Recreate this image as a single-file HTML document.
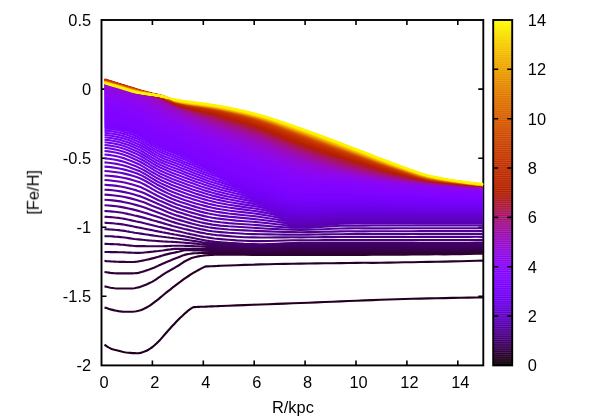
<!DOCTYPE html>
<html><head><meta charset="utf-8"><title>plot</title>
<style>
html,body{margin:0;padding:0;background:#fff;}
svg{display:block;}
text{font-family:"Liberation Sans",sans-serif;font-size:16.4px;fill:#000;}
</style></head><body>
<svg width="598" height="419" viewBox="0 0 598 419">
<rect x="0" y="0" width="598" height="419" fill="#fff"/>

<g stroke="#000" stroke-width="1.9" fill="none" stroke-linecap="butt">
<rect x="101.5" y="20.0" width="381.8" height="345.4"/>
<path stroke-width="1.6" d="M152.4 365.4v-5M152.4 20.0v5"/>
<path stroke-width="1.6" d="M203.3 365.4v-5M203.3 20.0v5"/>
<path stroke-width="1.6" d="M254.2 365.4v-5M254.2 20.0v5"/>
<path stroke-width="1.6" d="M305.1 365.4v-5M305.1 20.0v5"/>
<path stroke-width="1.6" d="M356.0 365.4v-5M356.0 20.0v5"/>
<path stroke-width="1.6" d="M406.9 365.4v-5M406.9 20.0v5"/>
<path stroke-width="1.6" d="M457.8 365.4v-5M457.8 20.0v5"/>
<path stroke-width="1.6" d="M101.5 89.1h5M483.3 89.1h-5"/>
<path stroke-width="1.6" d="M101.5 158.2h5M483.3 158.2h-5"/>
<path stroke-width="1.6" d="M101.5 227.2h5M483.3 227.2h-5"/>
<path stroke-width="1.6" d="M101.5 296.3h5M483.3 296.3h-5"/>
</g>
<defs><clipPath id="cp"><polygon points="103,78.89 104.5,78.89 106.5,79.51 108.5,80.13 110.5,80.75 112.5,81.37 114.5,81.99 116.5,82.61 118.5,83.22 120.5,83.85 122.5,84.47 124.5,85.09 126.5,85.71 128.5,86.33 130.5,86.95 132.5,87.57 134.5,88.18 136.5,88.79 138.5,89.40 140.5,89.99 142.5,90.56 144.5,91.13 146.5,91.69 148.5,92.20 150.5,92.71 152.5,93.19 154.5,93.57 156.5,93.92 158.5,94.32 160.5,94.77 162.5,95.35 164.5,96.04 166.5,96.80 168.5,97.57 170.5,98.26 172.5,98.62 174.5,98.97 176.5,99.31 178.5,99.63 180.5,99.94 182.5,100.24 184.5,100.53 186.5,100.81 188.5,101.09 190.5,101.36 192.5,101.62 194.5,101.88 196.5,102.14 198.5,102.40 200.5,102.66 202.5,102.93 204.5,103.20 206.5,103.48 208.5,103.76 210.5,104.05 212.5,104.35 214.5,104.67 216.5,104.99 218.5,105.34 220.5,105.69 222.5,106.05 224.5,106.43 226.5,106.81 228.5,107.21 230.5,107.61 232.5,108.02 234.5,108.44 236.5,108.87 238.5,109.31 240.5,109.76 242.5,110.22 244.5,110.69 246.5,111.16 248.5,111.65 250.5,112.14 252.5,112.64 254.5,113.14 256.5,113.66 258.5,114.18 260.5,114.72 262.5,115.28 264.5,115.86 266.5,116.45 268.5,117.06 270.5,117.68 272.5,118.32 274.5,118.97 276.5,119.62 278.5,120.29 280.5,120.97 282.5,121.65 284.5,122.34 286.5,123.03 288.5,123.73 290.5,124.43 292.5,125.13 294.5,125.83 296.5,126.53 298.5,127.23 300.5,127.92 302.5,128.62 304.5,129.32 306.5,130.03 308.5,130.75 310.5,131.47 312.5,132.19 314.5,132.92 316.5,133.66 318.5,134.39 320.5,135.14 322.5,135.88 324.5,136.63 326.5,137.38 328.5,138.13 330.5,138.88 332.5,139.64 334.5,140.39 336.5,141.15 338.5,141.91 340.5,142.66 342.5,143.42 344.5,144.18 346.5,144.93 348.5,145.69 350.5,146.44 352.5,147.19 354.5,147.96 356.5,148.72 358.5,149.49 360.5,150.27 362.5,151.05 364.5,151.82 366.5,152.61 368.5,153.39 370.5,154.17 372.5,154.95 374.5,155.74 376.5,156.52 378.5,157.29 380.5,158.07 382.5,158.84 384.5,159.61 386.5,160.37 388.5,161.13 390.5,161.88 392.5,162.63 394.5,163.36 396.5,164.09 398.5,164.81 400.5,165.53 402.5,166.25 404.5,166.98 406.5,167.72 408.5,168.46 410.5,169.20 412.5,169.93 414.5,170.66 416.5,171.36 418.5,172.05 420.5,172.71 422.5,173.35 424.5,173.95 426.5,174.51 428.5,175.04 430.5,175.52 432.5,175.97 434.5,176.40 436.5,176.82 438.5,177.22 440.5,177.61 442.5,177.98 444.5,178.34 446.5,178.68 448.5,179.01 450.5,179.34 452.5,179.65 454.5,179.95 456.5,180.25 458.5,180.54 460.5,180.82 462.5,181.09 464.5,181.36 466.5,181.62 468.5,181.88 470.5,182.12 472.5,182.36 474.5,182.59 476.5,182.81 478.5,183.02 480.5,183.22 482.5,183.41 483.0,183.46 485,183.46 485,372 103,372"/></clipPath><clipPath id="cp2"><polygon points="103,0 485,0 485,372 172.5,372 172.5,99.52 170.5,99.16 168.5,98.80 166.5,98.43 164.5,98.06 162.5,97.70 160.5,97.34 158.5,96.99 156.5,96.65 154.5,96.32 152.5,95.99 150.5,95.67 148.5,95.33 146.5,94.99 144.5,94.64 142.5,94.27 140.5,93.88 138.5,93.46 136.5,93.00 134.5,92.50 132.5,91.96 130.5,91.39 128.5,90.79 126.5,90.18 124.5,89.56 122.5,88.94 120.5,88.33 118.5,87.74 116.5,87.16 114.5,86.58 112.5,86.00 110.5,85.43 108.5,84.85 106.5,84.27 104.5,83.69 103,83.69"/></clipPath><linearGradient id="eg" gradientUnits="userSpaceOnUse" x1="104.5" y1="0" x2="173.1" y2="0"><stop offset="0.0000" stop-color="#b92500"/><stop offset="0.6050" stop-color="#bc2800"/><stop offset="0.7070" stop-color="#ca3e00"/><stop offset="0.8090" stop-color="#e07600"/><stop offset="1.0000" stop-color="#fdf400"/></linearGradient></defs>

<g fill="none" stroke-width="2.15" stroke-linejoin="round" stroke-linecap="butt">
<g clip-path="url(#cp)">
<g stroke="none"><polygon points="206.5,254.1 209.5,253.6 212.5,252.9 215.5,252.9 218.5,252.9 221.5,252.9 224.5,252.9 227.5,252.9 230.5,253.0 233.5,253.0 236.5,253.1 239.5,253.1 242.5,253.2 245.5,253.2 248.5,253.2 251.5,253.3 254.5,253.3 257.5,253.3 260.5,253.3 263.5,253.3 266.5,253.3 269.5,253.3 272.5,253.2 275.5,253.2 278.5,253.2 281.5,253.2 284.5,253.2 287.5,253.1 290.5,253.1 293.5,253.1 296.5,253.1 299.5,253.1 302.5,253.1 305.5,253.1 308.5,253.1 311.5,253.1 314.5,253.1 317.5,253.1 320.5,253.1 323.5,253.1 326.5,253.1 329.5,253.1 332.5,253.1 335.5,253.1 338.5,253.1 341.5,253.1 344.5,253.1 347.5,253.1 350.5,253.1 353.5,253.1 356.5,253.1 359.5,253.1 362.5,253.1 365.5,253.1 368.5,253.0 371.5,253.0 374.5,253.0 377.5,253.0 380.5,253.0 383.5,253.0 386.5,253.0 389.5,253.0 392.5,252.9 395.5,252.9 398.5,252.9 401.5,252.9 404.5,252.9 407.5,252.9 410.5,252.9 413.5,252.8 416.5,252.8 419.5,252.8 422.5,252.8 425.5,252.8 428.5,252.7 431.5,252.7 434.5,252.7 437.5,252.7 440.5,252.7 443.5,252.6 446.5,252.6 449.5,252.6 452.5,252.5 455.5,252.5 458.5,252.5 461.5,252.5 464.5,252.4 467.5,252.4 470.5,252.3 473.5,252.3 476.5,252.2 479.5,252.2 482.5,252.1 483.0,252.1 483.0,253.7 482.5,253.7 479.5,253.8 476.5,253.8 473.5,253.9 470.5,253.9 467.5,254.0 464.5,254.0 461.5,254.1 458.5,254.1 455.5,254.2 452.5,254.2 449.5,254.2 446.5,254.3 443.5,254.3 440.5,254.3 437.5,254.3 434.5,254.4 431.5,254.4 428.5,254.4 425.5,254.4 422.5,254.5 419.5,254.5 416.5,254.5 413.5,254.5 410.5,254.5 407.5,254.6 404.5,254.6 401.5,254.6 398.5,254.6 395.5,254.6 392.5,254.6 389.5,254.7 386.5,254.7 383.5,254.7 380.5,254.7 377.5,254.7 374.5,254.7 371.5,254.7 368.5,254.8 365.5,254.8 362.5,254.8 359.5,254.8 356.5,254.8 353.5,254.8 350.5,254.8 347.5,254.8 344.5,254.8 341.5,254.8 338.5,254.8 335.5,254.8 332.5,254.8 329.5,254.8 326.5,254.8 323.5,254.8 320.5,254.8 317.5,254.8 314.5,254.8 311.5,254.8 308.5,254.8 305.5,254.8 302.5,254.8 299.5,254.8 296.5,254.8 293.5,254.8 290.5,254.8 287.5,254.8 284.5,254.8 281.5,254.8 278.5,254.8 275.5,254.8 272.5,254.8 269.5,254.8 266.5,254.8 263.5,254.8 260.5,254.8 257.5,254.8 254.5,254.8 251.5,254.8 248.5,254.8 245.5,254.8 242.5,254.8 239.5,254.8 236.5,254.7 233.5,254.7 230.5,254.7 227.5,254.7 224.5,254.7 221.5,254.7 218.5,254.7 215.5,254.7 212.5,254.8 209.5,254.3 206.5,254.1" fill="#300038"/>
<polygon points="203.5,251.8 206.5,251.6 209.5,251.2 212.5,251.0 215.5,251.0 218.5,251.1 221.5,251.1 224.5,251.2 227.5,251.3 230.5,251.4 233.5,251.4 236.5,251.5 239.5,251.6 242.5,251.6 245.5,251.7 248.5,251.7 251.5,251.7 254.5,251.8 257.5,251.8 260.5,251.8 263.5,251.8 266.5,251.7 269.5,251.7 272.5,251.7 275.5,251.6 278.5,251.6 281.5,251.6 284.5,251.5 287.5,251.5 290.5,251.5 293.5,251.4 296.5,251.4 299.5,251.4 302.5,251.4 305.5,251.4 308.5,251.4 311.5,251.4 314.5,251.4 317.5,251.4 320.5,251.4 323.5,251.4 326.5,251.4 329.5,251.4 332.5,251.4 335.5,251.4 338.5,251.4 341.5,251.4 344.5,251.4 347.5,251.4 350.5,251.4 353.5,251.4 356.5,251.4 359.5,251.4 362.5,251.4 365.5,251.3 368.5,251.3 371.5,251.3 374.5,251.3 377.5,251.3 380.5,251.3 383.5,251.3 386.5,251.3 389.5,251.3 392.5,251.3 395.5,251.2 398.5,251.2 401.5,251.2 404.5,251.2 407.5,251.2 410.5,251.2 413.5,251.2 416.5,251.1 419.5,251.1 422.5,251.1 425.5,251.1 428.5,251.1 431.5,251.0 434.5,251.0 437.5,251.0 440.5,251.0 443.5,251.0 446.5,251.0 449.5,250.9 452.5,250.9 455.5,250.9 458.5,250.9 461.5,250.8 464.5,250.8 467.5,250.8 470.5,250.7 473.5,250.7 476.5,250.6 479.5,250.6 482.5,250.6 483.0,250.5 483.0,252.1 482.5,252.1 479.5,252.2 476.5,252.2 473.5,252.3 470.5,252.3 467.5,252.4 464.5,252.4 461.5,252.5 458.5,252.5 455.5,252.5 452.5,252.5 449.5,252.6 446.5,252.6 443.5,252.6 440.5,252.7 437.5,252.7 434.5,252.7 431.5,252.7 428.5,252.7 425.5,252.8 422.5,252.8 419.5,252.8 416.5,252.8 413.5,252.8 410.5,252.9 407.5,252.9 404.5,252.9 401.5,252.9 398.5,252.9 395.5,252.9 392.5,252.9 389.5,253.0 386.5,253.0 383.5,253.0 380.5,253.0 377.5,253.0 374.5,253.0 371.5,253.0 368.5,253.0 365.5,253.1 362.5,253.1 359.5,253.1 356.5,253.1 353.5,253.1 350.5,253.1 347.5,253.1 344.5,253.1 341.5,253.1 338.5,253.1 335.5,253.1 332.5,253.1 329.5,253.1 326.5,253.1 323.5,253.1 320.5,253.1 317.5,253.1 314.5,253.1 311.5,253.1 308.5,253.1 305.5,253.1 302.5,253.1 299.5,253.1 296.5,253.1 293.5,253.1 290.5,253.1 287.5,253.1 284.5,253.2 281.5,253.2 278.5,253.2 275.5,253.2 272.5,253.2 269.5,253.3 266.5,253.3 263.5,253.3 260.5,253.3 257.5,253.3 254.5,253.3 251.5,253.3 248.5,253.2 245.5,253.2 242.5,253.2 239.5,253.1 236.5,253.1 233.5,253.0 230.5,253.0 227.5,252.9 224.5,252.9 221.5,252.9 218.5,252.9 215.5,252.9 212.5,252.8 209.5,252.5 206.5,252.0 203.5,251.8" fill="#340041"/>
<polygon points="179.5,250.1 182.5,248.8 185.5,248.8 188.5,248.8 191.5,248.9 194.5,248.9 197.5,248.9 200.5,249.0 203.5,249.0 206.5,249.1 209.5,249.1 212.5,249.2 215.5,249.2 218.5,249.3 221.5,249.3 224.5,249.4 227.5,249.5 230.5,249.6 233.5,249.7 236.5,249.8 239.5,249.9 242.5,250.0 245.5,250.1 248.5,250.1 251.5,250.2 254.5,250.2 257.5,250.3 260.5,250.3 263.5,250.2 266.5,250.2 269.5,250.2 272.5,250.1 275.5,250.1 278.5,250.0 281.5,249.9 284.5,249.9 287.5,249.8 290.5,249.8 293.5,249.7 296.5,249.7 299.5,249.7 302.5,249.7 305.5,249.7 308.5,249.7 311.5,249.7 314.5,249.7 317.5,249.7 320.5,249.7 323.5,249.7 326.5,249.7 329.5,249.7 332.5,249.7 335.5,249.7 338.5,249.7 341.5,249.7 344.5,249.7 347.5,249.7 350.5,249.7 353.5,249.7 356.5,249.6 359.5,249.6 362.5,249.6 365.5,249.6 368.5,249.6 371.5,249.6 374.5,249.6 377.5,249.6 380.5,249.6 383.5,249.6 386.5,249.6 389.5,249.6 392.5,249.6 395.5,249.6 398.5,249.5 401.5,249.5 404.5,249.5 407.5,249.5 410.5,249.5 413.5,249.5 416.5,249.5 419.5,249.4 422.5,249.4 425.5,249.4 428.5,249.4 431.5,249.4 434.5,249.4 437.5,249.3 440.5,249.3 443.5,249.3 446.5,249.3 449.5,249.3 452.5,249.3 455.5,249.2 458.5,249.2 461.5,249.2 464.5,249.2 467.5,249.1 470.5,249.1 473.5,249.1 476.5,249.0 479.5,249.0 482.5,249.0 483.0,249.0 483.0,250.5 482.5,250.6 479.5,250.6 476.5,250.6 473.5,250.7 470.5,250.7 467.5,250.8 464.5,250.8 461.5,250.8 458.5,250.9 455.5,250.9 452.5,250.9 449.5,250.9 446.5,251.0 443.5,251.0 440.5,251.0 437.5,251.0 434.5,251.0 431.5,251.0 428.5,251.1 425.5,251.1 422.5,251.1 419.5,251.1 416.5,251.1 413.5,251.2 410.5,251.2 407.5,251.2 404.5,251.2 401.5,251.2 398.5,251.2 395.5,251.2 392.5,251.3 389.5,251.3 386.5,251.3 383.5,251.3 380.5,251.3 377.5,251.3 374.5,251.3 371.5,251.3 368.5,251.3 365.5,251.3 362.5,251.4 359.5,251.4 356.5,251.4 353.5,251.4 350.5,251.4 347.5,251.4 344.5,251.4 341.5,251.4 338.5,251.4 335.5,251.4 332.5,251.4 329.5,251.4 326.5,251.4 323.5,251.4 320.5,251.4 317.5,251.4 314.5,251.4 311.5,251.4 308.5,251.4 305.5,251.4 302.5,251.4 299.5,251.4 296.5,251.4 293.5,251.4 290.5,251.5 287.5,251.5 284.5,251.5 281.5,251.6 278.5,251.6 275.5,251.6 272.5,251.7 269.5,251.7 266.5,251.7 263.5,251.8 260.5,251.8 257.5,251.8 254.5,251.8 251.5,251.7 248.5,251.7 245.5,251.7 242.5,251.6 239.5,251.6 236.5,251.5 233.5,251.4 230.5,251.4 227.5,251.3 224.5,251.2 221.5,251.1 218.5,251.1 215.5,251.0 212.5,250.9 209.5,250.8 206.5,250.7 203.5,250.6 200.5,250.5 197.5,250.4 194.5,250.3 191.5,250.3 188.5,250.2 185.5,250.2 182.5,250.7 179.5,250.1" fill="#37004a"/>
<polygon points="203.5,247.9 206.5,247.8 209.5,247.5 212.5,247.3 215.5,247.3 218.5,247.5 221.5,247.6 224.5,247.7 227.5,247.8 230.5,248.0 233.5,248.1 236.5,248.2 239.5,248.3 242.5,248.4 245.5,248.5 248.5,248.6 251.5,248.7 254.5,248.7 257.5,248.7 260.5,248.7 263.5,248.7 266.5,248.7 269.5,248.6 272.5,248.5 275.5,248.5 278.5,248.4 281.5,248.3 284.5,248.2 287.5,248.2 290.5,248.1 293.5,248.1 296.5,248.0 299.5,248.0 302.5,248.0 305.5,248.0 308.5,248.0 311.5,248.0 314.5,248.0 317.5,248.0 320.5,248.0 323.5,248.0 326.5,248.0 329.5,248.0 332.5,248.0 335.5,248.0 338.5,248.0 341.5,248.0 344.5,247.9 347.5,247.9 350.5,247.9 353.5,247.9 356.5,247.9 359.5,247.9 362.5,247.9 365.5,247.9 368.5,247.9 371.5,247.9 374.5,247.9 377.5,247.9 380.5,247.9 383.5,247.9 386.5,247.9 389.5,247.9 392.5,247.9 395.5,247.9 398.5,247.9 401.5,247.9 404.5,247.8 407.5,247.8 410.5,247.8 413.5,247.8 416.5,247.8 419.5,247.8 422.5,247.8 425.5,247.7 428.5,247.7 431.5,247.7 434.5,247.7 437.5,247.7 440.5,247.7 443.5,247.7 446.5,247.6 449.5,247.6 452.5,247.6 455.5,247.6 458.5,247.6 461.5,247.6 464.5,247.6 467.5,247.5 470.5,247.5 473.5,247.5 476.5,247.4 479.5,247.4 482.5,247.4 483.0,247.4 483.0,249.0 482.5,249.0 479.5,249.0 476.5,249.0 473.5,249.1 470.5,249.1 467.5,249.1 464.5,249.2 461.5,249.2 458.5,249.2 455.5,249.2 452.5,249.3 449.5,249.3 446.5,249.3 443.5,249.3 440.5,249.3 437.5,249.3 434.5,249.4 431.5,249.4 428.5,249.4 425.5,249.4 422.5,249.4 419.5,249.4 416.5,249.5 413.5,249.5 410.5,249.5 407.5,249.5 404.5,249.5 401.5,249.5 398.5,249.5 395.5,249.6 392.5,249.6 389.5,249.6 386.5,249.6 383.5,249.6 380.5,249.6 377.5,249.6 374.5,249.6 371.5,249.6 368.5,249.6 365.5,249.6 362.5,249.6 359.5,249.6 356.5,249.6 353.5,249.7 350.5,249.7 347.5,249.7 344.5,249.7 341.5,249.7 338.5,249.7 335.5,249.7 332.5,249.7 329.5,249.7 326.5,249.7 323.5,249.7 320.5,249.7 317.5,249.7 314.5,249.7 311.5,249.7 308.5,249.7 305.5,249.7 302.5,249.7 299.5,249.7 296.5,249.7 293.5,249.7 290.5,249.8 287.5,249.8 284.5,249.9 281.5,249.9 278.5,250.0 275.5,250.1 272.5,250.1 269.5,250.2 266.5,250.2 263.5,250.2 260.5,250.3 257.5,250.3 254.5,250.2 251.5,250.2 248.5,250.1 245.5,250.1 242.5,250.0 239.5,249.9 236.5,249.8 233.5,249.7 230.5,249.6 227.5,249.5 224.5,249.4 221.5,249.3 218.5,249.3 215.5,249.2 212.5,249.1 209.5,248.7 206.5,248.2 203.5,247.9" fill="#3b0053"/>
<polygon points="200.5,245.4 203.5,245.4 206.5,245.3 209.5,245.2 212.5,245.3 215.5,245.5 218.5,245.7 221.5,245.8 224.5,246.0 227.5,246.2 230.5,246.3 233.5,246.5 236.5,246.6 239.5,246.8 242.5,246.9 245.5,247.0 248.5,247.1 251.5,247.2 254.5,247.2 257.5,247.2 260.5,247.2 263.5,247.2 266.5,247.1 269.5,247.1 272.5,247.0 275.5,246.9 278.5,246.8 281.5,246.7 284.5,246.6 287.5,246.5 290.5,246.4 293.5,246.4 296.5,246.3 299.5,246.3 302.5,246.3 305.5,246.3 308.5,246.3 311.5,246.3 314.5,246.3 317.5,246.3 320.5,246.3 323.5,246.3 326.5,246.3 329.5,246.3 332.5,246.2 335.5,246.2 338.5,246.2 341.5,246.2 344.5,246.2 347.5,246.2 350.5,246.2 353.5,246.2 356.5,246.2 359.5,246.2 362.5,246.2 365.5,246.2 368.5,246.2 371.5,246.2 374.5,246.2 377.5,246.2 380.5,246.2 383.5,246.2 386.5,246.2 389.5,246.2 392.5,246.2 395.5,246.2 398.5,246.2 401.5,246.2 404.5,246.2 407.5,246.1 410.5,246.1 413.5,246.1 416.5,246.1 419.5,246.1 422.5,246.1 425.5,246.1 428.5,246.0 431.5,246.0 434.5,246.0 437.5,246.0 440.5,246.0 443.5,246.0 446.5,246.0 449.5,246.0 452.5,246.0 455.5,246.0 458.5,246.0 461.5,246.0 464.5,245.9 467.5,245.9 470.5,245.9 473.5,245.9 476.5,245.8 479.5,245.8 482.5,245.8 483.0,245.8 483.0,247.4 482.5,247.4 479.5,247.4 476.5,247.4 473.5,247.5 470.5,247.5 467.5,247.5 464.5,247.6 461.5,247.6 458.5,247.6 455.5,247.6 452.5,247.6 449.5,247.6 446.5,247.6 443.5,247.7 440.5,247.7 437.5,247.7 434.5,247.7 431.5,247.7 428.5,247.7 425.5,247.7 422.5,247.8 419.5,247.8 416.5,247.8 413.5,247.8 410.5,247.8 407.5,247.8 404.5,247.8 401.5,247.9 398.5,247.9 395.5,247.9 392.5,247.9 389.5,247.9 386.5,247.9 383.5,247.9 380.5,247.9 377.5,247.9 374.5,247.9 371.5,247.9 368.5,247.9 365.5,247.9 362.5,247.9 359.5,247.9 356.5,247.9 353.5,247.9 350.5,247.9 347.5,247.9 344.5,247.9 341.5,248.0 338.5,248.0 335.5,248.0 332.5,248.0 329.5,248.0 326.5,248.0 323.5,248.0 320.5,248.0 317.5,248.0 314.5,248.0 311.5,248.0 308.5,248.0 305.5,248.0 302.5,248.0 299.5,248.0 296.5,248.0 293.5,248.1 290.5,248.1 287.5,248.2 284.5,248.2 281.5,248.3 278.5,248.4 275.5,248.5 272.5,248.5 269.5,248.6 266.5,248.7 263.5,248.7 260.5,248.7 257.5,248.7 254.5,248.7 251.5,248.7 248.5,248.6 245.5,248.5 242.5,248.4 239.5,248.3 236.5,248.2 233.5,248.1 230.5,248.0 227.5,247.8 224.5,247.7 221.5,247.6 218.5,247.5 215.5,247.3 212.5,247.2 209.5,246.8 206.5,246.4 203.5,245.8 200.5,245.4" fill="#3e005c"/>
<polygon points="197.5,242.7 200.5,243.1 203.5,242.9 206.5,242.9 209.5,243.2 212.5,243.5 215.5,243.8 218.5,244.0 221.5,244.2 224.5,244.4 227.5,244.6 230.5,244.8 233.5,245.0 236.5,245.2 239.5,245.3 242.5,245.5 245.5,245.6 248.5,245.7 251.5,245.8 254.5,245.8 257.5,245.9 260.5,245.8 263.5,245.8 266.5,245.7 269.5,245.7 272.5,245.6 275.5,245.4 278.5,245.3 281.5,245.2 284.5,245.1 287.5,245.0 290.5,244.9 293.5,244.8 296.5,244.7 299.5,244.7 302.5,244.7 305.5,244.7 308.5,244.7 311.5,244.7 314.5,244.7 317.5,244.7 320.5,244.7 323.5,244.7 326.5,244.6 329.5,244.6 332.5,244.6 335.5,244.6 338.5,244.6 341.5,244.6 344.5,244.6 347.5,244.6 350.5,244.6 353.5,244.6 356.5,244.6 359.5,244.6 362.5,244.6 365.5,244.6 368.5,244.6 371.5,244.6 374.5,244.6 377.5,244.6 380.5,244.6 383.5,244.6 386.5,244.6 389.5,244.6 392.5,244.6 395.5,244.6 398.5,244.6 401.5,244.6 404.5,244.6 407.5,244.6 410.5,244.6 413.5,244.6 416.5,244.5 419.5,244.5 422.5,244.5 425.5,244.5 428.5,244.5 431.5,244.5 434.5,244.5 437.5,244.5 440.5,244.5 443.5,244.5 446.5,244.5 449.5,244.5 452.5,244.5 455.5,244.5 458.5,244.4 461.5,244.4 464.5,244.4 467.5,244.4 470.5,244.4 473.5,244.4 476.5,244.4 479.5,244.3 482.5,244.3 483.0,244.3 483.0,245.8 482.5,245.8 479.5,245.8 476.5,245.8 473.5,245.9 470.5,245.9 467.5,245.9 464.5,245.9 461.5,246.0 458.5,246.0 455.5,246.0 452.5,246.0 449.5,246.0 446.5,246.0 443.5,246.0 440.5,246.0 437.5,246.0 434.5,246.0 431.5,246.0 428.5,246.0 425.5,246.1 422.5,246.1 419.5,246.1 416.5,246.1 413.5,246.1 410.5,246.1 407.5,246.1 404.5,246.2 401.5,246.2 398.5,246.2 395.5,246.2 392.5,246.2 389.5,246.2 386.5,246.2 383.5,246.2 380.5,246.2 377.5,246.2 374.5,246.2 371.5,246.2 368.5,246.2 365.5,246.2 362.5,246.2 359.5,246.2 356.5,246.2 353.5,246.2 350.5,246.2 347.5,246.2 344.5,246.2 341.5,246.2 338.5,246.2 335.5,246.2 332.5,246.2 329.5,246.3 326.5,246.3 323.5,246.3 320.5,246.3 317.5,246.3 314.5,246.3 311.5,246.3 308.5,246.3 305.5,246.3 302.5,246.3 299.5,246.3 296.5,246.3 293.5,246.4 290.5,246.4 287.5,246.5 284.5,246.6 281.5,246.7 278.5,246.8 275.5,246.9 272.5,247.0 269.5,247.1 266.5,247.1 263.5,247.2 260.5,247.2 257.5,247.2 254.5,247.2 251.5,247.2 248.5,247.1 245.5,247.0 242.5,246.9 239.5,246.8 236.5,246.6 233.5,246.5 230.5,246.3 227.5,246.2 224.5,246.0 221.5,245.8 218.5,245.7 215.5,245.5 212.5,245.3 209.5,245.0 206.5,244.7 203.5,244.0 200.5,243.1 197.5,242.7" fill="#410065"/>
<polygon points="203.5,241.2 206.5,241.6 209.5,241.7 212.5,241.8 215.5,241.9 218.5,242.0 221.5,242.3 224.5,242.5 227.5,242.8 230.5,243.0 233.5,243.2 236.5,243.4 239.5,243.6 242.5,243.8 245.5,243.9 248.5,244.0 251.5,244.1 254.5,244.2 257.5,244.2 260.5,244.2 263.5,244.1 266.5,244.1 269.5,244.0 272.5,243.9 275.5,243.7 278.5,243.6 281.5,243.5 284.5,243.3 287.5,243.2 290.5,243.1 293.5,243.0 296.5,242.9 299.5,242.9 302.5,242.9 305.5,242.9 308.5,242.9 311.5,242.9 314.5,242.9 317.5,242.8 320.5,242.8 323.5,242.8 326.5,242.8 329.5,242.8 332.5,242.8 335.5,242.8 338.5,242.8 341.5,242.8 344.5,242.8 347.5,242.8 350.5,242.8 353.5,242.8 356.5,242.8 359.5,242.8 362.5,242.8 365.5,242.8 368.5,242.8 371.5,242.8 374.5,242.8 377.5,242.8 380.5,242.8 383.5,242.8 386.5,242.8 389.5,242.8 392.5,242.8 395.5,242.8 398.5,242.8 401.5,242.8 404.5,242.8 407.5,242.8 410.5,242.8 413.5,242.8 416.5,242.7 419.5,242.7 422.5,242.7 425.5,242.7 428.5,242.7 431.5,242.7 434.5,242.7 437.5,242.7 440.5,242.7 443.5,242.7 446.5,242.7 449.5,242.7 452.5,242.7 455.5,242.7 458.5,242.7 461.5,242.7 464.5,242.7 467.5,242.7 470.5,242.7 473.5,242.7 476.5,242.6 479.5,242.6 482.5,242.6 483.0,242.6 483.0,244.3 482.5,244.3 479.5,244.3 476.5,244.4 473.5,244.4 470.5,244.4 467.5,244.4 464.5,244.4 461.5,244.4 458.5,244.4 455.5,244.5 452.5,244.5 449.5,244.5 446.5,244.5 443.5,244.5 440.5,244.5 437.5,244.5 434.5,244.5 431.5,244.5 428.5,244.5 425.5,244.5 422.5,244.5 419.5,244.5 416.5,244.5 413.5,244.6 410.5,244.6 407.5,244.6 404.5,244.6 401.5,244.6 398.5,244.6 395.5,244.6 392.5,244.6 389.5,244.6 386.5,244.6 383.5,244.6 380.5,244.6 377.5,244.6 374.5,244.6 371.5,244.6 368.5,244.6 365.5,244.6 362.5,244.6 359.5,244.6 356.5,244.6 353.5,244.6 350.5,244.6 347.5,244.6 344.5,244.6 341.5,244.6 338.5,244.6 335.5,244.6 332.5,244.6 329.5,244.6 326.5,244.6 323.5,244.7 320.5,244.7 317.5,244.7 314.5,244.7 311.5,244.7 308.5,244.7 305.5,244.7 302.5,244.7 299.5,244.7 296.5,244.7 293.5,244.8 290.5,244.9 287.5,245.0 284.5,245.1 281.5,245.2 278.5,245.3 275.5,245.4 272.5,245.6 269.5,245.7 266.5,245.7 263.5,245.8 260.5,245.8 257.5,245.9 254.5,245.8 251.5,245.8 248.5,245.7 245.5,245.6 242.5,245.5 239.5,245.3 236.5,245.2 233.5,245.0 230.5,244.8 227.5,244.6 224.5,244.4 221.5,244.2 218.5,244.0 215.5,243.6 212.5,243.1 209.5,242.5 206.5,241.7 203.5,241.2" fill="#44006f"/>
<polygon points="284.5,228.4 287.5,228.5 290.5,228.5 293.5,228.5 296.5,228.4 299.5,228.4 302.5,228.4 305.5,228.4 308.5,228.5 311.5,228.5 314.5,228.5 314.5,228.5 311.5,228.8 308.5,229.0 305.5,229.2 302.5,229.3 299.5,229.3 296.5,229.2 293.5,229.1 290.5,228.9 287.5,228.6 284.5,228.4" fill="#5600a8"/>
<polygon points="281.5,225.9 284.5,226.0 287.5,226.0 290.5,226.0 293.5,226.0 296.5,226.0 299.5,226.0 302.5,226.0 305.5,225.9 308.5,225.9 311.5,225.8 314.5,225.7 317.5,225.5 320.5,225.4 323.5,225.3 326.5,225.1 329.5,225.0 332.5,224.9 335.5,224.8 338.5,224.7 341.5,224.6 344.5,224.5 347.5,224.5 350.5,224.5 353.5,224.4 356.5,224.4 359.5,224.4 362.5,224.4 365.5,224.4 368.5,224.4 371.5,224.4 374.5,224.4 377.5,224.4 380.5,224.4 383.5,224.4 386.5,224.4 389.5,224.4 392.5,224.4 395.5,224.4 398.5,224.4 401.5,224.4 404.5,224.4 407.5,224.4 410.5,224.4 413.5,224.4 416.5,224.3 419.5,224.3 422.5,224.3 425.5,224.3 428.5,224.3 431.5,224.3 434.5,224.3 437.5,224.3 440.5,224.3 443.5,224.3 446.5,224.3 449.5,224.3 452.5,224.3 455.5,224.3 458.5,224.3 461.5,224.3 464.5,224.3 467.5,224.3 470.5,224.3 473.5,224.3 476.5,224.3 479.5,224.3 482.5,224.3 483.0,224.3 483.0,224.4 482.5,224.4 479.5,224.4 476.5,224.4 473.5,224.4 470.5,224.4 467.5,224.4 464.5,224.4 461.5,224.4 458.5,224.4 455.5,224.4 452.5,224.4 449.5,224.4 446.5,224.4 443.5,224.4 440.5,224.4 437.5,224.4 434.5,224.4 431.5,224.4 428.5,224.4 425.5,224.4 422.5,224.4 419.5,224.4 416.5,224.4 413.5,224.4 410.5,224.4 407.5,224.4 404.5,224.4 401.5,224.4 398.5,224.4 395.5,224.4 392.5,224.4 389.5,224.4 386.5,224.4 383.5,224.4 380.5,224.4 377.5,224.4 374.5,224.4 371.5,224.4 368.5,224.4 365.5,224.4 362.5,224.5 359.5,224.5 356.5,224.5 353.5,224.5 350.5,224.5 347.5,224.5 344.5,224.6 341.5,224.8 338.5,225.0 335.5,225.2 332.5,225.4 329.5,225.7 326.5,226.0 323.5,226.2 320.5,226.5 317.5,226.8 314.5,227.0 311.5,227.2 308.5,227.4 305.5,227.5 302.5,227.6 299.5,227.6 296.5,227.6 293.5,227.4 290.5,227.1 287.5,226.7 284.5,226.2 281.5,225.9" fill="#5900b0"/>
<polygon points="278.5,223.3 281.5,223.6 284.5,223.6 287.5,223.7 290.5,223.7 293.5,223.7 296.5,223.8 299.5,223.9 302.5,223.9 305.5,223.8 308.5,223.7 311.5,223.5 314.5,223.4 317.5,223.2 320.5,223.0 323.5,222.8 326.5,222.6 329.5,222.4 332.5,222.2 335.5,222.1 338.5,221.9 341.5,221.8 344.5,221.7 347.5,221.6 350.5,221.6 353.5,221.6 356.5,221.5 359.5,221.5 362.5,221.5 365.5,221.5 368.5,221.5 371.5,221.5 374.5,221.5 377.5,221.5 380.5,221.5 383.5,221.5 386.5,221.5 389.5,221.5 392.5,221.5 395.5,221.5 398.5,221.5 401.5,221.5 404.5,221.5 407.5,221.5 410.5,221.5 413.5,221.5 416.5,221.5 419.5,221.5 422.5,221.5 425.5,221.5 428.5,221.5 431.5,221.5 434.5,221.5 437.5,221.5 440.5,221.5 443.5,221.5 446.5,221.5 449.5,221.5 452.5,221.5 455.5,221.5 458.5,221.5 461.5,221.4 464.5,221.4 467.5,221.5 470.5,221.5 473.5,221.5 476.5,221.5 479.5,221.5 482.5,221.5 483.0,221.5 483.0,223.1 482.5,223.1 479.5,223.1 476.5,223.1 473.5,223.1 470.5,223.1 467.5,223.1 464.5,223.1 461.5,223.1 458.5,223.1 455.5,223.1 452.5,223.1 449.5,223.1 446.5,223.1 443.5,223.1 440.5,223.1 437.5,223.0 434.5,223.0 431.5,223.0 428.5,223.0 425.5,223.0 422.5,223.0 419.5,223.0 416.5,223.0 413.5,223.0 410.5,223.0 407.5,223.0 404.5,223.0 401.5,223.0 398.5,223.0 395.5,223.0 392.5,223.0 389.5,223.0 386.5,223.0 383.5,223.1 380.5,223.1 377.5,223.1 374.5,223.1 371.5,223.1 368.5,223.1 365.5,223.1 362.5,223.1 359.5,223.1 356.5,223.1 353.5,223.1 350.5,223.1 347.5,223.1 344.5,223.2 341.5,223.3 338.5,223.5 335.5,223.7 332.5,223.9 329.5,224.1 326.5,224.4 323.5,224.6 320.5,224.9 317.5,225.1 314.5,225.3 311.5,225.5 308.5,225.6 305.5,225.7 302.5,225.8 299.5,225.8 296.5,225.8 293.5,225.6 290.5,225.2 287.5,224.8 284.5,224.3 281.5,223.7 278.5,223.3" fill="#5c01b9"/>
<polygon points="278.5,221.0 281.5,221.2 284.5,221.3 287.5,221.5 290.5,221.6 293.5,221.7 296.5,221.9 299.5,222.0 302.5,221.9 305.5,221.9 308.5,221.8 311.5,221.6 314.5,221.4 317.5,221.3 320.5,221.0 323.5,220.8 326.5,220.6 329.5,220.4 332.5,220.1 335.5,219.9 338.5,219.8 341.5,219.6 344.5,219.5 347.5,219.4 350.5,219.4 353.5,219.4 356.5,219.4 359.5,219.4 362.5,219.4 365.5,219.4 368.5,219.4 371.5,219.4 374.5,219.4 377.5,219.4 380.5,219.4 383.5,219.4 386.5,219.4 389.5,219.4 392.5,219.4 395.5,219.3 398.5,219.3 401.5,219.3 404.5,219.3 407.5,219.3 410.5,219.4 413.5,219.4 416.5,219.4 419.5,219.4 422.5,219.4 425.5,219.4 428.5,219.4 431.5,219.4 434.5,219.4 437.5,219.4 440.5,219.4 443.5,219.4 446.5,219.4 449.5,219.4 452.5,219.4 455.5,219.4 458.5,219.4 461.5,219.4 464.5,219.4 467.5,219.4 470.5,219.4 473.5,219.4 476.5,219.4 479.5,219.4 482.5,219.4 483.0,219.4 483.0,221.3 482.5,221.3 479.5,221.3 476.5,221.3 473.5,221.3 470.5,221.3 467.5,221.3 464.5,221.2 461.5,221.2 458.5,221.2 455.5,221.2 452.5,221.2 449.5,221.2 446.5,221.2 443.5,221.2 440.5,221.2 437.5,221.2 434.5,221.2 431.5,221.2 428.5,221.2 425.5,221.2 422.5,221.2 419.5,221.2 416.5,221.2 413.5,221.2 410.5,221.2 407.5,221.2 404.5,221.2 401.5,221.2 398.5,221.2 395.5,221.2 392.5,221.2 389.5,221.2 386.5,221.2 383.5,221.3 380.5,221.3 377.5,221.3 374.5,221.3 371.5,221.3 368.5,221.3 365.5,221.3 362.5,221.3 359.5,221.3 356.5,221.3 353.5,221.3 350.5,221.3 347.5,221.4 344.5,221.4 341.5,221.5 338.5,221.7 335.5,221.9 332.5,222.1 329.5,222.3 326.5,222.5 323.5,222.7 320.5,223.0 317.5,223.2 314.5,223.4 311.5,223.5 308.5,223.7 305.5,223.8 302.5,223.9 299.5,223.9 296.5,223.8 293.5,223.7 290.5,223.3 287.5,222.9 284.5,222.3 281.5,221.7 278.5,221.0" fill="#5e01c0"/>
<polygon points="275.5,218.2 278.5,218.5 281.5,218.8 284.5,219.1 287.5,219.3 290.5,219.5 293.5,219.8 296.5,220.0 299.5,220.1 302.5,220.1 305.5,220.0 308.5,219.9 311.5,219.8 314.5,219.6 317.5,219.4 320.5,219.2 323.5,218.9 326.5,218.7 329.5,218.5 332.5,218.3 335.5,218.1 338.5,217.9 341.5,217.8 344.5,217.7 347.5,217.6 350.5,217.6 353.5,217.6 356.5,217.6 359.5,217.6 362.5,217.6 365.5,217.6 368.5,217.6 371.5,217.6 374.5,217.6 377.5,217.6 380.5,217.6 383.5,217.6 386.5,217.6 389.5,217.6 392.5,217.6 395.5,217.6 398.5,217.6 401.5,217.6 404.5,217.6 407.5,217.6 410.5,217.6 413.5,217.6 416.5,217.6 419.5,217.6 422.5,217.6 425.5,217.6 428.5,217.6 431.5,217.6 434.5,217.6 437.5,217.6 440.5,217.6 443.5,217.6 446.5,217.6 449.5,217.6 452.5,217.6 455.5,217.6 458.5,217.6 461.5,217.6 464.5,217.6 467.5,217.6 470.5,217.6 473.5,217.6 476.5,217.6 479.5,217.6 482.5,217.6 483.0,217.6 483.0,219.4 482.5,219.4 479.5,219.4 476.5,219.4 473.5,219.4 470.5,219.4 467.5,219.4 464.5,219.4 461.5,219.4 458.5,219.4 455.5,219.4 452.5,219.4 449.5,219.4 446.5,219.4 443.5,219.4 440.5,219.4 437.5,219.4 434.5,219.4 431.5,219.4 428.5,219.4 425.5,219.4 422.5,219.4 419.5,219.4 416.5,219.4 413.5,219.4 410.5,219.4 407.5,219.3 404.5,219.3 401.5,219.3 398.5,219.3 395.5,219.3 392.5,219.4 389.5,219.4 386.5,219.4 383.5,219.4 380.5,219.4 377.5,219.4 374.5,219.4 371.5,219.4 368.5,219.4 365.5,219.4 362.5,219.4 359.5,219.4 356.5,219.4 353.5,219.4 350.5,219.4 347.5,219.4 344.5,219.5 341.5,219.6 338.5,219.8 335.5,219.9 332.5,220.1 329.5,220.4 326.5,220.6 323.5,220.8 320.5,221.0 317.5,221.3 314.5,221.4 311.5,221.6 308.5,221.8 305.5,221.9 302.5,221.9 299.5,222.0 296.5,221.9 293.5,221.7 290.5,221.5 287.5,221.0 284.5,220.4 281.5,219.7 278.5,219.0 275.5,218.2" fill="#6001c7"/>
<polygon points="269.5,214.8 272.5,215.4 275.5,215.8 278.5,216.1 281.5,216.5 284.5,216.9 287.5,217.2 290.5,217.6 293.5,217.9 296.5,218.2 299.5,218.2 302.5,218.2 305.5,218.2 308.5,218.1 311.5,217.9 314.5,217.7 317.5,217.6 320.5,217.3 323.5,217.1 326.5,216.9 329.5,216.7 332.5,216.5 335.5,216.3 338.5,216.1 341.5,216.0 344.5,215.9 347.5,215.8 350.5,215.8 353.5,215.8 356.5,215.8 359.5,215.8 362.5,215.8 365.5,215.8 368.5,215.8 371.5,215.8 374.5,215.8 377.5,215.8 380.5,215.8 383.5,215.8 386.5,215.8 389.5,215.8 392.5,215.8 395.5,215.8 398.5,215.8 401.5,215.8 404.5,215.8 407.5,215.8 410.5,215.8 413.5,215.9 416.5,215.9 419.5,215.9 422.5,215.9 425.5,215.9 428.5,215.9 431.5,215.9 434.5,215.9 437.5,215.9 440.5,215.9 443.5,215.9 446.5,215.9 449.5,215.9 452.5,215.9 455.5,215.9 458.5,215.9 461.5,216.0 464.5,216.0 467.5,216.0 470.5,216.0 473.5,216.0 476.5,216.0 479.5,216.0 482.5,216.0 483.0,216.0 483.0,217.6 482.5,217.6 479.5,217.6 476.5,217.6 473.5,217.6 470.5,217.6 467.5,217.6 464.5,217.6 461.5,217.6 458.5,217.6 455.5,217.6 452.5,217.6 449.5,217.6 446.5,217.6 443.5,217.6 440.5,217.6 437.5,217.6 434.5,217.6 431.5,217.6 428.5,217.6 425.5,217.6 422.5,217.6 419.5,217.6 416.5,217.6 413.5,217.6 410.5,217.6 407.5,217.6 404.5,217.6 401.5,217.6 398.5,217.6 395.5,217.6 392.5,217.6 389.5,217.6 386.5,217.6 383.5,217.6 380.5,217.6 377.5,217.6 374.5,217.6 371.5,217.6 368.5,217.6 365.5,217.6 362.5,217.6 359.5,217.6 356.5,217.6 353.5,217.6 350.5,217.6 347.5,217.6 344.5,217.7 341.5,217.8 338.5,217.9 335.5,218.1 332.5,218.3 329.5,218.5 326.5,218.7 323.5,218.9 320.5,219.2 317.5,219.4 314.5,219.6 311.5,219.8 308.5,219.9 305.5,220.0 302.5,220.1 299.5,220.1 296.5,220.0 293.5,219.8 290.5,219.5 287.5,219.1 284.5,218.5 281.5,217.8 278.5,217.1 275.5,216.3 272.5,215.4 269.5,214.8" fill="#6301ce"/>
<polygon points="266.5,211.9 269.5,212.4 272.5,212.8 275.5,213.3 278.5,213.8 281.5,214.3 284.5,214.8 287.5,215.3 290.5,215.8 293.5,216.1 296.5,216.3 299.5,216.4 302.5,216.4 305.5,216.4 308.5,216.3 311.5,216.1 314.5,216.0 317.5,215.8 320.5,215.6 323.5,215.4 326.5,215.1 329.5,214.9 332.5,214.7 335.5,214.5 338.5,214.4 341.5,214.2 344.5,214.1 347.5,214.1 350.5,214.1 353.5,214.1 356.5,214.1 359.5,214.1 362.5,214.1 365.5,214.1 368.5,214.1 371.5,214.1 374.5,214.1 377.5,214.1 380.5,214.1 383.5,214.1 386.5,214.1 389.5,214.1 392.5,214.2 395.5,214.2 398.5,214.2 401.5,214.2 404.5,214.2 407.5,214.2 410.5,214.2 413.5,214.2 416.5,214.2 419.5,214.2 422.5,214.2 425.5,214.3 428.5,214.3 431.5,214.3 434.5,214.3 437.5,214.3 440.5,214.3 443.5,214.3 446.5,214.3 449.5,214.3 452.5,214.3 455.5,214.3 458.5,214.4 461.5,214.4 464.5,214.4 467.5,214.4 470.5,214.4 473.5,214.4 476.5,214.4 479.5,214.4 482.5,214.4 483.0,214.4 483.0,216.0 482.5,216.0 479.5,216.0 476.5,216.0 473.5,216.0 470.5,216.0 467.5,216.0 464.5,216.0 461.5,216.0 458.5,215.9 455.5,215.9 452.5,215.9 449.5,215.9 446.5,215.9 443.5,215.9 440.5,215.9 437.5,215.9 434.5,215.9 431.5,215.9 428.5,215.9 425.5,215.9 422.5,215.9 419.5,215.9 416.5,215.9 413.5,215.9 410.5,215.8 407.5,215.8 404.5,215.8 401.5,215.8 398.5,215.8 395.5,215.8 392.5,215.8 389.5,215.8 386.5,215.8 383.5,215.8 380.5,215.8 377.5,215.8 374.5,215.8 371.5,215.8 368.5,215.8 365.5,215.8 362.5,215.8 359.5,215.8 356.5,215.8 353.5,215.8 350.5,215.8 347.5,215.8 344.5,215.9 341.5,216.0 338.5,216.1 335.5,216.3 332.5,216.5 329.5,216.7 326.5,216.9 323.5,217.1 320.5,217.3 317.5,217.6 314.5,217.7 311.5,217.9 308.5,218.1 305.5,218.2 302.5,218.2 299.5,218.2 296.5,218.2 293.5,217.9 290.5,217.6 287.5,217.2 284.5,216.7 281.5,216.0 278.5,215.3 275.5,214.4 272.5,213.6 269.5,212.7 266.5,211.9" fill="#6501d4"/>
<polygon points="257.5,207.9 260.5,208.3 263.5,208.8 266.5,209.3 269.5,209.8 272.5,210.4 275.5,211.0 278.5,211.6 281.5,212.3 284.5,212.9 287.5,213.5 290.5,213.9 293.5,214.3 296.5,214.6 299.5,214.7 302.5,214.6 305.5,214.6 308.5,214.5 311.5,214.4 314.5,214.2 317.5,214.0 320.5,213.8 323.5,213.6 326.5,213.4 329.5,213.2 332.5,213.0 335.5,212.8 338.5,212.7 341.5,212.6 344.5,212.5 347.5,212.4 350.5,212.4 353.5,212.4 356.5,212.4 359.5,212.4 362.5,212.4 365.5,212.4 368.5,212.4 371.5,212.4 374.5,212.5 377.5,212.5 380.5,212.5 383.5,212.5 386.5,212.5 389.5,212.5 392.5,212.6 395.5,212.6 398.5,212.6 401.5,212.6 404.5,212.6 407.5,212.6 410.5,212.6 413.5,212.7 416.5,212.7 419.5,212.7 422.5,212.7 425.5,212.7 428.5,212.7 431.5,212.7 434.5,212.7 437.5,212.8 440.5,212.8 443.5,212.8 446.5,212.8 449.5,212.8 452.5,212.8 455.5,212.8 458.5,212.8 461.5,212.9 464.5,212.9 467.5,212.9 470.5,212.9 473.5,212.9 476.5,212.9 479.5,212.9 482.5,212.9 483.0,212.9 483.0,214.4 482.5,214.4 479.5,214.4 476.5,214.4 473.5,214.4 470.5,214.4 467.5,214.4 464.5,214.4 461.5,214.4 458.5,214.4 455.5,214.3 452.5,214.3 449.5,214.3 446.5,214.3 443.5,214.3 440.5,214.3 437.5,214.3 434.5,214.3 431.5,214.3 428.5,214.3 425.5,214.3 422.5,214.2 419.5,214.2 416.5,214.2 413.5,214.2 410.5,214.2 407.5,214.2 404.5,214.2 401.5,214.2 398.5,214.2 395.5,214.2 392.5,214.2 389.5,214.1 386.5,214.1 383.5,214.1 380.5,214.1 377.5,214.1 374.5,214.1 371.5,214.1 368.5,214.1 365.5,214.1 362.5,214.1 359.5,214.1 356.5,214.1 353.5,214.1 350.5,214.1 347.5,214.1 344.5,214.1 341.5,214.2 338.5,214.4 335.5,214.5 332.5,214.7 329.5,214.9 326.5,215.1 323.5,215.4 320.5,215.6 317.5,215.8 314.5,216.0 311.5,216.1 308.5,216.3 305.5,216.4 302.5,216.4 299.5,216.4 296.5,216.3 293.5,216.1 290.5,215.8 287.5,215.3 284.5,214.8 281.5,214.2 278.5,213.5 275.5,212.7 272.5,211.8 269.5,211.0 266.5,210.1 263.5,209.3 260.5,208.5 257.5,207.9" fill="#6701da"/>
<polygon points="251.5,204.6 254.5,205.0 257.5,205.4 260.5,205.8 263.5,206.3 266.5,206.9 269.5,207.5 272.5,208.2 275.5,208.9 278.5,209.7 281.5,210.4 284.5,211.1 287.5,211.7 290.5,212.2 293.5,212.6 296.5,212.8 299.5,212.9 302.5,212.9 305.5,212.8 308.5,212.8 311.5,212.6 314.5,212.5 317.5,212.3 320.5,212.1 323.5,211.9 326.5,211.7 329.5,211.5 332.5,211.4 335.5,211.2 338.5,211.0 341.5,210.9 344.5,210.8 347.5,210.8 350.5,210.7 353.5,210.8 356.5,210.8 359.5,210.8 362.5,210.8 365.5,210.8 368.5,210.8 371.5,210.8 374.5,210.9 377.5,210.9 380.5,210.9 383.5,210.9 386.5,211.0 389.5,211.0 392.5,211.0 395.5,211.0 398.5,211.0 401.5,211.1 404.5,211.1 407.5,211.1 410.5,211.1 413.5,211.1 416.5,211.2 419.5,211.2 422.5,211.2 425.5,211.2 428.5,211.2 431.5,211.3 434.5,211.3 437.5,211.3 440.5,211.3 443.5,211.3 446.5,211.3 449.5,211.4 452.5,211.4 455.5,211.4 458.5,211.4 461.5,211.4 464.5,211.4 467.5,211.4 470.5,211.4 473.5,211.4 476.5,211.5 479.5,211.5 482.5,211.5 483.0,211.5 483.0,212.9 482.5,212.9 479.5,212.9 476.5,212.9 473.5,212.9 470.5,212.9 467.5,212.9 464.5,212.9 461.5,212.9 458.5,212.8 455.5,212.8 452.5,212.8 449.5,212.8 446.5,212.8 443.5,212.8 440.5,212.8 437.5,212.8 434.5,212.7 431.5,212.7 428.5,212.7 425.5,212.7 422.5,212.7 419.5,212.7 416.5,212.7 413.5,212.7 410.5,212.6 407.5,212.6 404.5,212.6 401.5,212.6 398.5,212.6 395.5,212.6 392.5,212.6 389.5,212.5 386.5,212.5 383.5,212.5 380.5,212.5 377.5,212.5 374.5,212.5 371.5,212.4 368.5,212.4 365.5,212.4 362.5,212.4 359.5,212.4 356.5,212.4 353.5,212.4 350.5,212.4 347.5,212.4 344.5,212.5 341.5,212.6 338.5,212.7 335.5,212.8 332.5,213.0 329.5,213.2 326.5,213.4 323.5,213.6 320.5,213.8 317.5,214.0 314.5,214.2 311.5,214.4 308.5,214.5 305.5,214.6 302.5,214.6 299.5,214.7 296.5,214.6 293.5,214.3 290.5,213.9 287.5,213.5 284.5,212.9 281.5,212.3 278.5,211.6 275.5,210.8 272.5,210.0 269.5,209.1 266.5,208.3 263.5,207.4 260.5,206.6 257.5,205.9 254.5,205.2 251.5,204.6" fill="#6901e0"/>
<polygon points="245.5,201.2 248.5,201.7 251.5,202.1 254.5,202.5 257.5,203.0 260.5,203.5 263.5,204.1 266.5,204.7 269.5,205.4 272.5,206.2 275.5,207.0 278.5,207.8 281.5,208.6 284.5,209.3 287.5,209.9 290.5,210.4 293.5,210.8 296.5,211.1 299.5,211.2 302.5,211.2 305.5,211.1 308.5,211.1 311.5,210.9 314.5,210.8 317.5,210.6 320.5,210.5 323.5,210.3 326.5,210.1 329.5,209.9 332.5,209.7 335.5,209.6 338.5,209.4 341.5,209.3 344.5,209.2 347.5,209.2 350.5,209.2 353.5,209.2 356.5,209.2 359.5,209.2 362.5,209.2 365.5,209.2 368.5,209.3 371.5,209.3 374.5,209.3 377.5,209.4 380.5,209.4 383.5,209.4 386.5,209.5 389.5,209.5 392.5,209.5 395.5,209.6 398.5,209.6 401.5,209.6 404.5,209.6 407.5,209.7 410.5,209.7 413.5,209.7 416.5,209.7 419.5,209.8 422.5,209.8 425.5,209.8 428.5,209.8 431.5,209.8 434.5,209.9 437.5,209.9 440.5,209.9 443.5,209.9 446.5,209.9 449.5,210.0 452.5,210.0 455.5,210.0 458.5,210.0 461.5,210.0 464.5,210.0 467.5,210.1 470.5,210.1 473.5,210.1 476.5,210.1 479.5,210.1 482.5,210.1 483.0,210.1 483.0,211.5 482.5,211.5 479.5,211.5 476.5,211.5 473.5,211.4 470.5,211.4 467.5,211.4 464.5,211.4 461.5,211.4 458.5,211.4 455.5,211.4 452.5,211.4 449.5,211.4 446.5,211.3 443.5,211.3 440.5,211.3 437.5,211.3 434.5,211.3 431.5,211.3 428.5,211.2 425.5,211.2 422.5,211.2 419.5,211.2 416.5,211.2 413.5,211.1 410.5,211.1 407.5,211.1 404.5,211.1 401.5,211.1 398.5,211.0 395.5,211.0 392.5,211.0 389.5,211.0 386.5,211.0 383.5,210.9 380.5,210.9 377.5,210.9 374.5,210.9 371.5,210.8 368.5,210.8 365.5,210.8 362.5,210.8 359.5,210.8 356.5,210.8 353.5,210.8 350.5,210.7 347.5,210.8 344.5,210.8 341.5,210.9 338.5,211.0 335.5,211.2 332.5,211.4 329.5,211.5 326.5,211.7 323.5,211.9 320.5,212.1 317.5,212.3 314.5,212.5 311.5,212.6 308.5,212.8 305.5,212.8 302.5,212.9 299.5,212.9 296.5,212.8 293.5,212.6 290.5,212.2 287.5,211.7 284.5,211.1 281.5,210.4 278.5,209.7 275.5,208.9 272.5,208.1 269.5,207.3 266.5,206.4 263.5,205.6 260.5,204.7 257.5,204.0 254.5,203.3 251.5,202.5 248.5,201.8 245.5,201.2" fill="#6b01e5"/>
<polygon points="242.5,198.4 245.5,198.9 248.5,199.3 251.5,199.7 254.5,200.2 257.5,200.7 260.5,201.3 263.5,201.9 266.5,202.6 269.5,203.5 272.5,204.3 275.5,205.2 278.5,206.0 281.5,206.8 284.5,207.5 287.5,208.2 290.5,208.7 293.5,209.1 296.5,209.4 299.5,209.5 302.5,209.5 305.5,209.5 308.5,209.4 311.5,209.3 314.5,209.1 317.5,209.0 320.5,208.8 323.5,208.7 326.5,208.5 329.5,208.3 332.5,208.2 335.5,208.0 338.5,207.9 341.5,207.8 344.5,207.7 347.5,207.7 350.5,207.6 353.5,207.6 356.5,207.7 359.5,207.7 362.5,207.7 365.5,207.7 368.5,207.8 371.5,207.8 374.5,207.8 377.5,207.9 380.5,207.9 383.5,208.0 386.5,208.0 389.5,208.1 392.5,208.1 395.5,208.1 398.5,208.2 401.5,208.2 404.5,208.2 407.5,208.3 410.5,208.3 413.5,208.3 416.5,208.4 419.5,208.4 422.5,208.4 425.5,208.4 428.5,208.5 431.5,208.5 434.5,208.5 437.5,208.5 440.5,208.6 443.5,208.6 446.5,208.6 449.5,208.6 452.5,208.7 455.5,208.7 458.5,208.7 461.5,208.7 464.5,208.7 467.5,208.8 470.5,208.8 473.5,208.8 476.5,208.8 479.5,208.8 482.5,208.8 483.0,208.8 483.0,210.1 482.5,210.1 479.5,210.1 476.5,210.1 473.5,210.1 470.5,210.1 467.5,210.1 464.5,210.0 461.5,210.0 458.5,210.0 455.5,210.0 452.5,210.0 449.5,210.0 446.5,209.9 443.5,209.9 440.5,209.9 437.5,209.9 434.5,209.9 431.5,209.8 428.5,209.8 425.5,209.8 422.5,209.8 419.5,209.8 416.5,209.7 413.5,209.7 410.5,209.7 407.5,209.7 404.5,209.6 401.5,209.6 398.5,209.6 395.5,209.6 392.5,209.5 389.5,209.5 386.5,209.5 383.5,209.4 380.5,209.4 377.5,209.4 374.5,209.3 371.5,209.3 368.5,209.3 365.5,209.2 362.5,209.2 359.5,209.2 356.5,209.2 353.5,209.2 350.5,209.2 347.5,209.2 344.5,209.2 341.5,209.3 338.5,209.4 335.5,209.6 332.5,209.7 329.5,209.9 326.5,210.1 323.5,210.3 320.5,210.5 317.5,210.6 314.5,210.8 311.5,210.9 308.5,211.1 305.5,211.1 302.5,211.2 299.5,211.2 296.5,211.1 293.5,210.8 290.5,210.4 287.5,209.9 284.5,209.3 281.5,208.6 278.5,207.8 275.5,207.0 272.5,206.2 269.5,205.4 266.5,204.6 263.5,203.7 260.5,202.9 257.5,202.1 254.5,201.3 251.5,200.6 248.5,199.8 245.5,199.1 242.5,198.4" fill="#6d02e9"/>
<polygon points="239.5,195.5 242.5,196.0 245.5,196.4 248.5,196.9 251.5,197.4 254.5,198.0 257.5,198.5 260.5,199.1 263.5,199.9 266.5,200.8 269.5,201.6 272.5,202.5 275.5,203.4 278.5,204.3 281.5,205.1 284.5,205.8 287.5,206.5 290.5,207.0 293.5,207.5 296.5,207.8 299.5,207.9 302.5,207.9 305.5,207.8 308.5,207.7 311.5,207.6 314.5,207.5 317.5,207.4 320.5,207.2 323.5,207.1 326.5,206.9 329.5,206.8 332.5,206.6 335.5,206.5 338.5,206.4 341.5,206.3 344.5,206.2 347.5,206.2 350.5,206.2 353.5,206.2 356.5,206.2 359.5,206.2 362.5,206.2 365.5,206.3 368.5,206.3 371.5,206.4 374.5,206.4 377.5,206.5 380.5,206.5 383.5,206.6 386.5,206.6 389.5,206.7 392.5,206.7 395.5,206.8 398.5,206.8 401.5,206.9 404.5,206.9 407.5,206.9 410.5,207.0 413.5,207.0 416.5,207.0 419.5,207.1 422.5,207.1 425.5,207.1 428.5,207.2 431.5,207.2 434.5,207.2 437.5,207.3 440.5,207.3 443.5,207.3 446.5,207.4 449.5,207.4 452.5,207.4 455.5,207.4 458.5,207.5 461.5,207.5 464.5,207.5 467.5,207.5 470.5,207.5 473.5,207.6 476.5,207.6 479.5,207.6 482.5,207.6 483.0,207.6 483.0,208.8 482.5,208.8 479.5,208.8 476.5,208.8 473.5,208.8 470.5,208.8 467.5,208.8 464.5,208.7 461.5,208.7 458.5,208.7 455.5,208.7 452.5,208.7 449.5,208.6 446.5,208.6 443.5,208.6 440.5,208.6 437.5,208.5 434.5,208.5 431.5,208.5 428.5,208.5 425.5,208.4 422.5,208.4 419.5,208.4 416.5,208.4 413.5,208.3 410.5,208.3 407.5,208.3 404.5,208.2 401.5,208.2 398.5,208.2 395.5,208.1 392.5,208.1 389.5,208.1 386.5,208.0 383.5,208.0 380.5,207.9 377.5,207.9 374.5,207.8 371.5,207.8 368.5,207.8 365.5,207.7 362.5,207.7 359.5,207.7 356.5,207.7 353.5,207.6 350.5,207.6 347.5,207.7 344.5,207.7 341.5,207.8 338.5,207.9 335.5,208.0 332.5,208.2 329.5,208.3 326.5,208.5 323.5,208.7 320.5,208.8 317.5,209.0 314.5,209.1 311.5,209.3 308.5,209.4 305.5,209.5 302.5,209.5 299.5,209.5 296.5,209.4 293.5,209.1 290.5,208.7 287.5,208.2 284.5,207.5 281.5,206.8 278.5,206.0 275.5,205.2 272.5,204.3 269.5,203.5 266.5,202.6 263.5,201.8 260.5,201.1 257.5,200.3 254.5,199.5 251.5,198.7 248.5,197.9 245.5,197.1 242.5,196.3 239.5,195.5" fill="#6f02ed"/>
<polygon points="233.5,191.8 236.5,192.5 239.5,193.0 242.5,193.6 245.5,194.1 248.5,194.7 251.5,195.2 254.5,195.8 257.5,196.5 260.5,197.2 263.5,198.0 266.5,198.9 269.5,199.8 272.5,200.7 275.5,201.7 278.5,202.5 281.5,203.4 284.5,204.2 287.5,204.8 290.5,205.4 293.5,205.8 296.5,206.1 299.5,206.3 302.5,206.3 305.5,206.2 308.5,206.1 311.5,206.1 314.5,206.0 317.5,205.8 320.5,205.7 323.5,205.6 326.5,205.4 329.5,205.3 332.5,205.2 335.5,205.0 338.5,204.9 341.5,204.8 344.5,204.8 347.5,204.7 350.5,204.7 353.5,204.7 356.5,204.8 359.5,204.8 362.5,204.8 365.5,204.9 368.5,204.9 371.5,205.0 374.5,205.0 377.5,205.1 380.5,205.2 383.5,205.2 386.5,205.3 389.5,205.4 392.5,205.4 395.5,205.5 398.5,205.5 401.5,205.6 404.5,205.6 407.5,205.7 410.5,205.7 413.5,205.7 416.5,205.8 419.5,205.8 422.5,205.9 425.5,205.9 428.5,205.9 431.5,206.0 434.5,206.0 437.5,206.1 440.5,206.1 443.5,206.1 446.5,206.2 449.5,206.2 452.5,206.2 455.5,206.3 458.5,206.3 461.5,206.3 464.5,206.3 467.5,206.4 470.5,206.4 473.5,206.4 476.5,206.4 479.5,206.4 482.5,206.4 483.0,206.5 483.0,207.6 482.5,207.6 479.5,207.6 476.5,207.6 473.5,207.6 470.5,207.5 467.5,207.5 464.5,207.5 461.5,207.5 458.5,207.5 455.5,207.4 452.5,207.4 449.5,207.4 446.5,207.4 443.5,207.3 440.5,207.3 437.5,207.3 434.5,207.2 431.5,207.2 428.5,207.2 425.5,207.1 422.5,207.1 419.5,207.1 416.5,207.0 413.5,207.0 410.5,207.0 407.5,206.9 404.5,206.9 401.5,206.9 398.5,206.8 395.5,206.8 392.5,206.7 389.5,206.7 386.5,206.6 383.5,206.6 380.5,206.5 377.5,206.5 374.5,206.4 371.5,206.4 368.5,206.3 365.5,206.3 362.5,206.2 359.5,206.2 356.5,206.2 353.5,206.2 350.5,206.2 347.5,206.2 344.5,206.2 341.5,206.3 338.5,206.4 335.5,206.5 332.5,206.6 329.5,206.8 326.5,206.9 323.5,207.1 320.5,207.2 317.5,207.4 314.5,207.5 311.5,207.6 308.5,207.7 305.5,207.8 302.5,207.9 299.5,207.9 296.5,207.8 293.5,207.5 290.5,207.0 287.5,206.5 284.5,205.8 281.5,205.1 278.5,204.3 275.5,203.4 272.5,202.5 269.5,201.6 266.5,200.8 263.5,199.9 260.5,199.1 257.5,198.4 254.5,197.6 251.5,196.8 248.5,196.0 245.5,195.2 242.5,194.3 239.5,193.5 236.5,192.6 233.5,191.8" fill="#7102f0"/>
<polygon points="230.5,188.8 233.5,189.4 236.5,190.1 239.5,190.7 242.5,191.3 245.5,191.9 248.5,192.5 251.5,193.1 254.5,193.8 257.5,194.6 260.5,195.3 263.5,196.2 266.5,197.1 269.5,198.0 272.5,199.0 275.5,199.9 278.5,200.9 281.5,201.7 284.5,202.5 287.5,203.2 290.5,203.8 293.5,204.2 296.5,204.5 299.5,204.7 302.5,204.7 305.5,204.6 308.5,204.6 311.5,204.5 314.5,204.4 317.5,204.3 320.5,204.2 323.5,204.1 326.5,204.0 329.5,203.8 332.5,203.7 335.5,203.6 338.5,203.5 341.5,203.5 344.5,203.4 347.5,203.4 350.5,203.3 353.5,203.4 356.5,203.4 359.5,203.4 362.5,203.5 365.5,203.5 368.5,203.6 371.5,203.6 374.5,203.7 377.5,203.8 380.5,203.9 383.5,203.9 386.5,204.0 389.5,204.1 392.5,204.2 395.5,204.2 398.5,204.3 401.5,204.3 404.5,204.4 407.5,204.4 410.5,204.5 413.5,204.5 416.5,204.6 419.5,204.6 422.5,204.7 425.5,204.7 428.5,204.8 431.5,204.8 434.5,204.9 437.5,204.9 440.5,204.9 443.5,205.0 446.5,205.0 449.5,205.1 452.5,205.1 455.5,205.1 458.5,205.2 461.5,205.2 464.5,205.2 467.5,205.3 470.5,205.3 473.5,205.3 476.5,205.3 479.5,205.3 482.5,205.4 483.0,205.4 483.0,206.5 482.5,206.4 479.5,206.4 476.5,206.4 473.5,206.4 470.5,206.4 467.5,206.4 464.5,206.3 461.5,206.3 458.5,206.3 455.5,206.3 452.5,206.2 449.5,206.2 446.5,206.2 443.5,206.1 440.5,206.1 437.5,206.1 434.5,206.0 431.5,206.0 428.5,205.9 425.5,205.9 422.5,205.9 419.5,205.8 416.5,205.8 413.5,205.7 410.5,205.7 407.5,205.7 404.5,205.6 401.5,205.6 398.5,205.5 395.5,205.5 392.5,205.4 389.5,205.4 386.5,205.3 383.5,205.2 380.5,205.2 377.5,205.1 374.5,205.0 371.5,205.0 368.5,204.9 365.5,204.9 362.5,204.8 359.5,204.8 356.5,204.8 353.5,204.7 350.5,204.7 347.5,204.7 344.5,204.8 341.5,204.8 338.5,204.9 335.5,205.0 332.5,205.2 329.5,205.3 326.5,205.4 323.5,205.6 320.5,205.7 317.5,205.8 314.5,206.0 311.5,206.1 308.5,206.1 305.5,206.2 302.5,206.3 299.5,206.3 296.5,206.1 293.5,205.8 290.5,205.4 287.5,204.8 284.5,204.2 281.5,203.4 278.5,202.5 275.5,201.7 272.5,200.7 269.5,199.8 266.5,198.9 263.5,198.0 260.5,197.2 257.5,196.5 254.5,195.7 251.5,195.0 248.5,194.1 245.5,193.3 242.5,192.4 239.5,191.5 236.5,190.6 233.5,189.7 230.5,188.8" fill="#7302f3"/>
<polygon points="224.5,184.8 227.5,185.7 230.5,186.4 233.5,187.1 236.5,187.7 239.5,188.4 242.5,189.1 245.5,189.7 248.5,190.4 251.5,191.1 254.5,191.9 257.5,192.7 260.5,193.5 263.5,194.4 266.5,195.3 269.5,196.3 272.5,197.3 275.5,198.3 278.5,199.2 281.5,200.1 284.5,200.9 287.5,201.6 290.5,202.2 293.5,202.7 296.5,203.0 299.5,203.1 302.5,203.1 305.5,203.1 308.5,203.0 311.5,203.0 314.5,202.9 317.5,202.8 320.5,202.7 323.5,202.6 326.5,202.5 329.5,202.4 332.5,202.3 335.5,202.2 338.5,202.2 341.5,202.1 344.5,202.0 347.5,202.0 350.5,202.0 353.5,202.0 356.5,202.0 359.5,202.1 362.5,202.1 365.5,202.2 368.5,202.3 371.5,202.3 374.5,202.4 377.5,202.5 380.5,202.6 383.5,202.7 386.5,202.8 389.5,202.9 392.5,203.0 395.5,203.0 398.5,203.1 401.5,203.2 404.5,203.2 407.5,203.3 410.5,203.3 413.5,203.4 416.5,203.4 419.5,203.5 422.5,203.5 425.5,203.6 428.5,203.7 431.5,203.7 434.5,203.7 437.5,203.8 440.5,203.8 443.5,203.9 446.5,203.9 449.5,204.0 452.5,204.0 455.5,204.1 458.5,204.1 461.5,204.1 464.5,204.2 467.5,204.2 470.5,204.2 473.5,204.2 476.5,204.3 479.5,204.3 482.5,204.3 483.0,204.3 483.0,205.4 482.5,205.4 479.5,205.3 476.5,205.3 473.5,205.3 470.5,205.3 467.5,205.3 464.5,205.2 461.5,205.2 458.5,205.2 455.5,205.1 452.5,205.1 449.5,205.1 446.5,205.0 443.5,205.0 440.5,204.9 437.5,204.9 434.5,204.9 431.5,204.8 428.5,204.8 425.5,204.7 422.5,204.7 419.5,204.6 416.5,204.6 413.5,204.5 410.5,204.5 407.5,204.4 404.5,204.4 401.5,204.3 398.5,204.3 395.5,204.2 392.5,204.2 389.5,204.1 386.5,204.0 383.5,203.9 380.5,203.9 377.5,203.8 374.5,203.7 371.5,203.6 368.5,203.6 365.5,203.5 362.5,203.5 359.5,203.4 356.5,203.4 353.5,203.4 350.5,203.3 347.5,203.4 344.5,203.4 341.5,203.5 338.5,203.5 335.5,203.6 332.5,203.7 329.5,203.8 326.5,204.0 323.5,204.1 320.5,204.2 317.5,204.3 314.5,204.4 311.5,204.5 308.5,204.6 305.5,204.6 302.5,204.7 299.5,204.7 296.5,204.5 293.5,204.2 290.5,203.8 287.5,203.2 284.5,202.5 281.5,201.7 278.5,200.9 275.5,199.9 272.5,199.0 269.5,198.0 266.5,197.1 263.5,196.2 260.5,195.3 257.5,194.6 254.5,193.8 251.5,193.1 248.5,192.3 245.5,191.4 242.5,190.5 239.5,189.6 236.5,188.6 233.5,187.7 230.5,186.7 227.5,185.7 224.5,184.8" fill="#7402f6"/>
<polygon points="221.5,181.6 224.5,182.4 227.5,183.2 230.5,184.0 233.5,184.7 236.5,185.5 239.5,186.2 242.5,186.9 245.5,187.6 248.5,188.4 251.5,189.2 254.5,190.1 257.5,190.9 260.5,191.7 263.5,192.6 266.5,193.6 269.5,194.6 272.5,195.6 275.5,196.6 278.5,197.6 281.5,198.5 284.5,199.3 287.5,200.0 290.5,200.7 293.5,201.1 296.5,201.4 299.5,201.6 302.5,201.6 305.5,201.5 308.5,201.5 311.5,201.5 314.5,201.4 317.5,201.3 320.5,201.3 323.5,201.2 326.5,201.1 329.5,201.0 332.5,200.9 335.5,200.9 338.5,200.8 341.5,200.8 344.5,200.7 347.5,200.7 350.5,200.7 353.5,200.7 356.5,200.7 359.5,200.8 362.5,200.8 365.5,200.9 368.5,201.0 371.5,201.1 374.5,201.2 377.5,201.3 380.5,201.4 383.5,201.5 386.5,201.6 389.5,201.7 392.5,201.8 395.5,201.9 398.5,201.9 401.5,202.0 404.5,202.1 407.5,202.2 410.5,202.2 413.5,202.3 416.5,202.3 419.5,202.4 422.5,202.5 425.5,202.5 428.5,202.6 431.5,202.6 434.5,202.7 437.5,202.7 440.5,202.8 443.5,202.8 446.5,202.9 449.5,202.9 452.5,203.0 455.5,203.0 458.5,203.1 461.5,203.1 464.5,203.1 467.5,203.2 470.5,203.2 473.5,203.2 476.5,203.3 479.5,203.3 482.5,203.3 483.0,203.3 483.0,204.3 482.5,204.3 479.5,204.3 476.5,204.3 473.5,204.2 470.5,204.2 467.5,204.2 464.5,204.2 461.5,204.1 458.5,204.1 455.5,204.1 452.5,204.0 449.5,204.0 446.5,203.9 443.5,203.9 440.5,203.8 437.5,203.8 434.5,203.7 431.5,203.7 428.5,203.7 425.5,203.6 422.5,203.5 419.5,203.5 416.5,203.4 413.5,203.4 410.5,203.3 407.5,203.3 404.5,203.2 401.5,203.2 398.5,203.1 395.5,203.0 392.5,203.0 389.5,202.9 386.5,202.8 383.5,202.7 380.5,202.6 377.5,202.5 374.5,202.4 371.5,202.3 368.5,202.3 365.5,202.2 362.5,202.1 359.5,202.1 356.5,202.0 353.5,202.0 350.5,202.0 347.5,202.0 344.5,202.0 341.5,202.1 338.5,202.2 335.5,202.2 332.5,202.3 329.5,202.4 326.5,202.5 323.5,202.6 320.5,202.7 317.5,202.8 314.5,202.9 311.5,203.0 308.5,203.0 305.5,203.1 302.5,203.1 299.5,203.1 296.5,203.0 293.5,202.7 290.5,202.2 287.5,201.6 284.5,200.9 281.5,200.1 278.5,199.2 275.5,198.3 272.5,197.3 269.5,196.3 266.5,195.3 263.5,194.4 260.5,193.5 257.5,192.7 254.5,191.9 251.5,191.1 248.5,190.3 245.5,189.5 242.5,188.6 239.5,187.7 236.5,186.7 233.5,185.7 230.5,184.7 227.5,183.7 224.5,182.7 221.5,181.6" fill="#7502f8"/>
<polygon points="212.5,176.4 215.5,177.3 218.5,178.2 221.5,179.1 224.5,180.0 227.5,180.8 230.5,181.6 233.5,182.4 236.5,183.2 239.5,184.0 242.5,184.8 245.5,185.7 248.5,186.5 251.5,187.4 254.5,188.2 257.5,189.1 260.5,189.9 263.5,190.9 266.5,191.9 269.5,192.9 272.5,193.9 275.5,195.0 278.5,195.9 281.5,196.9 284.5,197.7 287.5,198.5 290.5,199.1 293.5,199.6 296.5,199.9 299.5,200.1 302.5,200.1 305.5,200.1 308.5,200.0 311.5,200.0 314.5,199.9 317.5,199.9 320.5,199.8 323.5,199.8 326.5,199.7 329.5,199.7 332.5,199.6 335.5,199.6 338.5,199.5 341.5,199.5 344.5,199.5 347.5,199.4 350.5,199.4 353.5,199.4 356.5,199.5 359.5,199.5 362.5,199.6 365.5,199.7 368.5,199.8 371.5,199.9 374.5,200.0 377.5,200.1 380.5,200.2 383.5,200.3 386.5,200.4 389.5,200.6 392.5,200.7 395.5,200.8 398.5,200.9 401.5,200.9 404.5,201.0 407.5,201.1 410.5,201.1 413.5,201.2 416.5,201.3 419.5,201.4 422.5,201.4 425.5,201.5 428.5,201.5 431.5,201.6 434.5,201.7 437.5,201.7 440.5,201.8 443.5,201.9 446.5,201.9 449.5,202.0 452.5,202.0 455.5,202.1 458.5,202.1 461.5,202.1 464.5,202.2 467.5,202.2 470.5,202.3 473.5,202.3 476.5,202.3 479.5,202.3 482.5,202.4 483.0,202.4 483.0,203.3 482.5,203.3 479.5,203.3 476.5,203.3 473.5,203.2 470.5,203.2 467.5,203.2 464.5,203.1 461.5,203.1 458.5,203.1 455.5,203.0 452.5,203.0 449.5,202.9 446.5,202.9 443.5,202.8 440.5,202.8 437.5,202.7 434.5,202.7 431.5,202.6 428.5,202.6 425.5,202.5 422.5,202.5 419.5,202.4 416.5,202.3 413.5,202.3 410.5,202.2 407.5,202.2 404.5,202.1 401.5,202.0 398.5,201.9 395.5,201.9 392.5,201.8 389.5,201.7 386.5,201.6 383.5,201.5 380.5,201.4 377.5,201.3 374.5,201.2 371.5,201.1 368.5,201.0 365.5,200.9 362.5,200.8 359.5,200.8 356.5,200.7 353.5,200.7 350.5,200.7 347.5,200.7 344.5,200.7 341.5,200.8 338.5,200.8 335.5,200.9 332.5,200.9 329.5,201.0 326.5,201.1 323.5,201.2 320.5,201.3 317.5,201.3 314.5,201.4 311.5,201.5 308.5,201.5 305.5,201.5 302.5,201.6 299.5,201.6 296.5,201.4 293.5,201.1 290.5,200.7 287.5,200.0 284.5,199.3 281.5,198.5 278.5,197.6 275.5,196.6 272.5,195.6 269.5,194.6 266.5,193.6 263.5,192.6 260.5,191.7 257.5,190.9 254.5,190.1 251.5,189.2 248.5,188.4 245.5,187.6 242.5,186.8 239.5,185.8 236.5,184.9 233.5,183.9 230.5,182.9 227.5,181.8 224.5,180.8 221.5,179.7 218.5,178.6 215.5,177.5 212.5,176.4" fill="#7703fa"/>
<polygon points="104.5,131.6 107.5,131.8 110.5,132.2 113.5,132.7 116.5,133.3 119.5,133.9 119.5,133.9 116.5,133.3 113.5,132.8 110.5,132.4 107.5,132.0 104.5,131.8" fill="#7803fb"/>
<polygon points="200.5,169.5 203.5,170.7 206.5,171.8 209.5,172.8 212.5,173.8 215.5,174.8 218.5,175.8 221.5,176.7 224.5,177.6 227.5,178.5 230.5,179.4 233.5,180.2 236.5,181.1 239.5,182.0 242.5,182.9 245.5,183.8 248.5,184.7 251.5,185.6 254.5,186.5 257.5,187.3 260.5,188.2 263.5,189.2 266.5,190.2 269.5,191.2 272.5,192.3 275.5,193.3 278.5,194.4 281.5,195.3 284.5,196.2 287.5,197.0 290.5,197.6 293.5,198.1 296.5,198.4 299.5,198.6 302.5,198.6 305.5,198.6 308.5,198.6 311.5,198.6 314.5,198.5 317.5,198.5 320.5,198.5 323.5,198.4 326.5,198.4 329.5,198.3 332.5,198.3 335.5,198.3 338.5,198.3 341.5,198.2 344.5,198.2 347.5,198.2 350.5,198.2 353.5,198.2 356.5,198.3 359.5,198.3 362.5,198.4 365.5,198.5 368.5,198.6 371.5,198.7 374.5,198.8 377.5,199.0 380.5,199.1 383.5,199.2 386.5,199.4 389.5,199.5 392.5,199.6 395.5,199.7 398.5,199.8 401.5,199.9 404.5,200.0 407.5,200.0 410.5,200.1 413.5,200.2 416.5,200.3 419.5,200.4 422.5,200.4 425.5,200.5 428.5,200.6 431.5,200.6 434.5,200.7 437.5,200.8 440.5,200.8 443.5,200.9 446.5,201.0 449.5,201.0 452.5,201.1 455.5,201.1 458.5,201.2 461.5,201.2 464.5,201.3 467.5,201.3 470.5,201.4 473.5,201.4 476.5,201.4 479.5,201.5 482.5,201.5 483.0,201.5 483.0,202.4 482.5,202.4 479.5,202.3 476.5,202.3 473.5,202.3 470.5,202.3 467.5,202.2 464.5,202.2 461.5,202.1 458.5,202.1 455.5,202.1 452.5,202.0 449.5,202.0 446.5,201.9 443.5,201.9 440.5,201.8 437.5,201.7 434.5,201.7 431.5,201.6 428.5,201.5 425.5,201.5 422.5,201.4 419.5,201.4 416.5,201.3 413.5,201.2 410.5,201.1 407.5,201.1 404.5,201.0 401.5,200.9 398.5,200.9 395.5,200.8 392.5,200.7 389.5,200.6 386.5,200.4 383.5,200.3 380.5,200.2 377.5,200.1 374.5,200.0 371.5,199.9 368.5,199.8 365.5,199.7 362.5,199.6 359.5,199.5 356.5,199.5 353.5,199.4 350.5,199.4 347.5,199.4 344.5,199.5 341.5,199.5 338.5,199.5 335.5,199.6 332.5,199.6 329.5,199.7 326.5,199.7 323.5,199.8 320.5,199.8 317.5,199.9 314.5,199.9 311.5,200.0 308.5,200.0 305.5,200.1 302.5,200.1 299.5,200.1 296.5,199.9 293.5,199.6 290.5,199.1 287.5,198.5 284.5,197.7 281.5,196.9 278.5,195.9 275.5,195.0 272.5,193.9 269.5,192.9 266.5,191.9 263.5,190.9 260.5,189.9 257.5,189.1 254.5,188.2 251.5,187.4 248.5,186.5 245.5,185.7 242.5,184.8 239.5,183.9 236.5,183.0 233.5,182.1 230.5,181.0 227.5,180.0 224.5,178.9 221.5,177.9 218.5,176.8 215.5,175.6 212.5,174.5 209.5,173.3 206.5,172.0 203.5,170.8 200.5,169.5" fill="#7803fb"/>
<polygon points="104.5,129.2 107.5,129.4 110.5,129.8 113.5,130.3 116.5,130.9 119.5,131.5 122.5,132.3 125.5,133.2 128.5,134.2 131.5,135.4 134.5,136.6 137.5,137.9 140.5,139.3 140.5,139.3 137.5,137.9 134.5,136.7 131.5,135.6 128.5,134.5 125.5,133.5 122.5,132.6 119.5,131.9 116.5,131.3 113.5,130.8 110.5,130.4 107.5,130.0 104.5,129.8" fill="#7903fc"/>
<polygon points="188.5,162.4 191.5,163.6 194.5,164.7 197.5,165.9 200.5,167.1 203.5,168.2 206.5,169.3 209.5,170.4 212.5,171.5 215.5,172.5 218.5,173.5 221.5,174.5 224.5,175.4 227.5,176.3 230.5,177.3 233.5,178.2 236.5,179.2 239.5,180.2 242.5,181.1 245.5,182.0 248.5,182.9 251.5,183.8 254.5,184.7 257.5,185.6 260.5,186.5 263.5,187.5 266.5,188.5 269.5,189.6 272.5,190.7 275.5,191.8 278.5,192.8 281.5,193.8 284.5,194.7 287.5,195.4 290.5,196.1 293.5,196.6 296.5,197.0 299.5,197.1 302.5,197.2 305.5,197.2 308.5,197.2 311.5,197.2 314.5,197.1 317.5,197.1 320.5,197.1 323.5,197.1 326.5,197.1 329.5,197.1 332.5,197.0 335.5,197.0 338.5,197.0 341.5,197.0 344.5,197.0 347.5,197.0 350.5,197.0 353.5,197.1 356.5,197.1 359.5,197.2 362.5,197.3 365.5,197.4 368.5,197.5 371.5,197.6 374.5,197.7 377.5,197.9 380.5,198.0 383.5,198.2 386.5,198.3 389.5,198.4 392.5,198.6 395.5,198.7 398.5,198.8 401.5,198.9 404.5,199.0 407.5,199.1 410.5,199.1 413.5,199.2 416.5,199.3 419.5,199.4 422.5,199.5 425.5,199.6 428.5,199.6 431.5,199.7 434.5,199.8 437.5,199.9 440.5,199.9 443.5,200.0 446.5,200.1 449.5,200.1 452.5,200.2 455.5,200.3 458.5,200.3 461.5,200.4 464.5,200.4 467.5,200.4 470.5,200.5 473.5,200.5 476.5,200.6 479.5,200.6 482.5,200.6 483.0,200.6 483.0,201.5 482.5,201.5 479.5,201.5 476.5,201.4 473.5,201.4 470.5,201.4 467.5,201.3 464.5,201.3 461.5,201.2 458.5,201.2 455.5,201.1 452.5,201.1 449.5,201.0 446.5,201.0 443.5,200.9 440.5,200.8 437.5,200.8 434.5,200.7 431.5,200.6 428.5,200.6 425.5,200.5 422.5,200.4 419.5,200.4 416.5,200.3 413.5,200.2 410.5,200.1 407.5,200.0 404.5,200.0 401.5,199.9 398.5,199.8 395.5,199.7 392.5,199.6 389.5,199.5 386.5,199.4 383.5,199.2 380.5,199.1 377.5,199.0 374.5,198.8 371.5,198.7 368.5,198.6 365.5,198.5 362.5,198.4 359.5,198.3 356.5,198.3 353.5,198.2 350.5,198.2 347.5,198.2 344.5,198.2 341.5,198.2 338.5,198.3 335.5,198.3 332.5,198.3 329.5,198.3 326.5,198.4 323.5,198.4 320.5,198.5 317.5,198.5 314.5,198.5 311.5,198.6 308.5,198.6 305.5,198.6 302.5,198.6 299.5,198.6 296.5,198.4 293.5,198.1 290.5,197.6 287.5,197.0 284.5,196.2 281.5,195.3 278.5,194.4 275.5,193.3 272.5,192.3 269.5,191.2 266.5,190.2 263.5,189.2 260.5,188.2 257.5,187.3 254.5,186.5 251.5,185.6 248.5,184.7 245.5,183.8 242.5,182.9 239.5,182.0 236.5,181.1 233.5,180.2 230.5,179.2 227.5,178.2 224.5,177.1 221.5,176.0 218.5,174.9 215.5,173.8 212.5,172.6 209.5,171.4 206.5,170.1 203.5,168.9 200.5,167.6 197.5,166.3 194.5,165.0 191.5,163.6 188.5,162.4" fill="#7903fc"/>
<polygon points="104.5,126.8 107.5,127.1 110.5,127.5 113.5,127.9 116.5,128.5 119.5,129.1 122.5,129.8 125.5,130.7 128.5,131.8 131.5,132.9 134.5,134.1 137.5,135.4 140.5,136.8 143.5,138.5 146.5,140.3 149.5,142.3 152.5,144.2 155.5,146.1 158.5,147.8 161.5,149.2 164.5,150.5 167.5,151.7 170.5,152.9 173.5,154.0 176.5,155.1 179.5,156.3 182.5,157.5 185.5,158.7 188.5,159.9 191.5,161.1 194.5,162.3 197.5,163.5 200.5,164.6 203.5,165.8 206.5,167.0 209.5,168.1 212.5,169.2 215.5,170.2 218.5,171.3 221.5,172.3 224.5,173.3 227.5,174.4 230.5,175.4 233.5,176.4 236.5,177.4 239.5,178.3 242.5,179.3 245.5,180.3 248.5,181.2 251.5,182.1 254.5,183.0 257.5,183.9 260.5,184.9 263.5,185.9 266.5,186.9 269.5,188.0 272.5,189.1 275.5,190.2 278.5,191.2 281.5,192.2 284.5,193.2 287.5,194.0 290.5,194.6 293.5,195.2 296.5,195.5 299.5,195.7 302.5,195.7 305.5,195.8 308.5,195.8 311.5,195.8 314.5,195.8 317.5,195.8 320.5,195.8 323.5,195.8 326.5,195.8 329.5,195.8 332.5,195.8 335.5,195.8 338.5,195.8 341.5,195.8 344.5,195.8 347.5,195.9 350.5,195.9 353.5,195.9 356.5,196.0 359.5,196.1 362.5,196.2 365.5,196.3 368.5,196.4 371.5,196.6 374.5,196.7 377.5,196.8 380.5,197.0 383.5,197.1 386.5,197.3 389.5,197.4 392.5,197.6 395.5,197.7 398.5,197.8 401.5,197.9 404.5,198.0 407.5,198.1 410.5,198.2 413.5,198.3 416.5,198.4 419.5,198.5 422.5,198.6 425.5,198.7 428.5,198.7 431.5,198.8 434.5,198.9 437.5,199.0 440.5,199.1 443.5,199.1 446.5,199.2 449.5,199.3 452.5,199.4 455.5,199.4 458.5,199.5 461.5,199.5 464.5,199.6 467.5,199.6 470.5,199.7 473.5,199.7 476.5,199.8 479.5,199.8 482.5,199.8 483.0,199.8 483.0,200.6 482.5,200.6 479.5,200.6 476.5,200.6 473.5,200.5 470.5,200.5 467.5,200.4 464.5,200.4 461.5,200.4 458.5,200.3 455.5,200.3 452.5,200.2 449.5,200.1 446.5,200.1 443.5,200.0 440.5,199.9 437.5,199.9 434.5,199.8 431.5,199.7 428.5,199.6 425.5,199.6 422.5,199.5 419.5,199.4 416.5,199.3 413.5,199.2 410.5,199.1 407.5,199.1 404.5,199.0 401.5,198.9 398.5,198.8 395.5,198.7 392.5,198.6 389.5,198.4 386.5,198.3 383.5,198.2 380.5,198.0 377.5,197.9 374.5,197.7 371.5,197.6 368.5,197.5 365.5,197.4 362.5,197.3 359.5,197.2 356.5,197.1 353.5,197.1 350.5,197.0 347.5,197.0 344.5,197.0 341.5,197.0 338.5,197.0 335.5,197.0 332.5,197.0 329.5,197.1 326.5,197.1 323.5,197.1 320.5,197.1 317.5,197.1 314.5,197.1 311.5,197.2 308.5,197.2 305.5,197.2 302.5,197.2 299.5,197.1 296.5,197.0 293.5,196.6 290.5,196.1 287.5,195.4 284.5,194.7 281.5,193.8 278.5,192.8 275.5,191.8 272.5,190.7 269.5,189.6 266.5,188.5 263.5,187.5 260.5,186.5 257.5,185.6 254.5,184.7 251.5,183.8 248.5,182.9 245.5,182.0 242.5,181.1 239.5,180.2 236.5,179.2 233.5,178.2 230.5,177.3 227.5,176.3 224.5,175.3 221.5,174.2 218.5,173.1 215.5,172.0 212.5,170.8 209.5,169.5 206.5,168.3 203.5,167.0 200.5,165.7 197.5,164.4 194.5,163.1 191.5,161.8 188.5,160.4 185.5,159.1 182.5,157.9 179.5,156.6 176.5,155.4 173.5,154.2 170.5,153.1 167.5,151.9 164.5,150.8 161.5,149.5 158.5,148.1 155.5,146.4 152.5,144.6 149.5,142.7 146.5,140.8 143.5,139.0 140.5,137.4 137.5,136.1 134.5,134.9 131.5,133.7 128.5,132.6 125.5,131.6 122.5,130.8 119.5,130.0 116.5,129.5 113.5,128.9 110.5,128.5 107.5,128.1 104.5,127.9" fill="#7a03fd"/>
<polygon points="104.5,124.5 107.5,124.8 110.5,125.1 113.5,125.6 116.5,126.1 119.5,126.7 122.5,127.5 125.5,128.4 128.5,129.4 131.5,130.5 134.5,131.7 137.5,133.0 140.5,134.3 143.5,136.0 146.5,137.9 149.5,139.8 152.5,141.8 155.5,143.6 158.5,145.3 161.5,146.7 164.5,148.0 167.5,149.2 170.5,150.3 173.5,151.5 176.5,152.6 179.5,153.8 182.5,155.0 185.5,156.2 188.5,157.4 191.5,158.7 194.5,159.9 197.5,161.1 200.5,162.3 203.5,163.5 206.5,164.7 209.5,165.9 212.5,167.0 215.5,168.2 218.5,169.3 221.5,170.4 224.5,171.5 227.5,172.5 230.5,173.6 233.5,174.6 236.5,175.6 239.5,176.6 242.5,177.6 245.5,178.5 248.5,179.5 251.5,180.4 254.5,181.4 257.5,182.3 260.5,183.2 263.5,184.3 266.5,185.3 269.5,186.4 272.5,187.6 275.5,188.7 278.5,189.7 281.5,190.7 284.5,191.7 287.5,192.5 290.5,193.2 293.5,193.7 296.5,194.1 299.5,194.3 302.5,194.4 305.5,194.4 308.5,194.4 311.5,194.5 314.5,194.5 317.5,194.5 320.5,194.5 323.5,194.6 326.5,194.6 329.5,194.6 332.5,194.6 335.5,194.6 338.5,194.6 341.5,194.7 344.5,194.7 347.5,194.7 350.5,194.8 353.5,194.8 356.5,194.9 359.5,195.0 362.5,195.1 365.5,195.3 368.5,195.4 371.5,195.5 374.5,195.7 377.5,195.9 380.5,196.0 383.5,196.2 386.5,196.3 389.5,196.5 392.5,196.6 395.5,196.8 398.5,196.9 401.5,197.0 404.5,197.1 407.5,197.2 410.5,197.3 413.5,197.4 416.5,197.5 419.5,197.6 422.5,197.7 425.5,197.8 428.5,197.9 431.5,198.0 434.5,198.1 437.5,198.2 440.5,198.2 443.5,198.3 446.5,198.4 449.5,198.5 452.5,198.6 455.5,198.6 458.5,198.7 461.5,198.7 464.5,198.8 467.5,198.9 470.5,198.9 473.5,198.9 476.5,199.0 479.5,199.0 482.5,199.1 483.0,199.1 483.0,199.8 482.5,199.8 479.5,199.8 476.5,199.8 473.5,199.7 470.5,199.7 467.5,199.6 464.5,199.6 461.5,199.5 458.5,199.5 455.5,199.4 452.5,199.4 449.5,199.3 446.5,199.2 443.5,199.1 440.5,199.1 437.5,199.0 434.5,198.9 431.5,198.8 428.5,198.7 425.5,198.7 422.5,198.6 419.5,198.5 416.5,198.4 413.5,198.3 410.5,198.2 407.5,198.1 404.5,198.0 401.5,197.9 398.5,197.8 395.5,197.7 392.5,197.6 389.5,197.4 386.5,197.3 383.5,197.1 380.5,197.0 377.5,196.8 374.5,196.7 371.5,196.6 368.5,196.4 365.5,196.3 362.5,196.2 359.5,196.1 356.5,196.0 353.5,195.9 350.5,195.9 347.5,195.9 344.5,195.8 341.5,195.8 338.5,195.8 335.5,195.8 332.5,195.8 329.5,195.8 326.5,195.8 323.5,195.8 320.5,195.8 317.5,195.8 314.5,195.8 311.5,195.8 308.5,195.8 305.5,195.8 302.5,195.7 299.5,195.7 296.5,195.5 293.5,195.2 290.5,194.6 287.5,194.0 284.5,193.2 281.5,192.2 278.5,191.2 275.5,190.2 272.5,189.1 269.5,188.0 266.5,186.9 263.5,185.9 260.5,184.9 257.5,183.9 254.5,183.0 251.5,182.1 248.5,181.2 245.5,180.3 242.5,179.3 239.5,178.3 236.5,177.4 233.5,176.4 230.5,175.4 227.5,174.4 224.5,173.3 221.5,172.3 218.5,171.2 215.5,170.1 212.5,169.0 209.5,167.8 206.5,166.5 203.5,165.2 200.5,163.9 197.5,162.6 194.5,161.3 191.5,160.0 188.5,158.6 185.5,157.3 182.5,156.1 179.5,154.8 176.5,153.6 173.5,152.4 170.5,151.3 167.5,150.1 164.5,148.9 161.5,147.6 158.5,146.2 155.5,144.6 152.5,142.8 149.5,140.9 146.5,139.0 143.5,137.2 140.5,135.6 137.5,134.3 134.5,133.1 131.5,131.9 128.5,130.8 125.5,129.9 122.5,129.0 119.5,128.3 116.5,127.7 113.5,127.1 110.5,126.7 107.5,126.3 104.5,126.1" fill="#7c03fe"/>
<polygon points="104.5,122.4 107.5,122.6 110.5,123.0 113.5,123.4 116.5,123.9 119.5,124.5 122.5,125.3 125.5,126.2 128.5,127.1 131.5,128.2 134.5,129.4 137.5,130.7 140.5,132.1 143.5,133.7 146.5,135.6 149.5,137.5 152.5,139.4 155.5,141.3 158.5,143.0 161.5,144.4 164.5,145.7 167.5,146.9 170.5,148.0 173.5,149.1 176.5,150.2 179.5,151.4 182.5,152.7 185.5,153.9 188.5,155.1 191.5,156.4 194.5,157.6 197.5,158.9 200.5,160.2 203.5,161.4 206.5,162.7 209.5,163.9 212.5,165.1 215.5,166.3 218.5,167.4 221.5,168.6 224.5,169.6 227.5,170.7 230.5,171.8 233.5,172.8 236.5,173.8 239.5,174.9 242.5,175.9 245.5,176.8 248.5,177.8 251.5,178.8 254.5,179.7 257.5,180.7 260.5,181.6 263.5,182.7 266.5,183.8 269.5,184.9 272.5,186.0 275.5,187.1 278.5,188.2 281.5,189.2 284.5,190.2 287.5,191.0 290.5,191.7 293.5,192.3 296.5,192.7 299.5,192.9 302.5,193.0 305.5,193.1 308.5,193.1 311.5,193.2 314.5,193.2 317.5,193.3 320.5,193.3 323.5,193.3 326.5,193.4 329.5,193.4 332.5,193.4 335.5,193.5 338.5,193.5 341.5,193.6 344.5,193.6 347.5,193.6 350.5,193.7 353.5,193.8 356.5,193.9 359.5,194.0 362.5,194.1 365.5,194.3 368.5,194.4 371.5,194.6 374.5,194.7 377.5,194.9 380.5,195.1 383.5,195.2 386.5,195.4 389.5,195.6 392.5,195.7 395.5,195.9 398.5,196.0 401.5,196.1 404.5,196.2 407.5,196.4 410.5,196.5 413.5,196.6 416.5,196.7 419.5,196.8 422.5,196.9 425.5,197.0 428.5,197.1 431.5,197.2 434.5,197.3 437.5,197.4 440.5,197.5 443.5,197.5 446.5,197.6 449.5,197.7 452.5,197.8 455.5,197.9 458.5,197.9 461.5,198.0 464.5,198.1 467.5,198.1 470.5,198.2 473.5,198.2 476.5,198.3 479.5,198.3 482.5,198.3 483.0,198.4 483.0,199.1 482.5,199.1 479.5,199.0 476.5,199.0 473.5,198.9 470.5,198.9 467.5,198.9 464.5,198.8 461.5,198.7 458.5,198.7 455.5,198.6 452.5,198.6 449.5,198.5 446.5,198.4 443.5,198.3 440.5,198.2 437.5,198.2 434.5,198.1 431.5,198.0 428.5,197.9 425.5,197.8 422.5,197.7 419.5,197.6 416.5,197.5 413.5,197.4 410.5,197.3 407.5,197.2 404.5,197.1 401.5,197.0 398.5,196.9 395.5,196.8 392.5,196.6 389.5,196.5 386.5,196.3 383.5,196.2 380.5,196.0 377.5,195.9 374.5,195.7 371.5,195.5 368.5,195.4 365.5,195.3 362.5,195.1 359.5,195.0 356.5,194.9 353.5,194.8 350.5,194.8 347.5,194.7 344.5,194.7 341.5,194.7 338.5,194.6 335.5,194.6 332.5,194.6 329.5,194.6 326.5,194.6 323.5,194.6 320.5,194.5 317.5,194.5 314.5,194.5 311.5,194.5 308.5,194.4 305.5,194.4 302.5,194.4 299.5,194.3 296.5,194.1 293.5,193.7 290.5,193.2 287.5,192.5 284.5,191.7 281.5,190.7 278.5,189.7 275.5,188.7 272.5,187.6 269.5,186.4 266.5,185.3 263.5,184.3 260.5,183.2 257.5,182.3 254.5,181.4 251.5,180.4 248.5,179.5 245.5,178.5 242.5,177.6 239.5,176.6 236.5,175.6 233.5,174.6 230.5,173.6 227.5,172.5 224.5,171.5 221.5,170.4 218.5,169.3 215.5,168.2 212.5,167.0 209.5,165.8 206.5,164.6 203.5,163.4 200.5,162.1 197.5,160.8 194.5,159.5 191.5,158.2 188.5,156.9 185.5,155.6 182.5,154.3 179.5,153.0 176.5,151.8 173.5,150.6 170.5,149.5 167.5,148.3 164.5,147.1 161.5,145.8 158.5,144.4 155.5,142.8 152.5,141.0 149.5,139.1 146.5,137.2 143.5,135.5 140.5,133.9 137.5,132.5 134.5,131.3 131.5,130.2 128.5,129.1 125.5,128.1 122.5,127.2 119.5,126.5 116.5,125.9 113.5,125.4 110.5,124.9 107.5,124.5 104.5,124.2" fill="#7d03fe"/>
<polygon points="104.5,120.4 107.5,120.7 110.5,121.1 113.5,121.5 116.5,122.1 119.5,122.7 122.5,123.4 125.5,124.3 128.5,125.3 131.5,126.4 134.5,127.5 137.5,128.7 140.5,130.1 143.5,131.7 146.5,133.5 149.5,135.4 152.5,137.3 155.5,139.1 158.5,140.8 161.5,142.2 164.5,143.5 167.5,144.7 170.5,145.8 173.5,146.9 176.5,148.1 179.5,149.3 182.5,150.5 185.5,151.8 188.5,153.1 191.5,154.4 194.5,155.7 197.5,157.0 200.5,158.3 203.5,159.6 206.5,160.8 209.5,162.1 212.5,163.3 215.5,164.5 218.5,165.6 221.5,166.8 224.5,167.9 227.5,169.0 230.5,170.0 233.5,171.1 236.5,172.1 239.5,173.2 242.5,174.2 245.5,175.2 248.5,176.2 251.5,177.2 254.5,178.1 257.5,179.1 260.5,180.1 263.5,181.1 266.5,182.2 269.5,183.4 272.5,184.5 275.5,185.6 278.5,186.7 281.5,187.8 284.5,188.7 287.5,189.6 290.5,190.3 293.5,190.9 296.5,191.3 299.5,191.6 302.5,191.7 305.5,191.8 308.5,191.9 311.5,192.0 314.5,192.0 317.5,192.1 320.5,192.1 323.5,192.2 326.5,192.2 329.5,192.3 332.5,192.3 335.5,192.4 338.5,192.4 341.5,192.5 344.5,192.5 347.5,192.6 350.5,192.7 353.5,192.8 356.5,192.9 359.5,193.0 362.5,193.1 365.5,193.3 368.5,193.5 371.5,193.6 374.5,193.8 377.5,194.0 380.5,194.2 383.5,194.3 386.5,194.5 389.5,194.7 392.5,194.8 395.5,195.0 398.5,195.1 401.5,195.3 404.5,195.4 407.5,195.5 410.5,195.6 413.5,195.8 416.5,195.9 419.5,196.0 422.5,196.1 425.5,196.2 428.5,196.3 431.5,196.4 434.5,196.5 437.5,196.6 440.5,196.7 443.5,196.8 446.5,196.9 449.5,197.0 452.5,197.1 455.5,197.2 458.5,197.2 461.5,197.3 464.5,197.4 467.5,197.4 470.5,197.5 473.5,197.5 476.5,197.6 479.5,197.6 482.5,197.7 483.0,197.7 483.0,198.4 482.5,198.3 479.5,198.3 476.5,198.3 473.5,198.2 470.5,198.2 467.5,198.1 464.5,198.1 461.5,198.0 458.5,197.9 455.5,197.9 452.5,197.8 449.5,197.7 446.5,197.6 443.5,197.5 440.5,197.5 437.5,197.4 434.5,197.3 431.5,197.2 428.5,197.1 425.5,197.0 422.5,196.9 419.5,196.8 416.5,196.7 413.5,196.6 410.5,196.5 407.5,196.4 404.5,196.2 401.5,196.1 398.5,196.0 395.5,195.9 392.5,195.7 389.5,195.6 386.5,195.4 383.5,195.2 380.5,195.1 377.5,194.9 374.5,194.7 371.5,194.6 368.5,194.4 365.5,194.3 362.5,194.1 359.5,194.0 356.5,193.9 353.5,193.8 350.5,193.7 347.5,193.6 344.5,193.6 341.5,193.6 338.5,193.5 335.5,193.5 332.5,193.4 329.5,193.4 326.5,193.4 323.5,193.3 320.5,193.3 317.5,193.3 314.5,193.2 311.5,193.2 308.5,193.1 305.5,193.1 302.5,193.0 299.5,192.9 296.5,192.7 293.5,192.3 290.5,191.7 287.5,191.0 284.5,190.2 281.5,189.2 278.5,188.2 275.5,187.1 272.5,186.0 269.5,184.9 266.5,183.8 263.5,182.7 260.5,181.6 257.5,180.7 254.5,179.7 251.5,178.8 248.5,177.8 245.5,176.8 242.5,175.9 239.5,174.9 236.5,173.8 233.5,172.8 230.5,171.8 227.5,170.7 224.5,169.6 221.5,168.6 218.5,167.4 215.5,166.3 212.5,165.1 209.5,163.9 206.5,162.7 203.5,161.4 200.5,160.2 197.5,158.9 194.5,157.6 191.5,156.3 188.5,155.0 185.5,153.7 182.5,152.5 179.5,151.2 176.5,150.0 173.5,148.8 170.5,147.7 167.5,146.5 164.5,145.3 161.5,144.0 158.5,142.6 155.5,141.0 152.5,139.2 149.5,137.3 146.5,135.4 143.5,133.6 140.5,132.0 137.5,130.6 134.5,129.4 131.5,128.2 128.5,127.1 125.5,126.2 122.5,125.3 119.5,124.5 116.5,123.9 113.5,123.4 110.5,123.0 107.5,122.6 104.5,122.3" fill="#7e04ff"/>
<polygon points="104.5,118.6 107.5,118.8 110.5,119.2 113.5,119.7 116.5,120.3 119.5,120.9 122.5,121.6 125.5,122.5 128.5,123.5 131.5,124.5 134.5,125.7 137.5,126.9 140.5,128.2 143.5,129.8 146.5,131.6 149.5,133.5 152.5,135.3 155.5,137.2 158.5,138.8 161.5,140.2 164.5,141.5 167.5,142.7 170.5,143.9 173.5,145.0 176.5,146.2 179.5,147.4 182.5,148.7 185.5,149.9 188.5,151.2 191.5,152.5 194.5,153.9 197.5,155.2 200.5,156.5 203.5,157.8 206.5,159.0 209.5,160.3 212.5,161.5 215.5,162.7 218.5,163.9 221.5,165.0 224.5,166.1 227.5,167.3 230.5,168.3 233.5,169.4 236.5,170.5 239.5,171.5 242.5,172.6 245.5,173.6 248.5,174.6 251.5,175.6 254.5,176.6 257.5,177.6 260.5,178.6 263.5,179.6 266.5,180.7 269.5,181.9 272.5,183.0 275.5,184.2 278.5,185.3 281.5,186.3 284.5,187.3 287.5,188.1 290.5,188.9 293.5,189.5 296.5,190.0 299.5,190.3 302.5,190.4 305.5,190.5 308.5,190.6 311.5,190.7 314.5,190.8 317.5,190.9 320.5,191.0 323.5,191.0 326.5,191.1 329.5,191.1 332.5,191.2 335.5,191.3 338.5,191.3 341.5,191.4 344.5,191.5 347.5,191.6 350.5,191.7 353.5,191.8 356.5,191.9 359.5,192.1 362.5,192.2 365.5,192.4 368.5,192.6 371.5,192.7 374.5,192.9 377.5,193.1 380.5,193.3 383.5,193.5 386.5,193.7 389.5,193.8 392.5,194.0 395.5,194.2 398.5,194.3 401.5,194.5 404.5,194.6 407.5,194.7 410.5,194.9 413.5,195.0 416.5,195.1 419.5,195.2 422.5,195.3 425.5,195.5 428.5,195.6 431.5,195.7 434.5,195.8 437.5,195.9 440.5,196.0 443.5,196.1 446.5,196.2 449.5,196.3 452.5,196.4 455.5,196.5 458.5,196.5 461.5,196.6 464.5,196.7 467.5,196.7 470.5,196.8 473.5,196.9 476.5,196.9 479.5,197.0 482.5,197.0 483.0,197.0 483.0,197.7 482.5,197.7 479.5,197.6 476.5,197.6 473.5,197.5 470.5,197.5 467.5,197.4 464.5,197.4 461.5,197.3 458.5,197.2 455.5,197.2 452.5,197.1 449.5,197.0 446.5,196.9 443.5,196.8 440.5,196.7 437.5,196.6 434.5,196.5 431.5,196.4 428.5,196.3 425.5,196.2 422.5,196.1 419.5,196.0 416.5,195.9 413.5,195.8 410.5,195.6 407.5,195.5 404.5,195.4 401.5,195.3 398.5,195.1 395.5,195.0 392.5,194.8 389.5,194.7 386.5,194.5 383.5,194.3 380.5,194.2 377.5,194.0 374.5,193.8 371.5,193.6 368.5,193.5 365.5,193.3 362.5,193.1 359.5,193.0 356.5,192.9 353.5,192.8 350.5,192.7 347.5,192.6 344.5,192.5 341.5,192.5 338.5,192.4 335.5,192.4 332.5,192.3 329.5,192.3 326.5,192.2 323.5,192.2 320.5,192.1 317.5,192.1 314.5,192.0 311.5,192.0 308.5,191.9 305.5,191.8 302.5,191.7 299.5,191.6 296.5,191.3 293.5,190.9 290.5,190.3 287.5,189.6 284.5,188.7 281.5,187.8 278.5,186.7 275.5,185.6 272.5,184.5 269.5,183.4 266.5,182.2 263.5,181.1 260.5,180.1 257.5,179.1 254.5,178.1 251.5,177.2 248.5,176.2 245.5,175.2 242.5,174.2 239.5,173.2 236.5,172.1 233.5,171.1 230.5,170.0 227.5,169.0 224.5,167.9 221.5,166.8 218.5,165.6 215.5,164.5 212.5,163.3 209.5,162.1 206.5,160.8 203.5,159.6 200.5,158.3 197.5,157.0 194.5,155.7 191.5,154.4 188.5,153.1 185.5,151.8 182.5,150.5 179.5,149.3 176.5,148.1 173.5,146.9 170.5,145.7 167.5,144.6 164.5,143.4 161.5,142.1 158.5,140.7 155.5,139.0 152.5,137.2 149.5,135.4 146.5,133.5 143.5,131.7 140.5,130.1 137.5,128.7 134.5,127.5 131.5,126.4 128.5,125.3 125.5,124.3 122.5,123.4 119.5,122.7 116.5,122.1 113.5,121.5 110.5,121.1 107.5,120.7 104.5,120.4" fill="#7f04ff"/>
<polygon points="104.5,116.8 107.5,117.1 110.5,117.5 113.5,117.9 116.5,118.5 119.5,119.1 122.5,119.9 125.5,120.7 128.5,121.7 131.5,122.8 134.5,123.9 137.5,125.1 140.5,126.5 143.5,128.0 146.5,129.8 149.5,131.7 152.5,133.5 155.5,135.3 158.5,137.0 161.5,138.4 164.5,139.7 167.5,140.9 170.5,142.0 173.5,143.2 176.5,144.4 179.5,145.6 182.5,146.9 185.5,148.1 188.5,149.4 191.5,150.8 194.5,152.1 197.5,153.4 200.5,154.7 203.5,156.0 206.5,157.3 209.5,158.6 212.5,159.8 215.5,161.0 218.5,162.2 221.5,163.3 224.5,164.5 227.5,165.6 230.5,166.7 233.5,167.8 236.5,168.9 239.5,169.9 242.5,171.0 245.5,172.0 248.5,173.0 251.5,174.0 254.5,175.0 257.5,176.0 260.5,177.1 263.5,178.1 266.5,179.3 269.5,180.4 272.5,181.6 275.5,182.7 278.5,183.8 281.5,184.9 284.5,185.9 287.5,186.7 290.5,187.5 293.5,188.2 296.5,188.6 299.5,189.0 302.5,189.1 305.5,189.3 308.5,189.4 311.5,189.5 314.5,189.6 317.5,189.7 320.5,189.8 323.5,189.9 326.5,190.0 329.5,190.1 332.5,190.1 335.5,190.2 338.5,190.3 341.5,190.4 344.5,190.5 347.5,190.6 350.5,190.7 353.5,190.8 356.5,191.0 359.5,191.1 362.5,191.3 365.5,191.5 368.5,191.7 371.5,191.9 374.5,192.1 377.5,192.3 380.5,192.4 383.5,192.6 386.5,192.8 389.5,193.0 392.5,193.2 395.5,193.4 398.5,193.5 401.5,193.7 404.5,193.8 407.5,194.0 410.5,194.1 413.5,194.2 416.5,194.4 419.5,194.5 422.5,194.6 425.5,194.7 428.5,194.9 431.5,195.0 434.5,195.1 437.5,195.2 440.5,195.3 443.5,195.4 446.5,195.5 449.5,195.6 452.5,195.7 455.5,195.8 458.5,195.9 461.5,196.0 464.5,196.0 467.5,196.1 470.5,196.2 473.5,196.2 476.5,196.3 479.5,196.3 482.5,196.4 483.0,196.4 483.0,197.0 482.5,197.0 479.5,197.0 476.5,196.9 473.5,196.9 470.5,196.8 467.5,196.7 464.5,196.7 461.5,196.6 458.5,196.5 455.5,196.5 452.5,196.4 449.5,196.3 446.5,196.2 443.5,196.1 440.5,196.0 437.5,195.9 434.5,195.8 431.5,195.7 428.5,195.6 425.5,195.5 422.5,195.3 419.5,195.2 416.5,195.1 413.5,195.0 410.5,194.9 407.5,194.7 404.5,194.6 401.5,194.5 398.5,194.3 395.5,194.2 392.5,194.0 389.5,193.8 386.5,193.7 383.5,193.5 380.5,193.3 377.5,193.1 374.5,192.9 371.5,192.7 368.5,192.6 365.5,192.4 362.5,192.2 359.5,192.1 356.5,191.9 353.5,191.8 350.5,191.7 347.5,191.6 344.5,191.5 341.5,191.4 338.5,191.3 335.5,191.3 332.5,191.2 329.5,191.1 326.5,191.1 323.5,191.0 320.5,191.0 317.5,190.9 314.5,190.8 311.5,190.7 308.5,190.6 305.5,190.5 302.5,190.4 299.5,190.3 296.5,190.0 293.5,189.5 290.5,188.9 287.5,188.1 284.5,187.3 281.5,186.3 278.5,185.3 275.5,184.2 272.5,183.0 269.5,181.9 266.5,180.7 263.5,179.6 260.5,178.6 257.5,177.6 254.5,176.6 251.5,175.6 248.5,174.6 245.5,173.6 242.5,172.6 239.5,171.5 236.5,170.5 233.5,169.4 230.5,168.3 227.5,167.3 224.5,166.1 221.5,165.0 218.5,163.9 215.5,162.7 212.5,161.5 209.5,160.3 206.5,159.0 203.5,157.8 200.5,156.5 197.5,155.2 194.5,153.9 191.5,152.5 188.5,151.2 185.5,149.9 182.5,148.7 179.5,147.4 176.5,146.2 173.5,145.0 170.5,143.9 167.5,142.7 164.5,141.5 161.5,140.2 158.5,138.8 155.5,137.2 152.5,135.3 149.5,133.5 146.5,131.6 143.5,129.8 140.5,128.2 137.5,126.9 134.5,125.7 131.5,124.5 128.5,123.5 125.5,122.5 122.5,121.6 119.5,120.9 116.5,120.3 113.5,119.7 110.5,119.2 107.5,118.8 104.5,118.6" fill="#8004ff"/>
<polygon points="104.5,115.0 107.5,115.3 110.5,115.7 113.5,116.2 116.5,116.8 119.5,117.4 122.5,118.2 125.5,119.1 128.5,120.0 131.5,121.1 134.5,122.2 137.5,123.4 140.5,124.8 143.5,126.3 146.5,128.1 149.5,129.9 152.5,131.8 155.5,133.5 158.5,135.2 161.5,136.6 164.5,137.9 167.5,139.1 170.5,140.3 173.5,141.4 176.5,142.6 179.5,143.9 182.5,145.1 185.5,146.4 188.5,147.7 191.5,149.0 194.5,150.4 197.5,151.7 200.5,153.0 203.5,154.3 206.5,155.6 209.5,156.9 212.5,158.1 215.5,159.3 218.5,160.5 221.5,161.7 224.5,162.8 227.5,164.0 230.5,165.1 233.5,166.2 236.5,167.3 239.5,168.4 242.5,169.4 245.5,170.5 248.5,171.5 251.5,172.5 254.5,173.6 257.5,174.6 260.5,175.6 263.5,176.7 266.5,177.8 269.5,179.0 272.5,180.1 275.5,181.3 278.5,182.4 281.5,183.5 284.5,184.5 287.5,185.4 290.5,186.2 293.5,186.8 296.5,187.3 299.5,187.7 302.5,187.9 305.5,188.1 308.5,188.2 311.5,188.4 314.5,188.5 317.5,188.6 320.5,188.7 323.5,188.8 326.5,188.9 329.5,189.0 332.5,189.1 335.5,189.2 338.5,189.3 341.5,189.4 344.5,189.5 347.5,189.6 350.5,189.7 353.5,189.9 356.5,190.1 359.5,190.2 362.5,190.4 365.5,190.6 368.5,190.8 371.5,191.0 374.5,191.2 377.5,191.4 380.5,191.6 383.5,191.8 386.5,192.0 389.5,192.2 392.5,192.4 395.5,192.6 398.5,192.8 401.5,192.9 404.5,193.1 407.5,193.2 410.5,193.4 413.5,193.5 416.5,193.7 419.5,193.8 422.5,193.9 425.5,194.1 428.5,194.2 431.5,194.3 434.5,194.4 437.5,194.5 440.5,194.7 443.5,194.8 446.5,194.9 449.5,195.0 452.5,195.1 455.5,195.2 458.5,195.3 461.5,195.4 464.5,195.4 467.5,195.5 470.5,195.6 473.5,195.6 476.5,195.7 479.5,195.7 482.5,195.8 483.0,195.8 483.0,196.4 482.5,196.4 479.5,196.3 476.5,196.3 473.5,196.2 470.5,196.2 467.5,196.1 464.5,196.0 461.5,196.0 458.5,195.9 455.5,195.8 452.5,195.7 449.5,195.6 446.5,195.5 443.5,195.4 440.5,195.3 437.5,195.2 434.5,195.1 431.5,195.0 428.5,194.9 425.5,194.7 422.5,194.6 419.5,194.5 416.5,194.4 413.5,194.2 410.5,194.1 407.5,194.0 404.5,193.8 401.5,193.7 398.5,193.5 395.5,193.4 392.5,193.2 389.5,193.0 386.5,192.8 383.5,192.6 380.5,192.4 377.5,192.3 374.5,192.1 371.5,191.9 368.5,191.7 365.5,191.5 362.5,191.3 359.5,191.1 356.5,191.0 353.5,190.8 350.5,190.7 347.5,190.6 344.5,190.5 341.5,190.4 338.5,190.3 335.5,190.2 332.5,190.1 329.5,190.1 326.5,190.0 323.5,189.9 320.5,189.8 317.5,189.7 314.5,189.6 311.5,189.5 308.5,189.4 305.5,189.3 302.5,189.1 299.5,189.0 296.5,188.6 293.5,188.2 290.5,187.5 287.5,186.7 284.5,185.9 281.5,184.9 278.5,183.8 275.5,182.7 272.5,181.6 269.5,180.4 266.5,179.3 263.5,178.1 260.5,177.1 257.5,176.0 254.5,175.0 251.5,174.0 248.5,173.0 245.5,172.0 242.5,171.0 239.5,169.9 236.5,168.9 233.5,167.8 230.5,166.7 227.5,165.6 224.5,164.5 221.5,163.3 218.5,162.2 215.5,161.0 212.5,159.8 209.5,158.6 206.5,157.3 203.5,156.0 200.5,154.7 197.5,153.4 194.5,152.1 191.5,150.8 188.5,149.4 185.5,148.1 182.5,146.9 179.5,145.6 176.5,144.4 173.5,143.2 170.5,142.0 167.5,140.9 164.5,139.7 161.5,138.4 158.5,137.0 155.5,135.3 152.5,133.5 149.5,131.7 146.5,129.8 143.5,128.0 140.5,126.5 137.5,125.1 134.5,123.9 131.5,122.8 128.5,121.7 125.5,120.7 122.5,119.9 119.5,119.1 116.5,118.5 113.5,117.9 110.5,117.5 107.5,117.1 104.5,116.8" fill="#8004ff"/>
<polygon points="104.5,113.3 107.5,113.6 110.5,114.1 113.5,114.6 116.5,115.2 119.5,115.8 122.5,116.6 125.5,117.4 128.5,118.4 131.5,119.5 134.5,120.6 137.5,121.8 140.5,123.1 143.5,124.7 146.5,126.4 149.5,128.2 152.5,130.1 155.5,131.8 158.5,133.4 161.5,134.9 164.5,136.2 167.5,137.4 170.5,138.6 173.5,139.7 176.5,140.9 179.5,142.2 182.5,143.4 185.5,144.7 188.5,146.1 191.5,147.4 194.5,148.7 197.5,150.0 200.5,151.4 203.5,152.7 206.5,154.0 209.5,155.3 212.5,156.5 215.5,157.7 218.5,158.9 221.5,160.1 224.5,161.3 227.5,162.4 230.5,163.5 233.5,164.6 236.5,165.7 239.5,166.8 242.5,167.9 245.5,169.0 248.5,170.0 251.5,171.1 254.5,172.1 257.5,173.1 260.5,174.1 263.5,175.2 266.5,176.4 269.5,177.6 272.5,178.7 275.5,179.9 278.5,181.0 281.5,182.1 284.5,183.1 287.5,184.0 290.5,184.8 293.5,185.5 296.5,186.0 299.5,186.4 302.5,186.7 305.5,186.9 308.5,187.1 311.5,187.2 314.5,187.4 317.5,187.5 320.5,187.6 323.5,187.7 326.5,187.9 329.5,188.0 332.5,188.1 335.5,188.2 338.5,188.3 341.5,188.4 344.5,188.5 347.5,188.7 350.5,188.8 353.5,189.0 356.5,189.2 359.5,189.4 362.5,189.6 365.5,189.8 368.5,190.0 371.5,190.2 374.5,190.4 377.5,190.6 380.5,190.9 383.5,191.1 386.5,191.3 389.5,191.5 392.5,191.7 395.5,191.9 398.5,192.1 401.5,192.2 404.5,192.4 407.5,192.5 410.5,192.7 413.5,192.8 416.5,193.0 419.5,193.1 422.5,193.3 425.5,193.4 428.5,193.5 431.5,193.7 434.5,193.8 437.5,193.9 440.5,194.0 443.5,194.2 446.5,194.3 449.5,194.4 452.5,194.5 455.5,194.6 458.5,194.7 461.5,194.8 464.5,194.9 467.5,194.9 470.5,195.0 473.5,195.1 476.5,195.1 479.5,195.2 482.5,195.2 483.0,195.2 483.0,195.8 482.5,195.8 479.5,195.7 476.5,195.7 473.5,195.6 470.5,195.6 467.5,195.5 464.5,195.4 461.5,195.4 458.5,195.3 455.5,195.2 452.5,195.1 449.5,195.0 446.5,194.9 443.5,194.8 440.5,194.7 437.5,194.5 434.5,194.4 431.5,194.3 428.5,194.2 425.5,194.1 422.5,193.9 419.5,193.8 416.5,193.7 413.5,193.5 410.5,193.4 407.5,193.2 404.5,193.1 401.5,192.9 398.5,192.8 395.5,192.6 392.5,192.4 389.5,192.2 386.5,192.0 383.5,191.8 380.5,191.6 377.5,191.4 374.5,191.2 371.5,191.0 368.5,190.8 365.5,190.6 362.5,190.4 359.5,190.2 356.5,190.1 353.5,189.9 350.5,189.7 347.5,189.6 344.5,189.5 341.5,189.4 338.5,189.3 335.5,189.2 332.5,189.1 329.5,189.0 326.5,188.9 323.5,188.8 320.5,188.7 317.5,188.6 314.5,188.5 311.5,188.4 308.5,188.2 305.5,188.1 302.5,187.9 299.5,187.7 296.5,187.3 293.5,186.8 290.5,186.2 287.5,185.4 284.5,184.5 281.5,183.5 278.5,182.4 275.5,181.3 272.5,180.1 269.5,179.0 266.5,177.8 263.5,176.7 260.5,175.6 257.5,174.6 254.5,173.6 251.5,172.5 248.5,171.5 245.5,170.5 242.5,169.4 239.5,168.4 236.5,167.3 233.5,166.2 230.5,165.1 227.5,164.0 224.5,162.8 221.5,161.7 218.5,160.5 215.5,159.3 212.5,158.1 209.5,156.9 206.5,155.6 203.5,154.3 200.5,153.0 197.5,151.7 194.5,150.4 191.5,149.0 188.5,147.7 185.5,146.4 182.5,145.1 179.5,143.9 176.5,142.6 173.5,141.4 170.5,140.3 167.5,139.1 164.5,137.9 161.5,136.6 158.5,135.2 155.5,133.5 152.5,131.8 149.5,129.9 146.5,128.1 143.5,126.3 140.5,124.8 137.5,123.4 134.5,122.2 131.5,121.1 128.5,120.0 125.5,119.1 122.5,118.2 119.5,117.4 116.5,116.8 113.5,116.2 110.5,115.7 107.5,115.3 104.5,115.0" fill="#8104ff"/>
<polygon points="104.5,111.7 107.5,112.0 110.5,112.5 113.5,113.0 116.5,113.6 119.5,114.2 122.5,115.0 125.5,115.8 128.5,116.8 131.5,117.9 134.5,119.0 137.5,120.2 140.5,121.5 143.5,123.1 146.5,124.8 149.5,126.6 152.5,128.4 155.5,130.2 158.5,131.8 161.5,133.2 164.5,134.5 167.5,135.7 170.5,136.9 173.5,138.1 176.5,139.3 179.5,140.5 182.5,141.8 185.5,143.1 188.5,144.4 191.5,145.8 194.5,147.1 197.5,148.4 200.5,149.8 203.5,151.1 206.5,152.4 209.5,153.7 212.5,154.9 215.5,156.2 218.5,157.4 221.5,158.6 224.5,159.7 227.5,160.9 230.5,162.0 233.5,163.1 236.5,164.2 239.5,165.3 242.5,166.4 245.5,167.5 248.5,168.6 251.5,169.6 254.5,170.7 257.5,171.7 260.5,172.7 263.5,173.8 266.5,175.0 269.5,176.2 272.5,177.4 275.5,178.5 278.5,179.7 281.5,180.7 284.5,181.8 287.5,182.7 290.5,183.5 293.5,184.2 296.5,184.8 299.5,185.2 302.5,185.5 305.5,185.7 308.5,185.9 311.5,186.1 314.5,186.3 317.5,186.4 320.5,186.6 323.5,186.7 326.5,186.8 329.5,187.0 332.5,187.1 335.5,187.2 338.5,187.3 341.5,187.5 344.5,187.6 347.5,187.8 350.5,187.9 353.5,188.1 356.5,188.3 359.5,188.5 362.5,188.8 365.5,189.0 368.5,189.2 371.5,189.4 374.5,189.7 377.5,189.9 380.5,190.1 383.5,190.3 386.5,190.5 389.5,190.8 392.5,191.0 395.5,191.2 398.5,191.4 401.5,191.5 404.5,191.7 407.5,191.9 410.5,192.0 413.5,192.2 416.5,192.3 419.5,192.5 422.5,192.6 425.5,192.8 428.5,192.9 431.5,193.0 434.5,193.2 437.5,193.3 440.5,193.4 443.5,193.6 446.5,193.7 449.5,193.8 452.5,193.9 455.5,194.0 458.5,194.1 461.5,194.2 464.5,194.3 467.5,194.4 470.5,194.5 473.5,194.5 476.5,194.6 479.5,194.6 482.5,194.7 483.0,194.7 483.0,195.2 482.5,195.2 479.5,195.2 476.5,195.1 473.5,195.1 470.5,195.0 467.5,194.9 464.5,194.9 461.5,194.8 458.5,194.7 455.5,194.6 452.5,194.5 449.5,194.4 446.5,194.3 443.5,194.2 440.5,194.0 437.5,193.9 434.5,193.8 431.5,193.7 428.5,193.5 425.5,193.4 422.5,193.3 419.5,193.1 416.5,193.0 413.5,192.8 410.5,192.7 407.5,192.5 404.5,192.4 401.5,192.2 398.5,192.1 395.5,191.9 392.5,191.7 389.5,191.5 386.5,191.3 383.5,191.1 380.5,190.9 377.5,190.6 374.5,190.4 371.5,190.2 368.5,190.0 365.5,189.8 362.5,189.6 359.5,189.4 356.5,189.2 353.5,189.0 350.5,188.8 347.5,188.7 344.5,188.5 341.5,188.4 338.5,188.3 335.5,188.2 332.5,188.1 329.5,188.0 326.5,187.9 323.5,187.7 320.5,187.6 317.5,187.5 314.5,187.4 311.5,187.2 308.5,187.1 305.5,186.9 302.5,186.7 299.5,186.4 296.5,186.0 293.5,185.5 290.5,184.8 287.5,184.0 284.5,183.1 281.5,182.1 278.5,181.0 275.5,179.9 272.5,178.7 269.5,177.6 266.5,176.4 263.5,175.2 260.5,174.1 257.5,173.1 254.5,172.1 251.5,171.1 248.5,170.0 245.5,169.0 242.5,167.9 239.5,166.8 236.5,165.7 233.5,164.6 230.5,163.5 227.5,162.4 224.5,161.3 221.5,160.1 218.5,158.9 215.5,157.7 212.5,156.5 209.5,155.3 206.5,154.0 203.5,152.7 200.5,151.4 197.5,150.0 194.5,148.7 191.5,147.4 188.5,146.1 185.5,144.7 182.5,143.4 179.5,142.2 176.5,140.9 173.5,139.7 170.5,138.6 167.5,137.4 164.5,136.2 161.5,134.9 158.5,133.4 155.5,131.8 152.5,130.1 149.5,128.2 146.5,126.4 143.5,124.7 140.5,123.1 137.5,121.8 134.5,120.6 131.5,119.5 128.5,118.4 125.5,117.4 122.5,116.6 119.5,115.8 116.5,115.2 113.5,114.6 110.5,114.1 107.5,113.6 104.5,113.3" fill="#8204ff"/>
<polygon points="104.5,110.1 107.5,110.4 110.5,110.9 113.5,111.4 116.5,112.0 119.5,112.7 122.5,113.4 125.5,114.3 128.5,115.3 131.5,116.3 134.5,117.5 137.5,118.6 140.5,120.0 143.5,121.5 146.5,123.2 149.5,125.0 152.5,126.8 155.5,128.6 158.5,130.2 161.5,131.6 164.5,132.9 167.5,134.1 170.5,135.3 173.5,136.5 176.5,137.7 179.5,139.0 182.5,140.3 185.5,141.6 188.5,142.9 191.5,144.2 194.5,145.6 197.5,146.9 200.5,148.2 203.5,149.5 206.5,150.8 209.5,152.1 212.5,153.4 215.5,154.6 218.5,155.9 221.5,157.0 224.5,158.2 227.5,159.4 230.5,160.5 233.5,161.7 236.5,162.8 239.5,163.9 242.5,165.0 245.5,166.1 248.5,167.1 251.5,168.2 254.5,169.3 257.5,170.3 260.5,171.4 263.5,172.5 266.5,173.6 269.5,174.8 272.5,176.0 275.5,177.2 278.5,178.3 281.5,179.4 284.5,180.5 287.5,181.4 290.5,182.2 293.5,183.0 296.5,183.5 299.5,184.0 302.5,184.3 305.5,184.5 308.5,184.8 311.5,185.0 314.5,185.2 317.5,185.4 320.5,185.5 323.5,185.7 326.5,185.8 329.5,186.0 332.5,186.1 335.5,186.2 338.5,186.4 341.5,186.5 344.5,186.7 347.5,186.9 350.5,187.1 353.5,187.3 356.5,187.5 359.5,187.7 362.5,188.0 365.5,188.2 368.5,188.4 371.5,188.7 374.5,188.9 377.5,189.1 380.5,189.4 383.5,189.6 386.5,189.8 389.5,190.1 392.5,190.3 395.5,190.5 398.5,190.7 401.5,190.9 404.5,191.1 407.5,191.2 410.5,191.4 413.5,191.6 416.5,191.7 419.5,191.9 422.5,192.0 425.5,192.2 428.5,192.3 431.5,192.5 434.5,192.6 437.5,192.7 440.5,192.9 443.5,193.0 446.5,193.1 449.5,193.3 452.5,193.4 455.5,193.5 458.5,193.6 461.5,193.7 464.5,193.8 467.5,193.9 470.5,193.9 473.5,194.0 476.5,194.1 479.5,194.1 482.5,194.2 483.0,194.2 483.0,194.7 482.5,194.7 479.5,194.6 476.5,194.6 473.5,194.5 470.5,194.5 467.5,194.4 464.5,194.3 461.5,194.2 458.5,194.1 455.5,194.0 452.5,193.9 449.5,193.8 446.5,193.7 443.5,193.6 440.5,193.4 437.5,193.3 434.5,193.2 431.5,193.0 428.5,192.9 425.5,192.8 422.5,192.6 419.5,192.5 416.5,192.3 413.5,192.2 410.5,192.0 407.5,191.9 404.5,191.7 401.5,191.5 398.5,191.4 395.5,191.2 392.5,191.0 389.5,190.8 386.5,190.5 383.5,190.3 380.5,190.1 377.5,189.9 374.5,189.7 371.5,189.4 368.5,189.2 365.5,189.0 362.5,188.8 359.5,188.5 356.5,188.3 353.5,188.1 350.5,187.9 347.5,187.8 344.5,187.6 341.5,187.5 338.5,187.3 335.5,187.2 332.5,187.1 329.5,187.0 326.5,186.8 323.5,186.7 320.5,186.6 317.5,186.4 314.5,186.3 311.5,186.1 308.5,185.9 305.5,185.7 302.5,185.5 299.5,185.2 296.5,184.8 293.5,184.2 290.5,183.5 287.5,182.7 284.5,181.8 281.5,180.7 278.5,179.7 275.5,178.5 272.5,177.4 269.5,176.2 266.5,175.0 263.5,173.8 260.5,172.7 257.5,171.7 254.5,170.7 251.5,169.6 248.5,168.6 245.5,167.5 242.5,166.4 239.5,165.3 236.5,164.2 233.5,163.1 230.5,162.0 227.5,160.9 224.5,159.7 221.5,158.6 218.5,157.4 215.5,156.2 212.5,154.9 209.5,153.7 206.5,152.4 203.5,151.1 200.5,149.8 197.5,148.4 194.5,147.1 191.5,145.8 188.5,144.4 185.5,143.1 182.5,141.8 179.5,140.5 176.5,139.3 173.5,138.1 170.5,136.9 167.5,135.7 164.5,134.5 161.5,133.2 158.5,131.8 155.5,130.2 152.5,128.4 149.5,126.6 146.5,124.8 143.5,123.1 140.5,121.5 137.5,120.2 134.5,119.0 131.5,117.9 128.5,116.8 125.5,115.8 122.5,115.0 119.5,114.2 116.5,113.6 113.5,113.0 110.5,112.5 107.5,112.0 104.5,111.7" fill="#8305fe"/>
<polygon points="104.5,108.5 107.5,108.9 110.5,109.4 113.5,109.9 116.5,110.5 119.5,111.2 122.5,112.0 125.5,112.8 128.5,113.8 131.5,114.9 134.5,116.0 137.5,117.2 140.5,118.5 143.5,120.0 146.5,121.7 149.5,123.5 152.5,125.3 155.5,127.0 158.5,128.6 161.5,130.0 164.5,131.3 167.5,132.6 170.5,133.8 173.5,135.0 176.5,136.2 179.5,137.5 182.5,138.8 185.5,140.1 188.5,141.4 191.5,142.7 194.5,144.1 197.5,145.4 200.5,146.7 203.5,148.1 206.5,149.4 209.5,150.7 212.5,151.9 215.5,153.2 218.5,154.4 221.5,155.6 224.5,156.8 227.5,157.9 230.5,159.1 233.5,160.2 236.5,161.3 239.5,162.5 242.5,163.6 245.5,164.7 248.5,165.7 251.5,166.8 254.5,167.9 257.5,168.9 260.5,170.0 263.5,171.1 266.5,172.3 269.5,173.5 272.5,174.7 275.5,175.9 278.5,177.0 281.5,178.1 284.5,179.2 287.5,180.1 290.5,181.0 293.5,181.7 296.5,182.3 299.5,182.8 302.5,183.1 305.5,183.4 308.5,183.7 311.5,183.9 314.5,184.1 317.5,184.3 320.5,184.5 323.5,184.7 326.5,184.9 329.5,185.0 332.5,185.2 335.5,185.3 338.5,185.5 341.5,185.7 344.5,185.8 347.5,186.0 350.5,186.2 353.5,186.5 356.5,186.7 359.5,186.9 362.5,187.2 365.5,187.4 368.5,187.7 371.5,187.9 374.5,188.2 377.5,188.4 380.5,188.7 383.5,188.9 386.5,189.2 389.5,189.4 392.5,189.6 395.5,189.8 398.5,190.0 401.5,190.2 404.5,190.4 407.5,190.6 410.5,190.8 413.5,191.0 416.5,191.1 419.5,191.3 422.5,191.5 425.5,191.6 428.5,191.8 431.5,191.9 434.5,192.1 437.5,192.2 440.5,192.3 443.5,192.5 446.5,192.6 449.5,192.8 452.5,192.9 455.5,193.0 458.5,193.1 461.5,193.2 464.5,193.3 467.5,193.4 470.5,193.4 473.5,193.5 476.5,193.6 479.5,193.7 482.5,193.7 483.0,193.7 483.0,194.2 482.5,194.2 479.5,194.1 476.5,194.1 473.5,194.0 470.5,193.9 467.5,193.9 464.5,193.8 461.5,193.7 458.5,193.6 455.5,193.5 452.5,193.4 449.5,193.3 446.5,193.1 443.5,193.0 440.5,192.9 437.5,192.7 434.5,192.6 431.5,192.5 428.5,192.3 425.5,192.2 422.5,192.0 419.5,191.9 416.5,191.7 413.5,191.6 410.5,191.4 407.5,191.2 404.5,191.1 401.5,190.9 398.5,190.7 395.5,190.5 392.5,190.3 389.5,190.1 386.5,189.8 383.5,189.6 380.5,189.4 377.5,189.1 374.5,188.9 371.5,188.7 368.5,188.4 365.5,188.2 362.5,188.0 359.5,187.7 356.5,187.5 353.5,187.3 350.5,187.1 347.5,186.9 344.5,186.7 341.5,186.5 338.5,186.4 335.5,186.2 332.5,186.1 329.5,186.0 326.5,185.8 323.5,185.7 320.5,185.5 317.5,185.4 314.5,185.2 311.5,185.0 308.5,184.8 305.5,184.5 302.5,184.3 299.5,184.0 296.5,183.5 293.5,183.0 290.5,182.2 287.5,181.4 284.5,180.5 281.5,179.4 278.5,178.3 275.5,177.2 272.5,176.0 269.5,174.8 266.5,173.6 263.5,172.5 260.5,171.4 257.5,170.3 254.5,169.3 251.5,168.2 248.5,167.1 245.5,166.1 242.5,165.0 239.5,163.9 236.5,162.8 233.5,161.7 230.5,160.5 227.5,159.4 224.5,158.2 221.5,157.0 218.5,155.9 215.5,154.6 212.5,153.4 209.5,152.1 206.5,150.8 203.5,149.5 200.5,148.2 197.5,146.9 194.5,145.6 191.5,144.2 188.5,142.9 185.5,141.6 182.5,140.3 179.5,139.0 176.5,137.7 173.5,136.5 170.5,135.3 167.5,134.1 164.5,132.9 161.5,131.6 158.5,130.2 155.5,128.6 152.5,126.8 149.5,125.0 146.5,123.2 143.5,121.5 140.5,120.0 137.5,118.6 134.5,117.5 131.5,116.3 128.5,115.3 125.5,114.3 122.5,113.4 119.5,112.7 116.5,112.0 113.5,111.4 110.5,110.9 107.5,110.4 104.5,110.1" fill="#8305fe"/>
<polygon points="104.5,107.0 107.5,107.4 110.5,107.9 113.5,108.5 116.5,109.1 119.5,109.8 122.5,110.5 125.5,111.4 128.5,112.4 131.5,113.4 134.5,114.5 137.5,115.7 140.5,117.0 143.5,118.5 146.5,120.2 149.5,122.0 152.5,123.8 155.5,125.5 158.5,127.1 161.5,128.5 164.5,129.8 167.5,131.1 170.5,132.3 173.5,133.5 176.5,134.7 179.5,136.0 182.5,137.3 185.5,138.6 188.5,139.9 191.5,141.3 194.5,142.6 197.5,144.0 200.5,145.3 203.5,146.6 206.5,147.9 209.5,149.2 212.5,150.5 215.5,151.7 218.5,153.0 221.5,154.2 224.5,155.3 227.5,156.5 230.5,157.7 233.5,158.8 236.5,160.0 239.5,161.1 242.5,162.2 245.5,163.3 248.5,164.4 251.5,165.5 254.5,166.5 257.5,167.6 260.5,168.7 263.5,169.8 266.5,171.0 269.5,172.2 272.5,173.4 275.5,174.6 278.5,175.7 281.5,176.8 284.5,177.9 287.5,178.9 290.5,179.7 293.5,180.5 296.5,181.1 299.5,181.6 302.5,182.0 305.5,182.3 308.5,182.6 311.5,182.9 314.5,183.1 317.5,183.3 320.5,183.5 323.5,183.7 326.5,183.9 329.5,184.1 332.5,184.3 335.5,184.4 338.5,184.6 341.5,184.8 344.5,185.0 347.5,185.2 350.5,185.4 353.5,185.7 356.5,185.9 359.5,186.2 362.5,186.4 365.5,186.7 368.5,187.0 371.5,187.2 374.5,187.5 377.5,187.7 380.5,188.0 383.5,188.3 386.5,188.5 389.5,188.8 392.5,189.0 395.5,189.2 398.5,189.4 401.5,189.6 404.5,189.8 407.5,190.0 410.5,190.2 413.5,190.4 416.5,190.6 419.5,190.7 422.5,190.9 425.5,191.1 428.5,191.2 431.5,191.4 434.5,191.5 437.5,191.7 440.5,191.8 443.5,192.0 446.5,192.1 449.5,192.3 452.5,192.4 455.5,192.5 458.5,192.6 461.5,192.7 464.5,192.8 467.5,192.9 470.5,193.0 473.5,193.1 476.5,193.1 479.5,193.2 482.5,193.3 483.0,193.3 483.0,193.7 482.5,193.7 479.5,193.7 476.5,193.6 473.5,193.5 470.5,193.4 467.5,193.4 464.5,193.3 461.5,193.2 458.5,193.1 455.5,193.0 452.5,192.9 449.5,192.8 446.5,192.6 443.5,192.5 440.5,192.3 437.5,192.2 434.5,192.1 431.5,191.9 428.5,191.8 425.5,191.6 422.5,191.5 419.5,191.3 416.5,191.1 413.5,191.0 410.5,190.8 407.5,190.6 404.5,190.4 401.5,190.2 398.5,190.0 395.5,189.8 392.5,189.6 389.5,189.4 386.5,189.2 383.5,188.9 380.5,188.7 377.5,188.4 374.5,188.2 371.5,187.9 368.5,187.7 365.5,187.4 362.5,187.2 359.5,186.9 356.5,186.7 353.5,186.5 350.5,186.2 347.5,186.0 344.5,185.8 341.5,185.7 338.5,185.5 335.5,185.3 332.5,185.2 329.5,185.0 326.5,184.9 323.5,184.7 320.5,184.5 317.5,184.3 314.5,184.1 311.5,183.9 308.5,183.7 305.5,183.4 302.5,183.1 299.5,182.8 296.5,182.3 293.5,181.7 290.5,181.0 287.5,180.1 284.5,179.2 281.5,178.1 278.5,177.0 275.5,175.9 272.5,174.7 269.5,173.5 266.5,172.3 263.5,171.1 260.5,170.0 257.5,168.9 254.5,167.9 251.5,166.8 248.5,165.7 245.5,164.7 242.5,163.6 239.5,162.5 236.5,161.3 233.5,160.2 230.5,159.1 227.5,157.9 224.5,156.8 221.5,155.6 218.5,154.4 215.5,153.2 212.5,151.9 209.5,150.7 206.5,149.4 203.5,148.1 200.5,146.7 197.5,145.4 194.5,144.1 191.5,142.7 188.5,141.4 185.5,140.1 182.5,138.8 179.5,137.5 176.5,136.2 173.5,135.0 170.5,133.8 167.5,132.6 164.5,131.3 161.5,130.0 158.5,128.6 155.5,127.0 152.5,125.3 149.5,123.5 146.5,121.7 143.5,120.0 140.5,118.5 137.5,117.2 134.5,116.0 131.5,114.9 128.5,113.8 125.5,112.8 122.5,112.0 119.5,111.2 116.5,110.5 113.5,109.9 110.5,109.4 107.5,108.9 104.5,108.5" fill="#8405fd"/>
<polygon points="104.5,105.6 107.5,106.0 110.5,106.5 113.5,107.0 116.5,107.7 119.5,108.4 122.5,109.2 125.5,110.0 128.5,111.0 131.5,112.0 134.5,113.2 137.5,114.3 140.5,115.6 143.5,117.1 146.5,118.8 149.5,120.6 152.5,122.3 155.5,124.0 158.5,125.6 161.5,127.1 164.5,128.4 167.5,129.6 170.5,130.9 173.5,132.1 176.5,133.3 179.5,134.6 182.5,135.9 185.5,137.2 188.5,138.5 191.5,139.9 194.5,141.2 197.5,142.6 200.5,143.9 203.5,145.2 206.5,146.5 209.5,147.8 212.5,149.1 215.5,150.3 218.5,151.6 221.5,152.8 224.5,154.0 227.5,155.1 230.5,156.3 233.5,157.5 236.5,158.6 239.5,159.7 242.5,160.8 245.5,161.9 248.5,163.0 251.5,164.1 254.5,165.2 257.5,166.3 260.5,167.4 263.5,168.5 266.5,169.7 269.5,170.9 272.5,172.1 275.5,173.3 278.5,174.5 281.5,175.6 284.5,176.7 287.5,177.6 290.5,178.5 293.5,179.3 296.5,180.0 299.5,180.5 302.5,180.9 305.5,181.2 308.5,181.5 311.5,181.8 314.5,182.1 317.5,182.3 320.5,182.6 323.5,182.8 326.5,183.0 329.5,183.2 332.5,183.4 335.5,183.6 338.5,183.8 341.5,184.0 344.5,184.2 347.5,184.4 350.5,184.7 353.5,184.9 356.5,185.2 359.5,185.4 362.5,185.7 365.5,186.0 368.5,186.3 371.5,186.5 374.5,186.8 377.5,187.1 380.5,187.4 383.5,187.6 386.5,187.9 389.5,188.1 392.5,188.4 395.5,188.6 398.5,188.8 401.5,189.1 404.5,189.3 407.5,189.5 410.5,189.7 413.5,189.8 416.5,190.0 419.5,190.2 422.5,190.4 425.5,190.5 428.5,190.7 431.5,190.9 434.5,191.0 437.5,191.2 440.5,191.3 443.5,191.5 446.5,191.6 449.5,191.8 452.5,191.9 455.5,192.0 458.5,192.2 461.5,192.3 464.5,192.6 464.5,192.6 461.5,192.7 458.5,192.6 455.5,192.5 452.5,192.4 449.5,192.3 446.5,192.1 443.5,192.0 440.5,191.8 437.5,191.7 434.5,191.5 431.5,191.4 428.5,191.2 425.5,191.1 422.5,190.9 419.5,190.7 416.5,190.6 413.5,190.4 410.5,190.2 407.5,190.0 404.5,189.8 401.5,189.6 398.5,189.4 395.5,189.2 392.5,189.0 389.5,188.8 386.5,188.5 383.5,188.3 380.5,188.0 377.5,187.7 374.5,187.5 371.5,187.2 368.5,187.0 365.5,186.7 362.5,186.4 359.5,186.2 356.5,185.9 353.5,185.7 350.5,185.4 347.5,185.2 344.5,185.0 341.5,184.8 338.5,184.6 335.5,184.4 332.5,184.3 329.5,184.1 326.5,183.9 323.5,183.7 320.5,183.5 317.5,183.3 314.5,183.1 311.5,182.9 308.5,182.6 305.5,182.3 302.5,182.0 299.5,181.6 296.5,181.1 293.5,180.5 290.5,179.7 287.5,178.9 284.5,177.9 281.5,176.8 278.5,175.7 275.5,174.6 272.5,173.4 269.5,172.2 266.5,171.0 263.5,169.8 260.5,168.7 257.5,167.6 254.5,166.5 251.5,165.5 248.5,164.4 245.5,163.3 242.5,162.2 239.5,161.1 236.5,160.0 233.5,158.8 230.5,157.7 227.5,156.5 224.5,155.3 221.5,154.2 218.5,153.0 215.5,151.7 212.5,150.5 209.5,149.2 206.5,147.9 203.5,146.6 200.5,145.3 197.5,144.0 194.5,142.6 191.5,141.3 188.5,139.9 185.5,138.6 182.5,137.3 179.5,136.0 176.5,134.7 173.5,133.5 170.5,132.3 167.5,131.1 164.5,129.8 161.5,128.5 158.5,127.1 155.5,125.5 152.5,123.8 149.5,122.0 146.5,120.2 143.5,118.5 140.5,117.0 137.5,115.7 134.5,114.5 131.5,113.4 128.5,112.4 125.5,111.4 122.5,110.5 119.5,109.8 116.5,109.1 113.5,108.5 110.5,107.9 107.5,107.4 104.5,107.0" fill="#8505fd"/>
<polygon points="104.5,104.2 107.5,104.6 110.5,105.1 113.5,105.7 116.5,106.3 119.5,107.0 122.5,107.8 125.5,108.7 128.5,109.7 131.5,110.7 134.5,111.8 137.5,113.0 140.5,114.3 143.5,115.8 146.5,117.4 149.5,119.2 152.5,120.9 155.5,122.6 158.5,124.2 161.5,125.6 164.5,127.0 167.5,128.2 170.5,129.5 173.5,130.7 176.5,132.0 179.5,133.2 182.5,134.5 185.5,135.9 188.5,137.2 191.5,138.5 194.5,139.9 197.5,141.2 200.5,142.5 203.5,143.9 206.5,145.2 209.5,146.5 212.5,147.7 215.5,149.0 218.5,150.2 221.5,151.4 224.5,152.6 227.5,153.8 230.5,155.0 233.5,156.1 236.5,157.3 239.5,158.4 242.5,159.5 245.5,160.6 248.5,161.7 251.5,162.8 254.5,163.9 257.5,165.0 260.5,166.1 263.5,167.2 266.5,168.4 269.5,169.6 272.5,170.9 275.5,172.1 278.5,173.2 281.5,174.4 284.5,175.4 287.5,176.4 290.5,177.3 293.5,178.1 296.5,178.8 299.5,179.3 302.5,179.8 305.5,180.1 308.5,180.5 311.5,180.8 314.5,181.1 317.5,181.4 320.5,181.6 323.5,181.9 326.5,182.1 329.5,182.3 332.5,182.5 335.5,182.7 338.5,182.9 341.5,183.2 344.5,183.4 347.5,183.6 350.5,183.9 353.5,184.2 356.5,184.5 359.5,184.7 362.5,185.0 365.5,185.3 368.5,185.6 371.5,185.9 374.5,186.2 377.5,186.5 380.5,186.7 383.5,187.0 386.5,187.3 389.5,187.5 392.5,187.8 395.5,188.0 398.5,188.3 401.5,188.5 404.5,188.7 407.5,188.9 410.5,189.1 413.5,189.3 416.5,189.5 419.5,189.7 422.5,189.9 425.5,190.1 428.5,190.2 431.5,190.4 434.5,190.6 437.5,190.7 440.5,190.9 443.5,191.0 446.5,191.2 449.5,191.6 449.5,191.6 446.5,191.6 443.5,191.5 440.5,191.3 437.5,191.2 434.5,191.0 431.5,190.9 428.5,190.7 425.5,190.5 422.5,190.4 419.5,190.2 416.5,190.0 413.5,189.8 410.5,189.7 407.5,189.5 404.5,189.3 401.5,189.1 398.5,188.8 395.5,188.6 392.5,188.4 389.5,188.1 386.5,187.9 383.5,187.6 380.5,187.4 377.5,187.1 374.5,186.8 371.5,186.5 368.5,186.3 365.5,186.0 362.5,185.7 359.5,185.4 356.5,185.2 353.5,184.9 350.5,184.7 347.5,184.4 344.5,184.2 341.5,184.0 338.5,183.8 335.5,183.6 332.5,183.4 329.5,183.2 326.5,183.0 323.5,182.8 320.5,182.6 317.5,182.3 314.5,182.1 311.5,181.8 308.5,181.5 305.5,181.2 302.5,180.9 299.5,180.5 296.5,180.0 293.5,179.3 290.5,178.5 287.5,177.6 284.5,176.7 281.5,175.6 278.5,174.5 275.5,173.3 272.5,172.1 269.5,170.9 266.5,169.7 263.5,168.5 260.5,167.4 257.5,166.3 254.5,165.2 251.5,164.1 248.5,163.0 245.5,161.9 242.5,160.8 239.5,159.7 236.5,158.6 233.5,157.5 230.5,156.3 227.5,155.1 224.5,154.0 221.5,152.8 218.5,151.6 215.5,150.3 212.5,149.1 209.5,147.8 206.5,146.5 203.5,145.2 200.5,143.9 197.5,142.6 194.5,141.2 191.5,139.9 188.5,138.5 185.5,137.2 182.5,135.9 179.5,134.6 176.5,133.3 173.5,132.1 170.5,130.9 167.5,129.6 164.5,128.4 161.5,127.1 158.5,125.6 155.5,124.0 152.5,122.3 149.5,120.6 146.5,118.8 143.5,117.1 140.5,115.6 137.5,114.3 134.5,113.2 131.5,112.0 128.5,111.0 125.5,110.0 122.5,109.2 119.5,108.4 116.5,107.7 113.5,107.0 110.5,106.5 107.5,106.0 104.5,105.6" fill="#8505fc"/>
<polygon points="104.5,102.8 107.5,103.2 110.5,103.8 113.5,104.4 116.5,105.0 119.5,105.7 122.5,106.5 125.5,107.4 128.5,108.4 131.5,109.4 134.5,110.5 137.5,111.7 140.5,113.0 143.5,114.5 146.5,116.1 149.5,117.8 152.5,119.6 155.5,121.3 158.5,122.8 161.5,124.3 164.5,125.6 167.5,126.9 170.5,128.1 173.5,129.4 176.5,130.6 179.5,131.9 182.5,133.2 185.5,134.6 188.5,135.9 191.5,137.2 194.5,138.6 197.5,139.9 200.5,141.2 203.5,142.5 206.5,143.9 209.5,145.2 212.5,146.4 215.5,147.7 218.5,148.9 221.5,150.1 224.5,151.3 227.5,152.5 230.5,153.7 233.5,154.8 236.5,156.0 239.5,157.1 242.5,158.2 245.5,159.4 248.5,160.5 251.5,161.6 254.5,162.7 257.5,163.7 260.5,164.9 263.5,166.0 266.5,167.2 269.5,168.4 272.5,169.6 275.5,170.8 278.5,172.0 281.5,173.2 284.5,174.2 287.5,175.3 290.5,176.2 293.5,177.0 296.5,177.7 299.5,178.2 302.5,178.7 305.5,179.1 308.5,179.5 311.5,179.8 314.5,180.1 317.5,180.4 320.5,180.7 323.5,180.9 326.5,181.2 329.5,181.4 332.5,181.7 335.5,181.9 338.5,182.1 341.5,182.4 344.5,182.6 347.5,182.9 350.5,183.2 353.5,183.5 356.5,183.8 359.5,184.0 362.5,184.3 365.5,184.7 368.5,185.0 371.5,185.3 374.5,185.6 377.5,185.8 380.5,186.1 383.5,186.4 386.5,186.7 389.5,187.0 392.5,187.2 395.5,187.5 398.5,187.7 401.5,188.0 404.5,188.2 407.5,188.4 410.5,188.6 413.5,188.8 416.5,189.0 419.5,189.2 422.5,189.4 425.5,189.6 428.5,189.8 431.5,189.9 434.5,190.1 437.5,190.3 440.5,190.7 440.5,190.7 437.5,190.7 434.5,190.6 431.5,190.4 428.5,190.2 425.5,190.1 422.5,189.9 419.5,189.7 416.5,189.5 413.5,189.3 410.5,189.1 407.5,188.9 404.5,188.7 401.5,188.5 398.5,188.3 395.5,188.0 392.5,187.8 389.5,187.5 386.5,187.3 383.5,187.0 380.5,186.7 377.5,186.5 374.5,186.2 371.5,185.9 368.5,185.6 365.5,185.3 362.5,185.0 359.5,184.7 356.5,184.5 353.5,184.2 350.5,183.9 347.5,183.6 344.5,183.4 341.5,183.2 338.5,182.9 335.5,182.7 332.5,182.5 329.5,182.3 326.5,182.1 323.5,181.9 320.5,181.6 317.5,181.4 314.5,181.1 311.5,180.8 308.5,180.5 305.5,180.1 302.5,179.8 299.5,179.3 296.5,178.8 293.5,178.1 290.5,177.3 287.5,176.4 284.5,175.4 281.5,174.4 278.5,173.2 275.5,172.1 272.5,170.9 269.5,169.6 266.5,168.4 263.5,167.2 260.5,166.1 257.5,165.0 254.5,163.9 251.5,162.8 248.5,161.7 245.5,160.6 242.5,159.5 239.5,158.4 236.5,157.3 233.5,156.1 230.5,155.0 227.5,153.8 224.5,152.6 221.5,151.4 218.5,150.2 215.5,149.0 212.5,147.7 209.5,146.5 206.5,145.2 203.5,143.9 200.5,142.5 197.5,141.2 194.5,139.9 191.5,138.5 188.5,137.2 185.5,135.9 182.5,134.5 179.5,133.2 176.5,132.0 173.5,130.7 170.5,129.5 167.5,128.2 164.5,127.0 161.5,125.6 158.5,124.2 155.5,122.6 152.5,120.9 149.5,119.2 146.5,117.4 143.5,115.8 140.5,114.3 137.5,113.0 134.5,111.8 131.5,110.7 128.5,109.7 125.5,108.7 122.5,107.8 119.5,107.0 116.5,106.3 113.5,105.7 110.5,105.1 107.5,104.6 104.5,104.2" fill="#8605fb"/>
<polygon points="104.5,101.5 107.5,101.9 110.5,102.5 113.5,103.1 116.5,103.7 119.5,104.5 122.5,105.3 125.5,106.2 128.5,107.1 131.5,108.2 134.5,109.3 137.5,110.5 140.5,111.7 143.5,113.2 146.5,114.8 149.5,116.5 152.5,118.3 155.5,119.9 158.5,121.5 161.5,123.0 164.5,124.3 167.5,125.6 170.5,126.8 173.5,128.1 176.5,129.4 179.5,130.7 182.5,132.0 185.5,133.3 188.5,134.6 191.5,136.0 194.5,137.3 197.5,138.6 200.5,140.0 203.5,141.3 206.5,142.6 209.5,143.9 212.5,145.2 215.5,146.4 218.5,147.6 221.5,148.8 224.5,150.0 227.5,151.2 230.5,152.4 233.5,153.6 236.5,154.7 239.5,155.9 242.5,157.0 245.5,158.1 248.5,159.2 251.5,160.3 254.5,161.4 257.5,162.5 260.5,163.6 263.5,164.8 266.5,166.0 269.5,167.2 272.5,168.4 275.5,169.6 278.5,170.8 281.5,172.0 284.5,173.1 287.5,174.1 290.5,175.0 293.5,175.9 296.5,176.6 299.5,177.1 302.5,177.6 305.5,178.1 308.5,178.5 311.5,178.8 314.5,179.2 317.5,179.5 320.5,179.8 323.5,180.1 326.5,180.3 329.5,180.6 332.5,180.8 335.5,181.1 338.5,181.4 341.5,181.6 344.5,181.9 347.5,182.2 350.5,182.5 353.5,182.8 356.5,183.1 359.5,183.4 362.5,183.7 365.5,184.0 368.5,184.3 371.5,184.6 374.5,184.9 377.5,185.3 380.5,185.6 383.5,185.9 386.5,186.1 389.5,186.4 392.5,186.7 395.5,187.0 398.5,187.2 401.5,187.4 404.5,187.7 407.5,187.9 410.5,188.1 413.5,188.3 416.5,188.5 419.5,188.7 422.5,188.9 425.5,189.1 428.5,189.5 428.5,189.5 425.5,189.6 422.5,189.4 419.5,189.2 416.5,189.0 413.5,188.8 410.5,188.6 407.5,188.4 404.5,188.2 401.5,188.0 398.5,187.7 395.5,187.5 392.5,187.2 389.5,187.0 386.5,186.7 383.5,186.4 380.5,186.1 377.5,185.8 374.5,185.6 371.5,185.3 368.5,185.0 365.5,184.7 362.5,184.3 359.5,184.0 356.5,183.8 353.5,183.5 350.5,183.2 347.5,182.9 344.5,182.6 341.5,182.4 338.5,182.1 335.5,181.9 332.5,181.7 329.5,181.4 326.5,181.2 323.5,180.9 320.5,180.7 317.5,180.4 314.5,180.1 311.5,179.8 308.5,179.5 305.5,179.1 302.5,178.7 299.5,178.2 296.5,177.7 293.5,177.0 290.5,176.2 287.5,175.3 284.5,174.2 281.5,173.2 278.5,172.0 275.5,170.8 272.5,169.6 269.5,168.4 266.5,167.2 263.5,166.0 260.5,164.9 257.5,163.7 254.5,162.7 251.5,161.6 248.5,160.5 245.5,159.4 242.5,158.2 239.5,157.1 236.5,156.0 233.5,154.8 230.5,153.7 227.5,152.5 224.5,151.3 221.5,150.1 218.5,148.9 215.5,147.7 212.5,146.4 209.5,145.2 206.5,143.9 203.5,142.5 200.5,141.2 197.5,139.9 194.5,138.6 191.5,137.2 188.5,135.9 185.5,134.6 182.5,133.2 179.5,131.9 176.5,130.6 173.5,129.4 170.5,128.1 167.5,126.9 164.5,125.6 161.5,124.3 158.5,122.8 155.5,121.3 152.5,119.6 149.5,117.8 146.5,116.1 143.5,114.5 140.5,113.0 137.5,111.7 134.5,110.5 131.5,109.4 128.5,108.4 125.5,107.4 122.5,106.5 119.5,105.7 116.5,105.0 113.5,104.4 110.5,103.8 107.5,103.2 104.5,102.8" fill="#8706fb"/>
<polygon points="104.5,100.2 107.5,100.7 110.5,101.2 113.5,101.8 116.5,102.5 119.5,103.2 122.5,104.1 125.5,105.0 128.5,105.9 131.5,107.0 134.5,108.1 137.5,109.2 140.5,110.5 143.5,112.0 146.5,113.6 149.5,115.3 152.5,117.0 155.5,118.7 158.5,120.2 161.5,121.7 164.5,123.0 167.5,124.3 170.5,125.6 173.5,126.9 176.5,128.1 179.5,129.4 182.5,130.8 185.5,132.1 188.5,133.4 191.5,134.7 194.5,136.1 197.5,137.4 200.5,138.7 203.5,140.1 206.5,141.4 209.5,142.6 212.5,143.9 215.5,145.2 218.5,146.4 221.5,147.6 224.5,148.8 227.5,150.0 230.5,151.2 233.5,152.3 236.5,153.5 239.5,154.6 242.5,155.8 245.5,156.9 248.5,158.0 251.5,159.1 254.5,160.2 257.5,161.3 260.5,162.4 263.5,163.6 266.5,164.8 269.5,166.0 272.5,167.2 275.5,168.5 278.5,169.7 281.5,170.8 284.5,171.9 287.5,172.9 290.5,173.9 293.5,174.7 296.5,175.5 299.5,176.1 302.5,176.6 305.5,177.0 308.5,177.5 311.5,177.9 314.5,178.2 317.5,178.6 320.5,178.9 323.5,179.2 326.5,179.5 329.5,179.8 332.5,180.0 335.5,180.3 338.5,180.6 341.5,180.9 344.5,181.2 347.5,181.5 350.5,181.8 353.5,182.1 356.5,182.4 359.5,182.7 362.5,183.1 365.5,183.4 368.5,183.7 371.5,184.1 374.5,184.4 377.5,184.7 380.5,185.0 383.5,185.3 386.5,185.6 389.5,185.9 392.5,186.2 395.5,186.5 398.5,186.7 401.5,187.0 404.5,187.2 407.5,187.4 410.5,187.7 413.5,187.9 416.5,188.1 419.5,188.5 419.5,188.5 416.5,188.5 413.5,188.3 410.5,188.1 407.5,187.9 404.5,187.7 401.5,187.4 398.5,187.2 395.5,187.0 392.5,186.7 389.5,186.4 386.5,186.1 383.5,185.9 380.5,185.6 377.5,185.3 374.5,184.9 371.5,184.6 368.5,184.3 365.5,184.0 362.5,183.7 359.5,183.4 356.5,183.1 353.5,182.8 350.5,182.5 347.5,182.2 344.5,181.9 341.5,181.6 338.5,181.4 335.5,181.1 332.5,180.8 329.5,180.6 326.5,180.3 323.5,180.1 320.5,179.8 317.5,179.5 314.5,179.2 311.5,178.8 308.5,178.5 305.5,178.1 302.5,177.6 299.5,177.1 296.5,176.6 293.5,175.9 290.5,175.0 287.5,174.1 284.5,173.1 281.5,172.0 278.5,170.8 275.5,169.6 272.5,168.4 269.5,167.2 266.5,166.0 263.5,164.8 260.5,163.6 257.5,162.5 254.5,161.4 251.5,160.3 248.5,159.2 245.5,158.1 242.5,157.0 239.5,155.9 236.5,154.7 233.5,153.6 230.5,152.4 227.5,151.2 224.5,150.0 221.5,148.8 218.5,147.6 215.5,146.4 212.5,145.2 209.5,143.9 206.5,142.6 203.5,141.3 200.5,140.0 197.5,138.6 194.5,137.3 191.5,136.0 188.5,134.6 185.5,133.3 182.5,132.0 179.5,130.7 176.5,129.4 173.5,128.1 170.5,126.8 167.5,125.6 164.5,124.3 161.5,123.0 158.5,121.5 155.5,119.9 152.5,118.3 149.5,116.5 146.5,114.8 143.5,113.2 140.5,111.7 137.5,110.5 134.5,109.3 131.5,108.2 128.5,107.1 125.5,106.2 122.5,105.3 119.5,104.5 116.5,103.7 113.5,103.1 110.5,102.5 107.5,101.9 104.5,101.5" fill="#8806fa"/>
<polygon points="104.5,98.9 107.5,99.4 110.5,100.0 113.5,100.6 116.5,101.3 119.5,102.1 122.5,102.9 125.5,103.8 128.5,104.8 131.5,105.8 134.5,106.9 137.5,108.1 140.5,109.4 143.5,110.8 146.5,112.4 149.5,114.1 152.5,115.8 155.5,117.4 158.5,119.0 161.5,120.4 164.5,121.8 167.5,123.1 170.5,124.4 173.5,125.7 176.5,127.0 179.5,128.3 182.5,129.6 185.5,130.9 188.5,132.2 191.5,133.6 194.5,134.9 197.5,136.2 200.5,137.6 203.5,138.9 206.5,140.2 209.5,141.5 212.5,142.7 215.5,144.0 218.5,145.2 221.5,146.4 224.5,147.6 227.5,148.8 230.5,150.0 233.5,151.1 236.5,152.3 239.5,153.4 242.5,154.6 245.5,155.7 248.5,156.8 251.5,157.9 254.5,159.0 257.5,160.1 260.5,161.3 263.5,162.4 266.5,163.6 269.5,164.9 272.5,166.1 275.5,167.3 278.5,168.5 281.5,169.7 284.5,170.8 287.5,171.8 290.5,172.8 293.5,173.7 296.5,174.4 299.5,175.0 302.5,175.6 305.5,176.1 308.5,176.5 311.5,176.9 314.5,177.3 317.5,177.7 320.5,178.0 323.5,178.4 326.5,178.7 329.5,179.0 332.5,179.3 335.5,179.6 338.5,179.9 341.5,180.2 344.5,180.5 347.5,180.8 350.5,181.1 353.5,181.4 356.5,181.8 359.5,182.1 362.5,182.5 365.5,182.8 368.5,183.1 371.5,183.5 374.5,183.8 377.5,184.1 380.5,184.5 383.5,184.8 386.5,185.1 389.5,185.4 392.5,185.7 395.5,186.0 398.5,186.2 401.5,186.5 404.5,186.7 407.5,187.0 410.5,187.4 410.5,187.4 407.5,187.4 404.5,187.2 401.5,187.0 398.5,186.7 395.5,186.5 392.5,186.2 389.5,185.9 386.5,185.6 383.5,185.3 380.5,185.0 377.5,184.7 374.5,184.4 371.5,184.1 368.5,183.7 365.5,183.4 362.5,183.1 359.5,182.7 356.5,182.4 353.5,182.1 350.5,181.8 347.5,181.5 344.5,181.2 341.5,180.9 338.5,180.6 335.5,180.3 332.5,180.0 329.5,179.8 326.5,179.5 323.5,179.2 320.5,178.9 317.5,178.6 314.5,178.2 311.5,177.9 308.5,177.5 305.5,177.0 302.5,176.6 299.5,176.1 296.5,175.5 293.5,174.7 290.5,173.9 287.5,172.9 284.5,171.9 281.5,170.8 278.5,169.7 275.5,168.5 272.5,167.2 269.5,166.0 266.5,164.8 263.5,163.6 260.5,162.4 257.5,161.3 254.5,160.2 251.5,159.1 248.5,158.0 245.5,156.9 242.5,155.8 239.5,154.6 236.5,153.5 233.5,152.3 230.5,151.2 227.5,150.0 224.5,148.8 221.5,147.6 218.5,146.4 215.5,145.2 212.5,143.9 209.5,142.6 206.5,141.4 203.5,140.1 200.5,138.7 197.5,137.4 194.5,136.1 191.5,134.7 188.5,133.4 185.5,132.1 182.5,130.8 179.5,129.4 176.5,128.1 173.5,126.9 170.5,125.6 167.5,124.3 164.5,123.0 161.5,121.7 158.5,120.2 155.5,118.7 152.5,117.0 149.5,115.3 146.5,113.6 143.5,112.0 140.5,110.5 137.5,109.2 134.5,108.1 131.5,107.0 128.5,105.9 125.5,105.0 122.5,104.1 119.5,103.2 116.5,102.5 113.5,101.8 110.5,101.2 107.5,100.7 104.5,100.2" fill="#8806f9"/>
<polygon points="104.5,97.7 107.5,98.2 110.5,98.8 113.5,99.5 116.5,100.2 119.5,100.9 122.5,101.8 125.5,102.7 128.5,103.6 131.5,104.7 134.5,105.8 137.5,107.0 140.5,108.2 143.5,109.7 146.5,111.3 149.5,112.9 152.5,114.6 155.5,116.2 158.5,117.8 161.5,119.2 164.5,120.6 167.5,121.9 170.5,123.2 173.5,124.5 176.5,125.8 179.5,127.1 182.5,128.5 185.5,129.8 188.5,131.1 191.5,132.4 194.5,133.8 197.5,135.1 200.5,136.4 203.5,137.7 206.5,139.0 209.5,140.3 212.5,141.6 215.5,142.8 218.5,144.0 221.5,145.3 224.5,146.4 227.5,147.6 230.5,148.8 233.5,150.0 236.5,151.1 239.5,152.3 242.5,153.4 245.5,154.5 248.5,155.6 251.5,156.8 254.5,157.9 257.5,159.0 260.5,160.1 263.5,161.3 266.5,162.5 269.5,163.7 272.5,165.0 275.5,166.2 278.5,167.4 281.5,168.6 284.5,169.7 287.5,170.7 290.5,171.7 293.5,172.6 296.5,173.4 299.5,174.0 302.5,174.6 305.5,175.1 308.5,175.6 311.5,176.0 314.5,176.4 317.5,176.8 320.5,177.2 323.5,177.5 326.5,177.9 329.5,178.2 332.5,178.5 335.5,178.8 338.5,179.1 341.5,179.5 344.5,179.8 347.5,180.1 350.5,180.5 353.5,180.8 356.5,181.2 359.5,181.5 362.5,181.9 365.5,182.2 368.5,182.6 371.5,182.9 374.5,183.3 377.5,183.6 380.5,184.0 383.5,184.3 386.5,184.6 389.5,184.9 392.5,185.2 395.5,185.5 398.5,185.8 401.5,186.0 404.5,186.5 404.5,186.5 401.5,186.5 398.5,186.2 395.5,186.0 392.5,185.7 389.5,185.4 386.5,185.1 383.5,184.8 380.5,184.5 377.5,184.1 374.5,183.8 371.5,183.5 368.5,183.1 365.5,182.8 362.5,182.5 359.5,182.1 356.5,181.8 353.5,181.4 350.5,181.1 347.5,180.8 344.5,180.5 341.5,180.2 338.5,179.9 335.5,179.6 332.5,179.3 329.5,179.0 326.5,178.7 323.5,178.4 320.5,178.0 317.5,177.7 314.5,177.3 311.5,176.9 308.5,176.5 305.5,176.1 302.5,175.6 299.5,175.0 296.5,174.4 293.5,173.7 290.5,172.8 287.5,171.8 284.5,170.8 281.5,169.7 278.5,168.5 275.5,167.3 272.5,166.1 269.5,164.9 266.5,163.6 263.5,162.4 260.5,161.3 257.5,160.1 254.5,159.0 251.5,157.9 248.5,156.8 245.5,155.7 242.5,154.6 239.5,153.4 236.5,152.3 233.5,151.1 230.5,150.0 227.5,148.8 224.5,147.6 221.5,146.4 218.5,145.2 215.5,144.0 212.5,142.7 209.5,141.5 206.5,140.2 203.5,138.9 200.5,137.6 197.5,136.2 194.5,134.9 191.5,133.6 188.5,132.2 185.5,130.9 182.5,129.6 179.5,128.3 176.5,127.0 173.5,125.7 170.5,124.4 167.5,123.1 164.5,121.8 161.5,120.4 158.5,119.0 155.5,117.4 152.5,115.8 149.5,114.1 146.5,112.4 143.5,110.8 140.5,109.4 137.5,108.1 134.5,106.9 131.5,105.8 128.5,104.8 125.5,103.8 122.5,102.9 119.5,102.1 116.5,101.3 113.5,100.6 110.5,100.0 107.5,99.4 104.5,98.9" fill="#8906f7"/>
<polygon points="104.5,96.5 107.5,97.1 110.5,97.7 113.5,98.3 116.5,99.1 119.5,99.8 122.5,100.7 125.5,101.6 128.5,102.6 131.5,103.6 134.5,104.7 137.5,105.9 140.5,107.1 143.5,108.6 146.5,110.2 149.5,111.8 152.5,113.5 155.5,115.1 158.5,116.6 161.5,118.1 164.5,119.5 167.5,120.8 170.5,122.1 173.5,123.4 176.5,124.7 179.5,126.0 182.5,127.4 185.5,128.7 188.5,130.0 191.5,131.3 194.5,132.7 197.5,134.0 200.5,135.3 203.5,136.6 206.5,137.9 209.5,139.2 212.5,140.4 215.5,141.7 218.5,142.9 221.5,144.1 224.5,145.3 227.5,146.5 230.5,147.7 233.5,148.8 236.5,150.0 239.5,151.1 242.5,152.3 245.5,153.4 248.5,154.5 251.5,155.6 254.5,156.7 257.5,157.9 260.5,159.0 263.5,160.2 266.5,161.4 269.5,162.6 272.5,163.8 275.5,165.1 278.5,166.3 281.5,167.5 284.5,168.6 287.5,169.6 290.5,170.6 293.5,171.5 296.5,172.3 299.5,173.0 302.5,173.6 305.5,174.1 308.5,174.6 311.5,175.1 314.5,175.5 317.5,176.0 320.5,176.3 323.5,176.7 326.5,177.1 329.5,177.4 332.5,177.8 335.5,178.1 338.5,178.4 341.5,178.8 344.5,179.1 347.5,179.5 350.5,179.8 353.5,180.2 356.5,180.6 359.5,180.9 362.5,181.3 365.5,181.7 368.5,182.0 371.5,182.4 374.5,182.8 377.5,183.1 380.5,183.5 383.5,183.8 386.5,184.1 389.5,184.4 392.5,184.7 395.5,185.0 398.5,185.6 398.5,185.6 395.5,185.5 392.5,185.2 389.5,184.9 386.5,184.6 383.5,184.3 380.5,184.0 377.5,183.6 374.5,183.3 371.5,182.9 368.5,182.6 365.5,182.2 362.5,181.9 359.5,181.5 356.5,181.2 353.5,180.8 350.5,180.5 347.5,180.1 344.5,179.8 341.5,179.5 338.5,179.1 335.5,178.8 332.5,178.5 329.5,178.2 326.5,177.9 323.5,177.5 320.5,177.2 317.5,176.8 314.5,176.4 311.5,176.0 308.5,175.6 305.5,175.1 302.5,174.6 299.5,174.0 296.5,173.4 293.5,172.6 290.5,171.7 287.5,170.7 284.5,169.7 281.5,168.6 278.5,167.4 275.5,166.2 272.5,165.0 269.5,163.7 266.5,162.5 263.5,161.3 260.5,160.1 257.5,159.0 254.5,157.9 251.5,156.8 248.5,155.6 245.5,154.5 242.5,153.4 239.5,152.3 236.5,151.1 233.5,150.0 230.5,148.8 227.5,147.6 224.5,146.4 221.5,145.3 218.5,144.0 215.5,142.8 212.5,141.6 209.5,140.3 206.5,139.0 203.5,137.7 200.5,136.4 197.5,135.1 194.5,133.8 191.5,132.4 188.5,131.1 185.5,129.8 182.5,128.5 179.5,127.1 176.5,125.8 173.5,124.5 170.5,123.2 167.5,121.9 164.5,120.6 161.5,119.2 158.5,117.8 155.5,116.2 152.5,114.6 149.5,112.9 146.5,111.3 143.5,109.7 140.5,108.2 137.5,107.0 134.5,105.8 131.5,104.7 128.5,103.6 125.5,102.7 122.5,101.8 119.5,100.9 116.5,100.2 113.5,99.5 110.5,98.8 107.5,98.2 104.5,97.7" fill="#8a06f6"/>
<polygon points="104.5,95.4 107.5,96.0 110.5,96.6 113.5,97.3 116.5,98.0 119.5,98.8 122.5,99.6 125.5,100.5 128.5,101.5 131.5,102.6 134.5,103.7 137.5,104.8 140.5,106.1 143.5,107.5 146.5,109.1 149.5,110.7 152.5,112.3 155.5,114.0 158.5,115.5 161.5,117.0 164.5,118.3 167.5,119.7 170.5,121.0 173.5,122.3 176.5,123.6 179.5,125.0 182.5,126.3 185.5,127.6 188.5,129.0 191.5,130.3 194.5,131.6 197.5,132.9 200.5,134.2 203.5,135.5 206.5,136.8 209.5,138.1 212.5,139.3 215.5,140.6 218.5,141.8 221.5,143.0 224.5,144.2 227.5,145.4 230.5,146.6 233.5,147.7 236.5,148.9 239.5,150.0 242.5,151.1 245.5,152.3 248.5,153.4 251.5,154.5 254.5,155.6 257.5,156.7 260.5,157.9 263.5,159.1 266.5,160.3 269.5,161.5 272.5,162.8 275.5,164.0 278.5,165.2 281.5,166.4 284.5,167.5 287.5,168.6 290.5,169.6 293.5,170.5 296.5,171.3 299.5,172.0 302.5,172.6 305.5,173.2 308.5,173.7 311.5,174.2 314.5,174.7 317.5,175.1 320.5,175.5 323.5,175.9 326.5,176.3 329.5,176.7 332.5,177.1 335.5,177.4 338.5,177.8 341.5,178.1 344.5,178.5 347.5,178.9 350.5,179.2 353.5,179.6 356.5,180.0 359.5,180.4 362.5,180.8 365.5,181.1 368.5,181.5 371.5,181.9 374.5,182.3 377.5,182.6 380.5,183.0 383.5,183.3 386.5,183.7 389.5,184.0 392.5,184.5 392.5,184.5 389.5,184.4 386.5,184.1 383.5,183.8 380.5,183.5 377.5,183.1 374.5,182.8 371.5,182.4 368.5,182.0 365.5,181.7 362.5,181.3 359.5,180.9 356.5,180.6 353.5,180.2 350.5,179.8 347.5,179.5 344.5,179.1 341.5,178.8 338.5,178.4 335.5,178.1 332.5,177.8 329.5,177.4 326.5,177.1 323.5,176.7 320.5,176.3 317.5,176.0 314.5,175.5 311.5,175.1 308.5,174.6 305.5,174.1 302.5,173.6 299.5,173.0 296.5,172.3 293.5,171.5 290.5,170.6 287.5,169.6 284.5,168.6 281.5,167.5 278.5,166.3 275.5,165.1 272.5,163.8 269.5,162.6 266.5,161.4 263.5,160.2 260.5,159.0 257.5,157.9 254.5,156.7 251.5,155.6 248.5,154.5 245.5,153.4 242.5,152.3 239.5,151.1 236.5,150.0 233.5,148.8 230.5,147.7 227.5,146.5 224.5,145.3 221.5,144.1 218.5,142.9 215.5,141.7 212.5,140.4 209.5,139.2 206.5,137.9 203.5,136.6 200.5,135.3 197.5,134.0 194.5,132.7 191.5,131.3 188.5,130.0 185.5,128.7 182.5,127.4 179.5,126.0 176.5,124.7 173.5,123.4 170.5,122.1 167.5,120.8 164.5,119.5 161.5,118.1 158.5,116.6 155.5,115.1 152.5,113.5 149.5,111.8 146.5,110.2 143.5,108.6 140.5,107.1 137.5,105.9 134.5,104.7 131.5,103.6 128.5,102.6 125.5,101.6 122.5,100.7 119.5,99.8 116.5,99.1 113.5,98.3 110.5,97.7 107.5,97.1 104.5,96.5" fill="#8b07f5"/>
<polygon points="104.5,94.3 107.5,94.9 110.5,95.5 113.5,96.2 116.5,96.9 119.5,97.7 122.5,98.6 125.5,99.5 128.5,100.5 131.5,101.5 134.5,102.7 137.5,103.8 140.5,105.1 143.5,106.5 146.5,108.0 149.5,109.7 152.5,111.3 155.5,112.9 158.5,114.4 161.5,115.9 164.5,117.3 167.5,118.6 170.5,120.0 173.5,121.3 176.5,122.6 179.5,123.9 182.5,125.3 185.5,126.6 188.5,127.9 191.5,129.3 194.5,130.6 197.5,131.9 200.5,133.2 203.5,134.5 206.5,135.8 209.5,137.0 212.5,138.3 215.5,139.5 218.5,140.7 221.5,141.9 224.5,143.1 227.5,144.3 230.5,145.5 233.5,146.6 236.5,147.8 239.5,148.9 242.5,150.1 245.5,151.2 248.5,152.3 251.5,153.4 254.5,154.5 257.5,155.7 260.5,156.8 263.5,158.0 266.5,159.2 269.5,160.4 272.5,161.7 275.5,162.9 278.5,164.1 281.5,165.3 284.5,166.5 287.5,167.5 290.5,168.6 293.5,169.5 296.5,170.3 299.5,171.0 302.5,171.7 305.5,172.3 308.5,172.8 311.5,173.3 314.5,173.8 317.5,174.3 320.5,174.7 323.5,175.2 326.5,175.6 329.5,176.0 332.5,176.3 335.5,176.7 338.5,177.1 341.5,177.5 344.5,177.9 347.5,178.2 350.5,178.6 353.5,179.0 356.5,179.4 359.5,179.8 362.5,180.2 365.5,180.6 368.5,181.0 371.5,181.4 374.5,181.8 377.5,182.2 380.5,182.5 383.5,183.1 383.5,183.1 380.5,183.0 377.5,182.6 374.5,182.3 371.5,181.9 368.5,181.5 365.5,181.1 362.5,180.8 359.5,180.4 356.5,180.0 353.5,179.6 350.5,179.2 347.5,178.9 344.5,178.5 341.5,178.1 338.5,177.8 335.5,177.4 332.5,177.1 329.5,176.7 326.5,176.3 323.5,175.9 320.5,175.5 317.5,175.1 314.5,174.7 311.5,174.2 308.5,173.7 305.5,173.2 302.5,172.6 299.5,172.0 296.5,171.3 293.5,170.5 290.5,169.6 287.5,168.6 284.5,167.5 281.5,166.4 278.5,165.2 275.5,164.0 272.5,162.8 269.5,161.5 266.5,160.3 263.5,159.1 260.5,157.9 257.5,156.7 254.5,155.6 251.5,154.5 248.5,153.4 245.5,152.3 242.5,151.1 239.5,150.0 236.5,148.9 233.5,147.7 230.5,146.6 227.5,145.4 224.5,144.2 221.5,143.0 218.5,141.8 215.5,140.6 212.5,139.3 209.5,138.1 206.5,136.8 203.5,135.5 200.5,134.2 197.5,132.9 194.5,131.6 191.5,130.3 188.5,129.0 185.5,127.6 182.5,126.3 179.5,125.0 176.5,123.6 173.5,122.3 170.5,121.0 167.5,119.7 164.5,118.3 161.5,117.0 158.5,115.5 155.5,114.0 152.5,112.3 149.5,110.7 146.5,109.1 143.5,107.5 140.5,106.1 137.5,104.8 134.5,103.7 131.5,102.6 128.5,101.5 125.5,100.5 122.5,99.6 119.5,98.8 116.5,98.0 113.5,97.3 110.5,96.6 107.5,96.0 104.5,95.4" fill="#8b07f3"/>
<polygon points="104.5,93.2 107.5,93.8 110.5,94.5 113.5,95.2 116.5,95.9 119.5,96.8 122.5,97.6 125.5,98.5 128.5,99.5 131.5,100.6 134.5,101.7 137.5,102.8 140.5,104.1 143.5,105.5 146.5,107.0 149.5,108.6 152.5,110.2 155.5,111.8 158.5,113.4 161.5,114.8 164.5,116.2 167.5,117.6 170.5,119.0 173.5,120.3 176.5,121.6 179.5,123.0 182.5,124.3 185.5,125.6 188.5,126.9 191.5,128.3 194.5,129.6 197.5,130.9 200.5,132.2 203.5,133.5 206.5,134.7 209.5,136.0 212.5,137.2 215.5,138.5 218.5,139.7 221.5,140.9 224.5,142.1 227.5,143.3 230.5,144.4 233.5,145.6 236.5,146.7 239.5,147.9 242.5,149.0 245.5,150.1 248.5,151.2 251.5,152.4 254.5,153.5 257.5,154.6 260.5,155.7 263.5,156.9 266.5,158.1 269.5,159.4 272.5,160.6 275.5,161.9 278.5,163.1 281.5,164.3 284.5,165.4 287.5,166.5 290.5,167.6 293.5,168.5 296.5,169.3 299.5,170.1 302.5,170.7 305.5,171.4 308.5,171.9 311.5,172.5 314.5,173.0 317.5,173.5 320.5,174.0 323.5,174.4 326.5,174.8 329.5,175.3 332.5,175.7 335.5,176.1 338.5,176.5 341.5,176.9 344.5,177.3 347.5,177.7 350.5,178.1 353.5,178.5 356.5,178.9 359.5,179.3 362.5,179.7 365.5,180.1 368.5,180.5 371.5,180.9 374.5,181.3 377.5,181.7 380.5,182.3 380.5,182.3 377.5,182.2 374.5,181.8 371.5,181.4 368.5,181.0 365.5,180.6 362.5,180.2 359.5,179.8 356.5,179.4 353.5,179.0 350.5,178.6 347.5,178.2 344.5,177.9 341.5,177.5 338.5,177.1 335.5,176.7 332.5,176.3 329.5,176.0 326.5,175.6 323.5,175.2 320.5,174.7 317.5,174.3 314.5,173.8 311.5,173.3 308.5,172.8 305.5,172.3 302.5,171.7 299.5,171.0 296.5,170.3 293.5,169.5 290.5,168.6 287.5,167.5 284.5,166.5 281.5,165.3 278.5,164.1 275.5,162.9 272.5,161.7 269.5,160.4 266.5,159.2 263.5,158.0 260.5,156.8 257.5,155.7 254.5,154.5 251.5,153.4 248.5,152.3 245.5,151.2 242.5,150.1 239.5,148.9 236.5,147.8 233.5,146.6 230.5,145.5 227.5,144.3 224.5,143.1 221.5,141.9 218.5,140.7 215.5,139.5 212.5,138.3 209.5,137.0 206.5,135.8 203.5,134.5 200.5,133.2 197.5,131.9 194.5,130.6 191.5,129.3 188.5,127.9 185.5,126.6 182.5,125.3 179.5,123.9 176.5,122.6 173.5,121.3 170.5,120.0 167.5,118.6 164.5,117.3 161.5,115.9 158.5,114.4 155.5,112.9 152.5,111.3 149.5,109.7 146.5,108.0 143.5,106.5 140.5,105.1 137.5,103.8 134.5,102.7 131.5,101.5 128.5,100.5 125.5,99.5 122.5,98.6 119.5,97.7 116.5,96.9 113.5,96.2 110.5,95.5 107.5,94.9 104.5,94.3" fill="#8c07f1"/>
<polygon points="104.5,92.2 107.5,92.8 110.5,93.5 113.5,94.2 116.5,95.0 119.5,95.8 122.5,96.7 125.5,97.6 128.5,98.6 131.5,99.6 134.5,100.7 137.5,101.9 140.5,103.2 143.5,104.6 146.5,106.1 149.5,107.6 152.5,109.2 155.5,110.8 158.5,112.4 161.5,113.8 164.5,115.2 167.5,116.6 170.5,118.0 173.5,119.3 176.5,120.7 179.5,122.0 182.5,123.3 185.5,124.7 188.5,126.0 191.5,127.3 194.5,128.6 197.5,129.9 200.5,131.2 203.5,132.5 206.5,133.7 209.5,135.0 212.5,136.2 215.5,137.5 218.5,138.7 221.5,139.9 224.5,141.1 227.5,142.2 230.5,143.4 233.5,144.6 236.5,145.7 239.5,146.8 242.5,148.0 245.5,149.1 248.5,150.2 251.5,151.3 254.5,152.4 257.5,153.6 260.5,154.7 263.5,155.9 266.5,157.1 269.5,158.4 272.5,159.6 275.5,160.8 278.5,162.1 281.5,163.3 284.5,164.4 287.5,165.5 290.5,166.6 293.5,167.5 296.5,168.4 299.5,169.2 302.5,169.8 305.5,170.5 308.5,171.1 311.5,171.6 314.5,172.2 317.5,172.7 320.5,173.2 323.5,173.7 326.5,174.1 329.5,174.6 332.5,175.0 335.5,175.4 338.5,175.8 341.5,176.3 344.5,176.7 347.5,177.1 350.5,177.5 353.5,178.0 356.5,178.4 359.5,178.8 362.5,179.2 365.5,179.7 368.5,180.1 371.5,180.5 374.5,181.1 374.5,181.1 371.5,180.9 368.5,180.5 365.5,180.1 362.5,179.7 359.5,179.3 356.5,178.9 353.5,178.5 350.5,178.1 347.5,177.7 344.5,177.3 341.5,176.9 338.5,176.5 335.5,176.1 332.5,175.7 329.5,175.3 326.5,174.8 323.5,174.4 320.5,174.0 317.5,173.5 314.5,173.0 311.5,172.5 308.5,171.9 305.5,171.4 302.5,170.7 299.5,170.1 296.5,169.3 293.5,168.5 290.5,167.6 287.5,166.5 284.5,165.4 281.5,164.3 278.5,163.1 275.5,161.9 272.5,160.6 269.5,159.4 266.5,158.1 263.5,156.9 260.5,155.7 257.5,154.6 254.5,153.5 251.5,152.4 248.5,151.2 245.5,150.1 242.5,149.0 239.5,147.9 236.5,146.7 233.5,145.6 230.5,144.4 227.5,143.3 224.5,142.1 221.5,140.9 218.5,139.7 215.5,138.5 212.5,137.2 209.5,136.0 206.5,134.7 203.5,133.5 200.5,132.2 197.5,130.9 194.5,129.6 191.5,128.3 188.5,126.9 185.5,125.6 182.5,124.3 179.5,123.0 176.5,121.6 173.5,120.3 170.5,119.0 167.5,117.6 164.5,116.2 161.5,114.8 158.5,113.4 155.5,111.8 152.5,110.2 149.5,108.6 146.5,107.0 143.5,105.5 140.5,104.1 137.5,102.8 134.5,101.7 131.5,100.6 128.5,99.5 125.5,98.5 122.5,97.6 119.5,96.8 116.5,95.9 113.5,95.2 110.5,94.5 107.5,93.8 104.5,93.2" fill="#8d07ef"/>
<polygon points="104.5,91.2 107.5,91.8 110.5,92.5 113.5,93.2 116.5,94.0 119.5,94.9 122.5,95.8 125.5,96.7 128.5,97.7 131.5,98.7 134.5,99.8 137.5,101.0 140.5,102.2 143.5,103.6 146.5,105.1 149.5,106.7 152.5,108.3 155.5,109.9 158.5,111.4 161.5,112.8 164.5,114.2 167.5,115.6 170.5,117.0 173.5,118.4 176.5,119.8 179.5,121.1 182.5,122.4 185.5,123.8 188.5,125.1 191.5,126.4 194.5,127.7 197.5,129.0 200.5,130.3 203.5,131.5 206.5,132.8 209.5,134.0 212.5,135.3 215.5,136.5 218.5,137.7 221.5,138.9 224.5,140.1 227.5,141.3 230.5,142.4 233.5,143.6 236.5,144.7 239.5,145.8 242.5,146.9 245.5,148.1 248.5,149.2 251.5,150.3 254.5,151.4 257.5,152.5 260.5,153.7 263.5,154.9 266.5,156.1 269.5,157.3 272.5,158.6 275.5,159.8 278.5,161.1 281.5,162.3 284.5,163.4 287.5,164.5 290.5,165.6 293.5,166.6 296.5,167.4 299.5,168.2 302.5,168.9 305.5,169.6 308.5,170.2 311.5,170.8 314.5,171.4 317.5,171.9 320.5,172.4 323.5,172.9 326.5,173.4 329.5,173.9 332.5,174.3 335.5,174.8 338.5,175.2 341.5,175.7 344.5,176.1 347.5,176.5 350.5,177.0 353.5,177.4 356.5,177.9 359.5,178.3 362.5,178.8 365.5,179.2 368.5,179.6 371.5,180.2 371.5,180.2 368.5,180.1 365.5,179.7 362.5,179.2 359.5,178.8 356.5,178.4 353.5,178.0 350.5,177.5 347.5,177.1 344.5,176.7 341.5,176.3 338.5,175.8 335.5,175.4 332.5,175.0 329.5,174.6 326.5,174.1 323.5,173.7 320.5,173.2 317.5,172.7 314.5,172.2 311.5,171.6 308.5,171.1 305.5,170.5 302.5,169.8 299.5,169.2 296.5,168.4 293.5,167.5 290.5,166.6 287.5,165.5 284.5,164.4 281.5,163.3 278.5,162.1 275.5,160.8 272.5,159.6 269.5,158.4 266.5,157.1 263.5,155.9 260.5,154.7 257.5,153.6 254.5,152.4 251.5,151.3 248.5,150.2 245.5,149.1 242.5,148.0 239.5,146.8 236.5,145.7 233.5,144.6 230.5,143.4 227.5,142.2 224.5,141.1 221.5,139.9 218.5,138.7 215.5,137.5 212.5,136.2 209.5,135.0 206.5,133.7 203.5,132.5 200.5,131.2 197.5,129.9 194.5,128.6 191.5,127.3 188.5,126.0 185.5,124.7 182.5,123.3 179.5,122.0 176.5,120.7 173.5,119.3 170.5,118.0 167.5,116.6 164.5,115.2 161.5,113.8 158.5,112.4 155.5,110.8 152.5,109.2 149.5,107.6 146.5,106.1 143.5,104.6 140.5,103.2 137.5,101.9 134.5,100.7 131.5,99.6 128.5,98.6 125.5,97.6 122.5,96.7 119.5,95.8 116.5,95.0 113.5,94.2 110.5,93.5 107.5,92.8 104.5,92.2" fill="#8e08ed"/>
<polygon points="104.5,90.2 107.5,90.9 110.5,91.6 113.5,92.3 116.5,93.1 119.5,94.0 122.5,94.9 125.5,95.8 128.5,96.8 131.5,97.8 134.5,98.9 137.5,100.1 140.5,101.4 143.5,102.7 146.5,104.2 149.5,105.8 152.5,107.3 155.5,108.9 158.5,110.4 161.5,111.9 164.5,113.3 167.5,114.7 170.5,116.1 173.5,117.5 176.5,118.9 179.5,120.2 182.5,121.5 185.5,122.9 188.5,124.2 191.5,125.5 194.5,126.8 197.5,128.1 200.5,129.3 203.5,130.6 206.5,131.9 209.5,133.1 212.5,134.3 215.5,135.6 218.5,136.8 221.5,138.0 224.5,139.1 227.5,140.3 230.5,141.4 233.5,142.6 236.5,143.7 239.5,144.8 242.5,146.0 245.5,147.1 248.5,148.2 251.5,149.3 254.5,150.4 257.5,151.5 260.5,152.7 263.5,153.9 266.5,155.1 269.5,156.3 272.5,157.6 275.5,158.8 278.5,160.1 281.5,161.3 284.5,162.5 287.5,163.6 290.5,164.6 293.5,165.6 296.5,166.5 299.5,167.3 302.5,168.0 305.5,168.7 308.5,169.4 311.5,170.0 314.5,170.6 317.5,171.2 320.5,171.7 323.5,172.2 326.5,172.7 329.5,173.2 332.5,173.7 335.5,174.2 338.5,174.6 341.5,175.1 344.5,175.6 347.5,176.0 350.5,176.5 353.5,176.9 356.5,177.4 359.5,177.8 362.5,178.3 365.5,179.0 365.5,179.0 362.5,178.8 359.5,178.3 356.5,177.9 353.5,177.4 350.5,177.0 347.5,176.5 344.5,176.1 341.5,175.7 338.5,175.2 335.5,174.8 332.5,174.3 329.5,173.9 326.5,173.4 323.5,172.9 320.5,172.4 317.5,171.9 314.5,171.4 311.5,170.8 308.5,170.2 305.5,169.6 302.5,168.9 299.5,168.2 296.5,167.4 293.5,166.6 290.5,165.6 287.5,164.5 284.5,163.4 281.5,162.3 278.5,161.1 275.5,159.8 272.5,158.6 269.5,157.3 266.5,156.1 263.5,154.9 260.5,153.7 257.5,152.5 254.5,151.4 251.5,150.3 248.5,149.2 245.5,148.1 242.5,146.9 239.5,145.8 236.5,144.7 233.5,143.6 230.5,142.4 227.5,141.3 224.5,140.1 221.5,138.9 218.5,137.7 215.5,136.5 212.5,135.3 209.5,134.0 206.5,132.8 203.5,131.5 200.5,130.3 197.5,129.0 194.5,127.7 191.5,126.4 188.5,125.1 185.5,123.8 182.5,122.4 179.5,121.1 176.5,119.8 173.5,118.4 170.5,117.0 167.5,115.6 164.5,114.2 161.5,112.8 158.5,111.4 155.5,109.9 152.5,108.3 149.5,106.7 146.5,105.1 143.5,103.6 140.5,102.2 137.5,101.0 134.5,99.8 131.5,98.7 128.5,97.7 125.5,96.7 122.5,95.8 119.5,94.9 116.5,94.0 113.5,93.2 110.5,92.5 107.5,91.8 104.5,91.2" fill="#8f08eb"/>
<polygon points="104.5,89.2 107.5,89.9 110.5,90.7 113.5,91.4 116.5,92.2 119.5,93.1 122.5,94.0 125.5,95.0 128.5,95.9 131.5,97.0 134.5,98.1 137.5,99.3 140.5,100.5 143.5,101.9 146.5,103.3 149.5,104.9 152.5,106.4 155.5,108.0 158.5,109.5 161.5,110.9 164.5,112.4 167.5,113.8 170.5,115.2 173.5,116.6 176.5,118.0 179.5,119.4 182.5,120.7 185.5,122.0 188.5,123.3 191.5,124.6 194.5,125.9 197.5,127.2 200.5,128.5 203.5,129.7 206.5,131.0 209.5,132.2 212.5,133.4 215.5,134.6 218.5,135.8 221.5,137.0 224.5,138.2 227.5,139.4 230.5,140.5 233.5,141.6 236.5,142.8 239.5,143.9 242.5,145.0 245.5,146.1 248.5,147.2 251.5,148.3 254.5,149.4 257.5,150.6 260.5,151.7 263.5,152.9 266.5,154.1 269.5,155.4 272.5,156.6 275.5,157.9 278.5,159.1 281.5,160.3 284.5,161.5 287.5,162.6 290.5,163.7 293.5,164.7 296.5,165.6 299.5,166.4 302.5,167.2 305.5,167.9 308.5,168.6 311.5,169.2 314.5,169.8 317.5,170.4 320.5,171.0 323.5,171.5 326.5,172.1 329.5,172.6 332.5,173.1 335.5,173.6 338.5,174.1 341.5,174.5 344.5,175.0 347.5,175.5 350.5,176.0 353.5,176.5 356.5,176.9 359.5,177.4 362.5,178.1 362.5,178.1 359.5,177.8 356.5,177.4 353.5,176.9 350.5,176.5 347.5,176.0 344.5,175.6 341.5,175.1 338.5,174.6 335.5,174.2 332.5,173.7 329.5,173.2 326.5,172.7 323.5,172.2 320.5,171.7 317.5,171.2 314.5,170.6 311.5,170.0 308.5,169.4 305.5,168.7 302.5,168.0 299.5,167.3 296.5,166.5 293.5,165.6 290.5,164.6 287.5,163.6 284.5,162.5 281.5,161.3 278.5,160.1 275.5,158.8 272.5,157.6 269.5,156.3 266.5,155.1 263.5,153.9 260.5,152.7 257.5,151.5 254.5,150.4 251.5,149.3 248.5,148.2 245.5,147.1 242.5,146.0 239.5,144.8 236.5,143.7 233.5,142.6 230.5,141.4 227.5,140.3 224.5,139.1 221.5,138.0 218.5,136.8 215.5,135.6 212.5,134.3 209.5,133.1 206.5,131.9 203.5,130.6 200.5,129.3 197.5,128.1 194.5,126.8 191.5,125.5 188.5,124.2 185.5,122.9 182.5,121.5 179.5,120.2 176.5,118.9 173.5,117.5 170.5,116.1 167.5,114.7 164.5,113.3 161.5,111.9 158.5,110.4 155.5,108.9 152.5,107.3 149.5,105.8 146.5,104.2 143.5,102.7 140.5,101.4 137.5,100.1 134.5,98.9 131.5,97.8 128.5,96.8 125.5,95.8 122.5,94.9 119.5,94.0 116.5,93.1 113.5,92.3 110.5,91.6 107.5,90.9 104.5,90.2" fill="#9008e9"/>
<polygon points="104.5,88.3 107.5,89.0 110.5,89.7 113.5,90.5 116.5,91.4 119.5,92.3 122.5,93.2 125.5,94.1 128.5,95.1 131.5,96.2 134.5,97.3 137.5,98.4 140.5,99.7 143.5,101.0 146.5,102.5 149.5,104.0 152.5,105.6 155.5,107.1 158.5,108.6 161.5,110.1 164.5,111.5 167.5,112.9 170.5,114.4 173.5,115.8 176.5,117.2 179.5,118.5 182.5,119.9 185.5,121.2 188.5,122.5 191.5,123.8 194.5,125.1 197.5,126.3 200.5,127.6 203.5,128.9 206.5,130.1 209.5,131.3 212.5,132.5 215.5,133.7 218.5,134.9 221.5,136.1 224.5,137.3 227.5,138.4 230.5,139.6 233.5,140.7 236.5,141.8 239.5,142.9 242.5,144.0 245.5,145.1 248.5,146.3 251.5,147.4 254.5,148.5 257.5,149.6 260.5,150.8 263.5,152.0 266.5,153.2 269.5,154.4 272.5,155.7 275.5,156.9 278.5,158.2 281.5,159.4 284.5,160.6 287.5,161.7 290.5,162.8 293.5,163.8 296.5,164.7 299.5,165.6 302.5,166.3 305.5,167.1 308.5,167.8 311.5,168.4 314.5,169.1 317.5,169.7 320.5,170.3 323.5,170.9 326.5,171.4 329.5,172.0 332.5,172.5 335.5,173.0 338.5,173.5 341.5,174.0 344.5,174.5 347.5,175.0 350.5,175.5 353.5,176.0 356.5,176.5 359.5,177.2 359.5,177.2 356.5,176.9 353.5,176.5 350.5,176.0 347.5,175.5 344.5,175.0 341.5,174.5 338.5,174.1 335.5,173.6 332.5,173.1 329.5,172.6 326.5,172.1 323.5,171.5 320.5,171.0 317.5,170.4 314.5,169.8 311.5,169.2 308.5,168.6 305.5,167.9 302.5,167.2 299.5,166.4 296.5,165.6 293.5,164.7 290.5,163.7 287.5,162.6 284.5,161.5 281.5,160.3 278.5,159.1 275.5,157.9 272.5,156.6 269.5,155.4 266.5,154.1 263.5,152.9 260.5,151.7 257.5,150.6 254.5,149.4 251.5,148.3 248.5,147.2 245.5,146.1 242.5,145.0 239.5,143.9 236.5,142.8 233.5,141.6 230.5,140.5 227.5,139.4 224.5,138.2 221.5,137.0 218.5,135.8 215.5,134.6 212.5,133.4 209.5,132.2 206.5,131.0 203.5,129.7 200.5,128.5 197.5,127.2 194.5,125.9 191.5,124.6 188.5,123.3 185.5,122.0 182.5,120.7 179.5,119.4 176.5,118.0 173.5,116.6 170.5,115.2 167.5,113.8 164.5,112.4 161.5,110.9 158.5,109.5 155.5,108.0 152.5,106.4 149.5,104.9 146.5,103.3 143.5,101.9 140.5,100.5 137.5,99.3 134.5,98.1 131.5,97.0 128.5,95.9 125.5,95.0 122.5,94.0 119.5,93.1 116.5,92.2 113.5,91.4 110.5,90.7 107.5,89.9 104.5,89.2" fill="#9008e6"/>
<polygon points="104.5,87.3 107.5,88.1 110.5,88.8 113.5,89.7 116.5,90.5 119.5,91.4 122.5,92.3 125.5,93.3 128.5,94.3 131.5,95.4 134.5,96.5 137.5,97.6 140.5,98.9 143.5,100.2 146.5,101.7 149.5,103.2 152.5,104.7 155.5,106.2 158.5,107.7 161.5,109.2 164.5,110.7 167.5,112.1 170.5,113.6 173.5,115.0 176.5,116.4 179.5,117.7 182.5,119.1 185.5,120.4 188.5,121.7 191.5,123.0 194.5,124.3 197.5,125.5 200.5,126.8 203.5,128.0 206.5,129.3 209.5,130.5 212.5,131.7 215.5,132.9 218.5,134.1 221.5,135.3 224.5,136.4 227.5,137.6 230.5,138.7 233.5,139.8 236.5,140.9 239.5,142.0 242.5,143.1 245.5,144.2 248.5,145.3 251.5,146.4 254.5,147.6 257.5,148.7 260.5,149.8 263.5,151.0 266.5,152.2 269.5,153.5 272.5,154.7 275.5,156.0 278.5,157.2 281.5,158.5 284.5,159.6 287.5,160.8 290.5,161.9 293.5,162.9 296.5,163.9 299.5,164.7 302.5,165.5 305.5,166.3 308.5,167.0 311.5,167.7 314.5,168.3 317.5,169.0 320.5,169.6 323.5,170.2 326.5,170.8 329.5,171.4 332.5,171.9 335.5,172.4 338.5,173.0 341.5,173.5 344.5,174.0 347.5,174.5 350.5,175.0 353.5,175.5 356.5,176.3 356.5,176.3 353.5,176.0 350.5,175.5 347.5,175.0 344.5,174.5 341.5,174.0 338.5,173.5 335.5,173.0 332.5,172.5 329.5,172.0 326.5,171.4 323.5,170.9 320.5,170.3 317.5,169.7 314.5,169.1 311.5,168.4 308.5,167.8 305.5,167.1 302.5,166.3 299.5,165.6 296.5,164.7 293.5,163.8 290.5,162.8 287.5,161.7 284.5,160.6 281.5,159.4 278.5,158.2 275.5,156.9 272.5,155.7 269.5,154.4 266.5,153.2 263.5,152.0 260.5,150.8 257.5,149.6 254.5,148.5 251.5,147.4 248.5,146.3 245.5,145.1 242.5,144.0 239.5,142.9 236.5,141.8 233.5,140.7 230.5,139.6 227.5,138.4 224.5,137.3 221.5,136.1 218.5,134.9 215.5,133.7 212.5,132.5 209.5,131.3 206.5,130.1 203.5,128.9 200.5,127.6 197.5,126.3 194.5,125.1 191.5,123.8 188.5,122.5 185.5,121.2 182.5,119.9 179.5,118.5 176.5,117.2 173.5,115.8 170.5,114.4 167.5,112.9 164.5,111.5 161.5,110.1 158.5,108.6 155.5,107.1 152.5,105.6 149.5,104.0 146.5,102.5 143.5,101.0 140.5,99.7 137.5,98.4 134.5,97.3 131.5,96.2 128.5,95.1 125.5,94.1 122.5,93.2 119.5,92.3 116.5,91.4 113.5,90.5 110.5,89.7 107.5,89.0 104.5,88.3" fill="#9109e3"/>
<polygon points="104.5,86.4 107.5,87.2 110.5,88.0 113.5,88.8 116.5,89.7 119.5,90.6 122.5,91.5 125.5,92.5 128.5,93.5 131.5,94.6 134.5,95.7 137.5,96.8 140.5,98.1 143.5,99.4 146.5,100.9 149.5,102.4 152.5,103.9 155.5,105.4 158.5,106.9 161.5,108.4 164.5,109.8 167.5,111.3 170.5,112.8 173.5,114.2 176.5,115.6 179.5,117.0 182.5,118.3 185.5,119.6 188.5,120.9 191.5,122.2 194.5,123.5 197.5,124.7 200.5,126.0 203.5,127.2 206.5,128.4 209.5,129.6 212.5,130.8 215.5,132.0 218.5,133.2 221.5,134.4 224.5,135.5 227.5,136.7 230.5,137.8 233.5,138.9 236.5,140.0 239.5,141.1 242.5,142.2 245.5,143.3 248.5,144.4 251.5,145.5 254.5,146.6 257.5,147.8 260.5,148.9 263.5,150.1 266.5,151.3 269.5,152.6 272.5,153.8 275.5,155.1 278.5,156.3 281.5,157.5 284.5,158.7 287.5,159.9 290.5,161.0 293.5,162.0 296.5,163.0 299.5,163.9 302.5,164.7 305.5,165.5 308.5,166.2 311.5,166.9 314.5,167.6 317.5,168.3 320.5,168.9 323.5,169.6 326.5,170.2 329.5,170.8 332.5,171.3 335.5,171.9 338.5,172.4 341.5,173.0 344.5,173.5 347.5,174.0 350.5,174.6 353.5,175.3 353.5,175.3 350.5,175.0 347.5,174.5 344.5,174.0 341.5,173.5 338.5,173.0 335.5,172.4 332.5,171.9 329.5,171.4 326.5,170.8 323.5,170.2 320.5,169.6 317.5,169.0 314.5,168.3 311.5,167.7 308.5,167.0 305.5,166.3 302.5,165.5 299.5,164.7 296.5,163.9 293.5,162.9 290.5,161.9 287.5,160.8 284.5,159.6 281.5,158.5 278.5,157.2 275.5,156.0 272.5,154.7 269.5,153.5 266.5,152.2 263.5,151.0 260.5,149.8 257.5,148.7 254.5,147.6 251.5,146.4 248.5,145.3 245.5,144.2 242.5,143.1 239.5,142.0 236.5,140.9 233.5,139.8 230.5,138.7 227.5,137.6 224.5,136.4 221.5,135.3 218.5,134.1 215.5,132.9 212.5,131.7 209.5,130.5 206.5,129.3 203.5,128.0 200.5,126.8 197.5,125.5 194.5,124.3 191.5,123.0 188.5,121.7 185.5,120.4 182.5,119.1 179.5,117.7 176.5,116.4 173.5,115.0 170.5,113.6 167.5,112.1 164.5,110.7 161.5,109.2 158.5,107.7 155.5,106.2 152.5,104.7 149.5,103.2 146.5,101.7 143.5,100.2 140.5,98.9 137.5,97.6 134.5,96.5 131.5,95.4 128.5,94.3 125.5,93.3 122.5,92.3 119.5,91.4 116.5,90.5 113.5,89.7 110.5,88.8 107.5,88.1 104.5,87.3" fill="#9209e1"/>
<polygon points="104.5,85.6 107.5,86.4 110.5,87.2 113.5,88.0 116.5,88.9 119.5,89.9 122.5,90.8 125.5,91.8 128.5,92.8 131.5,93.8 134.5,94.9 137.5,96.1 140.5,97.3 143.5,98.7 146.5,100.1 149.5,101.6 152.5,103.1 155.5,104.6 158.5,106.1 161.5,107.6 164.5,109.0 167.5,110.5 170.5,112.0 173.5,113.4 176.5,114.9 179.5,116.2 182.5,117.6 185.5,118.9 188.5,120.2 191.5,121.4 194.5,122.7 197.5,124.0 200.5,125.2 203.5,126.4 206.5,127.6 209.5,128.8 212.5,130.0 215.5,131.2 218.5,132.4 221.5,133.6 224.5,134.7 227.5,135.8 230.5,137.0 233.5,138.1 236.5,139.2 239.5,140.2 242.5,141.3 245.5,142.4 248.5,143.5 251.5,144.6 254.5,145.7 257.5,146.9 260.5,148.0 263.5,149.2 266.5,150.4 269.5,151.7 272.5,152.9 275.5,154.2 278.5,155.4 281.5,156.7 284.5,157.9 287.5,159.0 290.5,160.1 293.5,161.2 296.5,162.2 299.5,163.1 302.5,163.9 305.5,164.7 308.5,165.5 311.5,166.2 314.5,166.9 317.5,167.6 320.5,168.3 323.5,168.9 326.5,169.6 329.5,170.2 332.5,170.8 335.5,171.4 338.5,171.9 341.5,172.5 344.5,173.0 347.5,173.6 350.5,174.4 350.5,174.4 347.5,174.0 344.5,173.5 341.5,173.0 338.5,172.4 335.5,171.9 332.5,171.3 329.5,170.8 326.5,170.2 323.5,169.6 320.5,168.9 317.5,168.3 314.5,167.6 311.5,166.9 308.5,166.2 305.5,165.5 302.5,164.7 299.5,163.9 296.5,163.0 293.5,162.0 290.5,161.0 287.5,159.9 284.5,158.7 281.5,157.5 278.5,156.3 275.5,155.1 272.5,153.8 269.5,152.6 266.5,151.3 263.5,150.1 260.5,148.9 257.5,147.8 254.5,146.6 251.5,145.5 248.5,144.4 245.5,143.3 242.5,142.2 239.5,141.1 236.5,140.0 233.5,138.9 230.5,137.8 227.5,136.7 224.5,135.5 221.5,134.4 218.5,133.2 215.5,132.0 212.5,130.8 209.5,129.6 206.5,128.4 203.5,127.2 200.5,126.0 197.5,124.7 194.5,123.5 191.5,122.2 188.5,120.9 185.5,119.6 182.5,118.3 179.5,117.0 176.5,115.6 173.5,114.2 170.5,112.8 167.5,111.3 164.5,109.8 161.5,108.4 158.5,106.9 155.5,105.4 152.5,103.9 149.5,102.4 146.5,100.9 143.5,99.4 140.5,98.1 137.5,96.8 134.5,95.7 131.5,94.6 128.5,93.5 125.5,92.5 122.5,91.5 119.5,90.6 116.5,89.7 113.5,88.8 110.5,88.0 107.5,87.2 104.5,86.4" fill="#9309de"/>
<polygon points="104.5,84.9 107.5,85.7 110.5,86.5 113.5,87.4 116.5,88.3 119.5,89.2 122.5,90.2 125.5,91.1 128.5,92.1 131.5,93.2 134.5,94.3 137.5,95.4 140.5,96.7 143.5,98.0 146.5,99.4 149.5,100.9 152.5,102.3 155.5,103.8 158.5,105.3 161.5,106.8 164.5,108.3 167.5,109.8 170.5,111.2 173.5,112.7 176.5,114.1 179.5,115.5 182.5,116.8 185.5,118.2 188.5,119.4 191.5,120.7 194.5,122.0 197.5,123.2 200.5,124.5 203.5,125.7 206.5,126.9 209.5,128.1 212.5,129.3 215.5,130.4 218.5,131.6 221.5,132.8 224.5,133.9 227.5,135.0 230.5,136.1 233.5,137.2 236.5,138.3 239.5,139.4 242.5,140.5 245.5,141.6 248.5,142.7 251.5,143.7 254.5,144.9 257.5,146.0 260.5,147.1 263.5,148.3 266.5,149.5 269.5,150.8 272.5,152.0 275.5,153.3 278.5,154.5 281.5,155.8 284.5,157.0 287.5,158.2 290.5,159.3 293.5,160.3 296.5,161.3 299.5,162.2 302.5,163.1 305.5,163.9 308.5,164.7 311.5,165.5 314.5,166.2 317.5,166.9 320.5,167.6 323.5,168.3 326.5,169.0 329.5,169.6 332.5,170.2 335.5,170.8 338.5,171.4 341.5,172.0 344.5,172.6 347.5,173.4 347.5,173.4 344.5,173.0 341.5,172.5 338.5,171.9 335.5,171.4 332.5,170.8 329.5,170.2 326.5,169.6 323.5,168.9 320.5,168.3 317.5,167.6 314.5,166.9 311.5,166.2 308.5,165.5 305.5,164.7 302.5,163.9 299.5,163.1 296.5,162.2 293.5,161.2 290.5,160.1 287.5,159.0 284.5,157.9 281.5,156.7 278.5,155.4 275.5,154.2 272.5,152.9 269.5,151.7 266.5,150.4 263.5,149.2 260.5,148.0 257.5,146.9 254.5,145.7 251.5,144.6 248.5,143.5 245.5,142.4 242.5,141.3 239.5,140.2 236.5,139.2 233.5,138.1 230.5,137.0 227.5,135.8 224.5,134.7 221.5,133.6 218.5,132.4 215.5,131.2 212.5,130.0 209.5,128.8 206.5,127.6 203.5,126.4 200.5,125.2 197.5,124.0 194.5,122.7 191.5,121.4 188.5,120.2 185.5,118.9 182.5,117.6 179.5,116.2 176.5,114.9 173.5,113.4 170.5,112.0 167.5,110.5 164.5,109.0 161.5,107.6 158.5,106.1 155.5,104.6 152.5,103.1 149.5,101.6 146.5,100.1 143.5,98.7 140.5,97.3 137.5,96.1 134.5,94.9 131.5,93.8 128.5,92.8 125.5,91.8 122.5,90.8 119.5,89.9 116.5,88.9 113.5,88.0 110.5,87.2 107.5,86.4 104.5,85.6" fill="#940ada"/>
<polygon points="104.5,84.3 107.5,85.1 110.5,85.9 113.5,86.8 116.5,87.7 119.5,88.6 122.5,89.6 125.5,90.5 128.5,91.5 131.5,92.5 134.5,93.6 137.5,94.7 140.5,96.0 143.5,97.3 146.5,98.7 149.5,100.1 152.5,101.6 155.5,103.1 158.5,104.6 161.5,106.0 164.5,107.5 167.5,109.0 170.5,110.5 173.5,112.0 176.5,113.4 179.5,114.8 182.5,116.1 185.5,117.5 188.5,118.7 191.5,120.0 194.5,121.3 197.5,122.5 200.5,123.7 203.5,124.9 206.5,126.1 209.5,127.3 212.5,128.5 215.5,129.7 218.5,130.8 221.5,132.0 224.5,133.1 227.5,134.2 230.5,135.3 233.5,136.4 236.5,137.5 239.5,138.6 242.5,139.6 245.5,140.7 248.5,141.8 251.5,142.9 254.5,144.0 257.5,145.1 260.5,146.3 263.5,147.5 266.5,148.7 269.5,149.9 272.5,151.2 275.5,152.4 278.5,153.7 281.5,154.9 284.5,156.1 287.5,157.3 290.5,158.4 293.5,159.5 296.5,160.5 299.5,161.5 302.5,162.3 305.5,163.2 308.5,164.0 311.5,164.8 314.5,165.5 317.5,166.3 320.5,167.0 323.5,167.7 326.5,168.4 329.5,169.0 332.5,169.7 335.5,170.3 338.5,170.9 341.5,171.6 344.5,172.4 344.5,172.4 341.5,172.0 338.5,171.4 335.5,170.8 332.5,170.2 329.5,169.6 326.5,169.0 323.5,168.3 320.5,167.6 317.5,166.9 314.5,166.2 311.5,165.5 308.5,164.7 305.5,163.9 302.5,163.1 299.5,162.2 296.5,161.3 293.5,160.3 290.5,159.3 287.5,158.2 284.5,157.0 281.5,155.8 278.5,154.5 275.5,153.3 272.5,152.0 269.5,150.8 266.5,149.5 263.5,148.3 260.5,147.1 257.5,146.0 254.5,144.9 251.5,143.7 248.5,142.7 245.5,141.6 242.5,140.5 239.5,139.4 236.5,138.3 233.5,137.2 230.5,136.1 227.5,135.0 224.5,133.9 221.5,132.8 218.5,131.6 215.5,130.4 212.5,129.3 209.5,128.1 206.5,126.9 203.5,125.7 200.5,124.5 197.5,123.2 194.5,122.0 191.5,120.7 188.5,119.4 185.5,118.2 182.5,116.8 179.5,115.5 176.5,114.1 173.5,112.7 170.5,111.2 167.5,109.8 164.5,108.3 161.5,106.8 158.5,105.3 155.5,103.8 152.5,102.3 149.5,100.9 146.5,99.4 143.5,98.0 140.5,96.7 137.5,95.4 134.5,94.3 131.5,93.2 128.5,92.1 125.5,91.1 122.5,90.2 119.5,89.2 116.5,88.3 113.5,87.4 110.5,86.5 107.5,85.7 104.5,84.9" fill="#950ad7"/>
<polygon points="104.5,83.7 107.5,84.5 110.5,85.4 113.5,86.2 116.5,87.1 119.5,88.0 122.5,89.0 125.5,89.9 128.5,90.9 131.5,91.9 134.5,92.9 137.5,94.0 140.5,95.3 143.5,96.6 146.5,98.0 149.5,99.4 152.5,100.9 155.5,102.4 158.5,103.8 161.5,105.3 164.5,106.8 167.5,108.3 170.5,109.8 173.5,111.3 176.5,112.8 179.5,114.1 182.5,115.5 185.5,116.8 188.5,118.1 191.5,119.3 194.5,120.6 197.5,121.8 200.5,123.0 203.5,124.2 206.5,125.4 209.5,126.6 212.5,127.8 215.5,128.9 218.5,130.1 221.5,131.2 224.5,132.3 227.5,133.4 230.5,134.5 233.5,135.6 236.5,136.7 239.5,137.8 242.5,138.8 245.5,139.9 248.5,141.0 251.5,142.1 254.5,143.2 257.5,144.3 260.5,145.4 263.5,146.6 266.5,147.8 269.5,149.1 272.5,150.3 275.5,151.6 278.5,152.8 281.5,154.1 284.5,155.3 287.5,156.5 290.5,157.6 293.5,158.7 296.5,159.7 299.5,160.7 302.5,161.6 305.5,162.4 308.5,163.3 311.5,164.1 314.5,164.9 317.5,165.6 320.5,166.4 323.5,167.1 326.5,167.8 329.5,168.5 332.5,169.2 335.5,169.8 338.5,170.5 341.5,171.1 344.5,171.9 344.5,171.9 341.5,171.6 338.5,170.9 335.5,170.3 332.5,169.7 329.5,169.0 326.5,168.4 323.5,167.7 320.5,167.0 317.5,166.3 314.5,165.5 311.5,164.8 308.5,164.0 305.5,163.2 302.5,162.3 299.5,161.5 296.5,160.5 293.5,159.5 290.5,158.4 287.5,157.3 284.5,156.1 281.5,154.9 278.5,153.7 275.5,152.4 272.5,151.2 269.5,149.9 266.5,148.7 263.5,147.5 260.5,146.3 257.5,145.1 254.5,144.0 251.5,142.9 248.5,141.8 245.5,140.7 242.5,139.6 239.5,138.6 236.5,137.5 233.5,136.4 230.5,135.3 227.5,134.2 224.5,133.1 221.5,132.0 218.5,130.8 215.5,129.7 212.5,128.5 209.5,127.3 206.5,126.1 203.5,124.9 200.5,123.7 197.5,122.5 194.5,121.3 191.5,120.0 188.5,118.7 185.5,117.5 182.5,116.1 179.5,114.8 176.5,113.4 173.5,112.0 170.5,110.5 167.5,109.0 164.5,107.5 161.5,106.0 158.5,104.6 155.5,103.1 152.5,101.6 149.5,100.1 146.5,98.7 143.5,97.3 140.5,96.0 137.5,94.7 134.5,93.6 131.5,92.5 128.5,91.5 125.5,90.5 122.5,89.6 119.5,88.6 116.5,87.7 113.5,86.8 110.5,85.9 107.5,85.1 104.5,84.3" fill="#960ad4"/>
<polygon points="104.5,83.2 107.5,84.0 110.5,84.9 113.5,85.7 116.5,86.6 119.5,87.5 122.5,88.4 125.5,89.3 128.5,90.3 131.5,91.3 134.5,92.3 137.5,93.4 140.5,94.6 143.5,95.9 146.5,97.3 149.5,98.7 152.5,100.2 155.5,101.7 158.5,103.1 161.5,104.6 164.5,106.1 167.5,107.6 170.5,109.2 173.5,110.7 176.5,112.1 179.5,113.5 182.5,114.8 185.5,116.1 188.5,117.4 191.5,118.7 194.5,119.9 197.5,121.1 200.5,122.3 203.5,123.5 206.5,124.7 209.5,125.9 212.5,127.0 215.5,128.2 218.5,129.3 221.5,130.5 224.5,131.6 227.5,132.7 230.5,133.8 233.5,134.8 236.5,135.9 239.5,137.0 242.5,138.0 245.5,139.1 248.5,140.2 251.5,141.2 254.5,142.3 257.5,143.4 260.5,144.6 263.5,145.8 266.5,147.0 269.5,148.2 272.5,149.5 275.5,150.8 278.5,152.0 281.5,153.3 284.5,154.5 287.5,155.7 290.5,156.8 293.5,157.9 296.5,158.9 299.5,159.9 302.5,160.8 305.5,161.7 308.5,162.6 311.5,163.4 314.5,164.2 317.5,165.0 320.5,165.8 323.5,166.5 326.5,167.3 329.5,168.0 332.5,168.7 335.5,169.4 338.5,170.0 341.5,170.9 341.5,170.9 338.5,170.5 335.5,169.8 332.5,169.2 329.5,168.5 326.5,167.8 323.5,167.1 320.5,166.4 317.5,165.6 314.5,164.9 311.5,164.1 308.5,163.3 305.5,162.4 302.5,161.6 299.5,160.7 296.5,159.7 293.5,158.7 290.5,157.6 287.5,156.5 284.5,155.3 281.5,154.1 278.5,152.8 275.5,151.6 272.5,150.3 269.5,149.1 266.5,147.8 263.5,146.6 260.5,145.4 257.5,144.3 254.5,143.2 251.5,142.1 248.5,141.0 245.5,139.9 242.5,138.8 239.5,137.8 236.5,136.7 233.5,135.6 230.5,134.5 227.5,133.4 224.5,132.3 221.5,131.2 218.5,130.1 215.5,128.9 212.5,127.8 209.5,126.6 206.5,125.4 203.5,124.2 200.5,123.0 197.5,121.8 194.5,120.6 191.5,119.3 188.5,118.1 185.5,116.8 182.5,115.5 179.5,114.1 176.5,112.8 173.5,111.3 170.5,109.8 167.5,108.3 164.5,106.8 161.5,105.3 158.5,103.8 155.5,102.4 152.5,100.9 149.5,99.4 146.5,98.0 143.5,96.6 140.5,95.3 137.5,94.0 134.5,92.9 131.5,91.9 128.5,90.9 125.5,89.9 122.5,89.0 119.5,88.0 116.5,87.1 113.5,86.2 110.5,85.4 107.5,84.5 104.5,83.7" fill="#970bd0"/>
<polygon points="125.5,89.1 128.5,89.8 131.5,90.8 134.5,91.8 137.5,92.9 140.5,94.1 143.5,95.3 146.5,96.7 149.5,98.1 152.5,99.5 155.5,101.0 158.5,102.4 161.5,103.9 164.5,105.4 167.5,107.0 170.5,108.5 173.5,110.0 176.5,111.5 179.5,112.9 182.5,114.2 185.5,115.5 188.5,116.8 191.5,118.0 194.5,119.3 197.5,120.5 200.5,121.7 203.5,122.9 206.5,124.0 209.5,125.2 212.5,126.3 215.5,127.5 218.5,128.6 221.5,129.8 224.5,130.9 227.5,132.0 230.5,133.0 233.5,134.1 236.5,135.1 239.5,136.2 242.5,137.2 245.5,138.3 248.5,139.4 251.5,140.4 254.5,141.5 257.5,142.6 260.5,143.8 263.5,145.0 266.5,146.2 269.5,147.4 272.5,148.7 275.5,149.9 278.5,151.2 281.5,152.4 284.5,153.7 287.5,154.9 290.5,156.0 293.5,157.1 296.5,158.2 299.5,159.2 302.5,160.1 305.5,161.0 308.5,161.9 311.5,162.7 314.5,163.6 317.5,164.4 320.5,165.2 323.5,166.0 326.5,166.7 329.5,167.5 332.5,168.2 335.5,168.9 338.5,169.8 338.5,169.8 335.5,169.4 332.5,168.7 329.5,168.0 326.5,167.3 323.5,166.5 320.5,165.8 317.5,165.0 314.5,164.2 311.5,163.4 308.5,162.6 305.5,161.7 302.5,160.8 299.5,159.9 296.5,158.9 293.5,157.9 290.5,156.8 287.5,155.7 284.5,154.5 281.5,153.3 278.5,152.0 275.5,150.8 272.5,149.5 269.5,148.2 266.5,147.0 263.5,145.8 260.5,144.6 257.5,143.4 254.5,142.3 251.5,141.2 248.5,140.2 245.5,139.1 242.5,138.0 239.5,137.0 236.5,135.9 233.5,134.8 230.5,133.8 227.5,132.7 224.5,131.6 221.5,130.5 218.5,129.3 215.5,128.2 212.5,127.0 209.5,125.9 206.5,124.7 203.5,123.5 200.5,122.3 197.5,121.1 194.5,119.9 191.5,118.7 188.5,117.4 185.5,116.1 182.5,114.8 179.5,113.5 176.5,112.1 173.5,110.7 170.5,109.2 167.5,107.6 164.5,106.1 161.5,104.6 158.5,103.1 155.5,101.7 152.5,100.2 149.5,98.7 146.5,97.3 143.5,95.9 140.5,94.6 137.5,93.4 134.5,92.3 131.5,91.3 128.5,90.3 125.5,89.1" fill="#970bcc"/>
<polygon points="143.5,95.1 146.5,96.2 149.5,97.5 152.5,98.9 155.5,100.4 158.5,101.8 161.5,103.2 164.5,104.7 167.5,106.3 170.5,107.9 173.5,109.4 176.5,110.9 179.5,112.3 182.5,113.6 185.5,114.9 188.5,116.2 191.5,117.4 194.5,118.7 197.5,119.9 200.5,121.0 203.5,122.2 206.5,123.4 209.5,124.5 212.5,125.7 215.5,126.8 218.5,127.9 221.5,129.1 224.5,130.2 227.5,131.2 230.5,132.3 233.5,133.4 236.5,134.4 239.5,135.4 242.5,136.5 245.5,137.5 248.5,138.6 251.5,139.6 254.5,140.7 257.5,141.8 260.5,143.0 263.5,144.2 266.5,145.4 269.5,146.6 272.5,147.9 275.5,149.1 278.5,150.4 281.5,151.6 284.5,152.9 287.5,154.1 290.5,155.2 293.5,156.4 296.5,157.4 299.5,158.4 302.5,159.4 305.5,160.3 308.5,161.2 311.5,162.1 314.5,162.9 317.5,163.8 320.5,164.6 323.5,165.4 326.5,166.2 329.5,167.0 332.5,167.7 335.5,168.4 338.5,169.4 338.5,169.4 335.5,168.9 332.5,168.2 329.5,167.5 326.5,166.7 323.5,166.0 320.5,165.2 317.5,164.4 314.5,163.6 311.5,162.7 308.5,161.9 305.5,161.0 302.5,160.1 299.5,159.2 296.5,158.2 293.5,157.1 290.5,156.0 287.5,154.9 284.5,153.7 281.5,152.4 278.5,151.2 275.5,149.9 272.5,148.7 269.5,147.4 266.5,146.2 263.5,145.0 260.5,143.8 257.5,142.6 254.5,141.5 251.5,140.4 248.5,139.4 245.5,138.3 242.5,137.2 239.5,136.2 236.5,135.1 233.5,134.1 230.5,133.0 227.5,132.0 224.5,130.9 221.5,129.8 218.5,128.6 215.5,127.5 212.5,126.3 209.5,125.2 206.5,124.0 203.5,122.9 200.5,121.7 197.5,120.5 194.5,119.3 191.5,118.0 188.5,116.8 185.5,115.5 182.5,114.2 179.5,112.9 176.5,111.5 173.5,110.0 170.5,108.5 167.5,107.0 164.5,105.4 161.5,103.9 158.5,102.4 155.5,101.0 152.5,99.5 149.5,98.1 146.5,96.7 143.5,95.1" fill="#980cc8"/>
<polygon points="146.5,96.0 149.5,97.1 152.5,98.4 155.5,99.8 158.5,101.1 161.5,102.5 164.5,104.1 167.5,105.6 170.5,107.2 173.5,108.8 176.5,110.3 179.5,111.7 182.5,113.0 185.5,114.3 188.5,115.6 191.5,116.8 194.5,118.1 197.5,119.2 200.5,120.4 203.5,121.6 206.5,122.7 209.5,123.9 212.5,125.0 215.5,126.1 218.5,127.3 221.5,128.4 224.5,129.5 227.5,130.5 230.5,131.6 233.5,132.6 236.5,133.7 239.5,134.7 242.5,135.7 245.5,136.8 248.5,137.8 251.5,138.9 254.5,140.0 257.5,141.1 260.5,142.2 263.5,143.4 266.5,144.6 269.5,145.8 272.5,147.1 275.5,148.3 278.5,149.6 281.5,150.9 284.5,152.1 287.5,153.3 290.5,154.5 293.5,155.6 296.5,156.7 299.5,157.7 302.5,158.7 305.5,159.6 308.5,160.5 311.5,161.4 314.5,162.3 317.5,163.2 320.5,164.0 323.5,164.9 326.5,165.7 329.5,166.5 332.5,167.2 335.5,168.2 335.5,168.2 332.5,167.7 329.5,167.0 326.5,166.2 323.5,165.4 320.5,164.6 317.5,163.8 314.5,162.9 311.5,162.1 308.5,161.2 305.5,160.3 302.5,159.4 299.5,158.4 296.5,157.4 293.5,156.4 290.5,155.2 287.5,154.1 284.5,152.9 281.5,151.6 278.5,150.4 275.5,149.1 272.5,147.9 269.5,146.6 266.5,145.4 263.5,144.2 260.5,143.0 257.5,141.8 254.5,140.7 251.5,139.6 248.5,138.6 245.5,137.5 242.5,136.5 239.5,135.4 236.5,134.4 233.5,133.4 230.5,132.3 227.5,131.2 224.5,130.2 221.5,129.1 218.5,127.9 215.5,126.8 212.5,125.7 209.5,124.5 206.5,123.4 203.5,122.2 200.5,121.0 197.5,119.9 194.5,118.7 191.5,117.4 188.5,116.2 185.5,114.9 182.5,113.6 179.5,112.3 176.5,110.9 173.5,109.4 170.5,107.9 167.5,106.3 164.5,104.7 161.5,103.2 158.5,101.8 155.5,100.4 152.5,98.9 149.5,97.5 146.5,96.0" fill="#990cc4"/>
<polygon points="149.5,96.9 152.5,97.9 155.5,99.1 158.5,100.5 161.5,101.8 164.5,103.3 167.5,104.9 170.5,106.6 173.5,108.2 176.5,109.7 179.5,111.1 182.5,112.4 185.5,113.7 188.5,115.0 191.5,116.2 194.5,117.5 197.5,118.6 200.5,119.8 203.5,121.0 206.5,122.1 209.5,123.3 212.5,124.4 215.5,125.5 218.5,126.6 221.5,127.7 224.5,128.8 227.5,129.9 230.5,130.9 233.5,131.9 236.5,133.0 239.5,134.0 242.5,135.0 245.5,136.0 248.5,137.1 251.5,138.1 254.5,139.2 257.5,140.3 260.5,141.4 263.5,142.6 266.5,143.8 269.5,145.0 272.5,146.3 275.5,147.6 278.5,148.8 281.5,150.1 284.5,151.3 287.5,152.5 290.5,153.7 293.5,154.9 296.5,155.9 299.5,157.0 302.5,158.0 305.5,158.9 308.5,159.9 311.5,160.8 314.5,161.7 317.5,162.6 320.5,163.5 323.5,164.4 326.5,165.2 329.5,166.0 332.5,167.0 332.5,167.0 329.5,166.5 326.5,165.7 323.5,164.9 320.5,164.0 317.5,163.2 314.5,162.3 311.5,161.4 308.5,160.5 305.5,159.6 302.5,158.7 299.5,157.7 296.5,156.7 293.5,155.6 290.5,154.5 287.5,153.3 284.5,152.1 281.5,150.9 278.5,149.6 275.5,148.3 272.5,147.1 269.5,145.8 266.5,144.6 263.5,143.4 260.5,142.2 257.5,141.1 254.5,140.0 251.5,138.9 248.5,137.8 245.5,136.8 242.5,135.7 239.5,134.7 236.5,133.7 233.5,132.6 230.5,131.6 227.5,130.5 224.5,129.5 221.5,128.4 218.5,127.3 215.5,126.1 212.5,125.0 209.5,123.9 206.5,122.7 203.5,121.6 200.5,120.4 197.5,119.2 194.5,118.1 191.5,116.8 188.5,115.6 185.5,114.3 182.5,113.0 179.5,111.7 176.5,110.3 173.5,108.8 170.5,107.2 167.5,105.6 164.5,104.1 161.5,102.5 158.5,101.1 155.5,99.8 152.5,98.4 149.5,96.9" fill="#9a0cbf"/>
<polygon points="149.5,96.4 152.5,97.4 155.5,98.6 158.5,99.8 161.5,101.2 164.5,102.7 167.5,104.3 170.5,105.9 173.5,107.6 176.5,109.1 179.5,110.5 182.5,111.9 185.5,113.2 188.5,114.4 191.5,115.7 194.5,116.9 197.5,118.1 200.5,119.2 203.5,120.4 206.5,121.5 209.5,122.6 212.5,123.8 215.5,124.9 218.5,126.0 221.5,127.1 224.5,128.2 227.5,129.2 230.5,130.2 233.5,131.3 236.5,132.3 239.5,133.3 242.5,134.3 245.5,135.3 248.5,136.3 251.5,137.4 254.5,138.4 257.5,139.5 260.5,140.7 263.5,141.8 266.5,143.0 269.5,144.3 272.5,145.5 275.5,146.8 278.5,148.1 281.5,149.3 284.5,150.6 287.5,151.8 290.5,153.0 293.5,154.1 296.5,155.2 299.5,156.3 302.5,157.3 305.5,158.3 308.5,159.2 311.5,160.2 314.5,161.1 317.5,162.1 320.5,163.0 323.5,163.8 326.5,164.7 329.5,165.6 332.5,166.6 332.5,166.6 329.5,166.0 326.5,165.2 323.5,164.4 320.5,163.5 317.5,162.6 314.5,161.7 311.5,160.8 308.5,159.9 305.5,158.9 302.5,158.0 299.5,157.0 296.5,155.9 293.5,154.9 290.5,153.7 287.5,152.5 284.5,151.3 281.5,150.1 278.5,148.8 275.5,147.6 272.5,146.3 269.5,145.0 266.5,143.8 263.5,142.6 260.5,141.4 257.5,140.3 254.5,139.2 251.5,138.1 248.5,137.1 245.5,136.0 242.5,135.0 239.5,134.0 236.5,133.0 233.5,131.9 230.5,130.9 227.5,129.9 224.5,128.8 221.5,127.7 218.5,126.6 215.5,125.5 212.5,124.4 209.5,123.3 206.5,122.1 203.5,121.0 200.5,119.8 197.5,118.6 194.5,117.5 191.5,116.2 188.5,115.0 185.5,113.7 182.5,112.4 179.5,111.1 176.5,109.7 173.5,108.2 170.5,106.6 167.5,104.9 164.5,103.3 161.5,101.8 158.5,100.5 155.5,99.1 152.5,97.9 149.5,96.4" fill="#9b0dba"/>
<polygon points="152.5,97.2 155.5,98.1 158.5,99.3 161.5,100.6 164.5,102.1 167.5,103.7 170.5,105.4 173.5,107.1 176.5,108.6 179.5,110.0 182.5,111.3 185.5,112.6 188.5,113.9 191.5,115.1 194.5,116.3 197.5,117.5 200.5,118.7 203.5,119.8 206.5,120.9 209.5,122.1 212.5,123.2 215.5,124.3 218.5,125.4 221.5,126.5 224.5,127.5 227.5,128.6 230.5,129.6 233.5,130.6 236.5,131.6 239.5,132.6 242.5,133.6 245.5,134.6 248.5,135.6 251.5,136.7 254.5,137.7 257.5,138.8 260.5,139.9 263.5,141.1 266.5,142.3 269.5,143.5 272.5,144.8 275.5,146.1 278.5,147.3 281.5,148.6 284.5,149.8 287.5,151.1 290.5,152.3 293.5,153.4 296.5,154.5 299.5,155.6 302.5,156.6 305.5,157.6 308.5,158.6 311.5,159.6 314.5,160.5 317.5,161.5 320.5,162.4 323.5,163.3 326.5,164.2 329.5,165.1 332.5,166.2 332.5,166.2 329.5,165.6 326.5,164.7 323.5,163.8 320.5,163.0 317.5,162.1 314.5,161.1 311.5,160.2 308.5,159.2 305.5,158.3 302.5,157.3 299.5,156.3 296.5,155.2 293.5,154.1 290.5,153.0 287.5,151.8 284.5,150.6 281.5,149.3 278.5,148.1 275.5,146.8 272.5,145.5 269.5,144.3 266.5,143.0 263.5,141.8 260.5,140.7 257.5,139.5 254.5,138.4 251.5,137.4 248.5,136.3 245.5,135.3 242.5,134.3 239.5,133.3 236.5,132.3 233.5,131.3 230.5,130.2 227.5,129.2 224.5,128.2 221.5,127.1 218.5,126.0 215.5,124.9 212.5,123.8 209.5,122.6 206.5,121.5 203.5,120.4 200.5,119.2 197.5,118.1 194.5,116.9 191.5,115.7 188.5,114.4 185.5,113.2 182.5,111.9 179.5,110.5 176.5,109.1 173.5,107.6 170.5,105.9 167.5,104.3 164.5,102.7 161.5,101.2 158.5,99.8 155.5,98.6 152.5,97.2" fill="#9c0db5"/>
<polygon points="182.5,111.1 185.5,112.2 188.5,113.4 191.5,114.7 194.5,115.8 197.5,117.0 200.5,118.2 203.5,119.3 206.5,120.4 209.5,121.5 212.5,122.6 215.5,123.7 218.5,124.8 221.5,125.9 224.5,126.9 227.5,127.9 230.5,128.9 233.5,129.9 236.5,130.9 239.5,131.9 242.5,132.9 245.5,133.9 248.5,134.9 251.5,136.0 254.5,137.0 257.5,138.1 260.5,139.2 263.5,140.4 266.5,141.6 269.5,142.8 272.5,144.1 275.5,145.4 278.5,146.6 281.5,147.9 284.5,149.1 287.5,150.4 290.5,151.6 293.5,152.7 296.5,153.9 299.5,154.9 302.5,156.0 305.5,157.0 308.5,158.0 311.5,159.0 314.5,160.0 317.5,160.9 320.5,161.9 323.5,162.8 326.5,163.7 329.5,164.6 332.5,165.5 335.5,166.5 335.5,166.5 332.5,165.9 329.5,165.1 326.5,164.2 323.5,163.3 320.5,162.4 317.5,161.5 314.5,160.5 311.5,159.6 308.5,158.6 305.5,157.6 302.5,156.6 299.5,155.6 296.5,154.5 293.5,153.4 290.5,152.3 287.5,151.1 284.5,149.8 281.5,148.6 278.5,147.3 275.5,146.1 272.5,144.8 269.5,143.5 266.5,142.3 263.5,141.1 260.5,139.9 257.5,138.8 254.5,137.7 251.5,136.7 248.5,135.6 245.5,134.6 242.5,133.6 239.5,132.6 236.5,131.6 233.5,130.6 230.5,129.6 227.5,128.6 224.5,127.5 221.5,126.5 218.5,125.4 215.5,124.3 212.5,123.2 209.5,122.1 206.5,120.9 203.5,119.8 200.5,118.7 197.5,117.5 194.5,116.3 191.5,115.1 188.5,113.9 185.5,112.6 182.5,111.1" fill="#9d0eb0"/>
<polygon points="191.5,114.4 194.5,115.4 197.5,116.5 200.5,117.7 203.5,118.8 206.5,119.9 209.5,121.0 212.5,122.0 215.5,123.1 218.5,124.2 221.5,125.3 224.5,126.3 227.5,127.3 230.5,128.3 233.5,129.3 236.5,130.3 239.5,131.3 242.5,132.3 245.5,133.3 248.5,134.3 251.5,135.3 254.5,136.4 257.5,137.5 260.5,138.6 263.5,139.7 266.5,140.9 269.5,142.2 272.5,143.4 275.5,144.7 278.5,145.9 281.5,147.2 284.5,148.5 287.5,149.7 290.5,150.9 293.5,152.1 296.5,153.2 299.5,154.3 302.5,155.3 305.5,156.3 308.5,157.4 311.5,158.4 314.5,159.4 317.5,160.3 320.5,161.3 323.5,162.3 326.5,163.2 329.5,164.1 332.5,165.0 335.5,165.8 338.5,166.7 341.5,167.7 341.5,167.7 338.5,167.1 335.5,166.3 332.5,165.5 329.5,164.6 326.5,163.7 323.5,162.8 320.5,161.9 317.5,160.9 314.5,160.0 311.5,159.0 308.5,158.0 305.5,157.0 302.5,156.0 299.5,154.9 296.5,153.9 293.5,152.7 290.5,151.6 287.5,150.4 284.5,149.1 281.5,147.9 278.5,146.6 275.5,145.4 272.5,144.1 269.5,142.8 266.5,141.6 263.5,140.4 260.5,139.2 257.5,138.1 254.5,137.0 251.5,136.0 248.5,134.9 245.5,133.9 242.5,132.9 239.5,131.9 236.5,130.9 233.5,129.9 230.5,128.9 227.5,127.9 224.5,126.9 221.5,125.9 218.5,124.8 215.5,123.7 212.5,122.6 209.5,121.5 206.5,120.4 203.5,119.3 200.5,118.2 197.5,117.0 194.5,115.8 191.5,114.4" fill="#9e0eab"/>
<polygon points="194.5,115.2 197.5,116.1 200.5,117.2 203.5,118.3 206.5,119.4 209.5,120.4 212.5,121.5 215.5,122.6 218.5,123.6 221.5,124.7 224.5,125.7 227.5,126.7 230.5,127.7 233.5,128.7 236.5,129.7 239.5,130.7 242.5,131.7 245.5,132.6 248.5,133.6 251.5,134.7 254.5,135.7 257.5,136.8 260.5,137.9 263.5,139.1 266.5,140.3 269.5,141.5 272.5,142.8 275.5,144.0 278.5,145.3 281.5,146.5 284.5,147.8 287.5,149.0 290.5,150.2 293.5,151.4 296.5,152.6 299.5,153.6 302.5,154.7 305.5,155.7 308.5,156.7 311.5,157.8 314.5,158.8 317.5,159.8 320.5,160.7 323.5,161.7 326.5,162.6 329.5,163.6 332.5,164.5 335.5,165.3 338.5,166.2 341.5,167.0 344.5,167.8 347.5,168.5 350.5,169.5 350.5,169.5 347.5,169.0 344.5,168.3 341.5,167.5 338.5,166.7 335.5,165.8 332.5,165.0 329.5,164.1 326.5,163.2 323.5,162.3 320.5,161.3 317.5,160.3 314.5,159.4 311.5,158.4 308.5,157.4 305.5,156.3 302.5,155.3 299.5,154.3 296.5,153.2 293.5,152.1 290.5,150.9 287.5,149.7 284.5,148.5 281.5,147.2 278.5,145.9 275.5,144.7 272.5,143.4 269.5,142.2 266.5,140.9 263.5,139.7 260.5,138.6 257.5,137.5 254.5,136.4 251.5,135.3 248.5,134.3 245.5,133.3 242.5,132.3 239.5,131.3 236.5,130.3 233.5,129.3 230.5,128.3 227.5,127.3 224.5,126.3 221.5,125.3 218.5,124.2 215.5,123.1 212.5,122.0 209.5,121.0 206.5,119.9 203.5,118.8 200.5,117.7 197.5,116.5 194.5,115.2" fill="#9f0fa5"/>
<polygon points="197.5,115.9 200.5,116.7 203.5,117.8 206.5,118.9 209.5,119.9 212.5,121.0 215.5,122.0 218.5,123.1 221.5,124.1 224.5,125.1 227.5,126.1 230.5,127.1 233.5,128.1 236.5,129.1 239.5,130.1 242.5,131.0 245.5,132.0 248.5,133.0 251.5,134.0 254.5,135.1 257.5,136.2 260.5,137.3 263.5,138.4 266.5,139.6 269.5,140.9 272.5,142.1 275.5,143.4 278.5,144.6 281.5,145.9 284.5,147.2 287.5,148.4 290.5,149.6 293.5,150.8 296.5,151.9 299.5,153.0 302.5,154.1 305.5,155.1 308.5,156.1 311.5,157.2 314.5,158.2 317.5,159.2 320.5,160.2 323.5,161.1 326.5,162.1 329.5,163.0 332.5,163.9 335.5,164.8 338.5,165.7 341.5,166.5 344.5,167.3 347.5,168.1 350.5,168.8 353.5,169.5 356.5,170.4 356.5,170.4 353.5,170.0 350.5,169.3 347.5,168.5 344.5,167.8 341.5,167.0 338.5,166.2 335.5,165.3 332.5,164.5 329.5,163.6 326.5,162.6 323.5,161.7 320.5,160.7 317.5,159.8 314.5,158.8 311.5,157.8 308.5,156.7 305.5,155.7 302.5,154.7 299.5,153.6 296.5,152.6 293.5,151.4 290.5,150.2 287.5,149.0 284.5,147.8 281.5,146.5 278.5,145.3 275.5,144.0 272.5,142.8 269.5,141.5 266.5,140.3 263.5,139.1 260.5,137.9 257.5,136.8 254.5,135.7 251.5,134.7 248.5,133.6 245.5,132.6 242.5,131.7 239.5,130.7 236.5,129.7 233.5,128.7 230.5,127.7 227.5,126.7 224.5,125.7 221.5,124.7 218.5,123.6 215.5,122.6 212.5,121.5 209.5,120.4 206.5,119.4 203.5,118.3 200.5,117.2 197.5,115.9" fill="#a00f9f"/>
<polygon points="200.5,116.5 203.5,117.3 206.5,118.4 209.5,119.4 212.5,120.4 215.5,121.5 218.5,122.5 221.5,123.6 224.5,124.6 227.5,125.6 230.5,126.5 233.5,127.5 236.5,128.5 239.5,129.5 242.5,130.4 245.5,131.4 248.5,132.4 251.5,133.4 254.5,134.5 257.5,135.6 260.5,136.7 263.5,137.8 266.5,139.0 269.5,140.2 272.5,141.5 275.5,142.7 278.5,144.0 281.5,145.3 284.5,146.5 287.5,147.8 290.5,149.0 293.5,150.1 296.5,151.3 299.5,152.4 302.5,153.4 305.5,154.5 308.5,155.5 311.5,156.6 314.5,157.6 317.5,158.6 320.5,159.6 323.5,160.6 326.5,161.5 329.5,162.5 332.5,163.4 335.5,164.3 338.5,165.1 341.5,166.0 344.5,166.8 347.5,167.6 350.5,168.3 353.5,169.1 356.5,169.8 359.5,170.7 359.5,170.7 356.5,170.2 353.5,169.5 350.5,168.8 347.5,168.1 344.5,167.3 341.5,166.5 338.5,165.7 335.5,164.8 332.5,163.9 329.5,163.0 326.5,162.1 323.5,161.1 320.5,160.2 317.5,159.2 314.5,158.2 311.5,157.2 308.5,156.1 305.5,155.1 302.5,154.1 299.5,153.0 296.5,151.9 293.5,150.8 290.5,149.6 287.5,148.4 284.5,147.2 281.5,145.9 278.5,144.6 275.5,143.4 272.5,142.1 269.5,140.9 266.5,139.6 263.5,138.4 260.5,137.3 257.5,136.2 254.5,135.1 251.5,134.0 248.5,133.0 245.5,132.0 242.5,131.0 239.5,130.1 236.5,129.1 233.5,128.1 230.5,127.1 227.5,126.1 224.5,125.1 221.5,124.1 218.5,123.1 215.5,122.0 212.5,121.0 209.5,119.9 206.5,118.9 203.5,117.8 200.5,116.5" fill="#a11099"/>
<polygon points="200.5,116.1 203.5,116.9 206.5,117.9 209.5,118.9 212.5,119.9 215.5,120.9 218.5,122.0 221.5,123.0 224.5,124.0 227.5,125.0 230.5,126.0 233.5,126.9 236.5,127.9 239.5,128.9 242.5,129.8 245.5,130.8 248.5,131.8 251.5,132.8 254.5,133.9 257.5,134.9 260.5,136.1 263.5,137.2 266.5,138.4 269.5,139.6 272.5,140.9 275.5,142.1 278.5,143.4 281.5,144.6 284.5,145.9 287.5,147.1 290.5,148.3 293.5,149.5 296.5,150.7 299.5,151.8 302.5,152.8 305.5,153.9 308.5,154.9 311.5,156.0 314.5,157.0 317.5,158.0 320.5,159.0 323.5,160.0 326.5,160.9 329.5,161.9 332.5,162.8 335.5,163.7 338.5,164.6 341.5,165.4 344.5,166.3 347.5,167.1 350.5,167.8 353.5,168.6 356.5,169.3 359.5,170.0 362.5,170.9 362.5,170.9 359.5,170.5 356.5,169.8 353.5,169.1 350.5,168.3 347.5,167.6 344.5,166.8 341.5,166.0 338.5,165.1 335.5,164.3 332.5,163.4 329.5,162.5 326.5,161.5 323.5,160.6 320.5,159.6 317.5,158.6 314.5,157.6 311.5,156.6 308.5,155.5 305.5,154.5 302.5,153.4 299.5,152.4 296.5,151.3 293.5,150.1 290.5,149.0 287.5,147.8 284.5,146.5 281.5,145.3 278.5,144.0 275.5,142.7 272.5,141.5 269.5,140.2 266.5,139.0 263.5,137.8 260.5,136.7 257.5,135.6 254.5,134.5 251.5,133.4 248.5,132.4 245.5,131.4 242.5,130.4 239.5,129.5 236.5,128.5 233.5,127.5 230.5,126.5 227.5,125.6 224.5,124.6 221.5,123.6 218.5,122.5 215.5,121.5 212.5,120.4 209.5,119.4 206.5,118.4 203.5,117.3 200.5,116.1" fill="#a21193"/>
<polygon points="203.5,116.7 206.5,117.4 209.5,118.4 212.5,119.4 215.5,120.4 218.5,121.5 221.5,122.5 224.5,123.5 227.5,124.4 230.5,125.4 233.5,126.4 236.5,127.3 239.5,128.3 242.5,129.3 245.5,130.2 248.5,131.2 251.5,132.3 254.5,133.3 257.5,134.4 260.5,135.5 263.5,136.6 266.5,137.8 269.5,139.0 272.5,140.3 275.5,141.5 278.5,142.8 281.5,144.0 284.5,145.3 287.5,146.5 290.5,147.7 293.5,148.9 296.5,150.1 299.5,151.2 302.5,152.2 305.5,153.3 308.5,154.3 311.5,155.4 314.5,156.4 317.5,157.4 320.5,158.4 323.5,159.4 326.5,160.4 329.5,161.3 332.5,162.3 335.5,163.2 338.5,164.0 341.5,164.9 344.5,165.7 347.5,166.5 350.5,167.3 353.5,168.1 356.5,168.8 359.5,169.6 362.5,170.5 362.5,170.5 359.5,170.0 356.5,169.3 353.5,168.6 350.5,167.8 347.5,167.1 344.5,166.3 341.5,165.4 338.5,164.6 335.5,163.7 332.5,162.8 329.5,161.9 326.5,160.9 323.5,160.0 320.5,159.0 317.5,158.0 314.5,157.0 311.5,156.0 308.5,154.9 305.5,153.9 302.5,152.8 299.5,151.8 296.5,150.7 293.5,149.5 290.5,148.3 287.5,147.1 284.5,145.9 281.5,144.6 278.5,143.4 275.5,142.1 272.5,140.9 269.5,139.6 266.5,138.4 263.5,137.2 260.5,136.1 257.5,134.9 254.5,133.9 251.5,132.8 248.5,131.8 245.5,130.8 242.5,129.8 239.5,128.9 236.5,127.9 233.5,126.9 230.5,126.0 227.5,125.0 224.5,124.0 221.5,123.0 218.5,122.0 215.5,120.9 212.5,119.9 209.5,118.9 206.5,117.9 203.5,116.7" fill="#a3118c"/>
<polygon points="206.5,117.2 209.5,118.0 212.5,118.9 215.5,119.9 218.5,120.9 221.5,121.9 224.5,122.9 227.5,123.9 230.5,124.9 233.5,125.8 236.5,126.8 239.5,127.7 242.5,128.7 245.5,129.7 248.5,130.7 251.5,131.7 254.5,132.7 257.5,133.8 260.5,134.9 263.5,136.0 266.5,137.2 269.5,138.4 272.5,139.7 275.5,140.9 278.5,142.2 281.5,143.5 284.5,144.7 287.5,145.9 290.5,147.2 293.5,148.3 296.5,149.5 299.5,150.6 302.5,151.7 305.5,152.7 308.5,153.8 311.5,154.8 314.5,155.8 317.5,156.8 320.5,157.9 323.5,158.8 326.5,159.8 329.5,160.8 332.5,161.7 335.5,162.6 338.5,163.5 341.5,164.4 344.5,165.2 347.5,166.0 350.5,166.8 353.5,167.6 356.5,168.3 359.5,169.1 362.5,170.0 362.5,170.0 359.5,169.6 356.5,168.8 353.5,168.1 350.5,167.3 347.5,166.5 344.5,165.7 341.5,164.9 338.5,164.0 335.5,163.2 332.5,162.3 329.5,161.3 326.5,160.4 323.5,159.4 320.5,158.4 317.5,157.4 314.5,156.4 311.5,155.4 308.5,154.3 305.5,153.3 302.5,152.2 299.5,151.2 296.5,150.1 293.5,148.9 290.5,147.7 287.5,146.5 284.5,145.3 281.5,144.0 278.5,142.8 275.5,141.5 272.5,140.3 269.5,139.0 266.5,137.8 263.5,136.6 260.5,135.5 257.5,134.4 254.5,133.3 251.5,132.3 248.5,131.2 245.5,130.2 242.5,129.3 239.5,128.3 236.5,127.3 233.5,126.4 230.5,125.4 227.5,124.4 224.5,123.5 221.5,122.5 218.5,121.5 215.5,120.4 212.5,119.4 209.5,118.4 206.5,117.2" fill="#a41285"/>
<polygon points="209.5,117.7 212.5,118.5 215.5,119.5 218.5,120.5 221.5,121.4 224.5,122.4 227.5,123.4 230.5,124.3 233.5,125.3 236.5,126.3 239.5,127.2 242.5,128.2 245.5,129.2 248.5,130.1 251.5,131.2 254.5,132.2 257.5,133.2 260.5,134.3 263.5,135.5 266.5,136.7 269.5,137.9 272.5,139.1 275.5,140.4 278.5,141.6 281.5,142.9 284.5,144.1 287.5,145.4 290.5,146.6 293.5,147.8 296.5,148.9 299.5,150.0 302.5,151.1 305.5,152.1 308.5,153.2 311.5,154.2 314.5,155.3 317.5,156.3 320.5,157.3 323.5,158.3 326.5,159.3 329.5,160.2 332.5,161.2 335.5,162.1 338.5,163.0 341.5,163.8 344.5,164.7 347.5,165.5 350.5,166.3 353.5,167.1 356.5,167.9 359.5,168.6 362.5,169.6 362.5,169.6 359.5,169.1 356.5,168.3 353.5,167.6 350.5,166.8 347.5,166.0 344.5,165.2 341.5,164.4 338.5,163.5 335.5,162.6 332.5,161.7 329.5,160.8 326.5,159.8 323.5,158.8 320.5,157.9 317.5,156.8 314.5,155.8 311.5,154.8 308.5,153.8 305.5,152.7 302.5,151.7 299.5,150.6 296.5,149.5 293.5,148.3 290.5,147.2 287.5,145.9 284.5,144.7 281.5,143.5 278.5,142.2 275.5,140.9 272.5,139.7 269.5,138.4 266.5,137.2 263.5,136.0 260.5,134.9 257.5,133.8 254.5,132.7 251.5,131.7 248.5,130.7 245.5,129.7 242.5,128.7 239.5,127.7 236.5,126.8 233.5,125.8 230.5,124.9 227.5,123.9 224.5,122.9 221.5,121.9 218.5,120.9 215.5,119.9 212.5,118.9 209.5,117.7" fill="#a5137e"/>
<polygon points="212.5,118.3 215.5,119.0 218.5,120.0 221.5,121.0 224.5,121.9 227.5,122.9 230.5,123.8 233.5,124.8 236.5,125.7 239.5,126.7 242.5,127.7 245.5,128.6 248.5,129.6 251.5,130.6 254.5,131.7 257.5,132.7 260.5,133.8 263.5,135.0 266.5,136.1 269.5,137.3 272.5,138.6 275.5,139.8 278.5,141.1 281.5,142.3 284.5,143.6 287.5,144.8 290.5,146.0 293.5,147.2 296.5,148.4 299.5,149.5 302.5,150.5 305.5,151.6 308.5,152.7 311.5,153.7 314.5,154.7 317.5,155.7 320.5,156.8 323.5,157.7 326.5,158.7 329.5,159.7 332.5,160.6 335.5,161.5 338.5,162.4 341.5,163.3 344.5,164.2 347.5,165.0 350.5,165.8 353.5,166.6 356.5,167.4 359.5,168.4 359.5,168.4 356.5,167.9 353.5,167.1 350.5,166.3 347.5,165.5 344.5,164.7 341.5,163.8 338.5,163.0 335.5,162.1 332.5,161.2 329.5,160.2 326.5,159.3 323.5,158.3 320.5,157.3 317.5,156.3 314.5,155.3 311.5,154.2 308.5,153.2 305.5,152.1 302.5,151.1 299.5,150.0 296.5,148.9 293.5,147.8 290.5,146.6 287.5,145.4 284.5,144.1 281.5,142.9 278.5,141.6 275.5,140.4 272.5,139.1 269.5,137.9 266.5,136.7 263.5,135.5 260.5,134.3 257.5,133.2 254.5,132.2 251.5,131.2 248.5,130.1 245.5,129.2 242.5,128.2 239.5,127.2 236.5,126.3 233.5,125.3 230.5,124.3 227.5,123.4 224.5,122.4 221.5,121.4 218.5,120.5 215.5,119.5 212.5,118.3" fill="#a61377"/>
<polygon points="215.5,118.8 218.5,119.5 221.5,120.5 224.5,121.5 227.5,122.4 230.5,123.3 233.5,124.3 236.5,125.2 239.5,126.2 242.5,127.1 245.5,128.1 248.5,129.1 251.5,130.1 254.5,131.1 257.5,132.2 260.5,133.3 263.5,134.4 266.5,135.6 269.5,136.8 272.5,138.0 275.5,139.3 278.5,140.5 281.5,141.8 284.5,143.0 287.5,144.3 290.5,145.5 293.5,146.7 296.5,147.8 299.5,148.9 302.5,150.0 305.5,151.1 308.5,152.1 311.5,153.2 314.5,154.2 317.5,155.2 320.5,156.2 323.5,157.2 326.5,158.2 329.5,159.2 332.5,160.1 335.5,161.0 338.5,161.9 341.5,162.8 344.5,163.7 347.5,164.5 350.5,165.4 353.5,166.2 356.5,167.0 359.5,168.0 359.5,168.0 356.5,167.4 353.5,166.6 350.5,165.8 347.5,165.0 344.5,164.2 341.5,163.3 338.5,162.4 335.5,161.5 332.5,160.6 329.5,159.7 326.5,158.7 323.5,157.7 320.5,156.8 317.5,155.7 314.5,154.7 311.5,153.7 308.5,152.7 305.5,151.6 302.5,150.5 299.5,149.5 296.5,148.4 293.5,147.2 290.5,146.0 287.5,144.8 284.5,143.6 281.5,142.3 278.5,141.1 275.5,139.8 272.5,138.6 269.5,137.3 266.5,136.1 263.5,135.0 260.5,133.8 257.5,132.7 254.5,131.7 251.5,130.6 248.5,129.6 245.5,128.6 242.5,127.7 239.5,126.7 236.5,125.7 233.5,124.8 230.5,123.8 227.5,122.9 224.5,121.9 221.5,121.0 218.5,120.0 215.5,118.8" fill="#a7146f"/>
<polygon points="215.5,118.3 218.5,119.1 221.5,120.0 224.5,121.0 227.5,121.9 230.5,122.9 233.5,123.8 236.5,124.7 239.5,125.7 242.5,126.6 245.5,127.6 248.5,128.6 251.5,129.6 254.5,130.6 257.5,131.7 260.5,132.8 263.5,133.9 266.5,135.1 269.5,136.3 272.5,137.5 275.5,138.8 278.5,140.0 281.5,141.3 284.5,142.5 287.5,143.7 290.5,145.0 293.5,146.1 296.5,147.3 299.5,148.4 302.5,149.5 305.5,150.5 308.5,151.6 311.5,152.6 314.5,153.7 317.5,154.7 320.5,155.7 323.5,156.7 326.5,157.6 329.5,158.6 332.5,159.6 335.5,160.5 338.5,161.4 341.5,162.3 344.5,163.2 347.5,164.0 350.5,164.9 353.5,165.7 356.5,166.5 359.5,167.3 362.5,168.3 362.5,168.3 359.5,167.7 356.5,167.0 353.5,166.2 350.5,165.4 347.5,164.5 344.5,163.7 341.5,162.8 338.5,161.9 335.5,161.0 332.5,160.1 329.5,159.2 326.5,158.2 323.5,157.2 320.5,156.2 317.5,155.2 314.5,154.2 311.5,153.2 308.5,152.1 305.5,151.1 302.5,150.0 299.5,148.9 296.5,147.8 293.5,146.7 290.5,145.5 287.5,144.3 284.5,143.0 281.5,141.8 278.5,140.5 275.5,139.3 272.5,138.0 269.5,136.8 266.5,135.6 263.5,134.4 260.5,133.3 257.5,132.2 254.5,131.1 251.5,130.1 248.5,129.1 245.5,128.1 242.5,127.1 239.5,126.2 236.5,125.2 233.5,124.3 230.5,123.3 227.5,122.4 224.5,121.5 221.5,120.5 218.5,119.5 215.5,118.3" fill="#a81568"/>
<polygon points="215.5,117.9 218.5,118.6 221.5,119.6 224.5,120.5 227.5,121.4 230.5,122.4 233.5,123.3 236.5,124.3 239.5,125.2 242.5,126.2 245.5,127.1 248.5,128.1 251.5,129.1 254.5,130.1 257.5,131.2 260.5,132.3 263.5,133.4 266.5,134.6 269.5,135.8 272.5,137.0 275.5,138.2 278.5,139.5 281.5,140.7 284.5,142.0 287.5,143.2 290.5,144.4 293.5,145.6 296.5,146.8 299.5,147.9 302.5,148.9 305.5,150.0 308.5,151.0 311.5,152.1 314.5,153.1 317.5,154.1 320.5,155.1 323.5,156.1 326.5,157.1 329.5,158.1 332.5,159.0 335.5,160.0 338.5,160.9 341.5,161.8 344.5,162.6 347.5,163.5 350.5,164.3 353.5,165.2 356.5,166.0 359.5,166.8 362.5,167.6 365.5,168.6 365.5,168.6 362.5,168.1 359.5,167.3 356.5,166.5 353.5,165.7 350.5,164.9 347.5,164.0 344.5,163.2 341.5,162.3 338.5,161.4 335.5,160.5 332.5,159.6 329.5,158.6 326.5,157.6 323.5,156.7 320.5,155.7 317.5,154.7 314.5,153.7 311.5,152.6 308.5,151.6 305.5,150.5 302.5,149.5 299.5,148.4 296.5,147.3 293.5,146.1 290.5,145.0 287.5,143.7 284.5,142.5 281.5,141.3 278.5,140.0 275.5,138.8 272.5,137.5 269.5,136.3 266.5,135.1 263.5,133.9 260.5,132.8 257.5,131.7 254.5,130.6 251.5,129.6 248.5,128.6 245.5,127.6 242.5,126.6 239.5,125.7 236.5,124.7 233.5,123.8 230.5,122.9 227.5,121.9 224.5,121.0 221.5,120.0 218.5,119.1 215.5,117.9" fill="#a91660"/>
<polygon points="218.5,118.4 221.5,119.1 224.5,120.0 227.5,121.0 230.5,121.9 233.5,122.8 236.5,123.8 239.5,124.7 242.5,125.7 245.5,126.6 248.5,127.6 251.5,128.6 254.5,129.6 257.5,130.7 260.5,131.8 263.5,132.9 266.5,134.1 269.5,135.3 272.5,136.5 275.5,137.7 278.5,139.0 281.5,140.2 284.5,141.5 287.5,142.7 290.5,143.9 293.5,145.1 296.5,146.2 299.5,147.3 302.5,148.4 305.5,149.5 308.5,150.5 311.5,151.6 314.5,152.6 317.5,153.6 320.5,154.6 323.5,155.6 326.5,156.6 329.5,157.5 332.5,158.5 335.5,159.4 338.5,160.3 341.5,161.2 344.5,162.1 347.5,163.0 350.5,163.8 353.5,164.7 356.5,165.5 359.5,166.3 362.5,167.1 365.5,168.2 365.5,168.2 362.5,167.6 359.5,166.8 356.5,166.0 353.5,165.2 350.5,164.3 347.5,163.5 344.5,162.6 341.5,161.8 338.5,160.9 335.5,160.0 332.5,159.0 329.5,158.1 326.5,157.1 323.5,156.1 320.5,155.1 317.5,154.1 314.5,153.1 311.5,152.1 308.5,151.0 305.5,150.0 302.5,148.9 299.5,147.9 296.5,146.8 293.5,145.6 290.5,144.4 287.5,143.2 284.5,142.0 281.5,140.7 278.5,139.5 275.5,138.2 272.5,137.0 269.5,135.8 266.5,134.6 263.5,133.4 260.5,132.3 257.5,131.2 254.5,130.1 251.5,129.1 248.5,128.1 245.5,127.1 242.5,126.2 239.5,125.2 236.5,124.3 233.5,123.3 230.5,122.4 227.5,121.4 224.5,120.5 221.5,119.6 218.5,118.4" fill="#aa1658"/>
<polygon points="221.5,118.9 224.5,119.6 227.5,120.5 230.5,121.4 233.5,122.4 236.5,123.3 239.5,124.2 242.5,125.2 245.5,126.2 248.5,127.1 251.5,128.1 254.5,129.2 257.5,130.2 260.5,131.3 263.5,132.4 266.5,133.6 269.5,134.8 272.5,136.0 275.5,137.2 278.5,138.5 281.5,139.7 284.5,141.0 287.5,142.2 290.5,143.4 293.5,144.6 296.5,145.7 299.5,146.8 302.5,147.9 305.5,149.0 308.5,150.0 311.5,151.0 314.5,152.1 317.5,153.1 320.5,154.1 323.5,155.1 326.5,156.0 329.5,157.0 332.5,157.9 335.5,158.9 338.5,159.8 341.5,160.7 344.5,161.6 347.5,162.5 350.5,163.3 353.5,164.2 356.5,165.0 359.5,165.9 362.5,166.7 365.5,167.7 365.5,167.7 362.5,167.1 359.5,166.3 356.5,165.5 353.5,164.7 350.5,163.8 347.5,163.0 344.5,162.1 341.5,161.2 338.5,160.3 335.5,159.4 332.5,158.5 329.5,157.5 326.5,156.6 323.5,155.6 320.5,154.6 317.5,153.6 314.5,152.6 311.5,151.6 308.5,150.5 305.5,149.5 302.5,148.4 299.5,147.3 296.5,146.2 293.5,145.1 290.5,143.9 287.5,142.7 284.5,141.5 281.5,140.2 278.5,139.0 275.5,137.7 272.5,136.5 269.5,135.3 266.5,134.1 263.5,132.9 260.5,131.8 257.5,130.7 254.5,129.6 251.5,128.6 248.5,127.6 245.5,126.6 242.5,125.7 239.5,124.7 236.5,123.8 233.5,122.8 230.5,121.9 227.5,121.0 224.5,120.0 221.5,118.9" fill="#ab1750"/>
<polygon points="227.5,120.3 230.5,121.0 233.5,121.9 236.5,122.8 239.5,123.8 242.5,124.7 245.5,125.7 248.5,126.7 251.5,127.7 254.5,128.7 257.5,129.7 260.5,130.8 263.5,131.9 266.5,133.1 269.5,134.3 272.5,135.5 275.5,136.7 278.5,138.0 281.5,139.2 284.5,140.5 287.5,141.7 290.5,142.9 293.5,144.1 296.5,145.2 299.5,146.3 302.5,147.4 305.5,148.5 308.5,149.5 311.5,150.5 314.5,151.5 317.5,152.6 320.5,153.5 323.5,154.5 326.5,155.5 329.5,156.5 332.5,157.4 335.5,158.3 338.5,159.3 341.5,160.2 344.5,161.1 347.5,161.9 350.5,162.8 353.5,163.7 356.5,164.5 359.5,165.4 362.5,166.2 365.5,167.3 365.5,167.3 362.5,166.7 359.5,165.9 356.5,165.0 353.5,164.2 350.5,163.3 347.5,162.5 344.5,161.6 341.5,160.7 338.5,159.8 335.5,158.9 332.5,157.9 329.5,157.0 326.5,156.0 323.5,155.1 320.5,154.1 317.5,153.1 314.5,152.1 311.5,151.0 308.5,150.0 305.5,149.0 302.5,147.9 299.5,146.8 296.5,145.7 293.5,144.6 290.5,143.4 287.5,142.2 284.5,141.0 281.5,139.7 278.5,138.5 275.5,137.2 272.5,136.0 269.5,134.8 266.5,133.6 263.5,132.4 260.5,131.3 257.5,130.2 254.5,129.2 251.5,128.1 248.5,127.1 245.5,126.2 242.5,125.2 239.5,124.2 236.5,123.3 233.5,122.4 230.5,121.4 227.5,120.3" fill="#ac1848"/>
<polygon points="245.5,125.5 248.5,126.2 251.5,127.2 254.5,128.2 257.5,129.3 260.5,130.4 263.5,131.5 266.5,132.6 269.5,133.8 272.5,135.0 275.5,136.3 278.5,137.5 281.5,138.8 284.5,140.0 287.5,141.2 290.5,142.4 293.5,143.6 296.5,144.7 299.5,145.8 302.5,146.9 305.5,148.0 308.5,149.0 311.5,150.0 314.5,151.0 317.5,152.0 320.5,153.0 323.5,154.0 326.5,155.0 329.5,155.9 332.5,156.9 335.5,157.8 338.5,158.7 341.5,159.6 344.5,160.5 347.5,161.4 350.5,162.3 353.5,163.2 356.5,164.1 359.5,164.9 362.5,165.8 365.5,166.8 365.5,166.8 362.5,166.2 359.5,165.4 356.5,164.5 353.5,163.7 350.5,162.8 347.5,161.9 344.5,161.1 341.5,160.2 338.5,159.3 335.5,158.3 332.5,157.4 329.5,156.5 326.5,155.5 323.5,154.5 320.5,153.5 317.5,152.6 314.5,151.5 311.5,150.5 308.5,149.5 305.5,148.5 302.5,147.4 299.5,146.3 296.5,145.2 293.5,144.1 290.5,142.9 287.5,141.7 284.5,140.5 281.5,139.2 278.5,138.0 275.5,136.7 272.5,135.5 269.5,134.3 266.5,133.1 263.5,131.9 260.5,130.8 257.5,129.7 254.5,128.7 251.5,127.7 248.5,126.7 245.5,125.5" fill="#ad1940"/>
<polygon points="263.5,131.3 266.5,132.2 269.5,133.4 272.5,134.6 275.5,135.8 278.5,137.1 281.5,138.3 284.5,139.5 287.5,140.8 290.5,142.0 293.5,143.1 296.5,144.3 299.5,145.4 302.5,146.4 305.5,147.5 308.5,148.5 311.5,149.5 314.5,150.6 317.5,151.6 320.5,152.5 323.5,153.5 326.5,154.5 329.5,155.4 332.5,156.4 335.5,157.3 338.5,158.2 341.5,159.1 344.5,160.1 347.5,160.9 350.5,161.8 353.5,162.7 356.5,163.6 359.5,164.5 362.5,165.6 362.5,165.6 359.5,164.9 356.5,164.1 353.5,163.2 350.5,162.3 347.5,161.4 344.5,160.5 341.5,159.6 338.5,158.7 335.5,157.8 332.5,156.9 329.5,155.9 326.5,155.0 323.5,154.0 320.5,153.0 317.5,152.0 314.5,151.0 311.5,150.0 308.5,149.0 305.5,148.0 302.5,146.9 299.5,145.8 296.5,144.7 293.5,143.6 290.5,142.4 287.5,141.2 284.5,140.0 281.5,138.8 278.5,137.5 275.5,136.3 272.5,135.0 269.5,133.8 266.5,132.6 263.5,131.3" fill="#ae1a37"/>
<polygon points="278.5,136.8 281.5,137.8 284.5,139.1 287.5,140.3 290.5,141.5 293.5,142.7 296.5,143.8 299.5,144.9 302.5,146.0 305.5,147.0 308.5,148.1 311.5,149.1 314.5,150.1 317.5,151.1 320.5,152.1 323.5,153.0 326.5,154.0 329.5,155.0 332.5,155.9 335.5,156.8 338.5,157.8 341.5,158.7 344.5,159.6 347.5,160.5 350.5,161.4 353.5,162.3 356.5,163.4 356.5,163.4 353.5,162.7 350.5,161.8 347.5,160.9 344.5,160.1 341.5,159.1 338.5,158.2 335.5,157.3 332.5,156.4 329.5,155.4 326.5,154.5 323.5,153.5 320.5,152.5 317.5,151.6 314.5,150.6 311.5,149.5 308.5,148.5 305.5,147.5 302.5,146.4 299.5,145.4 296.5,144.3 293.5,143.1 290.5,142.0 287.5,140.8 284.5,139.5 281.5,138.3 278.5,136.8" fill="#af1b2f"/>
<polygon points="305.5,146.8 308.5,147.6 311.5,148.6 314.5,149.6 317.5,150.6 320.5,151.6 323.5,152.6 326.5,153.5 329.5,154.5 332.5,155.4 335.5,156.4 338.5,157.3 341.5,158.2 344.5,159.4 344.5,159.4 341.5,158.7 338.5,157.8 335.5,156.8 332.5,155.9 329.5,155.0 326.5,154.0 323.5,153.0 320.5,152.1 317.5,151.1 314.5,150.1 311.5,149.1 308.5,148.1 305.5,146.8" fill="#b01b27"/></g>
<polyline points="104.5,344.6 106.5,346.1 108.5,347.4 110.5,348.4 112.5,349.2 114.5,349.8 116.5,350.3 118.5,350.8 120.5,351.3 122.5,351.8 124.5,352.2 126.5,352.5 128.5,352.7 130.5,352.9 132.5,353.1 134.5,353.1 136.5,353.2 138.5,353.2 140.5,352.9 142.5,352.3 144.5,351.6 146.5,350.8 148.5,349.7 150.5,348.4 152.5,347.0 154.5,345.3 156.5,343.5 158.5,341.5 160.5,339.4 162.5,337.1 164.5,334.8 166.5,332.5 168.5,330.2 170.5,328.0 172.5,325.8 174.5,323.7 176.5,321.5 178.5,319.5 180.5,317.5 182.5,315.7 184.5,313.8 186.5,312.1 188.5,310.3 190.5,308.9 192.5,307.6 193.5,307.1 194.5,307.1 196.5,307.0 198.5,306.9 200.5,306.8 202.5,306.7 204.5,306.7 206.5,306.6 208.5,306.5 210.5,306.4 212.5,306.4 214.5,306.3 216.5,306.2 218.5,306.1 220.5,306.0 228.5,305.7 236.5,305.4 244.5,305.1 252.5,304.8 260.5,304.5 268.5,304.2 276.5,303.9 284.5,303.6 292.5,303.3 300.5,303.0 308.5,302.7 316.5,302.4 324.5,302.0 332.5,301.7 340.5,301.4 348.5,301.0 356.5,300.7 364.5,300.4 372.5,300.1 380.5,299.8 388.5,299.5 396.5,299.3 404.5,299.0 412.5,298.8 420.5,298.6 428.5,298.4 436.5,298.3 444.5,298.1 452.5,297.9 460.5,297.8 468.5,297.6 476.5,297.5 483.0,297.4" stroke="#23001f"/>
<polyline points="104.5,307.4 106.5,308.1 108.5,308.8 110.5,309.4 112.5,309.9 114.5,310.4 116.5,310.7 118.5,311.1 120.5,311.4 122.5,311.6 124.5,311.7 126.5,311.7 128.5,311.7 130.5,311.7 132.5,311.7 134.5,311.5 136.5,311.2 138.5,310.8 140.5,310.2 142.5,309.4 144.5,308.5 146.5,307.5 148.5,306.4 150.5,305.1 152.5,303.7 154.5,302.2 156.5,300.7 158.5,299.1 160.5,297.4 162.5,295.7 164.5,294.0 166.5,292.4 168.5,290.8 170.5,289.3 172.5,287.7 174.5,286.2 176.5,284.6 178.5,283.1 180.5,281.7 182.5,280.2 184.5,278.7 186.5,277.3 188.5,276.0 190.5,274.7 192.5,273.4 194.5,272.2 196.5,271.1 198.5,270.0 200.5,268.9 202.5,267.9 204.5,266.9 205.4,266.5 206.5,266.4 208.5,266.4 210.5,266.3 212.5,266.2 214.5,266.1 216.5,266.0 218.5,265.9 220.5,265.8 228.5,265.5 236.5,265.2 244.5,264.9 252.5,264.7 260.5,264.4 268.5,264.2 276.5,264.0 284.5,263.9 292.5,263.7 300.5,263.6 308.5,263.5 316.5,263.4 324.5,263.3 332.5,263.2 340.5,263.1 348.5,263.0 356.5,262.9 364.5,262.8 372.5,262.8 380.5,262.7 388.5,262.6 396.5,262.5 404.5,262.3 412.5,262.2 420.5,262.0 428.5,261.9 436.5,261.7 444.5,261.6 452.5,261.4 460.5,261.2 468.5,261.0 476.5,260.8 483.0,260.6" stroke="#280027"/>
<polyline points="104.5,286.4 106.5,286.8 108.5,287.3 110.5,287.7 112.5,288.0 114.5,288.3 116.5,288.5 118.5,288.5 120.5,288.5 122.5,288.5 124.5,288.5 126.5,288.5 128.5,288.5 130.5,288.5 132.5,288.5 134.5,288.2 136.5,287.8 138.5,287.4 140.5,286.7 142.5,286.0 144.5,285.2 146.5,284.4 148.5,283.5 150.5,282.6 152.5,281.6 154.5,280.4 156.5,279.1 158.5,277.7 160.5,276.3 162.5,274.9 164.5,273.6 166.5,272.4 168.5,271.3 170.5,270.1 172.5,269.0 174.5,267.9 176.5,266.7 178.5,265.5 180.5,264.2 182.5,262.8 184.5,261.5 186.5,260.5 188.5,259.5 190.5,258.6 192.5,257.8 194.5,257.3 196.5,256.8 198.5,256.4 200.5,256.0 202.5,255.7 204.5,255.4 206.5,255.3 208.5,255.1 210.5,255.0 212.5,254.9 214.5,254.8 216.5,254.7 218.5,254.7 220.5,254.7 228.5,254.7 236.5,254.7 244.5,254.8 252.5,254.8 260.5,254.8 268.5,254.8 276.5,254.8 284.5,254.8 292.5,254.8 300.5,254.8 308.5,254.8 316.5,254.8 324.5,254.8 332.5,254.8 340.5,254.8 348.5,254.8 356.5,254.8 364.5,254.8 372.5,254.7 380.5,254.7 388.5,254.7 396.5,254.6 404.5,254.6 412.5,254.5 420.5,254.5 428.5,254.4 436.5,254.3 444.5,254.3 452.5,254.2 460.5,254.1 468.5,254.0 476.5,253.8 483.0,253.7" stroke="#2c0030"/>
<polyline points="104.5,272.0 106.5,272.3 108.5,272.6 110.5,272.9 112.5,273.1 114.5,273.3 116.5,273.4 118.5,273.4 120.5,273.4 122.5,273.4 124.5,273.4 126.5,273.4 128.5,273.4 130.5,273.4 132.5,273.4 134.5,273.3 136.5,273.1 138.5,272.9 140.5,272.3 142.5,271.7 144.5,271.1 146.5,270.4 148.5,269.8 150.5,269.1 152.5,268.3 154.5,267.5 156.5,266.6 158.5,265.6 160.5,264.7 162.5,263.8 164.5,262.9 166.5,262.0 168.5,261.2 170.5,260.4 172.5,259.6 174.5,258.8 176.5,258.0 178.5,257.2 180.5,256.4 182.5,255.6 184.5,254.9 186.5,254.4 188.5,254.0 190.5,253.7 192.5,253.4 194.5,253.3 196.5,253.2 198.5,253.1 200.5,253.0 202.5,252.9 204.5,252.9 206.5,252.9 208.5,252.9 210.5,252.9 212.5,252.9 214.5,252.9 216.5,252.9 218.5,252.9 220.5,252.9 228.5,253.0 236.5,253.1 244.5,253.2 252.5,253.3 260.5,253.3 268.5,253.3 276.5,253.2 284.5,253.2 292.5,253.1 300.5,253.1 308.5,253.1 316.5,253.1 324.5,253.1 332.5,253.1 340.5,253.1 348.5,253.1 356.5,253.1 364.5,253.1 372.5,253.0 380.5,253.0 388.5,253.0 396.5,252.9 404.5,252.9 412.5,252.8 420.5,252.8 428.5,252.7 436.5,252.7 444.5,252.6 452.5,252.5 460.5,252.5 468.5,252.4 476.5,252.2 483.0,252.1" stroke="#300038"/>
<polyline points="104.5,260.9 106.5,261.1 108.5,261.2 110.5,261.4 112.5,261.5 114.5,261.6 116.5,261.7 118.5,261.8 120.5,261.8 122.5,261.9 124.5,261.9 126.5,262.0 128.5,262.0 130.5,262.0 132.5,262.0 134.5,261.9 136.5,261.7 138.5,261.4 140.5,261.0 142.5,260.6 144.5,260.2 146.5,259.8 148.5,259.4 150.5,258.9 152.5,258.4 154.5,257.9 156.5,257.3 158.5,256.7 160.5,256.1 162.5,255.5 164.5,254.9 166.5,254.4 168.5,253.9 170.5,253.4 172.5,253.0 174.5,252.6 176.5,252.1 178.5,251.7 180.5,251.2 182.5,250.7 184.5,250.3 186.5,250.2 188.5,250.2 190.5,250.2 192.5,250.3 194.5,250.3 196.5,250.4 198.5,250.4 200.5,250.5 202.5,250.6 204.5,250.6 206.5,250.7 208.5,250.8 210.5,250.9 212.5,250.9 214.5,251.0 216.5,251.0 218.5,251.1 220.5,251.1 228.5,251.3 236.5,251.5 244.5,251.7 252.5,251.7 260.5,251.8 268.5,251.7 276.5,251.6 284.5,251.5 292.5,251.4 300.5,251.4 308.5,251.4 316.5,251.4 324.5,251.4 332.5,251.4 340.5,251.4 348.5,251.4 356.5,251.4 364.5,251.3 372.5,251.3 380.5,251.3 388.5,251.3 396.5,251.2 404.5,251.2 412.5,251.2 420.5,251.1 428.5,251.1 436.5,251.0 444.5,251.0 452.5,250.9 460.5,250.8 468.5,250.7 476.5,250.6 483.0,250.5" stroke="#340041"/>
<polyline points="104.5,252.0 106.5,252.0 108.5,252.0 110.5,252.1 112.5,252.1 114.5,252.1 116.5,252.1 118.5,252.2 120.5,252.2 122.5,252.3 124.5,252.4 126.5,252.5 128.5,252.6 130.5,252.6 132.5,252.7 134.5,252.8 136.5,252.8 138.5,252.8 140.5,252.8 142.5,252.7 144.5,252.5 146.5,252.3 148.5,252.1 150.5,251.9 152.5,251.7 154.5,251.4 156.5,251.2 158.5,251.0 160.5,250.7 162.5,250.5 164.5,250.2 166.5,249.9 168.5,249.6 170.5,249.4 172.5,249.1 174.5,248.9 176.5,248.8 178.5,248.8 180.5,248.8 182.5,248.8 184.5,248.8 186.5,248.8 188.5,248.8 190.5,248.9 192.5,248.9 194.5,248.9 196.5,248.9 198.5,249.0 200.5,249.0 202.5,249.0 204.5,249.0 206.5,249.1 208.5,249.1 210.5,249.1 212.5,249.2 214.5,249.2 216.5,249.2 218.5,249.3 220.5,249.3 228.5,249.5 236.5,249.8 244.5,250.0 252.5,250.2 260.5,250.3 268.5,250.2 276.5,250.0 284.5,249.9 292.5,249.8 300.5,249.7 308.5,249.7 316.5,249.7 324.5,249.7 332.5,249.7 340.5,249.7 348.5,249.7 356.5,249.6 364.5,249.6 372.5,249.6 380.5,249.6 388.5,249.6 396.5,249.6 404.5,249.5 412.5,249.5 420.5,249.4 428.5,249.4 436.5,249.4 444.5,249.3 452.5,249.3 460.5,249.2 468.5,249.1 476.5,249.0 483.0,249.0" stroke="#37004a"/>
<polyline points="104.5,243.9 106.5,243.9 108.5,244.0 110.5,244.1 112.5,244.1 114.5,244.2 116.5,244.3 118.5,244.4 120.5,244.6 122.5,244.7 124.5,244.9 126.5,245.2 128.5,245.4 130.5,245.6 132.5,245.8 134.5,246.0 136.5,246.1 138.5,246.1 140.5,246.1 142.5,246.1 144.5,246.1 146.5,246.2 148.5,246.2 150.5,246.2 152.5,246.2 154.5,246.2 156.5,246.2 158.5,246.2 160.5,246.2 162.5,246.2 164.5,246.1 166.5,246.1 168.5,246.0 170.5,245.9 172.5,245.8 174.5,245.7 176.5,245.7 178.5,245.7 180.5,245.7 182.5,245.7 184.5,245.8 186.5,245.8 188.5,245.9 190.5,246.0 192.5,246.1 194.5,246.2 196.5,246.3 198.5,246.4 200.5,246.5 202.5,246.6 204.5,246.8 206.5,246.9 208.5,247.0 210.5,247.1 212.5,247.2 214.5,247.3 216.5,247.4 218.5,247.5 220.5,247.5 228.5,247.9 236.5,248.2 244.5,248.5 252.5,248.7 260.5,248.7 268.5,248.6 276.5,248.4 284.5,248.2 292.5,248.1 300.5,248.0 308.5,248.0 316.5,248.0 324.5,248.0 332.5,248.0 340.5,248.0 348.5,247.9 356.5,247.9 364.5,247.9 372.5,247.9 380.5,247.9 388.5,247.9 396.5,247.9 404.5,247.8 412.5,247.8 420.5,247.8 428.5,247.7 436.5,247.7 444.5,247.7 452.5,247.6 460.5,247.6 468.5,247.5 476.5,247.4 483.0,247.4" stroke="#3b0053"/>
<polyline points="104.5,236.1 106.5,236.2 108.5,236.2 110.5,236.3 112.5,236.4 114.5,236.6 116.5,236.7 118.5,236.9 120.5,237.1 122.5,237.3 124.5,237.5 126.5,237.8 128.5,238.1 130.5,238.4 132.5,238.7 134.5,239.0 136.5,239.2 138.5,239.4 140.5,239.6 142.5,239.8 144.5,240.0 146.5,240.2 148.5,240.4 150.5,240.5 152.5,240.7 154.5,240.8 156.5,241.0 158.5,241.1 160.5,241.2 162.5,241.4 164.5,241.5 166.5,241.6 168.5,241.7 170.5,241.8 172.5,241.9 174.5,242.0 176.5,242.1 178.5,242.2 180.5,242.4 182.5,242.5 184.5,242.7 186.5,242.9 188.5,243.0 190.5,243.2 192.5,243.4 194.5,243.6 196.5,243.8 198.5,244.0 200.5,244.2 202.5,244.4 204.5,244.6 206.5,244.8 208.5,245.0 210.5,245.1 212.5,245.3 214.5,245.4 216.5,245.5 218.5,245.7 220.5,245.8 228.5,246.2 236.5,246.6 244.5,247.0 252.5,247.2 260.5,247.2 268.5,247.1 276.5,246.9 284.5,246.6 292.5,246.4 300.5,246.3 308.5,246.3 316.5,246.3 324.5,246.3 332.5,246.2 340.5,246.2 348.5,246.2 356.5,246.2 364.5,246.2 372.5,246.2 380.5,246.2 388.5,246.2 396.5,246.2 404.5,246.2 412.5,246.1 420.5,246.1 428.5,246.0 436.5,246.0 444.5,246.0 452.5,246.0 460.5,246.0 468.5,245.9 476.5,245.8 483.0,245.8" stroke="#3e005c"/>
<polyline points="104.5,229.2 106.5,229.3 108.5,229.4 110.5,229.5 112.5,229.6 114.5,229.8 116.5,230.0 118.5,230.1 120.5,230.4 122.5,230.6 124.5,230.9 126.5,231.3 128.5,231.6 130.5,232.0 132.5,232.3 134.5,232.7 136.5,233.0 138.5,233.3 140.5,233.6 142.5,233.9 144.5,234.2 146.5,234.5 148.5,234.8 150.5,235.1 152.5,235.4 154.5,235.7 156.5,236.0 158.5,236.3 160.5,236.5 162.5,236.8 164.5,237.0 166.5,237.3 168.5,237.5 170.5,237.8 172.5,238.0 174.5,238.3 176.5,238.5 178.5,238.8 180.5,239.0 182.5,239.3 184.5,239.6 186.5,239.9 188.5,240.2 190.5,240.5 192.5,240.8 194.5,241.1 196.5,241.4 198.5,241.7 200.5,242.0 202.5,242.3 204.5,242.5 206.5,242.8 208.5,243.0 210.5,243.3 212.5,243.5 214.5,243.7 216.5,243.8 218.5,244.0 220.5,244.1 228.5,244.7 236.5,245.2 244.5,245.6 252.5,245.8 260.5,245.8 268.5,245.7 276.5,245.4 284.5,245.1 292.5,244.8 300.5,244.7 308.5,244.7 316.5,244.7 324.5,244.6 332.5,244.6 340.5,244.6 348.5,244.6 356.5,244.6 364.5,244.6 372.5,244.6 380.5,244.6 388.5,244.6 396.5,244.6 404.5,244.6 412.5,244.6 420.5,244.5 428.5,244.5 436.5,244.5 444.5,244.5 452.5,244.5 460.5,244.4 468.5,244.4 476.5,244.4 483.0,244.3" stroke="#410065"/>
<polyline points="104.5,222.8 106.5,222.9 108.5,223.0 110.5,223.1 112.5,223.3 114.5,223.5 116.5,223.7 118.5,223.9 120.5,224.1 122.5,224.4 124.5,224.7 126.5,225.1 128.5,225.5 130.5,225.9 132.5,226.3 134.5,226.7 136.5,227.1 138.5,227.5 140.5,227.9 142.5,228.3 144.5,228.7 146.5,229.1 148.5,229.5 150.5,229.9 152.5,230.3 154.5,230.7 156.5,231.1 158.5,231.5 160.5,231.9 162.5,232.3 164.5,232.6 166.5,233.0 168.5,233.4 170.5,233.8 172.5,234.1 174.5,234.5 176.5,234.8 178.5,235.2 180.5,235.6 182.5,235.9 184.5,236.3 186.5,236.7 188.5,237.1 190.5,237.5 192.5,237.9 194.5,238.3 196.5,238.7 198.5,239.1 200.5,239.5 202.5,239.9 204.5,240.2 206.5,240.6 208.5,240.9 210.5,241.2 212.5,241.4 214.5,241.7 216.5,241.9 218.5,242.0 220.5,242.2 228.5,242.9 236.5,243.4 244.5,243.9 252.5,244.1 260.5,244.2 268.5,244.0 276.5,243.7 284.5,243.3 292.5,243.0 300.5,242.9 308.5,242.9 316.5,242.8 324.5,242.8 332.5,242.8 340.5,242.8 348.5,242.8 356.5,242.8 364.5,242.8 372.5,242.8 380.5,242.8 388.5,242.8 396.5,242.8 404.5,242.8 412.5,242.8 420.5,242.7 428.5,242.7 436.5,242.7 444.5,242.7 452.5,242.7 460.5,242.7 468.5,242.7 476.5,242.6 483.0,242.6" stroke="#44006f"/>
<polyline points="104.5,216.8 106.5,216.9 108.5,217.0 110.5,217.1 112.5,217.3 114.5,217.5 116.5,217.7 118.5,217.9 120.5,218.2 122.5,218.5 124.5,218.9 126.5,219.3 128.5,219.7 130.5,220.1 132.5,220.6 134.5,221.0 136.5,221.5 138.5,221.9 140.5,222.3 142.5,222.8 144.5,223.3 146.5,223.7 148.5,224.2 150.5,224.7 152.5,225.2 154.5,225.7 156.5,226.2 158.5,226.7 160.5,227.1 162.5,227.6 164.5,228.1 166.5,228.6 168.5,229.1 170.5,229.6 172.5,230.1 174.5,230.5 176.5,231.0 178.5,231.4 180.5,231.8 182.5,232.3 184.5,232.7 186.5,233.2 188.5,233.6 190.5,234.1 192.5,234.5 194.5,234.9 196.5,235.4 198.5,235.8 200.5,236.2 202.5,236.6 204.5,237.0 206.5,237.3 208.5,237.6 210.5,237.9 212.5,238.2 214.5,238.5 216.5,238.7 218.5,238.9 220.5,239.1 228.5,239.8 236.5,240.4 244.5,240.8 252.5,241.1 260.5,241.1 268.5,241.0 276.5,240.8 284.5,240.5 292.5,240.3 300.5,240.2 308.5,240.2 316.5,240.2 324.5,240.1 332.5,240.1 340.5,240.1 348.5,240.1 356.5,240.1 364.5,240.1 372.5,240.1 380.5,240.1 388.5,240.1 396.5,240.1 404.5,240.1 412.5,240.1 420.5,240.0 428.5,240.0 436.5,240.0 444.5,240.0 452.5,240.0 460.5,240.0 468.5,240.0 476.5,240.0 483.0,239.9" stroke="#470078"/>
<polyline points="104.5,211.0 106.5,211.1 108.5,211.2 110.5,211.4 112.5,211.6 114.5,211.8 116.5,212.0 118.5,212.2 120.5,212.5 122.5,212.8 124.5,213.2 126.5,213.6 128.5,214.1 130.5,214.5 132.5,215.0 134.5,215.5 136.5,215.9 138.5,216.4 140.5,216.9 142.5,217.4 144.5,217.9 146.5,218.5 148.5,219.0 150.5,219.6 152.5,220.2 154.5,220.7 156.5,221.3 158.5,221.9 160.5,222.4 162.5,223.0 164.5,223.6 166.5,224.2 168.5,224.8 170.5,225.4 172.5,226.0 174.5,226.5 176.5,227.0 178.5,227.5 180.5,228.0 182.5,228.5 184.5,229.0 186.5,229.4 188.5,229.9 190.5,230.4 192.5,230.8 194.5,231.3 196.5,231.7 198.5,232.1 200.5,232.6 202.5,232.9 204.5,233.3 206.5,233.7 208.5,234.0 210.5,234.3 212.5,234.6 214.5,234.8 216.5,235.1 218.5,235.2 220.5,235.4 228.5,236.1 236.5,236.7 244.5,237.2 252.5,237.4 260.5,237.5 268.5,237.5 276.5,237.4 284.5,237.4 292.5,237.3 300.5,237.3 308.5,237.2 316.5,237.2 324.5,237.1 332.5,237.1 340.5,237.0 348.5,237.0 356.5,237.0 364.5,237.0 372.5,237.0 380.5,237.0 388.5,237.0 396.5,237.0 404.5,237.0 412.5,237.0 420.5,236.9 428.5,236.9 436.5,236.9 444.5,236.9 452.5,236.9 460.5,236.9 468.5,236.9 476.5,236.8 483.0,236.8" stroke="#4a0082"/>
<polyline points="104.5,205.3 108.5,205.5 112.5,205.9 116.5,206.3 120.5,206.9 124.5,207.6 128.5,208.5 132.5,209.4 136.5,210.4 140.5,211.5 144.5,212.7 148.5,213.9 152.5,215.2 156.5,216.5 160.5,217.8 164.5,219.2 168.5,220.6 172.5,221.9 176.5,223.1 180.5,224.2 184.5,225.2 188.5,226.3 192.5,227.3 196.5,228.2 200.5,229.1 204.5,229.9 208.5,230.7 212.5,231.3 216.5,231.7 220.5,232.1 228.5,232.8 236.5,233.3 244.5,233.8 252.5,234.1 260.5,234.2 268.5,234.4 276.5,234.5 284.5,234.6 292.5,234.7 300.5,234.7 308.5,234.6 316.5,234.5 324.5,234.4 332.5,234.3 340.5,234.2 348.5,234.1 356.5,234.1 364.5,234.1 372.5,234.1 380.5,234.1 388.5,234.1 396.5,234.1 404.5,234.1 412.5,234.0 420.5,234.0 428.5,234.0 436.5,234.0 444.5,234.0 452.5,234.0 460.5,234.0 468.5,234.0 476.5,233.9 483.0,233.9" stroke="#4d008b"/>
<polyline points="104.5,199.8 108.5,200.0 112.5,200.4 116.5,200.9 120.5,201.4 124.5,202.2 128.5,203.0 132.5,204.0 136.5,205.1 140.5,206.2 144.5,207.5 148.5,208.9 152.5,210.4 156.5,211.9 160.5,213.4 164.5,214.9 168.5,216.4 172.5,217.9 176.5,219.3 180.5,220.4 184.5,221.5 188.5,222.6 192.5,223.7 196.5,224.7 200.5,225.7 204.5,226.5 208.5,227.3 212.5,227.9 216.5,228.4 220.5,228.8 228.5,229.5 236.5,230.0 244.5,230.4 252.5,230.8 260.5,231.1 268.5,231.4 276.5,231.7 284.5,232.0 292.5,232.1 300.5,232.2 308.5,232.1 316.5,232.0 324.5,231.8 332.5,231.6 340.5,231.4 348.5,231.3 356.5,231.3 364.5,231.3 372.5,231.2 380.5,231.2 388.5,231.2 396.5,231.2 404.5,231.2 412.5,231.2 420.5,231.1 428.5,231.1 436.5,231.1 444.5,231.1 452.5,231.1 460.5,231.1 468.5,231.1 476.5,231.0 483.0,231.0" stroke="#500095"/>
<polyline points="104.5,194.6 108.5,194.9 112.5,195.3 116.5,195.7 120.5,196.3 124.5,197.0 128.5,197.9 132.5,198.9 136.5,200.0 140.5,201.2 144.5,202.6 148.5,204.2 152.5,205.9 156.5,207.5 160.5,209.1 164.5,210.7 168.5,212.4 172.5,214.0 176.5,215.4 180.5,216.6 184.5,217.8 188.5,219.0 192.5,220.1 196.5,221.2 200.5,222.2 204.5,223.1 208.5,223.9 212.5,224.6 216.5,225.1 220.5,225.6 228.5,226.3 236.5,226.8 244.5,227.3 252.5,227.8 260.5,228.2 268.5,228.7 276.5,229.1 284.5,229.5 292.5,229.8 300.5,229.9 308.5,229.8 316.5,229.5 324.5,229.2 332.5,228.8 340.5,228.5 348.5,228.4 356.5,228.3 364.5,228.3 372.5,228.3 380.5,228.3 388.5,228.3 396.5,228.2 404.5,228.2 412.5,228.2 420.5,228.2 428.5,228.2 436.5,228.2 444.5,228.2 452.5,228.2 460.5,228.2 468.5,228.2 476.5,228.2 483.0,228.1" stroke="#53009e"/>
<polyline points="104.5,189.7 108.5,189.9 112.5,190.3 116.5,190.8 120.5,191.4 124.5,192.1 128.5,193.0 132.5,194.0 136.5,195.2 140.5,196.4 144.5,197.9 148.5,199.7 152.5,201.5 156.5,203.3 160.5,205.0 164.5,206.7 168.5,208.4 172.5,210.1 176.5,211.6 180.5,212.8 184.5,214.1 188.5,215.3 192.5,216.5 196.5,217.6 200.5,218.6 204.5,219.6 208.5,220.5 212.5,221.2 216.5,221.8 220.5,222.3 228.5,223.1 236.5,223.7 244.5,224.3 252.5,224.8 260.5,225.4 268.5,226.0 276.5,226.7 284.5,227.3 292.5,227.7 300.5,227.8 308.5,227.6 316.5,227.3 324.5,226.8 332.5,226.2 340.5,225.8 348.5,225.6 356.5,225.6 364.5,225.6 372.5,225.5 380.5,225.5 388.5,225.5 396.5,225.5 404.5,225.5 412.5,225.5 420.5,225.5 428.5,225.5 436.5,225.5 444.5,225.5 452.5,225.5 460.5,225.5 468.5,225.5 476.5,225.5 483.0,225.5" stroke="#5600a8"/>
<polyline points="104.5,184.8 108.5,185.1 112.5,185.4 116.5,185.9 120.5,186.5 124.5,187.3 128.5,188.2 132.5,189.2 136.5,190.4 140.5,191.7 144.5,193.3 148.5,195.2 152.5,197.2 156.5,199.2 160.5,201.1 164.5,202.8 168.5,204.6 172.5,206.3 176.5,207.8 180.5,209.2 184.5,210.4 188.5,211.7 192.5,212.9 196.5,214.0 200.5,215.1 204.5,216.1 208.5,217.0 212.5,217.8 216.5,218.4 220.5,218.9 228.5,219.8 236.5,220.6 244.5,221.2 252.5,221.8 260.5,222.5 268.5,223.3 276.5,224.2 284.5,225.0 292.5,225.6 300.5,225.8 308.5,225.6 316.5,225.2 324.5,224.6 332.5,224.1 340.5,223.6 348.5,223.4 356.5,223.3 364.5,223.3 372.5,223.3 380.5,223.3 388.5,223.3 396.5,223.3 404.5,223.3 412.5,223.3 420.5,223.3 428.5,223.3 436.5,223.3 444.5,223.3 452.5,223.3 460.5,223.3 468.5,223.3 476.5,223.3 483.0,223.3" stroke="#5900b0"/>
<polyline points="104.5,180.0 108.5,180.3 112.5,180.7 116.5,181.2 120.5,181.8 124.5,182.5 128.5,183.5 132.5,184.5 136.5,185.7 140.5,187.1 144.5,188.9 148.5,191.0 152.5,193.1 156.5,195.3 160.5,197.2 164.5,199.1 168.5,200.9 172.5,202.6 176.5,204.2 180.5,205.5 184.5,206.9 188.5,208.1 192.5,209.3 196.5,210.5 200.5,211.6 204.5,212.6 208.5,213.5 212.5,214.3 216.5,215.0 220.5,215.6 228.5,216.6 236.5,217.4 244.5,218.1 252.5,218.9 260.5,219.7 268.5,220.7 276.5,221.8 284.5,222.9 292.5,223.6 300.5,223.9 308.5,223.7 316.5,223.2 324.5,222.7 332.5,222.1 340.5,221.6 348.5,221.3 356.5,221.3 364.5,221.3 372.5,221.3 380.5,221.3 388.5,221.2 396.5,221.2 404.5,221.2 412.5,221.2 420.5,221.2 428.5,221.2 436.5,221.2 444.5,221.2 452.5,221.2 460.5,221.2 468.5,221.3 476.5,221.3 483.0,221.3" stroke="#5c01b9"/>
<polyline points="104.5,175.5 108.5,175.7 112.5,176.1 116.5,176.6 120.5,177.2 124.5,178.0 128.5,178.9 132.5,180.0 136.5,181.2 140.5,182.6 144.5,184.5 148.5,186.7 152.5,189.1 156.5,191.4 160.5,193.4 164.5,195.3 168.5,197.2 172.5,199.0 176.5,200.6 180.5,202.0 184.5,203.3 188.5,204.6 192.5,205.9 196.5,207.1 200.5,208.2 204.5,209.2 208.5,210.2 212.5,211.0 216.5,211.8 220.5,212.4 228.5,213.5 236.5,214.4 244.5,215.2 252.5,216.0 260.5,217.0 268.5,218.2 276.5,219.5 284.5,220.8 292.5,221.6 300.5,222.0 308.5,221.8 316.5,221.3 324.5,220.7 332.5,220.1 340.5,219.7 348.5,219.4 356.5,219.4 364.5,219.4 372.5,219.4 380.5,219.4 388.5,219.4 396.5,219.3 404.5,219.3 412.5,219.4 420.5,219.4 428.5,219.4 436.5,219.4 444.5,219.4 452.5,219.4 460.5,219.4 468.5,219.4 476.5,219.4 483.0,219.4" stroke="#5e01c0"/>
<polyline points="104.5,171.0 108.5,171.3 112.5,171.7 116.5,172.2 120.5,172.8 124.5,173.6 128.5,174.6 132.5,175.7 136.5,177.0 140.5,178.5 144.5,180.5 148.5,182.8 152.5,185.2 156.5,187.6 160.5,189.7 164.5,191.7 168.5,193.6 172.5,195.4 176.5,197.0 180.5,198.5 184.5,199.9 188.5,201.2 192.5,202.5 196.5,203.7 200.5,204.8 204.5,205.9 208.5,206.9 212.5,207.8 216.5,208.6 220.5,209.3 228.5,210.5 236.5,211.5 244.5,212.4 252.5,213.3 260.5,214.4 268.5,215.8 276.5,217.3 284.5,218.7 292.5,219.7 300.5,220.1 308.5,219.9 316.5,219.4 324.5,218.9 332.5,218.3 340.5,217.8 348.5,217.6 356.5,217.6 364.5,217.6 372.5,217.6 380.5,217.6 388.5,217.6 396.5,217.6 404.5,217.6 412.5,217.6 420.5,217.6 428.5,217.6 436.5,217.6 444.5,217.6 452.5,217.6 460.5,217.6 468.5,217.6 476.5,217.6 483.0,217.6" stroke="#6001c7"/>
<polyline points="104.5,166.6 108.5,166.9 112.5,167.4 116.5,168.0 120.5,168.7 124.5,169.6 128.5,170.7 132.5,171.9 136.5,173.3 140.5,174.9 144.5,177.0 148.5,179.4 152.5,181.8 156.5,184.2 160.5,186.3 164.5,188.3 168.5,190.2 172.5,191.9 176.5,193.5 180.5,195.0 184.5,196.4 188.5,197.8 192.5,199.1 196.5,200.3 200.5,201.5 204.5,202.6 208.5,203.7 212.5,204.6 216.5,205.5 220.5,206.2 228.5,207.5 236.5,208.6 244.5,209.6 252.5,210.7 260.5,211.9 268.5,213.4 276.5,215.1 284.5,216.7 292.5,217.8 300.5,218.2 308.5,218.1 316.5,217.6 324.5,217.1 332.5,216.5 340.5,216.0 348.5,215.8 356.5,215.8 364.5,215.8 372.5,215.8 380.5,215.8 388.5,215.8 396.5,215.8 404.5,215.8 412.5,215.9 420.5,215.9 428.5,215.9 436.5,215.9 444.5,215.9 452.5,215.9 460.5,215.9 468.5,216.0 476.5,216.0 483.0,216.0" stroke="#6301ce"/>
<polyline points="104.5,162.4 108.5,162.7 112.5,163.3 116.5,163.9 120.5,164.7 124.5,165.7 128.5,167.0 132.5,168.4 136.5,169.9 140.5,171.6 144.5,173.7 148.5,176.1 152.5,178.6 156.5,181.0 160.5,183.1 164.5,185.0 168.5,186.8 172.5,188.5 176.5,190.1 180.5,191.6 184.5,193.0 188.5,194.4 192.5,195.8 196.5,197.0 200.5,198.3 204.5,199.4 208.5,200.5 212.5,201.5 216.5,202.5 220.5,203.3 228.5,204.7 236.5,205.9 244.5,207.1 252.5,208.2 260.5,209.5 268.5,211.2 276.5,213.1 284.5,214.8 292.5,216.0 300.5,216.4 308.5,216.3 316.5,215.8 324.5,215.3 332.5,214.7 340.5,214.3 348.5,214.1 356.5,214.1 364.5,214.1 372.5,214.1 380.5,214.1 388.5,214.1 396.5,214.2 404.5,214.2 412.5,214.2 420.5,214.2 428.5,214.3 436.5,214.3 444.5,214.3 452.5,214.3 460.5,214.4 468.5,214.4 476.5,214.4 483.0,214.4" stroke="#6501d4"/>
<polyline points="104.5,158.4 108.5,158.7 112.5,159.3 116.5,160.0 120.5,160.9 124.5,162.0 128.5,163.4 132.5,164.9 136.5,166.6 140.5,168.4 144.5,170.5 148.5,172.9 152.5,175.4 156.5,177.8 160.5,179.9 164.5,181.7 168.5,183.5 172.5,185.2 176.5,186.8 180.5,188.3 184.5,189.7 188.5,191.1 192.5,192.5 196.5,193.9 200.5,195.1 204.5,196.3 208.5,197.5 212.5,198.5 216.5,199.5 220.5,200.4 228.5,202.0 236.5,203.3 244.5,204.6 252.5,205.9 260.5,207.3 268.5,209.1 276.5,211.1 284.5,212.9 292.5,214.2 300.5,214.7 308.5,214.5 316.5,214.1 324.5,213.6 332.5,213.0 340.5,212.6 348.5,212.4 356.5,212.4 364.5,212.4 372.5,212.4 380.5,212.5 388.5,212.5 396.5,212.6 404.5,212.6 412.5,212.6 420.5,212.7 428.5,212.7 436.5,212.8 444.5,212.8 452.5,212.8 460.5,212.8 468.5,212.9 476.5,212.9 483.0,212.9" stroke="#6701da"/>
<polyline points="104.5,154.5 108.5,154.9 112.5,155.5 116.5,156.3 120.5,157.2 124.5,158.4 128.5,159.9 132.5,161.5 136.5,163.3 140.5,165.1 144.5,167.4 148.5,169.8 152.5,172.3 156.5,174.6 160.5,176.7 164.5,178.6 168.5,180.3 172.5,182.0 176.5,183.6 180.5,185.0 184.5,186.5 188.5,188.0 192.5,189.4 196.5,190.7 200.5,192.0 204.5,193.3 208.5,194.5 212.5,195.6 216.5,196.6 220.5,197.6 228.5,199.3 236.5,200.8 244.5,202.2 252.5,203.6 260.5,205.2 268.5,207.1 276.5,209.2 284.5,211.1 292.5,212.4 300.5,212.9 308.5,212.8 316.5,212.4 324.5,211.9 332.5,211.4 340.5,211.0 348.5,210.8 356.5,210.8 364.5,210.8 372.5,210.8 380.5,210.9 388.5,211.0 396.5,211.0 404.5,211.1 412.5,211.1 420.5,211.2 428.5,211.2 436.5,211.3 444.5,211.3 452.5,211.4 460.5,211.4 468.5,211.4 476.5,211.5 483.0,211.5" stroke="#6901e0"/>
<polyline points="104.5,151.0 108.5,151.4 112.5,152.0 116.5,152.8 120.5,153.8 124.5,155.1 128.5,156.6 132.5,158.3 136.5,160.1 140.5,162.0 144.5,164.3 148.5,166.7 152.5,169.2 156.5,171.6 160.5,173.7 164.5,175.5 168.5,177.2 172.5,178.9 176.5,180.4 180.5,181.9 184.5,183.4 188.5,184.9 192.5,186.3 196.5,187.7 200.5,189.1 204.5,190.4 208.5,191.6 212.5,192.8 216.5,193.9 220.5,194.9 228.5,196.7 236.5,198.3 244.5,199.9 252.5,201.4 260.5,203.1 268.5,205.1 276.5,207.3 284.5,209.3 292.5,210.7 300.5,211.2 308.5,211.1 316.5,210.7 324.5,210.2 332.5,209.7 340.5,209.4 348.5,209.2 356.5,209.2 364.5,209.2 372.5,209.3 380.5,209.4 388.5,209.5 396.5,209.6 404.5,209.6 412.5,209.7 420.5,209.8 428.5,209.8 436.5,209.9 444.5,209.9 452.5,210.0 460.5,210.0 468.5,210.1 476.5,210.1 483.0,210.1" stroke="#6b01e5"/>
<polyline points="104.5,147.9 108.5,148.3 112.5,148.9 116.5,149.7 120.5,150.7 124.5,152.0 128.5,153.5 132.5,155.2 136.5,157.1 140.5,159.0 144.5,161.3 148.5,163.7 152.5,166.3 156.5,168.6 160.5,170.7 164.5,172.5 168.5,174.2 172.5,175.8 176.5,177.4 180.5,178.9 184.5,180.4 188.5,181.9 192.5,183.3 196.5,184.8 200.5,186.2 204.5,187.5 208.5,188.8 212.5,190.0 216.5,191.2 220.5,192.2 228.5,194.2 236.5,196.0 244.5,197.6 252.5,199.3 260.5,201.1 268.5,203.2 276.5,205.5 284.5,207.5 292.5,209.0 300.5,209.5 308.5,209.4 316.5,209.0 324.5,208.6 332.5,208.2 340.5,207.8 348.5,207.6 356.5,207.7 364.5,207.7 372.5,207.8 380.5,207.9 388.5,208.0 396.5,208.1 404.5,208.2 412.5,208.3 420.5,208.4 428.5,208.5 436.5,208.5 444.5,208.6 452.5,208.7 460.5,208.7 468.5,208.8 476.5,208.8 483.0,208.8" stroke="#6d02e9"/>
<polyline points="104.5,145.0 108.5,145.4 112.5,146.0 116.5,146.8 120.5,147.8 124.5,149.1 128.5,150.6 132.5,152.3 136.5,154.1 140.5,156.0 144.5,158.3 148.5,160.8 152.5,163.4 156.5,165.7 160.5,167.8 164.5,169.6 168.5,171.3 172.5,172.9 176.5,174.4 180.5,175.9 184.5,177.5 188.5,179.0 192.5,180.5 196.5,181.9 200.5,183.3 204.5,184.7 208.5,186.1 212.5,187.3 216.5,188.5 220.5,189.7 228.5,191.7 236.5,193.7 244.5,195.5 252.5,197.3 260.5,199.1 268.5,201.3 276.5,203.7 284.5,205.8 292.5,207.3 300.5,207.9 308.5,207.7 316.5,207.4 324.5,207.0 332.5,206.6 340.5,206.3 348.5,206.2 356.5,206.2 364.5,206.3 372.5,206.4 380.5,206.5 388.5,206.7 396.5,206.8 404.5,206.9 412.5,207.0 420.5,207.1 428.5,207.2 436.5,207.3 444.5,207.3 452.5,207.4 460.5,207.5 468.5,207.5 476.5,207.6 483.0,207.6" stroke="#6f02ed"/>
<polyline points="104.5,142.3 108.5,142.7 112.5,143.3 116.5,144.1 120.5,145.0 124.5,146.3 128.5,147.8 132.5,149.5 136.5,151.3 140.5,153.2 144.5,155.5 148.5,158.0 152.5,160.6 156.5,163.0 160.5,165.0 164.5,166.8 168.5,168.5 172.5,170.0 176.5,171.6 180.5,173.1 184.5,174.6 188.5,176.2 192.5,177.7 196.5,179.2 200.5,180.6 204.5,182.1 208.5,183.4 212.5,184.7 216.5,186.0 220.5,187.2 228.5,189.4 236.5,191.4 244.5,193.4 252.5,195.3 260.5,197.2 268.5,199.5 276.5,202.0 284.5,204.2 292.5,205.7 300.5,206.3 308.5,206.1 316.5,205.9 324.5,205.5 332.5,205.2 340.5,204.9 348.5,204.7 356.5,204.8 364.5,204.9 372.5,205.0 380.5,205.2 388.5,205.3 396.5,205.5 404.5,205.6 412.5,205.7 420.5,205.8 428.5,205.9 436.5,206.0 444.5,206.1 452.5,206.2 460.5,206.3 468.5,206.4 476.5,206.4 483.0,206.5" stroke="#7102f0"/>
<polyline points="104.5,139.7 108.5,140.1 112.5,140.8 116.5,141.5 120.5,142.5 124.5,143.7 128.5,145.1 132.5,146.8 136.5,148.6 140.5,150.5 144.5,152.8 148.5,155.3 152.5,157.8 156.5,160.3 160.5,162.3 164.5,164.1 168.5,165.7 172.5,167.3 176.5,168.8 180.5,170.3 184.5,171.9 188.5,173.5 192.5,175.0 196.5,176.5 200.5,178.0 204.5,179.5 208.5,180.9 212.5,182.2 216.5,183.5 220.5,184.8 228.5,187.1 236.5,189.2 244.5,191.3 252.5,193.3 260.5,195.3 268.5,197.7 276.5,200.3 284.5,202.5 292.5,204.1 300.5,204.7 308.5,204.6 316.5,204.3 324.5,204.0 332.5,203.7 340.5,203.5 348.5,203.4 356.5,203.4 364.5,203.5 372.5,203.7 380.5,203.9 388.5,204.1 396.5,204.3 404.5,204.4 412.5,204.5 420.5,204.7 428.5,204.8 436.5,204.9 444.5,205.0 452.5,205.1 460.5,205.2 468.5,205.3 476.5,205.3 483.0,205.4" stroke="#7302f3"/>
<polyline points="104.5,137.3 108.5,137.7 112.5,138.3 116.5,139.1 120.5,140.0 124.5,141.2 128.5,142.6 132.5,144.2 136.5,145.9 140.5,147.8 144.5,150.1 148.5,152.6 152.5,155.2 156.5,157.6 160.5,159.7 164.5,161.5 168.5,163.1 172.5,164.6 176.5,166.1 180.5,167.7 184.5,169.2 188.5,170.8 192.5,172.4 196.5,173.9 200.5,175.5 204.5,177.0 208.5,178.4 212.5,179.8 216.5,181.2 220.5,182.4 228.5,184.9 236.5,187.1 244.5,189.3 252.5,191.4 260.5,193.5 268.5,196.0 276.5,198.6 284.5,200.9 292.5,202.5 300.5,203.1 308.5,203.0 316.5,202.8 324.5,202.6 332.5,202.3 340.5,202.1 348.5,202.0 356.5,202.0 364.5,202.2 372.5,202.4 380.5,202.6 388.5,202.8 396.5,203.1 404.5,203.2 412.5,203.4 420.5,203.5 428.5,203.7 436.5,203.8 444.5,203.9 452.5,204.0 460.5,204.1 468.5,204.2 476.5,204.3 483.0,204.3" stroke="#7402f6"/>
<polyline points="104.5,135.0 108.5,135.4 112.5,136.0 116.5,136.7 120.5,137.6 124.5,138.7 128.5,140.1 132.5,141.7 136.5,143.4 140.5,145.2 144.5,147.5 148.5,150.0 152.5,152.6 156.5,155.1 160.5,157.1 164.5,158.9 168.5,160.5 172.5,162.0 176.5,163.5 180.5,165.1 184.5,166.7 188.5,168.3 192.5,169.9 196.5,171.5 200.5,173.0 204.5,174.5 208.5,176.0 212.5,177.5 216.5,178.9 220.5,180.2 228.5,182.7 236.5,185.1 244.5,187.3 252.5,189.5 260.5,191.7 268.5,194.3 276.5,196.9 284.5,199.3 292.5,201.0 300.5,201.6 308.5,201.5 316.5,201.3 324.5,201.2 332.5,200.9 340.5,200.8 348.5,200.7 356.5,200.7 364.5,200.9 372.5,201.1 380.5,201.4 388.5,201.7 396.5,201.9 404.5,202.1 412.5,202.3 420.5,202.4 428.5,202.6 436.5,202.7 444.5,202.9 452.5,203.0 460.5,203.1 468.5,203.2 476.5,203.3 483.0,203.3" stroke="#7502f8"/>
<polyline points="104.5,132.8 108.5,133.2 112.5,133.7 116.5,134.4 120.5,135.3 124.5,136.4 128.5,137.8 132.5,139.3 136.5,141.0 140.5,142.8 144.5,145.0 148.5,147.6 152.5,150.2 156.5,152.6 160.5,154.7 164.5,156.4 168.5,158.0 172.5,159.5 176.5,161.0 180.5,162.6 184.5,164.2 188.5,165.8 192.5,167.5 196.5,169.1 200.5,170.7 204.5,172.2 208.5,173.8 212.5,175.2 216.5,176.6 220.5,178.0 228.5,180.6 236.5,183.0 244.5,185.4 252.5,187.7 260.5,189.9 268.5,192.6 276.5,195.3 284.5,197.7 292.5,199.5 300.5,200.1 308.5,200.0 316.5,199.9 324.5,199.8 332.5,199.6 340.5,199.5 348.5,199.4 356.5,199.5 364.5,199.7 372.5,199.9 380.5,200.2 388.5,200.5 396.5,200.8 404.5,201.0 412.5,201.2 420.5,201.4 428.5,201.5 436.5,201.7 444.5,201.9 452.5,202.0 460.5,202.1 468.5,202.2 476.5,202.3 483.0,202.4" stroke="#7703fa"/>
<polyline points="104.5,130.6 108.5,130.9 112.5,131.5 116.5,132.2 120.5,133.0 124.5,134.1 128.5,135.5 132.5,137.0 136.5,138.6 140.5,140.4 144.5,142.7 148.5,145.2 152.5,147.8 156.5,150.2 160.5,152.3 164.5,154.0 168.5,155.6 172.5,157.1 176.5,158.7 180.5,160.2 184.5,161.9 188.5,163.5 192.5,165.1 196.5,166.8 200.5,168.4 204.5,170.0 208.5,171.6 212.5,173.1 216.5,174.5 220.5,175.9 228.5,178.6 236.5,181.1 244.5,183.5 252.5,185.9 260.5,188.2 268.5,190.9 276.5,193.7 284.5,196.2 292.5,198.0 300.5,198.6 308.5,198.6 316.5,198.5 324.5,198.4 332.5,198.3 340.5,198.2 348.5,198.2 356.5,198.3 364.5,198.5 372.5,198.8 380.5,199.1 388.5,199.4 396.5,199.7 404.5,200.0 412.5,200.2 420.5,200.4 428.5,200.6 436.5,200.8 444.5,200.9 452.5,201.1 460.5,201.2 468.5,201.3 476.5,201.4 483.0,201.5" stroke="#7803fb"/>
<polyline points="104.5,128.4 108.5,128.8 112.5,129.3 116.5,130.0 120.5,130.8 124.5,131.9 128.5,133.3 132.5,134.8 136.5,136.4 140.5,138.2 144.5,140.4 148.5,142.9 152.5,145.5 156.5,147.9 160.5,150.0 164.5,151.7 168.5,153.3 172.5,154.8 176.5,156.4 180.5,157.9 184.5,159.6 188.5,161.2 192.5,162.9 196.5,164.6 200.5,166.2 204.5,167.8 208.5,169.4 212.5,171.0 216.5,172.5 220.5,173.9 228.5,176.6 236.5,179.2 244.5,181.7 252.5,184.1 260.5,186.5 268.5,189.3 276.5,192.1 284.5,194.7 292.5,196.5 300.5,197.1 308.5,197.2 316.5,197.1 324.5,197.1 332.5,197.0 340.5,197.0 348.5,197.0 356.5,197.1 364.5,197.3 372.5,197.7 380.5,198.0 388.5,198.4 396.5,198.7 404.5,199.0 412.5,199.2 420.5,199.4 428.5,199.6 436.5,199.8 444.5,200.0 452.5,200.2 460.5,200.3 468.5,200.5 476.5,200.6 483.0,200.6" stroke="#7903fc"/>
<polyline points="104.5,126.3 108.5,126.7 112.5,127.2 116.5,127.9 120.5,128.7 124.5,129.8 128.5,131.1 132.5,132.6 136.5,134.2 140.5,136.0 144.5,138.3 148.5,140.8 152.5,143.3 156.5,145.7 160.5,147.8 164.5,149.5 168.5,151.1 172.5,152.6 176.5,154.1 180.5,155.7 184.5,157.4 188.5,159.1 192.5,160.8 196.5,162.4 200.5,164.1 204.5,165.8 208.5,167.4 212.5,169.0 216.5,170.5 220.5,171.9 228.5,174.7 236.5,177.4 244.5,179.9 252.5,182.4 260.5,184.9 268.5,187.6 276.5,190.6 284.5,193.2 292.5,195.0 300.5,195.7 308.5,195.8 316.5,195.8 324.5,195.8 332.5,195.8 340.5,195.8 348.5,195.9 356.5,196.0 364.5,196.3 372.5,196.6 380.5,197.0 388.5,197.4 396.5,197.7 404.5,198.0 412.5,198.3 420.5,198.5 428.5,198.7 436.5,199.0 444.5,199.2 452.5,199.4 460.5,199.5 468.5,199.6 476.5,199.8 483.0,199.8" stroke="#7a03fd"/>
<polyline points="104.5,124.3 108.5,124.6 112.5,125.2 116.5,125.9 120.5,126.7 124.5,127.8 128.5,129.1 132.5,130.6 136.5,132.2 140.5,134.0 144.5,136.2 148.5,138.7 152.5,141.2 156.5,143.6 160.5,145.7 164.5,147.4 168.5,149.0 172.5,150.5 176.5,152.0 180.5,153.6 184.5,155.3 188.5,157.0 192.5,158.7 196.5,160.4 200.5,162.1 204.5,163.8 208.5,165.4 212.5,167.0 216.5,168.6 220.5,170.0 228.5,172.9 236.5,175.6 244.5,178.2 252.5,180.7 260.5,183.2 268.5,186.1 276.5,189.0 284.5,191.7 292.5,193.6 300.5,194.3 308.5,194.4 316.5,194.5 324.5,194.6 332.5,194.6 340.5,194.7 348.5,194.7 356.5,194.9 364.5,195.2 372.5,195.6 380.5,196.0 388.5,196.4 396.5,196.8 404.5,197.1 412.5,197.4 420.5,197.6 428.5,197.9 436.5,198.1 444.5,198.4 452.5,198.6 460.5,198.7 468.5,198.9 476.5,199.0 483.0,199.1" stroke="#7c03fe"/>
<polyline points="104.5,122.3 108.5,122.7 112.5,123.3 116.5,123.9 120.5,124.8 124.5,125.9 128.5,127.1 132.5,128.6 136.5,130.2 140.5,132.0 144.5,134.2 148.5,136.7 152.5,139.2 156.5,141.6 160.5,143.6 164.5,145.4 168.5,146.9 172.5,148.5 176.5,150.0 180.5,151.6 184.5,153.3 188.5,155.0 192.5,156.7 196.5,158.5 200.5,160.2 204.5,161.9 208.5,163.5 212.5,165.1 216.5,166.7 220.5,168.2 228.5,171.1 236.5,173.8 244.5,176.5 252.5,179.1 260.5,181.6 268.5,184.5 276.5,187.5 284.5,190.2 292.5,192.1 300.5,193.0 308.5,193.1 316.5,193.3 324.5,193.4 332.5,193.4 340.5,193.5 348.5,193.7 356.5,193.9 364.5,194.2 372.5,194.6 380.5,195.1 388.5,195.5 396.5,195.9 404.5,196.2 412.5,196.5 420.5,196.8 428.5,197.1 436.5,197.3 444.5,197.6 452.5,197.8 460.5,198.0 468.5,198.1 476.5,198.3 483.0,198.4" stroke="#7d03fe"/>
<polyline points="104.5,120.4 108.5,120.8 112.5,121.4 116.5,122.1 120.5,122.9 124.5,124.0 128.5,125.3 132.5,126.7 136.5,128.3 140.5,130.1 144.5,132.3 148.5,134.7 152.5,137.2 156.5,139.6 160.5,141.7 164.5,143.4 168.5,145.0 172.5,146.5 176.5,148.1 180.5,149.7 184.5,151.4 188.5,153.1 192.5,154.8 196.5,156.6 200.5,158.3 204.5,160.0 208.5,161.7 212.5,163.3 216.5,164.9 220.5,166.4 228.5,169.3 236.5,172.1 244.5,174.9 252.5,177.5 260.5,180.1 268.5,183.0 276.5,186.0 284.5,188.7 292.5,190.7 300.5,191.6 308.5,191.9 316.5,192.1 324.5,192.2 332.5,192.3 340.5,192.4 348.5,192.6 356.5,192.9 364.5,193.2 372.5,193.7 380.5,194.2 388.5,194.6 396.5,195.1 404.5,195.4 412.5,195.7 420.5,196.0 428.5,196.3 436.5,196.6 444.5,196.8 452.5,197.1 460.5,197.3 468.5,197.4 476.5,197.6 483.0,197.7" stroke="#7e04ff"/>
<polyline points="104.5,118.6 108.5,119.0 112.5,119.5 116.5,120.3 120.5,121.1 124.5,122.2 128.5,123.5 132.5,124.9 136.5,126.5 140.5,128.2 144.5,130.4 148.5,132.8 152.5,135.3 156.5,137.7 160.5,139.8 164.5,141.5 168.5,143.1 172.5,144.6 176.5,146.2 180.5,147.8 184.5,149.5 188.5,151.2 192.5,153.0 196.5,154.7 200.5,156.5 204.5,158.2 208.5,159.9 212.5,161.5 216.5,163.1 220.5,164.6 228.5,167.6 236.5,170.5 244.5,173.2 252.5,175.9 260.5,178.6 268.5,181.5 276.5,184.5 284.5,187.3 292.5,189.3 300.5,190.3 308.5,190.6 316.5,190.9 324.5,191.0 332.5,191.2 340.5,191.4 348.5,191.6 356.5,191.9 364.5,192.3 372.5,192.8 380.5,193.3 388.5,193.8 396.5,194.2 404.5,194.6 412.5,194.9 420.5,195.3 428.5,195.6 436.5,195.8 444.5,196.1 452.5,196.4 460.5,196.6 468.5,196.8 476.5,196.9 483.0,197.0" stroke="#7f04ff"/>
<polyline points="104.5,116.8 108.5,117.2 112.5,117.8 116.5,118.5 120.5,119.4 124.5,120.4 128.5,121.7 132.5,123.2 136.5,124.7 140.5,126.5 144.5,128.6 148.5,131.0 152.5,133.5 156.5,135.9 160.5,137.9 164.5,139.7 168.5,141.3 172.5,142.8 176.5,144.4 180.5,146.0 184.5,147.7 188.5,149.4 192.5,151.2 196.5,153.0 200.5,154.7 204.5,156.4 208.5,158.1 212.5,159.8 216.5,161.4 220.5,163.0 228.5,166.0 236.5,168.9 244.5,171.7 252.5,174.4 260.5,177.1 268.5,180.0 276.5,183.1 284.5,185.9 292.5,188.0 300.5,189.0 308.5,189.4 316.5,189.7 324.5,189.9 332.5,190.1 340.5,190.3 348.5,190.6 356.5,191.0 364.5,191.4 372.5,191.9 380.5,192.4 388.5,193.0 396.5,193.4 404.5,193.8 412.5,194.2 420.5,194.5 428.5,194.9 436.5,195.2 444.5,195.5 452.5,195.7 460.5,195.9 468.5,196.1 476.5,196.3 483.0,196.4" stroke="#8004ff"/>
<polyline points="104.5,115.0 108.5,115.5 112.5,116.1 116.5,116.8 120.5,117.7 124.5,118.8 128.5,120.0 132.5,121.5 136.5,123.0 140.5,124.8 144.5,126.9 148.5,129.3 152.5,131.8 156.5,134.1 160.5,136.1 164.5,137.9 168.5,139.5 172.5,141.0 176.5,142.6 180.5,144.3 184.5,146.0 188.5,147.7 192.5,149.5 196.5,151.2 200.5,153.0 204.5,154.7 208.5,156.5 212.5,158.1 216.5,159.7 220.5,161.3 228.5,164.3 236.5,167.3 244.5,170.1 252.5,172.9 260.5,175.6 268.5,178.6 276.5,181.7 284.5,184.5 292.5,186.6 300.5,187.7 308.5,188.2 316.5,188.6 324.5,188.8 332.5,189.1 340.5,189.3 348.5,189.6 356.5,190.1 364.5,190.6 372.5,191.1 380.5,191.6 388.5,192.2 396.5,192.7 404.5,193.1 412.5,193.5 420.5,193.8 428.5,194.2 436.5,194.5 444.5,194.8 452.5,195.1 460.5,195.3 468.5,195.5 476.5,195.7 483.0,195.8" stroke="#8004ff"/>
<polyline points="104.5,113.3 108.5,113.8 112.5,114.4 116.5,115.2 120.5,116.0 124.5,117.1 128.5,118.4 132.5,119.8 136.5,121.4 140.5,123.1 144.5,125.2 148.5,127.6 152.5,130.1 156.5,132.4 160.5,134.4 164.5,136.2 168.5,137.8 172.5,139.3 176.5,140.9 180.5,142.6 184.5,144.3 188.5,146.1 192.5,147.8 196.5,149.6 200.5,151.4 204.5,153.1 208.5,154.8 212.5,156.5 216.5,158.1 220.5,159.7 228.5,162.8 236.5,165.7 244.5,168.6 252.5,171.4 260.5,174.1 268.5,177.2 276.5,180.3 284.5,183.1 292.5,185.3 300.5,186.5 308.5,187.1 316.5,187.5 324.5,187.8 332.5,188.1 340.5,188.4 348.5,188.7 356.5,189.2 364.5,189.7 372.5,190.3 380.5,190.9 388.5,191.4 396.5,191.9 404.5,192.4 412.5,192.8 420.5,193.2 428.5,193.5 436.5,193.9 444.5,194.2 452.5,194.5 460.5,194.7 468.5,195.0 476.5,195.1 483.0,195.2" stroke="#8104ff"/>
<polyline points="104.5,111.7 108.5,112.2 112.5,112.8 116.5,113.6 120.5,114.5 124.5,115.5 128.5,116.8 132.5,118.2 136.5,119.8 140.5,121.5 144.5,123.6 148.5,126.0 152.5,128.4 156.5,130.7 160.5,132.7 164.5,134.5 168.5,136.1 172.5,137.7 176.5,139.3 180.5,141.0 184.5,142.7 188.5,144.4 192.5,146.2 196.5,148.0 200.5,149.8 204.5,151.5 208.5,153.2 212.5,154.9 216.5,156.6 220.5,158.2 228.5,161.2 236.5,164.2 244.5,167.1 252.5,170.0 260.5,172.7 268.5,175.8 276.5,178.9 284.5,181.8 292.5,184.0 300.5,185.3 308.5,185.9 316.5,186.4 324.5,186.7 332.5,187.1 340.5,187.4 348.5,187.8 356.5,188.3 364.5,188.9 372.5,189.5 380.5,190.1 388.5,190.7 396.5,191.2 404.5,191.7 412.5,192.1 420.5,192.5 428.5,192.9 436.5,193.3 444.5,193.6 452.5,193.9 460.5,194.2 468.5,194.4 476.5,194.6 483.0,194.7" stroke="#8204ff"/>
<polyline points="104.5,110.1 108.5,110.6 112.5,111.2 116.5,112.0 120.5,112.9 124.5,114.0 128.5,115.3 132.5,116.7 136.5,118.2 140.5,120.0 144.5,122.1 148.5,124.4 152.5,126.8 156.5,129.1 160.5,131.1 164.5,132.9 168.5,134.5 172.5,136.1 176.5,137.7 180.5,139.4 184.5,141.1 188.5,142.9 192.5,144.7 196.5,146.4 200.5,148.2 204.5,150.0 208.5,151.7 212.5,153.4 216.5,155.1 220.5,156.6 228.5,159.8 236.5,162.8 244.5,165.7 252.5,168.6 260.5,171.4 268.5,174.4 276.5,177.6 284.5,180.5 292.5,182.7 300.5,184.1 308.5,184.8 316.5,185.3 324.5,185.7 332.5,186.1 340.5,186.5 348.5,186.9 356.5,187.5 364.5,188.1 372.5,188.7 380.5,189.4 388.5,190.0 396.5,190.6 404.5,191.1 412.5,191.5 420.5,191.9 428.5,192.3 436.5,192.7 444.5,193.1 452.5,193.4 460.5,193.7 468.5,193.9 476.5,194.1 483.0,194.2" stroke="#8305fe"/>
<polyline points="104.5,108.5 108.5,109.1 112.5,109.7 116.5,110.5 120.5,111.4 124.5,112.5 128.5,113.8 132.5,115.2 136.5,116.8 140.5,118.5 144.5,120.5 148.5,122.9 152.5,125.3 156.5,127.5 160.5,129.6 164.5,131.3 168.5,133.0 172.5,134.6 176.5,136.2 180.5,137.9 184.5,139.6 188.5,141.4 192.5,143.2 196.5,145.0 200.5,146.7 204.5,148.5 208.5,150.2 212.5,151.9 216.5,153.6 220.5,155.2 228.5,158.3 236.5,161.3 244.5,164.3 252.5,167.2 260.5,170.0 268.5,173.1 276.5,176.3 284.5,179.2 292.5,181.5 300.5,182.9 308.5,183.7 316.5,184.3 324.5,184.8 332.5,185.2 340.5,185.6 348.5,186.1 356.5,186.7 364.5,187.3 372.5,188.0 380.5,188.7 388.5,189.3 396.5,189.9 404.5,190.4 412.5,190.9 420.5,191.3 428.5,191.8 436.5,192.2 444.5,192.5 452.5,192.9 460.5,193.2 468.5,193.4 476.5,193.6 483.0,193.7" stroke="#8305fe"/>
<polyline points="104.5,107.0 108.5,107.6 112.5,108.3 116.5,109.1 120.5,110.0 124.5,111.1 128.5,112.4 132.5,113.8 136.5,115.3 140.5,117.0 144.5,119.1 148.5,121.4 152.5,123.8 156.5,126.0 160.5,128.1 164.5,129.8 168.5,131.5 172.5,133.1 176.5,134.7 180.5,136.4 184.5,138.2 188.5,139.9 192.5,141.7 196.5,143.5 200.5,145.3 204.5,147.0 208.5,148.8 212.5,150.5 216.5,152.1 220.5,153.8 228.5,156.9 236.5,160.0 244.5,162.9 252.5,165.8 260.5,168.7 268.5,171.8 276.5,175.0 284.5,177.9 292.5,180.3 300.5,181.7 308.5,182.6 316.5,183.3 324.5,183.8 332.5,184.3 340.5,184.7 348.5,185.3 356.5,185.9 364.5,186.6 372.5,187.3 380.5,188.0 388.5,188.7 396.5,189.3 404.5,189.8 412.5,190.3 420.5,190.8 428.5,191.2 436.5,191.6 444.5,192.0 452.5,192.4 460.5,192.7 468.5,192.9 476.5,193.1 483.0,193.3" stroke="#8405fd"/>
<polyline points="104.5,105.6 108.5,106.1 112.5,106.8 116.5,107.7 120.5,108.6 124.5,109.7 128.5,111.0 132.5,112.4 136.5,113.9 140.5,115.6 144.5,117.7 148.5,120.0 152.5,122.3 156.5,124.6 160.5,126.6 164.5,128.4 168.5,130.1 172.5,131.7 176.5,133.3 180.5,135.0 184.5,136.8 188.5,138.5 192.5,140.3 196.5,142.1 200.5,143.9 204.5,145.7 208.5,147.4 212.5,149.1 216.5,150.8 220.5,152.4 228.5,155.5 236.5,158.6 244.5,161.6 252.5,164.5 260.5,167.4 268.5,170.5 276.5,173.7 284.5,176.7 292.5,179.1 300.5,180.6 308.5,181.5 316.5,182.3 324.5,182.9 332.5,183.4 340.5,183.9 348.5,184.5 356.5,185.2 364.5,185.9 372.5,186.6 380.5,187.4 388.5,188.1 396.5,188.7 404.5,189.3 412.5,189.8 420.5,190.3 428.5,190.7 436.5,191.1 444.5,191.6 452.5,191.9 460.5,192.2 468.5,192.5 476.5,192.7 483.0,192.8" stroke="#8505fd"/>
<polyline points="104.5,104.2 108.5,104.8 112.5,105.5 116.5,106.3 120.5,107.3 124.5,108.4 128.5,109.7 132.5,111.1 136.5,112.6 140.5,114.3 144.5,116.3 148.5,118.6 152.5,120.9 156.5,123.2 160.5,125.2 164.5,127.0 168.5,128.7 172.5,130.3 176.5,132.0 180.5,133.7 184.5,135.4 188.5,137.2 192.5,139.0 196.5,140.8 200.5,142.5 204.5,144.3 208.5,146.0 212.5,147.7 216.5,149.4 220.5,151.0 228.5,154.2 236.5,157.3 244.5,160.3 252.5,163.2 260.5,166.1 268.5,169.2 276.5,172.5 284.5,175.4 292.5,177.9 300.5,179.5 308.5,180.5 316.5,181.3 324.5,181.9 332.5,182.5 340.5,183.1 348.5,183.7 356.5,184.5 364.5,185.2 372.5,186.0 380.5,186.7 388.5,187.5 396.5,188.1 404.5,188.7 412.5,189.3 420.5,189.8 428.5,190.2 436.5,190.7 444.5,191.1 452.5,191.5 460.5,191.8 468.5,192.1 476.5,192.3 483.0,192.4" stroke="#8505fc"/>
<polyline points="104.5,102.8 108.5,103.4 112.5,104.1 116.5,105.0 120.5,106.0 124.5,107.1 128.5,108.4 132.5,109.8 136.5,111.3 140.5,113.0 144.5,115.0 148.5,117.3 152.5,119.6 156.5,121.8 160.5,123.8 164.5,125.6 168.5,127.3 172.5,129.0 176.5,130.6 180.5,132.4 184.5,134.1 188.5,135.9 192.5,137.7 196.5,139.5 200.5,141.2 204.5,143.0 208.5,144.7 212.5,146.4 216.5,148.1 220.5,149.7 228.5,152.9 236.5,156.0 244.5,159.0 252.5,161.9 260.5,164.9 268.5,168.0 276.5,171.2 284.5,174.2 292.5,176.7 300.5,178.4 308.5,179.5 316.5,180.3 324.5,181.0 332.5,181.7 340.5,182.3 348.5,183.0 356.5,183.8 364.5,184.6 372.5,185.4 380.5,186.1 388.5,186.9 396.5,187.6 404.5,188.2 412.5,188.7 420.5,189.3 428.5,189.8 436.5,190.2 444.5,190.7 452.5,191.1 460.5,191.4 468.5,191.7 476.5,191.9 483.0,192.0" stroke="#8605fb"/>
<polyline points="104.5,101.5 108.5,102.1 112.5,102.9 116.5,103.7 120.5,104.7 124.5,105.9 128.5,107.1 132.5,108.5 136.5,110.1 140.5,111.7 144.5,113.8 148.5,116.0 152.5,118.3 156.5,120.5 160.5,122.5 164.5,124.3 168.5,126.0 172.5,127.7 176.5,129.4 180.5,131.1 184.5,132.9 188.5,134.6 192.5,136.4 196.5,138.2 200.5,140.0 204.5,141.7 208.5,143.5 212.5,145.2 216.5,146.8 220.5,148.4 228.5,151.6 236.5,154.7 244.5,157.7 252.5,160.7 260.5,163.6 268.5,166.8 276.5,170.0 284.5,173.1 292.5,175.6 300.5,177.3 308.5,178.5 316.5,179.4 324.5,180.2 332.5,180.8 340.5,181.5 348.5,182.3 356.5,183.1 364.5,183.9 372.5,184.7 380.5,185.6 388.5,186.3 396.5,187.0 404.5,187.7 412.5,188.3 420.5,188.8 428.5,189.3 436.5,189.8 444.5,190.2 452.5,190.7 460.5,191.0 468.5,191.3 476.5,191.5 483.0,191.7" stroke="#8706fb"/>
<polyline points="104.5,100.2 108.5,100.8 112.5,101.6 116.5,102.5 120.5,103.5 124.5,104.7 128.5,105.9 132.5,107.3 136.5,108.9 140.5,110.5 144.5,112.5 148.5,114.7 152.5,117.0 156.5,119.2 160.5,121.2 164.5,123.0 168.5,124.8 172.5,126.4 176.5,128.1 180.5,129.9 184.5,131.6 188.5,133.4 192.5,135.2 196.5,137.0 200.5,138.7 204.5,140.5 208.5,142.2 212.5,143.9 216.5,145.6 220.5,147.2 228.5,150.4 236.5,153.5 244.5,156.5 252.5,159.5 260.5,162.4 268.5,165.6 276.5,168.9 284.5,171.9 292.5,174.5 300.5,176.3 308.5,177.5 316.5,178.5 324.5,179.3 332.5,180.0 340.5,180.8 348.5,181.6 356.5,182.4 364.5,183.3 372.5,184.2 380.5,185.0 388.5,185.8 396.5,186.5 404.5,187.2 412.5,187.8 420.5,188.4 428.5,188.9 436.5,189.4 444.5,189.8 452.5,190.3 460.5,190.6 468.5,190.9 476.5,191.2 483.0,191.3" stroke="#8806fa"/>
<polyline points="104.5,98.9 108.5,99.6 112.5,100.4 116.5,101.3 120.5,102.3 124.5,103.5 128.5,104.8 132.5,106.2 136.5,107.7 140.5,109.4 144.5,111.3 148.5,113.5 152.5,115.8 156.5,118.0 160.5,120.0 164.5,121.8 168.5,123.5 172.5,125.2 176.5,127.0 180.5,128.7 184.5,130.5 188.5,132.2 192.5,134.0 196.5,135.8 200.5,137.6 204.5,139.3 208.5,141.0 212.5,142.7 216.5,144.4 220.5,146.0 228.5,149.2 236.5,152.3 244.5,155.3 252.5,158.3 260.5,161.3 268.5,164.5 276.5,167.7 284.5,170.8 292.5,173.4 300.5,175.2 308.5,176.5 316.5,177.6 324.5,178.5 332.5,179.3 340.5,180.1 348.5,180.9 356.5,181.8 364.5,182.7 372.5,183.6 380.5,184.5 388.5,185.3 396.5,186.1 404.5,186.7 412.5,187.4 420.5,187.9 428.5,188.5 436.5,189.0 444.5,189.5 452.5,189.9 460.5,190.3 468.5,190.6 476.5,190.8 483.0,191.0" stroke="#8806f9"/>
<polyline points="104.5,97.7 108.5,98.4 112.5,99.2 116.5,100.2 120.5,101.2 124.5,102.4 128.5,103.6 132.5,105.1 136.5,106.6 140.5,108.2 144.5,110.2 148.5,112.4 152.5,114.6 156.5,116.8 160.5,118.8 164.5,120.6 168.5,122.4 172.5,124.1 176.5,125.8 180.5,127.6 184.5,129.3 188.5,131.1 192.5,132.9 196.5,134.6 200.5,136.4 204.5,138.1 208.5,139.9 212.5,141.6 216.5,143.2 220.5,144.8 228.5,148.0 236.5,151.1 244.5,154.2 252.5,157.1 260.5,160.1 268.5,163.3 276.5,166.6 284.5,169.7 292.5,172.3 300.5,174.2 308.5,175.6 316.5,176.7 324.5,177.6 332.5,178.5 340.5,179.4 348.5,180.2 356.5,181.2 364.5,182.1 372.5,183.0 380.5,184.0 388.5,184.8 396.5,185.6 404.5,186.3 412.5,186.9 420.5,187.5 428.5,188.1 436.5,188.6 444.5,189.1 452.5,189.6 460.5,189.9 468.5,190.2 476.5,190.5 483.0,190.7" stroke="#8906f7"/>
<polyline points="104.5,96.5 108.5,97.3 112.5,98.1 116.5,99.1 120.5,100.1 124.5,101.3 128.5,102.6 132.5,104.0 136.5,105.5 140.5,107.1 144.5,109.1 148.5,111.2 152.5,113.5 156.5,115.6 160.5,117.6 164.5,119.5 168.5,121.2 172.5,123.0 176.5,124.7 180.5,126.5 184.5,128.2 188.5,130.0 192.5,131.8 196.5,133.5 200.5,135.3 204.5,137.0 208.5,138.7 212.5,140.4 216.5,142.1 220.5,143.7 228.5,146.9 236.5,150.0 244.5,153.0 252.5,156.0 260.5,159.0 268.5,162.2 276.5,165.5 284.5,168.6 292.5,171.2 300.5,173.2 308.5,174.6 316.5,175.8 324.5,176.8 332.5,177.8 340.5,178.7 348.5,179.6 356.5,180.6 364.5,181.6 372.5,182.5 380.5,183.5 388.5,184.3 396.5,185.1 404.5,185.9 412.5,186.5 420.5,187.1 428.5,187.7 436.5,188.3 444.5,188.8 452.5,189.2 460.5,189.6 468.5,189.9 476.5,190.2 483.0,190.4" stroke="#8a06f6"/>
<polyline points="104.5,95.4 108.5,96.2 112.5,97.0 116.5,98.0 120.5,99.0 124.5,100.2 128.5,101.5 132.5,102.9 136.5,104.4 140.5,106.1 144.5,108.0 148.5,110.2 152.5,112.3 156.5,114.5 160.5,116.5 164.5,118.3 168.5,120.1 172.5,121.9 176.5,123.6 180.5,125.4 184.5,127.2 188.5,129.0 192.5,130.7 196.5,132.5 200.5,134.2 204.5,135.9 208.5,137.7 212.5,139.3 216.5,141.0 220.5,142.6 228.5,145.8 236.5,148.9 244.5,151.9 252.5,154.9 260.5,157.9 268.5,161.1 276.5,164.4 284.5,167.5 292.5,170.2 300.5,172.2 308.5,173.7 316.5,175.0 324.5,176.1 332.5,177.1 340.5,178.0 348.5,179.0 356.5,180.0 364.5,181.0 372.5,182.0 380.5,183.0 388.5,183.9 396.5,184.7 404.5,185.5 412.5,186.1 420.5,186.8 428.5,187.4 436.5,187.9 444.5,188.4 452.5,188.9 460.5,189.3 468.5,189.6 476.5,189.9 483.0,190.1" stroke="#8b07f5"/>
<polyline points="104.5,94.3 108.5,95.1 112.5,96.0 116.5,96.9 120.5,98.0 124.5,99.2 128.5,100.5 132.5,101.9 136.5,103.4 140.5,105.1 144.5,107.0 148.5,109.1 152.5,111.3 156.5,113.4 160.5,115.4 164.5,117.3 168.5,119.1 172.5,120.9 176.5,122.6 180.5,124.4 184.5,126.2 188.5,127.9 192.5,129.7 196.5,131.4 200.5,133.2 204.5,134.9 208.5,136.6 212.5,138.3 216.5,139.9 220.5,141.5 228.5,144.7 236.5,147.8 244.5,150.8 252.5,153.8 260.5,156.8 268.5,160.0 276.5,163.3 284.5,166.5 292.5,169.2 300.5,171.3 308.5,172.8 316.5,174.1 324.5,175.3 332.5,176.3 340.5,177.4 348.5,178.4 356.5,179.4 364.5,180.5 372.5,181.5 380.5,182.5 388.5,183.4 396.5,184.3 404.5,185.1 412.5,185.8 420.5,186.4 428.5,187.0 436.5,187.6 444.5,188.1 452.5,188.6 460.5,189.0 468.5,189.4 476.5,189.6 483.0,189.8" stroke="#8b07f3"/>
<polyline points="104.5,93.2 108.5,94.0 112.5,94.9 116.5,95.9 120.5,97.0 124.5,98.2 128.5,99.5 132.5,100.9 136.5,102.4 140.5,104.1 144.5,106.0 148.5,108.1 152.5,110.2 156.5,112.4 160.5,114.3 164.5,116.2 168.5,118.1 172.5,119.9 176.5,121.6 180.5,123.4 184.5,125.2 188.5,126.9 192.5,128.7 196.5,130.4 200.5,132.2 204.5,133.9 208.5,135.6 212.5,137.2 216.5,138.9 220.5,140.5 228.5,143.7 236.5,146.7 244.5,149.7 252.5,152.7 260.5,155.7 268.5,159.0 276.5,162.3 284.5,165.4 292.5,168.2 300.5,170.3 308.5,171.9 316.5,173.3 324.5,174.5 332.5,175.7 340.5,176.7 348.5,177.8 356.5,178.9 364.5,180.0 372.5,181.1 380.5,182.1 388.5,183.0 396.5,183.9 404.5,184.7 412.5,185.4 420.5,186.1 428.5,186.7 436.5,187.3 444.5,187.8 452.5,188.3 460.5,188.8 468.5,189.1 476.5,189.4 483.0,189.6" stroke="#8c07f1"/>
<polyline points="104.5,92.2 108.5,93.0 112.5,93.9 116.5,95.0 120.5,96.1 124.5,97.3 128.5,98.6 132.5,100.0 136.5,101.5 140.5,103.2 144.5,105.1 148.5,107.1 152.5,109.2 156.5,111.3 160.5,113.3 164.5,115.2 168.5,117.1 172.5,118.9 176.5,120.7 180.5,122.5 184.5,124.2 188.5,126.0 192.5,127.7 196.5,129.5 200.5,131.2 204.5,132.9 208.5,134.6 212.5,136.2 216.5,137.9 220.5,139.5 228.5,142.6 236.5,145.7 244.5,148.7 252.5,151.7 260.5,154.7 268.5,157.9 276.5,161.3 284.5,164.4 292.5,167.2 300.5,169.4 308.5,171.1 316.5,172.5 324.5,173.8 332.5,175.0 340.5,176.1 348.5,177.2 356.5,178.4 364.5,179.5 372.5,180.6 380.5,181.6 388.5,182.6 396.5,183.5 404.5,184.3 412.5,185.1 420.5,185.8 428.5,186.4 436.5,187.0 444.5,187.6 452.5,188.1 460.5,188.5 468.5,188.8 476.5,189.1 483.0,189.3" stroke="#8d07ef"/>
<polyline points="104.5,91.2 108.5,92.0 112.5,93.0 116.5,94.0 120.5,95.2 124.5,96.4 128.5,97.7 132.5,99.1 136.5,100.6 140.5,102.2 144.5,104.1 148.5,106.2 152.5,108.3 156.5,110.4 160.5,112.3 164.5,114.2 168.5,116.1 172.5,117.9 176.5,119.8 180.5,121.5 184.5,123.3 188.5,125.1 192.5,126.8 196.5,128.5 200.5,130.3 204.5,132.0 208.5,133.6 212.5,135.3 216.5,136.9 220.5,138.5 228.5,141.6 236.5,144.7 244.5,147.7 252.5,150.7 260.5,153.7 268.5,156.9 276.5,160.2 284.5,163.4 292.5,166.2 300.5,168.5 308.5,170.2 316.5,171.7 324.5,173.1 332.5,174.3 340.5,175.5 348.5,176.7 356.5,177.9 364.5,179.0 372.5,180.2 380.5,181.2 388.5,182.2 396.5,183.2 404.5,184.0 412.5,184.8 420.5,185.4 428.5,186.1 436.5,186.7 444.5,187.3 452.5,187.8 460.5,188.2 468.5,188.6 476.5,188.9 483.0,189.1" stroke="#8e08ed"/>
<polyline points="104.5,90.2 108.5,91.1 112.5,92.1 116.5,93.1 120.5,94.3 124.5,95.5 128.5,96.8 132.5,98.2 136.5,99.7 140.5,101.4 144.5,103.2 148.5,105.2 152.5,107.3 156.5,109.4 160.5,111.4 164.5,113.3 168.5,115.2 172.5,117.0 176.5,118.9 180.5,120.7 184.5,122.4 188.5,124.2 192.5,125.9 196.5,127.6 200.5,129.3 204.5,131.0 208.5,132.7 212.5,134.3 216.5,136.0 220.5,137.6 228.5,140.7 236.5,143.7 244.5,146.7 252.5,149.7 260.5,152.7 268.5,155.9 276.5,159.3 284.5,162.5 292.5,165.3 300.5,167.6 308.5,169.4 316.5,171.0 324.5,172.4 332.5,173.7 340.5,174.9 348.5,176.2 356.5,177.4 364.5,178.6 372.5,179.7 380.5,180.8 388.5,181.9 396.5,182.8 404.5,183.7 412.5,184.4 420.5,185.2 428.5,185.8 436.5,186.4 444.5,187.0 452.5,187.6 460.5,188.0 468.5,188.4 476.5,188.7 483.0,188.9" stroke="#8f08eb"/>
<polyline points="104.5,89.2 108.5,90.2 112.5,91.2 116.5,92.2 120.5,93.4 124.5,94.6 128.5,95.9 132.5,97.4 136.5,98.9 140.5,100.5 144.5,102.4 148.5,104.4 152.5,106.4 156.5,108.5 160.5,110.5 164.5,112.4 168.5,114.3 172.5,116.2 176.5,118.0 180.5,119.8 184.5,121.6 188.5,123.3 192.5,125.1 196.5,126.8 200.5,128.5 204.5,130.1 208.5,131.8 212.5,133.4 216.5,135.0 220.5,136.6 228.5,139.7 236.5,142.8 244.5,145.7 252.5,148.7 260.5,151.7 268.5,155.0 276.5,158.3 284.5,161.5 292.5,164.4 300.5,166.7 308.5,168.6 316.5,170.2 324.5,171.7 332.5,173.1 340.5,174.4 348.5,175.7 356.5,176.9 364.5,178.2 372.5,179.3 380.5,180.5 388.5,181.5 396.5,182.5 404.5,183.3 412.5,184.1 420.5,184.9 428.5,185.5 436.5,186.2 444.5,186.8 452.5,187.3 460.5,187.8 468.5,188.2 476.5,188.5 483.0,188.7" stroke="#9008e9"/>
<polyline points="104.5,88.3 108.5,89.2 112.5,90.3 116.5,91.4 120.5,92.6 124.5,93.8 128.5,95.1 132.5,96.5 136.5,98.0 140.5,99.7 144.5,101.5 148.5,103.5 152.5,105.6 156.5,107.6 160.5,109.6 164.5,111.5 168.5,113.4 172.5,115.3 176.5,117.2 180.5,119.0 184.5,120.7 188.5,122.5 192.5,124.2 196.5,125.9 200.5,127.6 204.5,129.3 208.5,130.9 212.5,132.5 216.5,134.1 220.5,135.7 228.5,138.8 236.5,141.8 244.5,144.8 252.5,147.7 260.5,150.8 268.5,154.0 276.5,157.3 284.5,160.6 292.5,163.5 300.5,165.8 308.5,167.8 316.5,169.5 324.5,171.1 332.5,172.5 340.5,173.8 348.5,175.2 356.5,176.5 364.5,177.7 372.5,178.9 380.5,180.1 388.5,181.2 396.5,182.2 404.5,183.0 412.5,183.9 420.5,184.6 428.5,185.3 436.5,185.9 444.5,186.6 452.5,187.1 460.5,187.6 468.5,188.0 476.5,188.3 483.0,188.5" stroke="#9008e6"/>
<polyline points="104.5,87.3 108.5,88.3 112.5,89.4 116.5,90.5 120.5,91.7 124.5,93.0 128.5,94.3 132.5,95.7 136.5,97.2 140.5,98.9 144.5,100.7 148.5,102.7 152.5,104.7 156.5,106.8 160.5,108.7 164.5,110.7 168.5,112.6 172.5,114.5 176.5,116.4 180.5,118.2 184.5,119.9 188.5,121.7 192.5,123.4 196.5,125.1 200.5,126.8 204.5,128.4 208.5,130.1 212.5,131.7 216.5,133.3 220.5,134.9 228.5,137.9 236.5,140.9 244.5,143.9 252.5,146.8 260.5,149.8 268.5,153.1 276.5,156.4 284.5,159.6 292.5,162.6 300.5,165.0 308.5,167.0 316.5,168.8 324.5,170.4 332.5,171.9 340.5,173.3 348.5,174.7 356.5,176.0 364.5,177.3 372.5,178.6 380.5,179.7 388.5,180.8 396.5,181.8 404.5,182.8 412.5,183.6 420.5,184.3 428.5,185.0 436.5,185.7 444.5,186.3 452.5,186.9 460.5,187.4 468.5,187.8 476.5,188.1 483.0,188.3" stroke="#9109e3"/>
<polyline points="104.5,86.4 108.5,87.4 112.5,88.5 116.5,89.7 120.5,90.9 124.5,92.2 128.5,93.5 132.5,94.9 136.5,96.4 140.5,98.1 144.5,99.9 148.5,101.9 152.5,103.9 156.5,105.9 160.5,107.9 164.5,109.8 168.5,111.8 172.5,113.7 176.5,115.6 180.5,117.4 184.5,119.2 188.5,120.9 192.5,122.6 196.5,124.3 200.5,126.0 204.5,127.6 208.5,129.2 212.5,130.8 216.5,132.4 220.5,134.0 228.5,137.1 236.5,140.0 244.5,142.9 252.5,145.9 260.5,148.9 268.5,152.1 276.5,155.5 284.5,158.7 292.5,161.7 300.5,164.2 308.5,166.2 316.5,168.1 324.5,169.8 332.5,171.3 340.5,172.8 348.5,174.2 356.5,175.6 364.5,176.9 372.5,178.2 380.5,179.4 388.5,180.5 396.5,181.5 404.5,182.5 412.5,183.3 420.5,184.1 428.5,184.8 436.5,185.5 444.5,186.1 452.5,186.7 460.5,187.2 468.5,187.6 476.5,187.9 483.0,188.1" stroke="#9209e1"/>
<polyline points="104.5,85.6 108.5,86.6 112.5,87.8 116.5,88.9 120.5,90.2 124.5,91.4 128.5,92.8 132.5,94.2 136.5,95.7 140.5,97.3 144.5,99.2 148.5,101.1 152.5,103.1 156.5,105.1 160.5,107.1 164.5,109.0 168.5,111.0 172.5,113.0 176.5,114.9 180.5,116.7 184.5,118.4 188.5,120.2 192.5,121.9 196.5,123.6 200.5,125.2 204.5,126.8 208.5,128.4 212.5,130.0 216.5,131.6 220.5,133.2 228.5,136.2 236.5,139.2 244.5,142.1 252.5,145.0 260.5,148.0 268.5,151.2 276.5,154.6 284.5,157.9 292.5,160.8 300.5,163.3 308.5,165.5 316.5,167.4 324.5,169.1 332.5,170.8 340.5,172.3 348.5,173.8 356.5,175.2 364.5,176.6 372.5,177.8 380.5,179.1 388.5,180.2 396.5,181.3 404.5,182.2 412.5,183.1 420.5,183.9 428.5,184.6 436.5,185.3 444.5,185.9 452.5,186.5 460.5,187.0 468.5,187.4 476.5,187.7 483.0,187.9" stroke="#9309de"/>
<polyline points="104.5,84.9 108.5,86.0 112.5,87.1 116.5,88.3 120.5,89.5 124.5,90.8 128.5,92.1 132.5,93.5 136.5,95.0 140.5,96.7 144.5,98.4 148.5,100.4 152.5,102.3 156.5,104.3 160.5,106.3 164.5,108.3 168.5,110.3 172.5,112.2 176.5,114.1 180.5,115.9 184.5,117.7 188.5,119.4 192.5,121.1 196.5,122.8 200.5,124.5 204.5,126.1 208.5,127.7 212.5,129.3 216.5,130.8 220.5,132.4 228.5,135.4 236.5,138.3 244.5,141.2 252.5,144.1 260.5,147.1 268.5,150.4 276.5,153.7 284.5,157.0 292.5,160.0 300.5,162.5 308.5,164.7 316.5,166.7 324.5,168.5 332.5,170.2 340.5,171.8 348.5,173.3 356.5,174.8 364.5,176.2 372.5,177.5 380.5,178.8 388.5,179.9 396.5,181.0 404.5,182.0 412.5,182.8 420.5,183.6 428.5,184.4 436.5,185.1 444.5,185.7 452.5,186.3 460.5,186.8 468.5,187.2 476.5,187.6 483.0,187.8" stroke="#940ada"/>
<polyline points="104.5,84.3 108.5,85.4 112.5,86.5 116.5,87.7 120.5,88.9 124.5,90.2 128.5,91.5 132.5,92.9 136.5,94.4 140.5,96.0 144.5,97.7 148.5,99.6 152.5,101.6 156.5,103.6 160.5,105.5 164.5,107.5 168.5,109.5 172.5,111.5 176.5,113.4 180.5,115.3 184.5,117.0 188.5,118.7 192.5,120.4 196.5,122.1 200.5,123.7 204.5,125.3 208.5,126.9 212.5,128.5 216.5,130.1 220.5,131.6 228.5,134.6 236.5,137.5 244.5,140.4 252.5,143.3 260.5,146.3 268.5,149.5 276.5,152.9 284.5,156.1 292.5,159.2 300.5,161.7 308.5,164.0 316.5,166.0 324.5,167.9 332.5,169.7 340.5,171.4 348.5,172.9 356.5,174.4 364.5,175.8 372.5,177.2 380.5,178.5 388.5,179.6 396.5,180.7 404.5,181.7 412.5,182.6 420.5,183.4 428.5,184.2 436.5,184.9 444.5,185.5 452.5,186.2 460.5,186.7 468.5,187.1 476.5,187.4 483.0,187.6" stroke="#950ad7"/>
<polyline points="104.5,83.7 108.5,84.8 112.5,86.0 116.5,87.1 120.5,88.3 124.5,89.6 128.5,90.9 132.5,92.2 136.5,93.7 140.5,95.3 144.5,97.0 148.5,98.9 152.5,100.9 156.5,102.9 160.5,104.8 164.5,106.8 168.5,108.8 172.5,110.8 176.5,112.8 180.5,114.6 184.5,116.4 188.5,118.1 192.5,119.8 196.5,121.4 200.5,123.0 204.5,124.6 208.5,126.2 212.5,127.8 216.5,129.3 220.5,130.8 228.5,133.8 236.5,136.7 244.5,139.5 252.5,142.4 260.5,145.4 268.5,148.7 276.5,152.0 284.5,155.3 292.5,158.3 300.5,161.0 308.5,163.3 316.5,165.4 324.5,167.3 332.5,169.2 340.5,170.9 348.5,172.5 356.5,174.0 364.5,175.5 372.5,176.9 380.5,178.2 388.5,179.4 396.5,180.5 404.5,181.5 412.5,182.4 420.5,183.2 428.5,184.0 436.5,184.7 444.5,185.4 452.5,186.0 460.5,186.5 468.5,186.9 476.5,187.3 483.0,187.5" stroke="#960ad4"/>
<polyline points="104.5,83.2 108.5,84.3 112.5,85.5 116.5,86.6 120.5,87.8 124.5,89.0 128.5,90.3 132.5,91.6 136.5,93.0 140.5,94.6 144.5,96.4 148.5,98.2 152.5,100.2 156.5,102.1 160.5,104.1 164.5,106.1 168.5,108.1 172.5,110.2 176.5,112.1 180.5,113.9 184.5,115.7 188.5,117.4 192.5,119.1 196.5,120.7 200.5,122.3 204.5,123.9 208.5,125.5 212.5,127.0 216.5,128.6 220.5,130.1 228.5,133.1 236.5,135.9 244.5,138.7 252.5,141.6 260.5,144.6 268.5,147.8 276.5,151.2 284.5,154.5 292.5,157.5 300.5,160.2 308.5,162.6 316.5,164.7 324.5,166.8 332.5,168.7 340.5,170.4 348.5,172.1 356.5,173.7 364.5,175.2 372.5,176.6 380.5,177.9 388.5,179.1 396.5,180.2 404.5,181.3 412.5,182.2 420.5,183.0 428.5,183.8 436.5,184.5 444.5,185.2 452.5,185.8 460.5,186.3 468.5,186.8 476.5,187.1 483.0,187.4" stroke="#970bd0"/>
<polyline points="104.5,82.8 108.5,83.9 112.5,85.1 116.5,86.2 120.5,87.4 124.5,88.6 128.5,89.8 132.5,91.1 136.5,92.5 140.5,94.1 144.5,95.8 148.5,97.6 152.5,99.5 156.5,101.5 160.5,103.4 164.5,105.4 168.5,107.5 172.5,109.5 176.5,111.5 180.5,113.3 184.5,115.1 188.5,116.8 192.5,118.5 196.5,120.1 200.5,121.7 204.5,123.3 208.5,124.8 212.5,126.3 216.5,127.9 220.5,129.4 228.5,132.3 236.5,135.1 244.5,137.9 252.5,140.8 260.5,143.8 268.5,147.0 276.5,150.4 284.5,153.7 292.5,156.8 300.5,159.5 308.5,161.9 316.5,164.1 324.5,166.2 332.5,168.2 340.5,170.0 348.5,171.7 356.5,173.3 364.5,174.8 372.5,176.3 380.5,177.6 388.5,178.9 396.5,180.0 404.5,181.0 412.5,182.0 420.5,182.8 428.5,183.6 436.5,184.3 444.5,185.1 452.5,185.7 460.5,186.2 468.5,186.6 476.5,187.0 483.0,187.2" stroke="#970bcc"/>
<polyline points="104.5,82.5 108.5,83.6 112.5,84.8 116.5,86.0 120.5,87.1 124.5,88.3 128.5,89.5 132.5,90.8 136.5,92.2 140.5,93.7 144.5,95.3 148.5,97.1 152.5,98.9 156.5,100.8 160.5,102.7 164.5,104.7 168.5,106.8 172.5,108.9 176.5,110.9 180.5,112.7 184.5,114.5 188.5,116.2 192.5,117.8 196.5,119.5 200.5,121.0 204.5,122.6 208.5,124.1 212.5,125.7 216.5,127.2 220.5,128.7 228.5,131.6 236.5,134.4 244.5,137.2 252.5,140.0 260.5,143.0 268.5,146.2 276.5,149.6 284.5,152.9 292.5,156.0 300.5,158.7 308.5,161.2 316.5,163.5 324.5,165.7 332.5,167.7 340.5,169.6 348.5,171.4 356.5,173.0 364.5,174.5 372.5,176.0 380.5,177.4 388.5,178.6 396.5,179.8 404.5,180.8 412.5,181.8 420.5,182.6 428.5,183.4 436.5,184.2 444.5,184.9 452.5,185.5 460.5,186.1 468.5,186.5 476.5,186.9 483.0,187.1" stroke="#980cc8"/>
<polyline points="104.5,82.3 108.5,83.5 112.5,84.6 116.5,85.8 120.5,87.0 124.5,88.2 128.5,89.4 132.5,90.6 136.5,92.0 140.5,93.4 144.5,95.0 148.5,96.6 152.5,98.4 156.5,100.2 160.5,102.1 164.5,104.1 168.5,106.2 172.5,108.3 176.5,110.3 180.5,112.1 184.5,113.9 188.5,115.6 192.5,117.2 196.5,118.9 200.5,120.4 204.5,122.0 208.5,123.5 212.5,125.0 216.5,126.5 220.5,128.0 228.5,130.9 236.5,133.7 244.5,136.4 252.5,139.2 260.5,142.2 268.5,145.4 276.5,148.8 284.5,152.1 292.5,155.2 300.5,158.0 308.5,160.5 316.5,162.9 324.5,165.1 332.5,167.2 340.5,169.2 348.5,171.0 356.5,172.7 364.5,174.2 372.5,175.7 380.5,177.1 388.5,178.4 396.5,179.6 404.5,180.6 412.5,181.6 420.5,182.5 428.5,183.3 436.5,184.0 444.5,184.8 452.5,185.4 460.5,185.9 468.5,186.4 476.5,186.7 483.0,187.0" stroke="#990cc4"/>
<polyline points="104.5,82.1 108.5,83.3 112.5,84.5 116.5,85.7 120.5,86.9 124.5,88.1 128.5,89.3 132.5,90.5 136.5,91.8 140.5,93.2 144.5,94.7 148.5,96.2 152.5,97.9 156.5,99.6 160.5,101.4 164.5,103.3 168.5,105.5 172.5,107.7 176.5,109.7 180.5,111.5 184.5,113.3 188.5,115.0 192.5,116.6 196.5,118.3 200.5,119.8 204.5,121.4 208.5,122.9 212.5,124.4 216.5,125.9 220.5,127.4 228.5,130.2 236.5,133.0 244.5,135.7 252.5,138.5 260.5,141.4 268.5,144.6 276.5,148.0 284.5,151.3 292.5,154.5 300.5,157.3 308.5,159.9 316.5,162.3 324.5,164.6 332.5,166.8 340.5,168.8 348.5,170.7 356.5,172.4 364.5,174.0 372.5,175.5 380.5,176.9 388.5,178.2 396.5,179.4 404.5,180.5 412.5,181.4 420.5,182.3 428.5,183.1 436.5,183.9 444.5,184.6 452.5,185.3 460.5,185.8 468.5,186.3 476.5,186.6 483.0,186.9" stroke="#9a0cbf"/>
<polyline points="104.5,82.0 108.5,83.2 112.5,84.4 116.5,85.6 120.5,86.8 124.5,88.0 128.5,89.2 132.5,90.4 136.5,91.7 140.5,93.0 144.5,94.4 148.5,95.9 152.5,97.4 156.5,99.0 160.5,100.7 164.5,102.7 168.5,104.8 172.5,107.0 176.5,109.1 180.5,111.0 184.5,112.7 188.5,114.4 192.5,116.1 196.5,117.7 200.5,119.2 204.5,120.8 208.5,122.3 212.5,123.8 216.5,125.2 220.5,126.7 228.5,129.5 236.5,132.3 244.5,135.0 252.5,137.7 260.5,140.7 268.5,143.9 276.5,147.2 284.5,150.6 292.5,153.8 300.5,156.6 308.5,159.2 316.5,161.7 324.5,164.1 332.5,166.4 340.5,168.5 348.5,170.4 356.5,172.1 364.5,173.7 372.5,175.2 380.5,176.7 388.5,178.0 396.5,179.2 404.5,180.3 412.5,181.3 420.5,182.2 428.5,183.0 436.5,183.8 444.5,184.5 452.5,185.2 460.5,185.7 468.5,186.1 476.5,186.5 483.0,186.8" stroke="#9b0dba"/>
<polyline points="104.5,81.9 108.5,83.1 112.5,84.3 116.5,85.5 120.5,86.7 124.5,87.9 128.5,89.1 132.5,90.3 136.5,91.6 140.5,92.9 144.5,94.2 148.5,95.5 152.5,97.0 156.5,98.5 160.5,100.1 164.5,102.1 168.5,104.3 172.5,106.5 176.5,108.6 180.5,110.5 184.5,112.2 188.5,113.9 192.5,115.5 196.5,117.1 200.5,118.7 204.5,120.2 208.5,121.7 212.5,123.2 216.5,124.6 220.5,126.1 228.5,128.9 236.5,131.6 244.5,134.3 252.5,137.0 260.5,139.9 268.5,143.1 276.5,146.5 284.5,149.8 292.5,153.0 300.5,155.9 308.5,158.6 316.5,161.2 324.5,163.6 332.5,165.9 340.5,168.1 348.5,170.0 356.5,171.8 364.5,173.4 372.5,175.0 380.5,176.4 388.5,177.8 396.5,179.0 404.5,180.1 412.5,181.1 420.5,182.0 428.5,182.8 436.5,183.6 444.5,184.4 452.5,185.0 460.5,185.6 468.5,186.0 476.5,186.4 483.0,186.7" stroke="#9c0db5"/>
<polyline points="104.5,81.7 108.5,83.0 112.5,84.2 116.5,85.4 120.5,86.6 124.5,87.8 128.5,89.0 132.5,90.2 136.5,91.4 140.5,92.7 144.5,94.0 148.5,95.3 152.5,96.6 156.5,98.1 160.5,99.7 164.5,101.6 168.5,103.8 172.5,106.1 176.5,108.2 180.5,110.0 184.5,111.8 188.5,113.4 192.5,115.1 196.5,116.6 200.5,118.2 204.5,119.7 208.5,121.1 212.5,122.6 216.5,124.1 220.5,125.5 228.5,128.3 236.5,130.9 244.5,133.6 252.5,136.3 260.5,139.2 268.5,142.4 276.5,145.8 284.5,149.1 292.5,152.4 300.5,155.3 308.5,158.0 316.5,160.6 324.5,163.1 332.5,165.5 340.5,167.7 348.5,169.7 356.5,171.5 364.5,173.1 372.5,174.7 380.5,176.2 388.5,177.5 396.5,178.8 404.5,179.9 412.5,180.9 420.5,181.9 428.5,182.7 436.5,183.5 444.5,184.3 452.5,184.9 460.5,185.5 468.5,185.9 476.5,186.3 483.0,186.6" stroke="#9d0eb0"/>
<polyline points="104.5,81.6 108.5,82.8 112.5,84.0 116.5,85.3 120.5,86.5 124.5,87.7 128.5,88.8 132.5,90.0 136.5,91.3 140.5,92.5 144.5,93.8 148.5,95.0 152.5,96.4 156.5,97.8 160.5,99.4 164.5,101.3 168.5,103.5 172.5,105.7 176.5,107.8 180.5,109.7 184.5,111.4 188.5,113.0 192.5,114.6 196.5,116.2 200.5,117.7 204.5,119.1 208.5,120.6 212.5,122.0 216.5,123.5 220.5,124.9 228.5,127.7 236.5,130.3 244.5,132.9 252.5,135.7 260.5,138.6 268.5,141.8 276.5,145.1 284.5,148.5 292.5,151.7 300.5,154.6 308.5,157.4 316.5,160.0 324.5,162.6 332.5,165.0 340.5,167.2 348.5,169.2 356.5,171.1 364.5,172.8 372.5,174.4 380.5,175.9 388.5,177.3 396.5,178.6 404.5,179.7 412.5,180.8 420.5,181.7 428.5,182.6 436.5,183.4 444.5,184.1 452.5,184.8 460.5,185.4 468.5,185.8 476.5,186.2 483.0,186.5" stroke="#9e0eab"/>
<polyline points="104.5,81.4 108.5,82.7 112.5,83.9 116.5,85.1 120.5,86.3 124.5,87.5 128.5,88.7 132.5,89.9 136.5,91.1 140.5,92.4 144.5,93.6 148.5,94.8 152.5,96.1 156.5,97.5 160.5,99.1 164.5,101.0 168.5,103.2 172.5,105.4 176.5,107.5 180.5,109.3 184.5,111.0 188.5,112.6 192.5,114.2 196.5,115.7 200.5,117.2 204.5,118.6 208.5,120.1 212.5,121.5 216.5,122.9 220.5,124.3 228.5,127.1 236.5,129.7 244.5,132.3 252.5,135.0 260.5,137.9 268.5,141.1 276.5,144.4 284.5,147.8 292.5,151.0 300.5,154.0 308.5,156.7 316.5,159.4 324.5,162.0 332.5,164.5 340.5,166.7 348.5,168.8 356.5,170.7 364.5,172.4 372.5,174.1 380.5,175.6 388.5,177.0 396.5,178.3 404.5,179.5 412.5,180.6 420.5,181.5 428.5,182.4 436.5,183.2 444.5,184.0 452.5,184.7 460.5,185.3 468.5,185.7 476.5,186.1 483.0,186.4" stroke="#9f0fa5"/>
<polyline points="104.5,81.3 108.5,82.5 112.5,83.7 116.5,84.9 120.5,86.2 124.5,87.3 128.5,88.5 132.5,89.7 136.5,90.9 140.5,92.2 144.5,93.4 148.5,94.6 152.5,95.9 156.5,97.3 160.5,98.9 164.5,100.8 168.5,102.9 172.5,105.1 176.5,107.2 180.5,109.0 184.5,110.7 188.5,112.3 192.5,113.8 196.5,115.3 200.5,116.7 204.5,118.1 208.5,119.6 212.5,121.0 216.5,122.4 220.5,123.8 228.5,126.5 236.5,129.1 244.5,131.7 252.5,134.4 260.5,137.3 268.5,140.4 276.5,143.8 284.5,147.2 292.5,150.4 300.5,153.4 308.5,156.1 316.5,158.8 324.5,161.4 332.5,163.9 340.5,166.2 348.5,168.3 356.5,170.2 364.5,172.0 372.5,173.7 380.5,175.3 388.5,176.7 396.5,178.1 404.5,179.3 412.5,180.4 420.5,181.4 428.5,182.3 436.5,183.1 444.5,183.9 452.5,184.6 460.5,185.2 468.5,185.7 476.5,186.1 483.0,186.3" stroke="#a00f9f"/>
<polyline points="104.5,81.1 108.5,82.3 112.5,83.6 116.5,84.8 120.5,86.0 124.5,87.2 128.5,88.4 132.5,89.6 136.5,90.8 140.5,92.0 144.5,93.2 148.5,94.4 152.5,95.7 156.5,97.1 160.5,98.6 164.5,100.5 168.5,102.7 172.5,104.9 176.5,106.9 180.5,108.7 184.5,110.3 188.5,111.9 192.5,113.4 196.5,114.9 200.5,116.3 204.5,117.7 208.5,119.1 212.5,120.4 216.5,121.8 220.5,123.2 228.5,125.9 236.5,128.5 244.5,131.1 252.5,133.8 260.5,136.7 268.5,139.8 276.5,143.2 284.5,146.5 292.5,149.8 300.5,152.7 308.5,155.5 316.5,158.3 324.5,160.9 332.5,163.4 340.5,165.7 348.5,167.8 356.5,169.8 364.5,171.6 372.5,173.3 380.5,175.0 388.5,176.4 396.5,177.8 404.5,179.1 412.5,180.2 420.5,181.2 428.5,182.2 436.5,183.0 444.5,183.8 452.5,184.5 460.5,185.1 468.5,185.6 476.5,186.0 483.0,186.3" stroke="#a11099"/>
<polyline points="104.5,81.0 108.5,82.2 112.5,83.4 116.5,84.6 120.5,85.8 124.5,87.0 128.5,88.2 132.5,89.4 136.5,90.6 140.5,91.9 144.5,93.1 148.5,94.3 152.5,95.5 156.5,96.9 160.5,98.4 164.5,100.3 168.5,102.4 172.5,104.6 176.5,106.7 180.5,108.4 184.5,110.0 188.5,111.6 192.5,113.0 196.5,114.5 200.5,115.9 204.5,117.2 208.5,118.6 212.5,119.9 216.5,121.3 220.5,122.7 228.5,125.3 236.5,127.9 244.5,130.5 252.5,133.2 260.5,136.1 268.5,139.2 276.5,142.5 284.5,145.9 292.5,149.1 300.5,152.1 308.5,154.9 316.5,157.7 324.5,160.3 332.5,162.8 340.5,165.2 348.5,167.3 356.5,169.3 364.5,171.2 372.5,172.9 380.5,174.6 388.5,176.1 396.5,177.6 404.5,178.8 412.5,180.0 420.5,181.1 428.5,182.0 436.5,182.9 444.5,183.7 452.5,184.4 460.5,185.0 468.5,185.5 476.5,185.9 483.0,186.2" stroke="#a21193"/>
<polyline points="104.5,80.8 108.5,82.0 112.5,83.2 116.5,84.5 120.5,85.7 124.5,86.9 128.5,88.1 132.5,89.3 136.5,90.5 140.5,91.7 144.5,92.9 148.5,94.1 152.5,95.4 156.5,96.7 160.5,98.3 164.5,100.1 168.5,102.2 172.5,104.4 176.5,106.4 180.5,108.1 184.5,109.7 188.5,111.2 192.5,112.7 196.5,114.1 200.5,115.4 204.5,116.8 208.5,118.1 212.5,119.4 216.5,120.8 220.5,122.1 228.5,124.8 236.5,127.3 244.5,129.9 252.5,132.6 260.5,135.5 268.5,138.6 276.5,141.9 284.5,145.3 292.5,148.5 300.5,151.5 308.5,154.3 316.5,157.1 324.5,159.7 332.5,162.3 340.5,164.6 348.5,166.8 356.5,168.8 364.5,170.7 372.5,172.6 380.5,174.3 388.5,175.8 396.5,177.3 404.5,178.6 412.5,179.8 420.5,180.9 428.5,181.9 436.5,182.8 444.5,183.6 452.5,184.3 460.5,184.9 468.5,185.4 476.5,185.8 483.0,186.2" stroke="#a3118c"/>
<polyline points="104.5,80.7 108.5,81.9 112.5,83.1 116.5,84.3 120.5,85.5 124.5,86.7 128.5,87.9 132.5,89.1 136.5,90.3 140.5,91.6 144.5,92.8 148.5,94.0 152.5,95.2 156.5,96.6 160.5,98.1 164.5,99.9 168.5,102.0 172.5,104.2 176.5,106.2 180.5,107.9 184.5,109.5 188.5,110.9 192.5,112.4 196.5,113.7 200.5,115.0 204.5,116.3 208.5,117.6 212.5,118.9 216.5,120.3 220.5,121.6 228.5,124.2 236.5,126.8 244.5,129.4 252.5,132.0 260.5,134.9 268.5,138.0 276.5,141.4 284.5,144.7 292.5,148.0 300.5,150.9 308.5,153.8 316.5,156.5 324.5,159.2 332.5,161.7 340.5,164.1 348.5,166.3 356.5,168.3 364.5,170.3 372.5,172.2 380.5,173.9 388.5,175.5 396.5,177.0 404.5,178.4 412.5,179.7 420.5,180.8 428.5,181.8 436.5,182.7 444.5,183.5 452.5,184.2 460.5,184.8 468.5,185.3 476.5,185.8 483.0,186.1" stroke="#a41285"/>
<polyline points="104.5,80.5 108.5,81.8 112.5,83.0 116.5,84.2 120.5,85.4 124.5,86.6 128.5,87.8 132.5,89.0 136.5,90.2 140.5,91.5 144.5,92.6 148.5,93.8 152.5,95.1 156.5,96.4 160.5,97.9 164.5,99.8 168.5,101.9 172.5,104.0 176.5,106.0 180.5,107.7 184.5,109.2 188.5,110.6 192.5,112.0 196.5,113.4 200.5,114.7 204.5,115.9 208.5,117.2 212.5,118.5 216.5,119.8 220.5,121.1 228.5,123.7 236.5,126.3 244.5,128.8 252.5,131.5 260.5,134.3 268.5,137.5 276.5,140.8 284.5,144.1 292.5,147.4 300.5,150.4 308.5,153.2 316.5,156.0 324.5,158.6 332.5,161.2 340.5,163.6 348.5,165.8 356.5,167.9 364.5,169.9 372.5,171.8 380.5,173.6 388.5,175.2 396.5,176.8 404.5,178.2 412.5,179.5 420.5,180.7 428.5,181.7 436.5,182.6 444.5,183.4 452.5,184.1 460.5,184.7 468.5,185.2 476.5,185.7 483.0,186.0" stroke="#a5137e"/>
<polyline points="104.5,80.4 108.5,81.7 112.5,82.9 116.5,84.1 120.5,85.3 124.5,86.5 128.5,87.7 132.5,88.9 136.5,90.1 140.5,91.4 144.5,92.5 148.5,93.7 152.5,95.0 156.5,96.3 160.5,97.8 164.5,99.6 168.5,101.7 172.5,103.8 176.5,105.8 180.5,107.4 184.5,108.9 188.5,110.4 192.5,111.7 196.5,113.0 200.5,114.3 204.5,115.5 208.5,116.8 212.5,118.0 216.5,119.3 220.5,120.6 228.5,123.2 236.5,125.7 244.5,128.3 252.5,131.0 260.5,133.8 268.5,136.9 276.5,140.2 284.5,143.6 292.5,146.8 300.5,149.8 308.5,152.7 316.5,155.4 324.5,158.1 332.5,160.6 340.5,163.0 348.5,165.3 356.5,167.4 364.5,169.4 372.5,171.4 380.5,173.2 388.5,174.9 396.5,176.5 404.5,178.0 412.5,179.3 420.5,180.5 428.5,181.6 436.5,182.5 444.5,183.3 452.5,184.0 460.5,184.6 468.5,185.2 476.5,185.6 483.0,186.0" stroke="#a61377"/>
<polyline points="104.5,80.3 108.5,81.6 112.5,82.8 116.5,84.0 120.5,85.2 124.5,86.4 128.5,87.6 132.5,88.8 136.5,90.1 140.5,91.3 144.5,92.5 148.5,93.6 152.5,94.9 156.5,96.2 160.5,97.7 164.5,99.5 168.5,101.5 172.5,103.7 176.5,105.6 180.5,107.2 184.5,108.7 188.5,110.1 192.5,111.4 196.5,112.7 200.5,113.9 204.5,115.2 208.5,116.4 212.5,117.6 216.5,118.9 220.5,120.2 228.5,122.7 236.5,125.2 244.5,127.8 252.5,130.5 260.5,133.3 268.5,136.4 276.5,139.7 284.5,143.0 292.5,146.3 300.5,149.3 308.5,152.1 316.5,154.9 324.5,157.5 332.5,160.1 340.5,162.5 348.5,164.8 356.5,167.0 364.5,169.0 372.5,171.0 380.5,172.9 388.5,174.6 396.5,176.3 404.5,177.7 412.5,179.1 420.5,180.4 428.5,181.5 436.5,182.4 444.5,183.2 452.5,183.9 460.5,184.5 468.5,185.1 476.5,185.6 483.0,185.9" stroke="#a7146f"/>
<polyline points="104.5,80.2 108.5,81.5 112.5,82.7 116.5,83.9 120.5,85.1 124.5,86.3 128.5,87.5 132.5,88.8 136.5,90.0 140.5,91.2 144.5,92.4 148.5,93.5 152.5,94.8 156.5,96.1 160.5,97.5 164.5,99.3 168.5,101.4 172.5,103.5 176.5,105.4 180.5,107.0 184.5,108.5 188.5,109.8 192.5,111.1 196.5,112.4 200.5,113.6 204.5,114.8 208.5,116.0 212.5,117.2 216.5,118.4 220.5,119.7 228.5,122.2 236.5,124.7 244.5,127.3 252.5,129.9 260.5,132.8 268.5,135.9 276.5,139.2 284.5,142.5 292.5,145.8 300.5,148.8 308.5,151.6 316.5,154.3 324.5,157.0 332.5,159.6 340.5,162.0 348.5,164.3 356.5,166.5 364.5,168.6 372.5,170.6 380.5,172.5 388.5,174.3 396.5,176.0 404.5,177.5 412.5,178.9 420.5,180.2 428.5,181.3 436.5,182.3 444.5,183.1 452.5,183.8 460.5,184.4 468.5,185.0 476.5,185.5 483.0,185.9" stroke="#a81568"/>
<polyline points="104.5,80.1 108.5,81.4 112.5,82.6 116.5,83.8 120.5,85.0 124.5,86.2 128.5,87.5 132.5,88.7 136.5,89.9 140.5,91.1 144.5,92.3 148.5,93.5 152.5,94.7 156.5,96.0 160.5,97.4 164.5,99.2 168.5,101.3 172.5,103.3 176.5,105.2 180.5,106.8 184.5,108.2 188.5,109.6 192.5,110.9 196.5,112.1 200.5,113.2 204.5,114.4 208.5,115.6 212.5,116.8 216.5,118.0 220.5,119.2 228.5,121.8 236.5,124.3 244.5,126.8 252.5,129.5 260.5,132.3 268.5,135.4 276.5,138.7 284.5,142.0 292.5,145.2 300.5,148.2 308.5,151.0 316.5,153.8 324.5,156.5 332.5,159.0 340.5,161.5 348.5,163.8 356.5,166.0 364.5,168.1 372.5,170.2 380.5,172.2 388.5,174.0 396.5,175.7 404.5,177.3 412.5,178.8 420.5,180.1 428.5,181.2 436.5,182.2 444.5,183.0 452.5,183.7 460.5,184.3 468.5,184.9 476.5,185.5 483.0,185.9" stroke="#a91660"/>
<polyline points="104.5,80.1 108.5,81.3 112.5,82.5 116.5,83.7 120.5,85.0 124.5,86.2 128.5,87.4 132.5,88.6 136.5,89.8 140.5,91.1 144.5,92.2 148.5,93.4 152.5,94.6 156.5,95.9 160.5,97.3 164.5,99.1 168.5,101.1 172.5,103.2 176.5,105.1 180.5,106.6 184.5,108.0 188.5,109.3 192.5,110.6 196.5,111.8 200.5,112.9 204.5,114.0 208.5,115.2 212.5,116.3 216.5,117.5 220.5,118.8 228.5,121.3 236.5,123.8 244.5,126.3 252.5,129.0 260.5,131.8 268.5,134.9 276.5,138.1 284.5,141.5 292.5,144.7 300.5,147.7 308.5,150.5 316.5,153.3 324.5,155.9 332.5,158.5 340.5,160.9 348.5,163.3 356.5,165.5 364.5,167.7 372.5,169.8 380.5,171.8 388.5,173.7 396.5,175.4 404.5,177.1 412.5,178.6 420.5,180.0 428.5,181.1 436.5,182.1 444.5,182.9 452.5,183.6 460.5,184.3 468.5,184.9 476.5,185.4 483.0,185.8" stroke="#aa1658"/>
<polyline points="104.5,80.0 108.5,81.2 112.5,82.4 116.5,83.7 120.5,84.9 124.5,86.1 128.5,87.3 132.5,88.5 136.5,89.8 140.5,91.0 144.5,92.1 148.5,93.3 152.5,94.5 156.5,95.8 160.5,97.2 164.5,99.0 168.5,101.0 172.5,103.1 176.5,104.9 180.5,106.4 184.5,107.8 188.5,109.1 192.5,110.3 196.5,111.5 200.5,112.6 204.5,113.7 208.5,114.8 212.5,115.9 216.5,117.1 220.5,118.4 228.5,120.8 236.5,123.3 244.5,125.8 252.5,128.5 260.5,131.3 268.5,134.4 276.5,137.6 284.5,141.0 292.5,144.2 300.5,147.2 308.5,150.0 316.5,152.7 324.5,155.4 332.5,157.9 340.5,160.4 348.5,162.7 356.5,165.0 364.5,167.2 372.5,169.4 380.5,171.4 388.5,173.4 396.5,175.2 404.5,176.8 412.5,178.4 420.5,179.8 428.5,181.0 436.5,182.0 444.5,182.8 452.5,183.5 460.5,184.2 468.5,184.8 476.5,185.4 483.0,185.8" stroke="#ab1750"/>
<polyline points="104.5,79.9 108.5,81.1 112.5,82.4 116.5,83.6 120.5,84.8 124.5,86.0 128.5,87.3 132.5,88.5 136.5,89.7 140.5,90.9 144.5,92.1 148.5,93.2 152.5,94.4 156.5,95.7 160.5,97.1 164.5,98.9 168.5,100.9 172.5,102.9 176.5,104.8 180.5,106.3 184.5,107.6 188.5,108.9 192.5,110.0 196.5,111.2 200.5,112.3 204.5,113.3 208.5,114.4 212.5,115.5 216.5,116.7 220.5,117.9 228.5,120.4 236.5,122.8 244.5,125.4 252.5,128.0 260.5,130.8 268.5,133.9 276.5,137.2 284.5,140.5 292.5,143.7 300.5,146.7 308.5,149.5 316.5,152.2 324.5,154.9 332.5,157.4 340.5,159.9 348.5,162.2 356.5,164.5 364.5,166.8 372.5,169.0 380.5,171.1 388.5,173.1 396.5,174.9 404.5,176.6 412.5,178.2 420.5,179.7 428.5,180.9 436.5,181.9 444.5,182.7 452.5,183.4 460.5,184.1 468.5,184.7 476.5,185.3 483.0,185.7" stroke="#ac1848"/>
<polyline points="104.5,79.8 108.5,81.0 112.5,82.3 116.5,83.5 120.5,84.7 124.5,86.0 128.5,87.2 132.5,88.4 136.5,89.7 140.5,90.9 144.5,92.0 148.5,93.2 152.5,94.3 156.5,95.6 160.5,97.0 164.5,98.8 168.5,100.8 172.5,102.8 176.5,104.6 180.5,106.1 184.5,107.4 188.5,108.6 192.5,109.8 196.5,110.9 200.5,112.0 204.5,113.0 208.5,114.1 212.5,115.2 216.5,116.3 220.5,117.5 228.5,119.9 236.5,122.4 244.5,124.9 252.5,127.6 260.5,130.4 268.5,133.4 276.5,136.7 284.5,140.0 292.5,143.2 300.5,146.2 308.5,149.0 316.5,151.7 324.5,154.3 332.5,156.9 340.5,159.3 348.5,161.7 356.5,164.1 364.5,166.3 372.5,168.6 380.5,170.7 388.5,172.8 396.5,174.6 404.5,176.4 412.5,178.0 420.5,179.6 428.5,180.8 436.5,181.8 444.5,182.6 452.5,183.3 460.5,184.0 468.5,184.7 476.5,185.2 483.0,185.7" stroke="#ad1940"/>
<polyline points="104.5,79.7 108.5,81.0 112.5,82.2 116.5,83.4 120.5,84.7 124.5,85.9 128.5,87.1 132.5,88.4 136.5,89.6 140.5,90.8 144.5,92.0 148.5,93.1 152.5,94.3 156.5,95.5 160.5,96.9 164.5,98.7 168.5,100.7 172.5,102.7 176.5,104.5 180.5,105.9 184.5,107.2 188.5,108.4 192.5,109.6 196.5,110.6 200.5,111.7 204.5,112.7 208.5,113.7 212.5,114.8 216.5,115.9 220.5,117.1 228.5,119.5 236.5,122.0 244.5,124.5 252.5,127.1 260.5,129.9 268.5,133.0 276.5,136.2 284.5,139.5 292.5,142.7 300.5,145.7 308.5,148.5 316.5,151.2 324.5,153.8 332.5,156.4 340.5,158.8 348.5,161.2 356.5,163.6 364.5,165.9 372.5,168.2 380.5,170.4 388.5,172.5 396.5,174.4 404.5,176.2 412.5,177.9 420.5,179.4 428.5,180.7 436.5,181.7 444.5,182.5 452.5,183.3 460.5,183.9 468.5,184.6 476.5,185.2 483.0,185.6" stroke="#ae1a37"/>
<polyline points="104.5,79.7 108.5,80.9 112.5,82.2 116.5,83.4 120.5,84.6 124.5,85.9 128.5,87.1 132.5,88.3 136.5,89.6 140.5,90.8 144.5,91.9 148.5,93.0 152.5,94.2 156.5,95.5 160.5,96.9 164.5,98.6 168.5,100.6 172.5,102.6 176.5,104.3 180.5,105.8 184.5,107.0 188.5,108.2 192.5,109.3 196.5,110.4 200.5,111.4 204.5,112.4 208.5,113.4 212.5,114.5 216.5,115.6 220.5,116.7 228.5,119.1 236.5,121.6 244.5,124.1 252.5,126.7 260.5,129.5 268.5,132.5 276.5,135.8 284.5,139.1 292.5,142.3 300.5,145.3 308.5,148.1 316.5,150.7 324.5,153.4 332.5,155.9 340.5,158.4 348.5,160.8 356.5,163.1 364.5,165.5 372.5,167.8 380.5,170.0 388.5,172.2 396.5,174.1 404.5,176.0 412.5,177.7 420.5,179.3 428.5,180.6 436.5,181.6 444.5,182.4 452.5,183.2 460.5,183.9 468.5,184.5 476.5,185.2 483.0,185.6" stroke="#af1b2f"/>
<polyline points="104.5,79.6 108.5,80.9 112.5,82.1 116.5,83.3 120.5,84.6 124.5,85.8 128.5,87.1 132.5,88.3 136.5,89.5 140.5,90.7 144.5,91.9 148.5,93.0 152.5,94.2 156.5,95.4 160.5,96.8 164.5,98.5 168.5,100.5 172.5,102.4 176.5,104.2 180.5,105.6 184.5,106.9 188.5,108.0 192.5,109.1 196.5,110.1 200.5,111.1 204.5,112.1 208.5,113.1 212.5,114.1 216.5,115.2 220.5,116.4 228.5,118.7 236.5,121.2 244.5,123.7 252.5,126.3 260.5,129.1 268.5,132.1 276.5,135.3 284.5,138.6 292.5,141.8 300.5,144.8 308.5,147.6 316.5,150.3 324.5,152.9 332.5,155.4 340.5,157.9 348.5,160.3 356.5,162.7 364.5,165.1 372.5,167.5 380.5,169.7 388.5,171.9 396.5,173.9 404.5,175.8 412.5,177.5 420.5,179.2 428.5,180.5 436.5,181.5 444.5,182.4 452.5,183.1 460.5,183.8 468.5,184.5 476.5,185.1 483.0,185.6" stroke="#b01b27"/>
<polyline points="104.5,79.6 108.5,80.8 112.5,82.1 116.5,83.3 120.5,84.5 124.5,85.8 128.5,87.0 132.5,88.2 136.5,89.5 140.5,90.7 144.5,91.8 148.5,92.9 152.5,94.1 156.5,95.4 160.5,96.7 164.5,98.4 168.5,100.4 172.5,102.3 176.5,104.1 180.5,105.5 184.5,106.7 188.5,107.8 192.5,108.9 196.5,109.9 200.5,110.9 204.5,111.8 208.5,112.8 212.5,113.8 216.5,114.9 220.5,116.0 228.5,118.4 236.5,120.8 244.5,123.3 252.5,125.9 260.5,128.7 268.5,131.7 276.5,134.9 284.5,138.2 292.5,141.4 300.5,144.4 308.5,147.2 316.5,149.9 324.5,152.5 332.5,155.0 340.5,157.5 348.5,159.9 356.5,162.3 364.5,164.8 372.5,167.1 380.5,169.4 388.5,171.6 396.5,173.7 404.5,175.6 412.5,177.4 420.5,179.1 428.5,180.4 436.5,181.4 444.5,182.3 452.5,183.0 460.5,183.7 468.5,184.4 476.5,185.1 483.0,185.6" stroke="#b11c1f"/>
<polyline points="104.5,79.5 108.5,80.8 112.5,82.0 116.5,83.3 120.5,84.5 124.5,85.7 128.5,87.0 132.5,88.2 136.5,89.4 140.5,90.6 144.5,91.8 148.5,92.9 152.5,94.1 156.5,95.3 160.5,96.7 164.5,98.4 168.5,100.3 172.5,102.2 176.5,104.0 180.5,105.3 184.5,106.5 188.5,107.7 192.5,108.7 196.5,109.7 200.5,110.6 204.5,111.6 208.5,112.5 212.5,113.5 216.5,114.6 220.5,115.7 228.5,118.0 236.5,120.4 244.5,122.9 252.5,125.5 260.5,128.3 268.5,131.3 276.5,134.5 284.5,137.8 292.5,141.0 300.5,144.0 308.5,146.8 316.5,149.5 324.5,152.1 332.5,154.6 340.5,157.1 348.5,159.5 356.5,162.0 364.5,164.4 372.5,166.8 380.5,169.2 388.5,171.4 396.5,173.4 404.5,175.4 412.5,177.2 420.5,178.9 428.5,180.3 436.5,181.4 444.5,182.2 452.5,183.0 460.5,183.7 468.5,184.4 476.5,185.0 483.0,185.5" stroke="#b21d17"/>
<polyline points="104.5,79.5 108.5,80.7 112.5,82.0 116.5,83.2 120.5,84.5 124.5,85.7 128.5,86.9 132.5,88.2 136.5,89.4 140.5,90.6 144.5,91.7 148.5,92.9 152.5,94.0 156.5,95.3 160.5,96.6 164.5,98.3 168.5,100.2 172.5,102.1 176.5,103.8 180.5,105.2 184.5,106.4 188.5,107.5 192.5,108.5 196.5,109.5 200.5,110.4 204.5,111.3 208.5,112.3 212.5,113.2 216.5,114.3 220.5,115.4 228.5,117.7 236.5,120.1 244.5,122.6 252.5,125.2 260.5,127.9 268.5,130.9 276.5,134.1 284.5,137.4 292.5,140.6 300.5,143.6 308.5,146.4 316.5,149.1 324.5,151.7 332.5,154.2 340.5,156.7 348.5,159.2 356.5,161.7 364.5,164.1 372.5,166.5 380.5,168.9 388.5,171.1 396.5,173.2 404.5,175.2 412.5,177.1 420.5,178.8 428.5,180.3 436.5,181.3 444.5,182.2 452.5,182.9 460.5,183.6 468.5,184.4 476.5,185.0 483.0,185.5" stroke="#b31e0f"/>
<polyline points="104.5,79.5 108.5,80.7 112.5,81.9 116.5,83.2 120.5,84.4 124.5,85.7 128.5,86.9 132.5,88.1 136.5,89.4 140.5,90.6 144.5,91.7 148.5,92.8 152.5,94.0 156.5,95.2 160.5,96.6 164.5,98.3 168.5,100.1 172.5,102.0 176.5,103.7 180.5,105.1 184.5,106.2 188.5,107.3 192.5,108.3 196.5,109.3 200.5,110.2 204.5,111.1 208.5,112.0 212.5,113.0 216.5,114.0 220.5,115.1 228.5,117.4 236.5,119.8 244.5,122.3 252.5,124.8 260.5,127.6 268.5,130.6 276.5,133.8 284.5,137.0 292.5,140.2 300.5,143.2 308.5,146.0 316.5,148.7 324.5,151.3 332.5,153.9 340.5,156.4 348.5,158.9 356.5,161.4 364.5,163.8 372.5,166.3 380.5,168.7 388.5,170.9 396.5,173.1 404.5,175.0 412.5,177.0 420.5,178.7 428.5,180.2 436.5,181.2 444.5,182.1 452.5,182.9 460.5,183.6 468.5,184.3 476.5,185.0 483.0,185.5" stroke="#b41f07"/>
<polyline points="104.5,79.4 108.5,80.7 112.5,81.9 116.5,83.2 120.5,84.4 124.5,85.6 128.5,86.9 132.5,88.1 136.5,89.3 140.5,90.5 144.5,91.7 148.5,92.8 152.5,93.9 156.5,95.2 160.5,96.5 164.5,98.2 168.5,100.1 172.5,102.0 176.5,103.6 180.5,104.9 184.5,106.1 188.5,107.2 192.5,108.2 196.5,109.1 200.5,110.0 204.5,110.9 208.5,111.8 212.5,112.8 216.5,113.8 220.5,114.9 228.5,117.1 236.5,119.5 244.5,121.9 252.5,124.5 260.5,127.2 268.5,130.2 276.5,133.4 284.5,136.7 292.5,139.9 300.5,142.8 308.5,145.6 316.5,148.3 324.5,151.0 332.5,153.6 340.5,156.1 348.5,158.6 356.5,161.1 364.5,163.6 372.5,166.0 380.5,168.4 388.5,170.7 396.5,172.9 404.5,174.9 412.5,176.8 420.5,178.6 428.5,180.1 436.5,181.2 444.5,182.1 452.5,182.8 460.5,183.6 468.5,184.3 476.5,185.0 483.0,185.5" stroke="#b42000"/>
<polyline points="104.5,79.4 108.5,80.6 112.5,81.9 116.5,83.1 120.5,84.4 124.5,85.6 128.5,86.8 132.5,88.1 136.5,89.3 140.5,90.5 144.5,91.6 148.5,92.8 152.5,93.9 156.5,95.1 160.5,96.5 164.5,98.2 168.5,100.0 172.5,101.9 176.5,103.5 180.5,104.8 184.5,106.0 188.5,107.0 192.5,108.0 196.5,108.9 200.5,109.8 204.5,110.7 208.5,111.6 212.5,112.5 216.5,113.5 220.5,114.6 228.5,116.9 236.5,119.2 244.5,121.7 252.5,124.2 260.5,126.9 268.5,129.9 276.5,133.1 284.5,136.3 292.5,139.5 300.5,142.5 308.5,145.3 316.5,148.0 324.5,150.7 332.5,153.2 340.5,155.8 348.5,158.3 356.5,160.8 364.5,163.3 372.5,165.8 380.5,168.2 388.5,170.5 396.5,172.7 404.5,174.7 412.5,176.7 420.5,178.5 428.5,180.0 436.5,181.1 444.5,182.0 452.5,182.8 460.5,183.5 468.5,184.2 476.5,184.9 483.0,185.4" stroke="#b52100"/>
<polyline points="104.5,79.4 108.5,80.6 112.5,81.9 116.5,83.1 120.5,84.3 124.5,85.6 128.5,86.8 132.5,88.1 136.5,89.3 140.5,90.5 144.5,91.6 148.5,92.7 152.5,93.9 156.5,95.1 160.5,96.5 164.5,98.1 168.5,100.0 172.5,101.8 176.5,103.4 180.5,104.7 184.5,105.9 188.5,106.9 192.5,107.8 196.5,108.8 200.5,109.6 204.5,110.5 208.5,111.4 212.5,112.3 216.5,113.3 220.5,114.4 228.5,116.6 236.5,118.9 244.5,121.4 252.5,123.9 260.5,126.6 268.5,129.6 276.5,132.7 284.5,136.0 292.5,139.2 300.5,142.2 308.5,145.0 316.5,147.7 324.5,150.3 332.5,152.9 340.5,155.5 348.5,158.0 356.5,160.5 364.5,163.1 372.5,165.6 380.5,168.0 388.5,170.3 396.5,172.5 404.5,174.6 412.5,176.6 420.5,178.5 428.5,180.0 436.5,181.1 444.5,181.9 452.5,182.7 460.5,183.5 468.5,184.2 476.5,184.9 483.0,185.4" stroke="#b62200"/>
<polyline points="104.5,79.4 108.5,80.6 112.5,81.8 116.5,83.1 120.5,84.3 124.5,85.6 128.5,86.8 132.5,88.0 136.5,89.3 140.5,90.5 144.5,91.6 148.5,92.7 152.5,93.9 156.5,95.1 160.5,96.4 164.5,98.1 168.5,99.9 172.5,101.7 176.5,103.3 180.5,104.6 184.5,105.7 188.5,106.8 192.5,107.7 196.5,108.6 200.5,109.5 204.5,110.3 208.5,111.2 212.5,112.1 216.5,113.1 220.5,114.2 228.5,116.4 236.5,118.7 244.5,121.1 252.5,123.6 260.5,126.3 268.5,129.3 276.5,132.4 284.5,135.7 292.5,138.8 300.5,141.8 308.5,144.6 316.5,147.4 324.5,150.0 332.5,152.6 340.5,155.2 348.5,157.7 356.5,160.3 364.5,162.8 372.5,165.3 380.5,167.8 388.5,170.1 396.5,172.3 404.5,174.4 412.5,176.5 420.5,178.4 428.5,179.9 436.5,181.0 444.5,181.9 452.5,182.7 460.5,183.4 468.5,184.2 476.5,184.9 483.0,185.4" stroke="#b72300"/>
<polyline points="104.5,79.3 108.5,80.6 112.5,81.8 116.5,83.1 120.5,84.3 124.5,85.5 128.5,86.8 132.5,88.0 136.5,89.2 140.5,90.4 144.5,91.6 148.5,92.7 152.5,93.8 156.5,95.1 160.5,96.4 164.5,98.0 168.5,99.8 172.5,101.6 176.5,103.2 180.5,104.5 184.5,105.6 188.5,106.6 192.5,107.6 196.5,108.4 200.5,109.3 204.5,110.1 208.5,111.0 212.5,111.9 216.5,112.9 220.5,113.9 228.5,116.1 236.5,118.4 244.5,120.8 252.5,123.3 260.5,126.0 268.5,128.9 276.5,132.1 284.5,135.3 292.5,138.5 300.5,141.5 308.5,144.3 316.5,147.1 324.5,149.7 332.5,152.4 340.5,154.9 348.5,157.5 356.5,160.0 364.5,162.6 372.5,165.1 380.5,167.6 388.5,169.9 396.5,172.2 404.5,174.3 412.5,176.4 420.5,178.3 428.5,179.8 436.5,180.9 444.5,181.8 452.5,182.6 460.5,183.4 468.5,184.2 476.5,184.9 483.0,185.4" stroke="#b82400"/>
</g>
<polyline points="104.5,79.34 106.5,79.96 108.5,80.58 110.5,81.20 112.5,81.82 114.5,82.44 116.5,83.06 118.5,83.67 120.5,84.30 122.5,84.92 124.5,85.54 126.5,86.16 128.5,86.78 130.5,87.40 132.5,88.02 134.5,88.63 136.5,89.24 138.5,89.85 140.5,90.44 142.5,91.01 144.5,91.58 146.5,92.14 148.5,92.65 150.5,93.16 152.5,93.64 154.5,94.02 156.5,94.37 158.5,94.77 160.5,95.22 162.5,95.80 164.5,96.49 166.5,97.25 168.5,98.02 170.5,98.71 172.5,99.07" stroke="url(#eg)"/>

<g clip-path="url(#cp)">
<polyline points="104.5,79.3 108.5,80.6 112.5,81.8 116.5,83.1 120.5,84.3 124.5,85.5 128.5,86.8 132.5,88.0 136.5,89.2 140.5,90.4 144.5,91.6 148.5,92.7 152.5,93.8 156.5,95.0 160.5,96.4 164.5,98.0 168.5,99.8 172.5,101.6 176.5,103.1 180.5,104.4 184.5,105.5 188.5,106.5 192.5,107.4 196.5,108.3 200.5,109.1 204.5,109.9 208.5,110.8 212.5,111.7 216.5,112.7 220.5,113.7 228.5,115.9 236.5,118.1 244.5,120.5 252.5,123.0 260.5,125.7 268.5,128.6 276.5,131.8 284.5,135.0 292.5,138.2 300.5,141.2 308.5,144.0 316.5,146.7 324.5,149.4 332.5,152.1 340.5,154.7 348.5,157.2 356.5,159.8 364.5,162.3 372.5,164.9 380.5,167.4 388.5,169.7 396.5,172.0 404.5,174.1 412.5,176.2 420.5,178.2 428.5,179.8 436.5,180.9 444.5,181.8 452.5,182.6 460.5,183.4 468.5,184.1 476.5,184.8 483.0,185.4" stroke="#b92500"/>
<polyline points="104.5,79.3 108.5,80.6 112.5,81.8 116.5,83.1 120.5,84.3 124.5,85.5 128.5,86.8 132.5,88.0 136.5,89.2 140.5,90.4 144.5,91.6 148.5,92.7 152.5,93.8 156.5,95.0 160.5,96.4 164.5,97.9 168.5,99.7 172.5,101.5 176.5,103.1 180.5,104.3 184.5,105.4 188.5,106.4 192.5,107.3 196.5,108.1 200.5,108.9 204.5,109.8 208.5,110.6 212.5,111.5 216.5,112.4 220.5,113.5 228.5,115.6 236.5,117.9 244.5,120.3 252.5,122.8 260.5,125.4 268.5,128.3 276.5,131.5 284.5,134.7 292.5,137.9 300.5,140.9 308.5,143.7 316.5,146.4 324.5,149.1 332.5,151.8 340.5,154.4 348.5,157.0 356.5,159.5 364.5,162.1 372.5,164.7 380.5,167.2 388.5,169.6 396.5,171.8 404.5,174.0 412.5,176.1 420.5,178.1 428.5,179.7 436.5,180.8 444.5,181.8 452.5,182.6 460.5,183.3 468.5,184.1 476.5,184.8 483.0,185.4" stroke="#ba2600"/>
<polyline points="104.5,79.4 108.5,80.6 112.5,81.8 116.5,83.1 120.5,84.3 124.5,85.6 128.5,86.8 132.5,88.0 136.5,89.3 140.5,90.4 144.5,91.6 148.5,92.7 152.5,93.8 156.5,95.0 160.5,96.3 164.5,97.9 168.5,99.7 172.5,101.4 176.5,103.0 180.5,104.2 184.5,105.3 188.5,106.2 192.5,107.1 196.5,108.0 200.5,108.8 204.5,109.6 208.5,110.4 212.5,111.3 216.5,112.2 220.5,113.2 228.5,115.4 236.5,117.6 244.5,120.0 252.5,122.5 260.5,125.1 268.5,128.0 276.5,131.2 284.5,134.4 292.5,137.6 300.5,140.5 308.5,143.4 316.5,146.1 324.5,148.8 332.5,151.5 340.5,154.1 348.5,156.7 356.5,159.3 364.5,161.9 372.5,164.4 380.5,167.0 388.5,169.4 396.5,171.7 404.5,173.8 412.5,176.0 420.5,178.0 428.5,179.6 436.5,180.8 444.5,181.7 452.5,182.5 460.5,183.3 468.5,184.1 476.5,184.8 483.0,185.4" stroke="#bb2700"/>
<polyline points="104.5,79.4 108.5,80.6 112.5,81.9 116.5,83.1 120.5,84.3 124.5,85.6 128.5,86.8 132.5,88.1 136.5,89.3 140.5,90.5 144.5,91.6 148.5,92.7 152.5,93.8 156.5,95.0 160.5,96.3 164.5,97.9 168.5,99.6 172.5,101.4 176.5,102.9 180.5,104.1 184.5,105.1 188.5,106.1 192.5,107.0 196.5,107.8 200.5,108.6 204.5,109.4 208.5,110.2 212.5,111.1 216.5,112.0 220.5,113.0 228.5,115.1 236.5,117.4 244.5,119.7 252.5,122.2 260.5,124.8 268.5,127.7 276.5,130.9 284.5,134.1 292.5,137.2 300.5,140.2 308.5,143.1 316.5,145.8 324.5,148.5 332.5,151.2 340.5,153.8 348.5,156.4 356.5,159.0 364.5,161.6 372.5,164.2 380.5,166.7 388.5,169.2 396.5,171.5 404.5,173.7 412.5,175.9 420.5,177.9 428.5,179.6 436.5,180.7 444.5,181.7 452.5,182.5 460.5,183.3 468.5,184.1 476.5,184.8 483.0,185.3" stroke="#bc2800"/>
<polyline points="104.5,79.4 108.5,80.7 112.5,81.9 116.5,83.1 120.5,84.4 124.5,85.6 128.5,86.8 132.5,88.1 136.5,89.3 140.5,90.5 144.5,91.6 148.5,92.7 152.5,93.8 156.5,95.0 160.5,96.3 164.5,97.8 168.5,99.6 172.5,101.3 176.5,102.8 180.5,104.0 184.5,105.0 188.5,106.0 192.5,106.8 196.5,107.7 200.5,108.4 204.5,109.2 208.5,110.0 212.5,110.9 216.5,111.8 220.5,112.8 228.5,114.9 236.5,117.1 244.5,119.5 252.5,121.9 260.5,124.5 268.5,127.4 276.5,130.6 284.5,133.8 292.5,136.9 300.5,139.9 308.5,142.8 316.5,145.5 324.5,148.3 332.5,150.9 340.5,153.6 348.5,156.2 356.5,158.8 364.5,161.4 372.5,164.0 380.5,166.5 388.5,169.0 396.5,171.3 404.5,173.6 412.5,175.8 420.5,177.8 428.5,179.5 436.5,180.7 444.5,181.6 452.5,182.4 460.5,183.2 468.5,184.0 476.5,184.8 483.0,185.3" stroke="#bc2900"/>
<polyline points="104.5,79.5 108.5,80.7 112.5,81.9 116.5,83.2 120.5,84.4 124.5,85.6 128.5,86.9 132.5,88.1 136.5,89.3 140.5,90.5 144.5,91.6 148.5,92.7 152.5,93.8 156.5,95.0 160.5,96.3 164.5,97.8 168.5,99.5 172.5,101.2 176.5,102.7 180.5,103.9 184.5,104.9 188.5,105.8 192.5,106.7 196.5,107.5 200.5,108.3 204.5,109.1 208.5,109.9 212.5,110.7 216.5,111.6 220.5,112.6 228.5,114.7 236.5,116.9 244.5,119.2 252.5,121.7 260.5,124.3 268.5,127.1 276.5,130.3 284.5,133.5 292.5,136.6 300.5,139.6 308.5,142.5 316.5,145.2 324.5,148.0 332.5,150.7 340.5,153.3 348.5,155.9 356.5,158.6 364.5,161.2 372.5,163.8 380.5,166.3 388.5,168.8 396.5,171.2 404.5,173.4 412.5,175.7 420.5,177.8 428.5,179.4 436.5,180.6 444.5,181.6 452.5,182.4 460.5,183.2 468.5,184.0 476.5,184.7 483.0,185.3" stroke="#bd2b00"/>
<polyline points="104.5,79.5 108.5,80.7 112.5,82.0 116.5,83.2 120.5,84.4 124.5,85.7 128.5,86.9 132.5,88.1 136.5,89.3 140.5,90.5 144.5,91.6 148.5,92.7 152.5,93.8 156.5,95.0 160.5,96.3 164.5,97.8 168.5,99.5 172.5,101.2 176.5,102.6 180.5,103.8 184.5,104.8 188.5,105.7 192.5,106.6 196.5,107.4 200.5,108.1 204.5,108.9 208.5,109.7 212.5,110.5 216.5,111.4 220.5,112.4 228.5,114.5 236.5,116.6 244.5,119.0 252.5,121.4 260.5,124.0 268.5,126.9 276.5,130.0 284.5,133.2 292.5,136.3 300.5,139.3 308.5,142.2 316.5,144.9 324.5,147.7 332.5,150.4 340.5,153.1 348.5,155.7 356.5,158.3 364.5,161.0 372.5,163.6 380.5,166.2 388.5,168.6 396.5,171.0 404.5,173.3 412.5,175.6 420.5,177.7 428.5,179.4 436.5,180.6 444.5,181.5 452.5,182.4 460.5,183.2 468.5,184.0 476.5,184.7 483.0,185.3" stroke="#be2c00"/>
<polyline points="104.5,79.6 108.5,80.8 112.5,82.0 116.5,83.2 120.5,84.5 124.5,85.7 128.5,86.9 132.5,88.2 136.5,89.4 140.5,90.5 144.5,91.6 148.5,92.7 152.5,93.8 156.5,95.0 160.5,96.3 164.5,97.8 168.5,99.4 172.5,101.1 176.5,102.6 180.5,103.7 184.5,104.7 188.5,105.6 192.5,106.4 196.5,107.2 200.5,108.0 204.5,108.7 208.5,109.5 212.5,110.3 216.5,111.2 220.5,112.2 228.5,114.2 236.5,116.4 244.5,118.7 252.5,121.1 260.5,123.7 268.5,126.6 276.5,129.7 284.5,132.9 292.5,136.0 300.5,139.0 308.5,141.9 316.5,144.7 324.5,147.4 332.5,150.1 340.5,152.8 348.5,155.5 356.5,158.1 364.5,160.8 372.5,163.4 380.5,166.0 388.5,168.5 396.5,170.8 404.5,173.1 412.5,175.5 420.5,177.6 428.5,179.3 436.5,180.5 444.5,181.5 452.5,182.3 460.5,183.2 468.5,184.0 476.5,184.7 483.0,185.3" stroke="#bf2d00"/>
<polyline points="104.5,79.6 108.5,80.8 112.5,82.1 116.5,83.3 120.5,84.5 124.5,85.7 128.5,87.0 132.5,88.2 136.5,89.4 140.5,90.6 144.5,91.7 148.5,92.7 152.5,93.8 156.5,95.0 160.5,96.2 164.5,97.7 168.5,99.4 172.5,101.0 176.5,102.5 180.5,103.6 184.5,104.6 188.5,105.5 192.5,106.3 196.5,107.1 200.5,107.8 204.5,108.6 208.5,109.3 212.5,110.2 216.5,111.0 220.5,112.0 228.5,114.0 236.5,116.2 244.5,118.5 252.5,120.9 260.5,123.5 268.5,126.3 276.5,129.4 284.5,132.6 292.5,135.7 300.5,138.7 308.5,141.6 316.5,144.4 324.5,147.2 332.5,149.9 340.5,152.6 348.5,155.2 356.5,157.9 364.5,160.6 372.5,163.2 380.5,165.8 388.5,168.3 396.5,170.7 404.5,173.0 412.5,175.4 420.5,177.5 428.5,179.3 436.5,180.5 444.5,181.5 452.5,182.3 460.5,183.1 468.5,183.9 476.5,184.7 483.0,185.3" stroke="#c02e00"/>
<polyline points="104.5,79.7 108.5,80.9 112.5,82.1 116.5,83.3 120.5,84.6 124.5,85.8 128.5,87.0 132.5,88.2 136.5,89.4 140.5,90.6 144.5,91.7 148.5,92.7 152.5,93.8 156.5,95.0 160.5,96.2 164.5,97.7 168.5,99.4 172.5,101.0 176.5,102.4 180.5,103.5 184.5,104.5 188.5,105.4 192.5,106.2 196.5,107.0 200.5,107.7 204.5,108.4 208.5,109.2 212.5,110.0 216.5,110.9 220.5,111.8 228.5,113.8 236.5,116.0 244.5,118.3 252.5,120.7 260.5,123.2 268.5,126.1 276.5,129.1 284.5,132.3 292.5,135.5 300.5,138.5 308.5,141.3 316.5,144.1 324.5,146.9 332.5,149.6 340.5,152.3 348.5,155.0 356.5,157.7 364.5,160.4 372.5,163.0 380.5,165.6 388.5,168.1 396.5,170.5 404.5,172.9 412.5,175.3 420.5,177.4 428.5,179.2 436.5,180.4 444.5,181.4 452.5,182.3 460.5,183.1 468.5,183.9 476.5,184.7 483.0,185.3" stroke="#c12f00"/>
<polyline points="104.5,79.7 108.5,81.0 112.5,82.2 116.5,83.4 120.5,84.6 124.5,85.8 128.5,87.1 132.5,88.3 136.5,89.5 140.5,90.6 144.5,91.7 148.5,92.8 152.5,93.8 156.5,95.0 160.5,96.2 164.5,97.7 168.5,99.3 172.5,100.9 176.5,102.3 180.5,103.5 184.5,104.4 188.5,105.3 192.5,106.1 196.5,106.8 200.5,107.6 204.5,108.3 208.5,109.0 212.5,109.8 216.5,110.7 220.5,111.6 228.5,113.6 236.5,115.8 244.5,118.0 252.5,120.4 260.5,123.0 268.5,125.8 276.5,128.9 284.5,132.1 292.5,135.2 300.5,138.2 308.5,141.1 316.5,143.9 324.5,146.7 332.5,149.4 340.5,152.1 348.5,154.8 356.5,157.5 364.5,160.2 372.5,162.8 380.5,165.4 388.5,168.0 396.5,170.4 404.5,172.8 412.5,175.2 420.5,177.4 428.5,179.1 436.5,180.4 444.5,181.4 452.5,182.2 460.5,183.1 468.5,183.9 476.5,184.7 483.0,185.3" stroke="#c13100"/>
<polyline points="104.5,79.8 108.5,81.0 112.5,82.2 116.5,83.4 120.5,84.7 124.5,85.9 128.5,87.1 132.5,88.3 136.5,89.5 140.5,90.6 144.5,91.7 148.5,92.8 152.5,93.8 156.5,95.0 160.5,96.2 164.5,97.7 168.5,99.3 172.5,100.9 176.5,102.3 180.5,103.4 184.5,104.3 188.5,105.2 192.5,106.0 196.5,106.7 200.5,107.4 204.5,108.2 208.5,108.9 212.5,109.7 216.5,110.5 220.5,111.5 228.5,113.5 236.5,115.6 244.5,117.8 252.5,120.2 260.5,122.7 268.5,125.6 276.5,128.6 284.5,131.8 292.5,134.9 300.5,137.9 308.5,140.8 316.5,143.6 324.5,146.4 332.5,149.2 340.5,151.9 348.5,154.6 356.5,157.3 364.5,160.0 372.5,162.6 380.5,165.3 388.5,167.8 396.5,170.3 404.5,172.6 412.5,175.1 420.5,177.3 428.5,179.1 436.5,180.3 444.5,181.3 452.5,182.2 460.5,183.0 468.5,183.9 476.5,184.7 483.0,185.2" stroke="#c23200"/>
<polyline points="104.5,79.9 108.5,81.1 112.5,82.3 116.5,83.5 120.5,84.7 124.5,85.9 128.5,87.1 132.5,88.4 136.5,89.5 140.5,90.7 144.5,91.7 148.5,92.8 152.5,93.8 156.5,95.0 160.5,96.2 164.5,97.6 168.5,99.2 172.5,100.8 176.5,102.2 180.5,103.3 184.5,104.2 188.5,105.1 192.5,105.9 196.5,106.6 200.5,107.3 204.5,108.0 208.5,108.8 212.5,109.5 216.5,110.4 220.5,111.3 228.5,113.3 236.5,115.4 244.5,117.6 252.5,120.0 260.5,122.5 268.5,125.3 276.5,128.4 284.5,131.6 292.5,134.7 300.5,137.7 308.5,140.6 316.5,143.4 324.5,146.2 332.5,148.9 340.5,151.7 348.5,154.4 356.5,157.1 364.5,159.8 372.5,162.5 380.5,165.1 388.5,167.7 396.5,170.1 404.5,172.5 412.5,175.0 420.5,177.2 428.5,179.0 436.5,180.3 444.5,181.3 452.5,182.2 460.5,183.0 468.5,183.9 476.5,184.6 483.0,185.2" stroke="#c33300"/>
<polyline points="104.5,80.0 108.5,81.2 112.5,82.4 116.5,83.6 120.5,84.8 124.5,86.0 128.5,87.2 132.5,88.4 136.5,89.6 140.5,90.7 144.5,91.8 148.5,92.8 152.5,93.9 156.5,95.0 160.5,96.2 164.5,97.6 168.5,99.2 172.5,100.8 176.5,102.2 180.5,103.2 184.5,104.2 188.5,105.0 192.5,105.8 196.5,106.5 200.5,107.2 204.5,107.9 208.5,108.6 212.5,109.4 216.5,110.2 220.5,111.1 228.5,113.1 236.5,115.2 244.5,117.4 252.5,119.8 260.5,122.3 268.5,125.1 276.5,128.2 284.5,131.3 292.5,134.4 300.5,137.4 308.5,140.3 316.5,143.1 324.5,146.0 332.5,148.7 340.5,151.5 348.5,154.2 356.5,156.9 364.5,159.6 372.5,162.3 380.5,164.9 388.5,167.5 396.5,170.0 404.5,172.4 412.5,174.9 420.5,177.2 428.5,179.0 436.5,180.2 444.5,181.3 452.5,182.1 460.5,183.0 468.5,183.8 476.5,184.6 483.0,185.2" stroke="#c43500"/>
<polyline points="104.5,80.1 108.5,81.3 112.5,82.5 116.5,83.6 120.5,84.8 124.5,86.1 128.5,87.3 132.5,88.5 136.5,89.6 140.5,90.8 144.5,91.8 148.5,92.8 152.5,93.9 156.5,95.0 160.5,96.2 164.5,97.6 168.5,99.2 172.5,100.7 176.5,102.1 180.5,103.2 184.5,104.1 188.5,104.9 192.5,105.7 196.5,106.4 200.5,107.1 204.5,107.8 208.5,108.5 212.5,109.2 216.5,110.1 220.5,111.0 228.5,112.9 236.5,115.0 244.5,117.2 252.5,119.6 260.5,122.1 268.5,124.9 276.5,127.9 284.5,131.1 292.5,134.2 300.5,137.2 308.5,140.1 316.5,142.9 324.5,145.7 332.5,148.5 340.5,151.3 348.5,154.0 356.5,156.7 364.5,159.4 372.5,162.1 380.5,164.8 388.5,167.4 396.5,169.9 404.5,172.3 412.5,174.8 420.5,177.1 428.5,178.9 436.5,180.2 444.5,181.2 452.5,182.1 460.5,183.0 468.5,183.8 476.5,184.6 483.0,185.2" stroke="#c53600"/>
<polyline points="104.5,80.2 108.5,81.3 112.5,82.5 116.5,83.7 120.5,84.9 124.5,86.1 128.5,87.3 132.5,88.5 136.5,89.7 140.5,90.8 144.5,91.9 148.5,92.9 152.5,93.9 156.5,95.0 160.5,96.1 164.5,97.6 168.5,99.1 172.5,100.7 176.5,102.0 180.5,103.1 184.5,104.0 188.5,104.8 192.5,105.6 196.5,106.3 200.5,107.0 204.5,107.6 208.5,108.3 212.5,109.1 216.5,109.9 220.5,110.8 228.5,112.8 236.5,114.8 244.5,117.0 252.5,119.4 260.5,121.9 268.5,124.7 276.5,127.7 284.5,130.8 292.5,134.0 300.5,137.0 308.5,139.8 316.5,142.7 324.5,145.5 332.5,148.3 340.5,151.1 348.5,153.8 356.5,156.5 364.5,159.3 372.5,162.0 380.5,164.6 388.5,167.2 396.5,169.7 404.5,172.2 412.5,174.7 420.5,177.0 428.5,178.9 436.5,180.2 444.5,181.2 452.5,182.1 460.5,182.9 468.5,183.8 476.5,184.6 483.0,185.2" stroke="#c63700"/>
<polyline points="104.5,80.3 108.5,81.4 112.5,82.6 116.5,83.8 120.5,85.0 124.5,86.2 128.5,87.4 132.5,88.6 136.5,89.8 140.5,90.9 144.5,91.9 148.5,92.9 152.5,93.9 156.5,95.0 160.5,96.1 164.5,97.5 168.5,99.1 172.5,100.6 176.5,102.0 180.5,103.0 184.5,103.9 188.5,104.7 192.5,105.5 196.5,106.2 200.5,106.9 204.5,107.5 208.5,108.2 212.5,109.0 216.5,109.8 220.5,110.7 228.5,112.6 236.5,114.7 244.5,116.9 252.5,119.2 260.5,121.7 268.5,124.4 276.5,127.5 284.5,130.6 292.5,133.7 300.5,136.7 308.5,139.6 316.5,142.5 324.5,145.3 332.5,148.1 340.5,150.9 348.5,153.6 356.5,156.4 364.5,159.1 372.5,161.8 380.5,164.5 388.5,167.1 396.5,169.6 404.5,172.1 412.5,174.6 420.5,176.9 428.5,178.8 436.5,180.1 444.5,181.2 452.5,182.0 460.5,182.9 468.5,183.8 476.5,184.6 483.0,185.2" stroke="#c63900"/>
<polyline points="104.5,80.4 108.5,81.5 112.5,82.7 116.5,83.9 120.5,85.1 124.5,86.3 128.5,87.5 132.5,88.7 136.5,89.8 140.5,90.9 144.5,91.9 148.5,92.9 152.5,93.9 156.5,95.0 160.5,96.1 164.5,97.5 168.5,99.1 172.5,100.6 176.5,101.9 180.5,103.0 184.5,103.9 188.5,104.7 192.5,105.4 196.5,106.1 200.5,106.8 204.5,107.4 208.5,108.1 212.5,108.8 216.5,109.7 220.5,110.6 228.5,112.5 236.5,114.5 244.5,116.7 252.5,119.0 260.5,121.5 268.5,124.2 276.5,127.3 284.5,130.4 292.5,133.5 300.5,136.5 308.5,139.4 316.5,142.3 324.5,145.1 332.5,147.9 340.5,150.7 348.5,153.4 356.5,156.2 364.5,158.9 372.5,161.7 380.5,164.3 388.5,167.0 396.5,169.5 404.5,172.0 412.5,174.5 420.5,176.9 428.5,178.8 436.5,180.1 444.5,181.1 452.5,182.0 460.5,182.9 468.5,183.8 476.5,184.6 483.0,185.2" stroke="#c73a00"/>
<polyline points="104.5,80.5 108.5,81.6 112.5,82.8 116.5,84.0 120.5,85.2 124.5,86.4 128.5,87.6 132.5,88.7 136.5,89.9 140.5,91.0 144.5,92.0 148.5,92.9 152.5,93.9 156.5,95.0 160.5,96.1 164.5,97.5 168.5,99.0 172.5,100.5 176.5,101.9 180.5,102.9 184.5,103.8 188.5,104.6 192.5,105.3 196.5,106.0 200.5,106.7 204.5,107.3 208.5,108.0 212.5,108.7 216.5,109.5 220.5,110.4 228.5,112.3 236.5,114.3 244.5,116.5 252.5,118.8 260.5,121.3 268.5,124.1 276.5,127.1 284.5,130.2 292.5,133.3 300.5,136.3 308.5,139.2 316.5,142.1 324.5,144.9 332.5,147.7 340.5,150.5 348.5,153.3 356.5,156.0 364.5,158.8 372.5,161.5 380.5,164.2 388.5,166.8 396.5,169.4 404.5,171.9 412.5,174.4 420.5,176.8 428.5,178.7 436.5,180.0 444.5,181.1 452.5,182.0 460.5,182.9 468.5,183.7 476.5,184.6 483.0,185.2" stroke="#c83b00"/>
<polyline points="104.5,80.6 108.5,81.7 112.5,82.9 116.5,84.1 120.5,85.2 124.5,86.4 128.5,87.6 132.5,88.8 136.5,89.9 140.5,91.0 144.5,92.0 148.5,93.0 152.5,93.9 156.5,95.0 160.5,96.1 164.5,97.5 168.5,99.0 172.5,100.5 176.5,101.8 180.5,102.8 184.5,103.7 188.5,104.5 192.5,105.2 196.5,105.9 200.5,106.6 204.5,107.2 208.5,107.9 212.5,108.6 216.5,109.4 220.5,110.3 228.5,112.2 236.5,114.2 244.5,116.4 252.5,118.7 260.5,121.1 268.5,123.9 276.5,126.9 284.5,130.0 292.5,133.1 300.5,136.1 308.5,139.0 316.5,141.9 324.5,144.7 332.5,147.5 340.5,150.3 348.5,153.1 356.5,155.9 364.5,158.6 372.5,161.4 380.5,164.1 388.5,166.7 396.5,169.3 404.5,171.8 412.5,174.3 420.5,176.7 428.5,178.7 436.5,180.0 444.5,181.0 452.5,182.0 460.5,182.8 468.5,183.7 476.5,184.5 483.0,185.2" stroke="#c93d00"/>
<polyline points="104.5,80.6 108.5,81.8 112.5,83.0 116.5,84.1 120.5,85.3 124.5,86.5 128.5,87.7 132.5,88.9 136.5,90.0 140.5,91.1 144.5,92.0 148.5,93.0 152.5,94.0 156.5,95.0 160.5,96.1 164.5,97.5 168.5,99.0 172.5,100.5 176.5,101.8 180.5,102.8 184.5,103.7 188.5,104.5 192.5,105.2 196.5,105.8 200.5,106.5 204.5,107.1 208.5,107.8 212.5,108.5 216.5,109.3 220.5,110.2 228.5,112.1 236.5,114.1 244.5,116.2 252.5,118.5 260.5,121.0 268.5,123.7 276.5,126.7 284.5,129.8 292.5,132.9 300.5,135.9 308.5,138.8 316.5,141.7 324.5,144.5 332.5,147.4 340.5,150.2 348.5,153.0 356.5,155.7 364.5,158.5 372.5,161.2 380.5,163.9 388.5,166.6 396.5,169.2 404.5,171.7 412.5,174.3 420.5,176.7 428.5,178.6 436.5,179.9 444.5,181.0 452.5,181.9 460.5,182.8 468.5,183.7 476.5,184.5 483.0,185.2" stroke="#ca3e00"/>
<polyline points="104.5,80.7 108.5,81.9 112.5,83.1 116.5,84.2 120.5,85.4 124.5,86.6 128.5,87.8 132.5,88.9 136.5,90.0 140.5,91.1 144.5,92.1 148.5,93.0 152.5,94.0 156.5,95.0 160.5,96.1 164.5,97.4 168.5,98.9 172.5,100.4 176.5,101.7 180.5,102.8 184.5,103.6 188.5,104.4 192.5,105.1 196.5,105.8 200.5,106.4 204.5,107.1 208.5,107.7 212.5,108.4 216.5,109.2 220.5,110.1 228.5,112.0 236.5,114.0 244.5,116.1 252.5,118.4 260.5,120.8 268.5,123.6 276.5,126.5 284.5,129.6 292.5,132.7 300.5,135.7 308.5,138.6 316.5,141.5 324.5,144.4 332.5,147.2 340.5,150.0 348.5,152.8 356.5,155.6 364.5,158.4 372.5,161.1 380.5,163.8 388.5,166.5 396.5,169.1 404.5,171.6 412.5,174.2 420.5,176.6 428.5,178.6 436.5,179.9 444.5,181.0 452.5,181.9 460.5,182.8 468.5,183.7 476.5,184.5 483.0,185.1" stroke="#ca4000"/>
<polyline points="104.5,80.8 108.5,82.0 112.5,83.1 116.5,84.3 120.5,85.5 124.5,86.6 128.5,87.8 132.5,89.0 136.5,90.1 140.5,91.1 144.5,92.1 148.5,93.0 152.5,94.0 156.5,95.0 160.5,96.1 164.5,97.4 168.5,98.9 172.5,100.4 176.5,101.7 180.5,102.7 184.5,103.6 188.5,104.3 192.5,105.1 196.5,105.7 200.5,106.3 204.5,107.0 208.5,107.7 212.5,108.4 216.5,109.1 220.5,110.0 228.5,111.8 236.5,113.8 244.5,116.0 252.5,118.2 260.5,120.7 268.5,123.4 276.5,126.4 284.5,129.5 292.5,132.6 300.5,135.6 308.5,138.5 316.5,141.3 324.5,144.2 332.5,147.1 340.5,149.9 348.5,152.7 356.5,155.5 364.5,158.2 372.5,161.0 380.5,163.7 388.5,166.4 396.5,169.0 404.5,171.5 412.5,174.1 420.5,176.6 428.5,178.5 436.5,179.9 444.5,180.9 452.5,181.9 460.5,182.8 468.5,183.7 476.5,184.5 483.0,185.1" stroke="#cb4100"/>
<polyline points="104.5,80.9 108.5,82.1 112.5,83.2 116.5,84.4 120.5,85.5 124.5,86.7 128.5,87.9 132.5,89.0 136.5,90.1 140.5,91.2 144.5,92.1 148.5,93.1 152.5,94.0 156.5,95.0 160.5,96.1 164.5,97.4 168.5,98.9 172.5,100.4 176.5,101.7 180.5,102.7 184.5,103.5 188.5,104.3 192.5,105.0 196.5,105.7 200.5,106.3 204.5,106.9 208.5,107.6 212.5,108.3 216.5,109.1 220.5,109.9 228.5,111.8 236.5,113.7 244.5,115.9 252.5,118.1 260.5,120.5 268.5,123.3 276.5,126.2 284.5,129.3 292.5,132.4 300.5,135.4 308.5,138.3 316.5,141.2 324.5,144.1 332.5,146.9 340.5,149.7 348.5,152.5 356.5,155.3 364.5,158.1 372.5,160.9 380.5,163.6 388.5,166.3 396.5,168.9 404.5,171.4 412.5,174.0 420.5,176.5 428.5,178.5 436.5,179.8 444.5,180.9 452.5,181.8 460.5,182.8 468.5,183.7 476.5,184.5 483.0,185.1" stroke="#cc4300"/>
<polyline points="104.5,81.0 108.5,82.2 112.5,83.3 116.5,84.4 120.5,85.6 124.5,86.8 128.5,87.9 132.5,89.1 136.5,90.2 140.5,91.2 144.5,92.2 148.5,93.1 152.5,94.0 156.5,95.0 160.5,96.1 164.5,97.4 168.5,98.9 172.5,100.4 176.5,101.6 180.5,102.6 184.5,103.5 188.5,104.2 192.5,104.9 196.5,105.6 200.5,106.2 204.5,106.9 208.5,107.5 212.5,108.2 216.5,109.0 220.5,109.8 228.5,111.7 236.5,113.6 244.5,115.7 252.5,118.0 260.5,120.4 268.5,123.1 276.5,126.1 284.5,129.2 292.5,132.3 300.5,135.2 308.5,138.1 316.5,141.0 324.5,143.9 332.5,146.8 340.5,149.6 348.5,152.4 356.5,155.2 364.5,158.0 372.5,160.8 380.5,163.5 388.5,166.2 396.5,168.8 404.5,171.3 412.5,174.0 420.5,176.4 428.5,178.4 436.5,179.8 444.5,180.9 452.5,181.8 460.5,182.7 468.5,183.6 476.5,184.5 483.0,185.1" stroke="#cd4400"/>
<polyline points="104.5,81.1 108.5,82.2 112.5,83.4 116.5,84.5 120.5,85.7 124.5,86.8 128.5,88.0 132.5,89.1 136.5,90.2 140.5,91.3 144.5,92.2 148.5,93.1 152.5,94.0 156.5,95.0 160.5,96.0 164.5,97.4 168.5,98.8 172.5,100.3 176.5,101.6 180.5,102.6 184.5,103.4 188.5,104.2 192.5,104.9 196.5,105.5 200.5,106.2 204.5,106.8 208.5,107.4 212.5,108.1 216.5,108.9 220.5,109.8 228.5,111.6 236.5,113.5 244.5,115.6 252.5,117.9 260.5,120.3 268.5,123.0 276.5,125.9 284.5,129.0 292.5,132.1 300.5,135.1 308.5,138.0 316.5,140.9 324.5,143.8 332.5,146.6 340.5,149.5 348.5,152.3 356.5,155.1 364.5,157.9 372.5,160.7 380.5,163.4 388.5,166.1 396.5,168.7 404.5,171.3 412.5,173.9 420.5,176.4 428.5,178.4 436.5,179.7 444.5,180.8 452.5,181.8 460.5,182.7 468.5,183.6 476.5,184.5 483.0,185.1" stroke="#ce4600"/>
<polyline points="104.5,81.2 108.5,82.3 112.5,83.5 116.5,84.6 120.5,85.7 124.5,86.9 128.5,88.1 132.5,89.2 136.5,90.3 140.5,91.3 144.5,92.2 148.5,93.1 152.5,94.0 156.5,95.0 160.5,96.0 164.5,97.3 168.5,98.8 172.5,100.3 176.5,101.6 180.5,102.6 184.5,103.4 188.5,104.2 192.5,104.8 196.5,105.5 200.5,106.1 204.5,106.7 208.5,107.4 212.5,108.1 216.5,108.8 220.5,109.7 228.5,111.5 236.5,113.4 244.5,115.5 252.5,117.8 260.5,120.2 268.5,122.9 276.5,125.8 284.5,128.9 292.5,132.0 300.5,134.9 308.5,137.8 316.5,140.7 324.5,143.6 332.5,146.5 340.5,149.3 348.5,152.2 356.5,155.0 364.5,157.8 372.5,160.6 380.5,163.3 388.5,166.0 396.5,168.6 404.5,171.2 412.5,173.8 420.5,176.3 428.5,178.3 436.5,179.7 444.5,180.8 452.5,181.8 460.5,182.7 468.5,183.6 476.5,184.5 483.0,185.1" stroke="#ce4800"/>
<polyline points="104.5,81.3 108.5,82.4 112.5,83.5 116.5,84.7 120.5,85.8 124.5,87.0 128.5,88.1 132.5,89.3 136.5,90.3 140.5,91.3 144.5,92.3 148.5,93.1 152.5,94.0 156.5,95.0 160.5,96.0 164.5,97.3 168.5,98.8 172.5,100.3 176.5,101.6 180.5,102.5 184.5,103.4 188.5,104.1 192.5,104.8 196.5,105.4 200.5,106.1 204.5,106.7 208.5,107.3 212.5,108.0 216.5,108.8 220.5,109.6 228.5,111.4 236.5,113.3 244.5,115.4 252.5,117.7 260.5,120.1 268.5,122.7 276.5,125.7 284.5,128.8 292.5,131.8 300.5,134.8 308.5,137.7 316.5,140.6 324.5,143.5 332.5,146.4 340.5,149.2 348.5,152.0 356.5,154.9 364.5,157.7 372.5,160.5 380.5,163.2 388.5,165.9 396.5,168.5 404.5,171.1 412.5,173.8 420.5,176.3 428.5,178.3 436.5,179.6 444.5,180.8 452.5,181.7 460.5,182.7 468.5,183.6 476.5,184.4 483.0,185.1" stroke="#cf4900"/>
<polyline points="104.5,81.4 108.5,82.5 112.5,83.6 116.5,84.7 120.5,85.9 124.5,87.0 128.5,88.2 132.5,89.3 136.5,90.4 140.5,91.4 144.5,92.3 148.5,93.2 152.5,94.0 156.5,95.0 160.5,96.0 164.5,97.3 168.5,98.8 172.5,100.2 176.5,101.5 180.5,102.5 184.5,103.3 188.5,104.1 192.5,104.8 196.5,105.4 200.5,106.0 204.5,106.6 208.5,107.3 212.5,107.9 216.5,108.7 220.5,109.5 228.5,111.3 236.5,113.3 244.5,115.3 252.5,117.6 260.5,120.0 268.5,122.6 276.5,125.6 284.5,128.6 292.5,131.7 300.5,134.7 308.5,137.6 316.5,140.5 324.5,143.4 332.5,146.2 340.5,149.1 348.5,151.9 356.5,154.7 364.5,157.6 372.5,160.4 380.5,163.1 388.5,165.8 396.5,168.5 404.5,171.0 412.5,173.7 420.5,176.2 428.5,178.2 436.5,179.6 444.5,180.7 452.5,181.7 460.5,182.6 468.5,183.6 476.5,184.4 483.0,185.1" stroke="#d04b00"/>
<polyline points="104.5,81.4 108.5,82.6 112.5,83.7 116.5,84.8 120.5,85.9 124.5,87.1 128.5,88.2 132.5,89.4 136.5,90.4 140.5,91.4 144.5,92.3 148.5,93.2 152.5,94.0 156.5,95.0 160.5,96.0 164.5,97.3 168.5,98.8 172.5,100.2 176.5,101.5 180.5,102.5 184.5,103.3 188.5,104.0 192.5,104.7 196.5,105.3 200.5,106.0 204.5,106.6 208.5,107.2 212.5,107.9 216.5,108.6 220.5,109.5 228.5,111.3 236.5,113.2 244.5,115.3 252.5,117.5 260.5,119.8 268.5,122.5 276.5,125.4 284.5,128.5 292.5,131.6 300.5,134.5 308.5,137.4 316.5,140.3 324.5,143.2 332.5,146.1 340.5,149.0 348.5,151.8 356.5,154.6 364.5,157.5 372.5,160.3 380.5,163.0 388.5,165.8 396.5,168.4 404.5,171.0 412.5,173.7 420.5,176.2 428.5,178.2 436.5,179.6 444.5,180.7 452.5,181.7 460.5,182.6 468.5,183.5 476.5,184.4 483.0,185.1" stroke="#d14d00"/>
<polyline points="104.5,81.5 108.5,82.6 112.5,83.7 116.5,84.9 120.5,86.0 124.5,87.1 128.5,88.3 132.5,89.4 136.5,90.5 140.5,91.5 144.5,92.4 148.5,93.2 152.5,94.1 156.5,95.0 160.5,96.0 164.5,97.3 168.5,98.8 172.5,100.2 176.5,101.5 180.5,102.4 184.5,103.3 188.5,104.0 192.5,104.7 196.5,105.3 200.5,105.9 204.5,106.5 208.5,107.2 212.5,107.8 216.5,108.6 220.5,109.4 228.5,111.2 236.5,113.1 244.5,115.2 252.5,117.4 260.5,119.7 268.5,122.4 276.5,125.3 284.5,128.4 292.5,131.4 300.5,134.4 308.5,137.3 316.5,140.2 324.5,143.1 332.5,146.0 340.5,148.9 348.5,151.7 356.5,154.5 364.5,157.4 372.5,160.2 380.5,163.0 388.5,165.7 396.5,168.3 404.5,170.9 412.5,173.6 420.5,176.1 428.5,178.1 436.5,179.5 444.5,180.7 452.5,181.6 460.5,182.6 468.5,183.5 476.5,184.4 483.0,185.1" stroke="#d14e00"/>
<polyline points="104.5,81.5 108.5,82.7 112.5,83.8 116.5,84.9 120.5,86.0 124.5,87.2 128.5,88.3 132.5,89.5 136.5,90.5 140.5,91.5 144.5,92.4 148.5,93.2 152.5,94.1 156.5,95.0 160.5,96.0 164.5,97.3 168.5,98.7 172.5,100.2 176.5,101.5 180.5,102.4 184.5,103.2 188.5,104.0 192.5,104.6 196.5,105.3 200.5,105.9 204.5,106.5 208.5,107.1 212.5,107.8 216.5,108.5 220.5,109.3 228.5,111.1 236.5,113.0 244.5,115.1 252.5,117.3 260.5,119.7 268.5,122.3 276.5,125.2 284.5,128.3 292.5,131.3 300.5,134.3 308.5,137.2 316.5,140.1 324.5,143.0 332.5,145.9 340.5,148.8 348.5,151.6 356.5,154.4 364.5,157.3 372.5,160.1 380.5,162.9 388.5,165.6 396.5,168.3 404.5,170.9 412.5,173.5 420.5,176.0 428.5,178.1 436.5,179.5 444.5,180.6 452.5,181.6 460.5,182.6 468.5,183.5 476.5,184.4 483.0,185.1" stroke="#d25000"/>
<polyline points="104.5,81.6 108.5,82.7 112.5,83.8 116.5,84.9 120.5,86.1 124.5,87.2 128.5,88.4 132.5,89.5 136.5,90.6 140.5,91.5 144.5,92.4 148.5,93.2 152.5,94.1 156.5,95.0 160.5,96.0 164.5,97.3 168.5,98.7 172.5,100.2 176.5,101.4 180.5,102.4 184.5,103.2 188.5,103.9 192.5,104.6 196.5,105.2 200.5,105.8 204.5,106.4 208.5,107.1 212.5,107.7 216.5,108.5 220.5,109.3 228.5,111.1 236.5,113.0 244.5,115.0 252.5,117.2 260.5,119.6 268.5,122.2 276.5,125.1 284.5,128.2 292.5,131.2 300.5,134.2 308.5,137.1 316.5,140.0 324.5,142.9 332.5,145.8 340.5,148.7 348.5,151.5 356.5,154.4 364.5,157.2 372.5,160.0 380.5,162.8 388.5,165.5 396.5,168.2 404.5,170.8 412.5,173.5 420.5,176.0 428.5,178.0 436.5,179.4 444.5,180.6 452.5,181.6 460.5,182.6 468.5,183.5 476.5,184.4 483.0,185.0" stroke="#d35200"/>
<polyline points="104.5,81.6 108.5,82.7 112.5,83.9 116.5,85.0 120.5,86.1 124.5,87.3 128.5,88.4 132.5,89.5 136.5,90.6 140.5,91.6 144.5,92.4 148.5,93.3 152.5,94.1 156.5,95.0 160.5,96.0 164.5,97.3 168.5,98.7 172.5,100.2 176.5,101.4 180.5,102.4 184.5,103.2 188.5,103.9 192.5,104.6 196.5,105.2 200.5,105.8 204.5,106.4 208.5,107.0 212.5,107.7 216.5,108.4 220.5,109.2 228.5,111.0 236.5,112.9 244.5,114.9 252.5,117.1 260.5,119.5 268.5,122.1 276.5,125.0 284.5,128.0 292.5,131.1 300.5,134.1 308.5,137.0 316.5,139.9 324.5,142.8 332.5,145.7 340.5,148.6 348.5,151.4 356.5,154.3 364.5,157.1 372.5,159.9 380.5,162.7 388.5,165.5 396.5,168.1 404.5,170.7 412.5,173.4 420.5,175.9 428.5,178.0 436.5,179.4 444.5,180.6 452.5,181.6 460.5,182.5 468.5,183.5 476.5,184.4 483.0,185.0" stroke="#d45400"/>
<polyline points="104.5,81.7 108.5,82.8 112.5,83.9 116.5,85.0 120.5,86.1 124.5,87.3 128.5,88.5 132.5,89.6 136.5,90.6 140.5,91.6 144.5,92.5 148.5,93.3 152.5,94.1 156.5,95.0 160.5,96.0 164.5,97.2 168.5,98.7 172.5,100.1 176.5,101.4 180.5,102.3 184.5,103.2 188.5,103.9 192.5,104.5 196.5,105.2 200.5,105.8 204.5,106.4 208.5,107.0 212.5,107.6 216.5,108.4 220.5,109.2 228.5,110.9 236.5,112.8 244.5,114.9 252.5,117.0 260.5,119.4 268.5,122.0 276.5,124.9 284.5,127.9 292.5,131.0 300.5,134.0 308.5,136.9 316.5,139.8 324.5,142.7 332.5,145.6 340.5,148.5 348.5,151.3 356.5,154.2 364.5,157.0 372.5,159.9 380.5,162.7 388.5,165.4 396.5,168.1 404.5,170.7 412.5,173.4 420.5,175.9 428.5,177.9 436.5,179.4 444.5,180.5 452.5,181.5 460.5,182.5 468.5,183.5 476.5,184.4 483.0,185.0" stroke="#d55600"/>
<polyline points="104.5,81.7 108.5,82.8 112.5,83.9 116.5,85.1 120.5,86.2 124.5,87.3 128.5,88.5 132.5,89.6 136.5,90.7 140.5,91.6 144.5,92.5 148.5,93.3 152.5,94.1 156.5,95.0 160.5,96.0 164.5,97.2 168.5,98.7 172.5,100.1 176.5,101.4 180.5,102.3 184.5,103.1 188.5,103.9 192.5,104.5 196.5,105.1 200.5,105.7 204.5,106.3 208.5,106.9 212.5,107.6 216.5,108.3 220.5,109.1 228.5,110.9 236.5,112.8 244.5,114.8 252.5,117.0 260.5,119.3 268.5,121.9 276.5,124.8 284.5,127.8 292.5,130.9 300.5,133.9 308.5,136.8 316.5,139.7 324.5,142.6 332.5,145.5 340.5,148.4 348.5,151.2 356.5,154.1 364.5,156.9 372.5,159.8 380.5,162.6 388.5,165.3 396.5,168.0 404.5,170.6 412.5,173.3 420.5,175.8 428.5,177.9 436.5,179.3 444.5,180.5 452.5,181.5 460.5,182.5 468.5,183.5 476.5,184.4 483.0,185.0" stroke="#d55700"/>
<polyline points="104.5,81.7 108.5,82.8 112.5,84.0 116.5,85.1 120.5,86.2 124.5,87.4 128.5,88.5 132.5,89.7 136.5,90.7 140.5,91.7 144.5,92.5 148.5,93.3 152.5,94.1 156.5,95.0 160.5,96.0 164.5,97.2 168.5,98.7 172.5,100.1 176.5,101.4 180.5,102.3 184.5,103.1 188.5,103.8 192.5,104.5 196.5,105.1 200.5,105.7 204.5,106.3 208.5,106.9 212.5,107.6 216.5,108.3 220.5,109.1 228.5,110.8 236.5,112.7 244.5,114.7 252.5,116.9 260.5,119.2 268.5,121.8 276.5,124.7 284.5,127.7 292.5,130.8 300.5,133.7 308.5,136.6 316.5,139.6 324.5,142.5 332.5,145.4 340.5,148.3 348.5,151.2 356.5,154.0 364.5,156.9 372.5,159.7 380.5,162.5 388.5,165.3 396.5,168.0 404.5,170.6 412.5,173.3 420.5,175.8 428.5,177.8 436.5,179.3 444.5,180.5 452.5,181.5 460.5,182.5 468.5,183.4 476.5,184.3 483.0,185.0" stroke="#d65900"/>
<polyline points="104.5,81.7 108.5,82.9 112.5,84.0 116.5,85.1 120.5,86.2 124.5,87.4 128.5,88.6 132.5,89.7 136.5,90.8 140.5,91.7 144.5,92.5 148.5,93.3 152.5,94.1 156.5,95.0 160.5,96.0 164.5,97.2 168.5,98.6 172.5,100.1 176.5,101.3 180.5,102.3 184.5,103.1 188.5,103.8 192.5,104.5 196.5,105.1 200.5,105.7 204.5,106.2 208.5,106.9 212.5,107.5 216.5,108.2 220.5,109.0 228.5,110.8 236.5,112.6 244.5,114.7 252.5,116.8 260.5,119.1 268.5,121.8 276.5,124.6 284.5,127.7 292.5,130.7 300.5,133.6 308.5,136.5 316.5,139.5 324.5,142.4 332.5,145.3 340.5,148.2 348.5,151.1 356.5,153.9 364.5,156.8 372.5,159.7 380.5,162.5 388.5,165.2 396.5,167.9 404.5,170.5 412.5,173.2 420.5,175.7 428.5,177.8 436.5,179.2 444.5,180.4 452.5,181.5 460.5,182.5 468.5,183.4 476.5,184.3 483.0,185.0" stroke="#d75b00"/>
<polyline points="104.5,81.8 108.5,82.9 112.5,84.0 116.5,85.1 120.5,86.3 124.5,87.4 128.5,88.6 132.5,89.7 136.5,90.8 140.5,91.7 144.5,92.6 148.5,93.3 152.5,94.1 156.5,95.0 160.5,96.0 164.5,97.2 168.5,98.6 172.5,100.1 176.5,101.3 180.5,102.3 184.5,103.1 188.5,103.8 192.5,104.4 196.5,105.0 200.5,105.6 204.5,106.2 208.5,106.8 212.5,107.5 216.5,108.2 220.5,109.0 228.5,110.7 236.5,112.6 244.5,114.6 252.5,116.8 260.5,119.1 268.5,121.7 276.5,124.6 284.5,127.6 292.5,130.6 300.5,133.6 308.5,136.5 316.5,139.4 324.5,142.3 332.5,145.2 340.5,148.1 348.5,151.0 356.5,153.9 364.5,156.7 372.5,159.6 380.5,162.4 388.5,165.2 396.5,167.8 404.5,170.5 412.5,173.2 420.5,175.7 428.5,177.7 436.5,179.2 444.5,180.4 452.5,181.4 460.5,182.4 468.5,183.4 476.5,184.3 483.0,185.0" stroke="#d85d00"/>
<polyline points="104.5,81.8 108.5,82.9 112.5,84.0 116.5,85.2 120.5,86.3 124.5,87.5 128.5,88.6 132.5,89.8 136.5,90.8 140.5,91.8 144.5,92.6 148.5,93.4 152.5,94.1 156.5,95.0 160.5,95.9 164.5,97.2 168.5,98.6 172.5,100.1 176.5,101.3 180.5,102.2 184.5,103.0 188.5,103.8 192.5,104.4 196.5,105.0 200.5,105.6 204.5,106.2 208.5,106.8 212.5,107.4 216.5,108.2 220.5,109.0 228.5,110.7 236.5,112.5 244.5,114.5 252.5,116.7 260.5,119.0 268.5,121.6 276.5,124.5 284.5,127.5 292.5,130.5 300.5,133.5 308.5,136.4 316.5,139.3 324.5,142.2 332.5,145.1 340.5,148.0 348.5,150.9 356.5,153.8 364.5,156.7 372.5,159.5 380.5,162.3 388.5,165.1 396.5,167.8 404.5,170.4 412.5,173.1 420.5,175.6 428.5,177.7 436.5,179.2 444.5,180.4 452.5,181.4 460.5,182.4 468.5,183.4 476.5,184.3 483.0,185.0" stroke="#d85f00"/>
<polyline points="104.5,81.8 108.5,83.0 112.5,84.1 116.5,85.2 120.5,86.3 124.5,87.5 128.5,88.7 132.5,89.8 136.5,90.9 140.5,91.8 144.5,92.6 148.5,93.4 152.5,94.1 156.5,95.0 160.5,95.9 164.5,97.2 168.5,98.6 172.5,100.0 176.5,101.3 180.5,102.2 184.5,103.0 188.5,103.7 192.5,104.4 196.5,105.0 200.5,105.6 204.5,106.1 208.5,106.8 212.5,107.4 216.5,108.1 220.5,108.9 228.5,110.6 236.5,112.5 244.5,114.5 252.5,116.6 260.5,118.9 268.5,121.5 276.5,124.4 284.5,127.4 292.5,130.4 300.5,133.4 308.5,136.3 316.5,139.2 324.5,142.1 332.5,145.0 340.5,148.0 348.5,150.8 356.5,153.7 364.5,156.6 372.5,159.5 380.5,162.3 388.5,165.1 396.5,167.7 404.5,170.4 412.5,173.1 420.5,175.6 428.5,177.6 436.5,179.1 444.5,180.3 452.5,181.4 460.5,182.4 468.5,183.4 476.5,184.3 483.0,185.0" stroke="#d96100"/>
<polyline points="104.5,81.8 108.5,83.0 112.5,84.1 116.5,85.2 120.5,86.4 124.5,87.5 128.5,88.7 132.5,89.8 136.5,90.9 140.5,91.8 144.5,92.6 148.5,93.4 152.5,94.2 156.5,95.0 160.5,95.9 164.5,97.2 168.5,98.6 172.5,100.0 176.5,101.3 180.5,102.2 184.5,103.0 188.5,103.7 192.5,104.4 196.5,105.0 200.5,105.5 204.5,106.1 208.5,106.7 212.5,107.4 216.5,108.1 220.5,108.9 228.5,110.6 236.5,112.4 244.5,114.4 252.5,116.6 260.5,118.9 268.5,121.4 276.5,124.3 284.5,127.3 292.5,130.3 300.5,133.3 308.5,136.2 316.5,139.1 324.5,142.0 332.5,145.0 340.5,147.9 348.5,150.8 356.5,153.6 364.5,156.5 372.5,159.4 380.5,162.2 388.5,165.0 396.5,167.7 404.5,170.3 412.5,173.0 420.5,175.5 428.5,177.6 436.5,179.1 444.5,180.3 452.5,181.4 460.5,182.4 468.5,183.4 476.5,184.3 483.0,185.0" stroke="#da6300"/>
<polyline points="104.5,81.9 108.5,83.0 112.5,84.1 116.5,85.3 120.5,86.4 124.5,87.6 128.5,88.7 132.5,89.9 136.5,90.9 140.5,91.9 144.5,92.7 148.5,93.4 152.5,94.2 156.5,95.0 160.5,95.9 164.5,97.2 168.5,98.6 172.5,100.0 176.5,101.3 180.5,102.2 184.5,103.0 188.5,103.7 192.5,104.3 196.5,104.9 200.5,105.5 204.5,106.1 208.5,106.7 212.5,107.3 216.5,108.1 220.5,108.8 228.5,110.5 236.5,112.4 244.5,114.4 252.5,116.5 260.5,118.8 268.5,121.4 276.5,124.2 284.5,127.2 292.5,130.2 300.5,133.2 308.5,136.1 316.5,139.0 324.5,141.9 332.5,144.9 340.5,147.8 348.5,150.7 356.5,153.6 364.5,156.5 372.5,159.3 380.5,162.2 388.5,165.0 396.5,167.6 404.5,170.3 412.5,173.0 420.5,175.5 428.5,177.6 436.5,179.1 444.5,180.3 452.5,181.3 460.5,182.4 468.5,183.4 476.5,184.3 483.0,185.0" stroke="#db6500"/>
<polyline points="104.5,81.9 108.5,83.0 112.5,84.2 116.5,85.3 120.5,86.4 124.5,87.6 128.5,88.8 132.5,89.9 136.5,91.0 140.5,91.9 144.5,92.7 148.5,93.4 152.5,94.2 156.5,95.0 160.5,95.9 164.5,97.2 168.5,98.6 172.5,100.0 176.5,101.2 180.5,102.2 184.5,103.0 188.5,103.7 192.5,104.3 196.5,104.9 200.5,105.5 204.5,106.1 208.5,106.7 212.5,107.3 216.5,108.0 220.5,108.8 228.5,110.5 236.5,112.3 244.5,114.3 252.5,116.4 260.5,118.7 268.5,121.3 276.5,124.1 284.5,127.1 292.5,130.1 300.5,133.1 308.5,136.0 316.5,138.9 324.5,141.9 332.5,144.8 340.5,147.7 348.5,150.6 356.5,153.5 364.5,156.4 372.5,159.3 380.5,162.1 388.5,164.9 396.5,167.6 404.5,170.2 412.5,172.9 420.5,175.4 428.5,177.5 436.5,179.0 444.5,180.2 452.5,181.3 460.5,182.4 468.5,183.4 476.5,184.3 483.0,185.0" stroke="#db6700"/>
<polyline points="104.5,81.9 108.5,83.0 112.5,84.2 116.5,85.3 120.5,86.4 124.5,87.6 128.5,88.8 132.5,90.0 136.5,91.0 140.5,91.9 144.5,92.7 148.5,93.5 152.5,94.2 156.5,95.0 160.5,95.9 164.5,97.1 168.5,98.6 172.5,100.0 176.5,101.2 180.5,102.2 184.5,102.9 188.5,103.7 192.5,104.3 196.5,104.9 200.5,105.5 204.5,106.0 208.5,106.6 212.5,107.3 216.5,108.0 220.5,108.8 228.5,110.5 236.5,112.3 244.5,114.3 252.5,116.4 260.5,118.6 268.5,121.2 276.5,124.1 284.5,127.0 292.5,130.1 300.5,133.0 308.5,135.9 316.5,138.8 324.5,141.8 332.5,144.7 340.5,147.6 348.5,150.5 356.5,153.4 364.5,156.3 372.5,159.2 380.5,162.1 388.5,164.8 396.5,167.5 404.5,170.2 412.5,172.9 420.5,175.4 428.5,177.5 436.5,179.0 444.5,180.2 452.5,181.3 460.5,182.3 468.5,183.3 476.5,184.3 483.0,185.0" stroke="#dc6900"/>
<g clip-path="url(#cp2)">
<polyline points="104.5,81.9 108.5,83.1 112.5,84.2 116.5,85.3 120.5,86.5 124.5,87.7 128.5,88.8 132.5,90.0 136.5,91.0 140.5,92.0 144.5,92.7 148.5,93.5 152.5,94.2 156.5,95.0 160.5,95.9 164.5,97.1 168.5,98.6 172.5,100.0 176.5,101.2 180.5,102.1 184.5,102.9 188.5,103.6 192.5,104.3 196.5,104.9 200.5,105.4 204.5,106.0 208.5,106.6 212.5,107.2 216.5,107.9 220.5,108.7 228.5,110.4 236.5,112.2 244.5,114.2 252.5,116.3 260.5,118.6 268.5,121.2 276.5,124.0 284.5,127.0 292.5,130.0 300.5,132.9 308.5,135.8 316.5,138.7 324.5,141.7 332.5,144.6 340.5,147.6 348.5,150.5 356.5,153.3 364.5,156.3 372.5,159.1 380.5,162.0 388.5,164.8 396.5,167.5 404.5,170.1 412.5,172.8 420.5,175.4 428.5,177.4 436.5,178.9 444.5,180.2 452.5,181.3 460.5,182.3 468.5,183.3 476.5,184.3 483.0,185.0" stroke="#dd6b00"/>
<polyline points="104.5,82.0 108.5,83.1 112.5,84.2 116.5,85.4 120.5,86.5 124.5,87.7 128.5,88.9 132.5,90.0 136.5,91.1 140.5,92.0 144.5,92.8 148.5,93.5 152.5,94.2 156.5,95.0 160.5,95.9 164.5,97.1 168.5,98.6 172.5,100.0 176.5,101.2 180.5,102.1 184.5,102.9 188.5,103.6 192.5,104.2 196.5,104.8 200.5,105.4 204.5,106.0 208.5,106.6 212.5,107.2 216.5,107.9 220.5,108.7 228.5,110.4 236.5,112.2 244.5,114.1 252.5,116.2 260.5,118.5 268.5,121.1 276.5,123.9 284.5,126.9 292.5,129.9 300.5,132.8 308.5,135.7 316.5,138.7 324.5,141.6 332.5,144.6 340.5,147.5 348.5,150.4 356.5,153.3 364.5,156.2 372.5,159.1 380.5,161.9 388.5,164.7 396.5,167.5 404.5,170.1 412.5,172.8 420.5,175.3 428.5,177.4 436.5,178.9 444.5,180.2 452.5,181.3 460.5,182.3 468.5,183.3 476.5,184.3 483.0,185.0" stroke="#de6e00"/>
<polyline points="104.5,82.0 108.5,83.1 112.5,84.3 116.5,85.4 120.5,86.5 124.5,87.7 128.5,88.9 132.5,90.1 136.5,91.1 140.5,92.0 144.5,92.8 148.5,93.5 152.5,94.2 156.5,95.0 160.5,95.9 164.5,97.1 168.5,98.5 172.5,100.0 176.5,101.2 180.5,102.1 184.5,102.9 188.5,103.6 192.5,104.2 196.5,104.8 200.5,105.4 204.5,105.9 208.5,106.5 212.5,107.2 216.5,107.9 220.5,108.7 228.5,110.3 236.5,112.1 244.5,114.1 252.5,116.2 260.5,118.5 268.5,121.0 276.5,123.8 284.5,126.8 292.5,129.8 300.5,132.7 308.5,135.6 316.5,138.6 324.5,141.5 332.5,144.5 340.5,147.4 348.5,150.3 356.5,153.2 364.5,156.1 372.5,159.0 380.5,161.9 388.5,164.7 396.5,167.4 404.5,170.0 412.5,172.7 420.5,175.3 428.5,177.3 436.5,178.9 444.5,180.1 452.5,181.2 460.5,182.3 468.5,183.3 476.5,184.2 483.0,185.0" stroke="#de7000"/>
<polyline points="104.5,82.0 108.5,83.2 112.5,84.3 116.5,85.4 120.5,86.6 124.5,87.8 128.5,88.9 132.5,90.1 136.5,91.1 140.5,92.0 144.5,92.8 148.5,93.5 152.5,94.2 156.5,95.0 160.5,95.9 164.5,97.1 168.5,98.5 172.5,100.0 176.5,101.2 180.5,102.1 184.5,102.9 188.5,103.6 192.5,104.2 196.5,104.8 200.5,105.3 204.5,105.9 208.5,106.5 212.5,107.1 216.5,107.8 220.5,108.6 228.5,110.3 236.5,112.1 244.5,114.0 252.5,116.1 260.5,118.4 268.5,120.9 276.5,123.8 284.5,126.7 292.5,129.7 300.5,132.7 308.5,135.6 316.5,138.5 324.5,141.4 332.5,144.4 340.5,147.3 348.5,150.3 356.5,153.1 364.5,156.1 372.5,159.0 380.5,161.8 388.5,164.6 396.5,167.4 404.5,170.0 412.5,172.7 420.5,175.2 428.5,177.3 436.5,178.8 444.5,180.1 452.5,181.2 460.5,182.3 468.5,183.3 476.5,184.2 483.0,185.0" stroke="#df7200"/>
<polyline points="104.5,82.0 108.5,83.2 112.5,84.3 116.5,85.4 120.5,86.6 124.5,87.8 128.5,89.0 132.5,90.1 136.5,91.2 140.5,92.1 144.5,92.8 148.5,93.5 152.5,94.2 156.5,95.0 160.5,95.9 164.5,97.1 168.5,98.5 172.5,99.9 176.5,101.2 180.5,102.1 184.5,102.9 188.5,103.5 192.5,104.2 196.5,104.8 200.5,105.3 204.5,105.9 208.5,106.5 212.5,107.1 216.5,107.8 220.5,108.6 228.5,110.2 236.5,112.0 244.5,114.0 252.5,116.1 260.5,118.3 268.5,120.9 276.5,123.7 284.5,126.7 292.5,129.7 300.5,132.6 308.5,135.5 316.5,138.4 324.5,141.4 332.5,144.3 340.5,147.3 348.5,150.2 356.5,153.1 364.5,156.0 372.5,158.9 380.5,161.8 388.5,164.6 396.5,167.3 404.5,170.0 412.5,172.7 420.5,175.2 428.5,177.2 436.5,178.8 444.5,180.1 452.5,181.2 460.5,182.3 468.5,183.3 476.5,184.2 483.0,184.9" stroke="#e07400"/>
<polyline points="104.5,82.1 108.5,83.2 112.5,84.3 116.5,85.5 120.5,86.6 124.5,87.8 128.5,89.0 132.5,90.2 136.5,91.2 140.5,92.1 144.5,92.9 148.5,93.6 152.5,94.3 156.5,95.0 160.5,95.9 164.5,97.1 168.5,98.5 172.5,99.9 176.5,101.2 180.5,102.1 184.5,102.8 188.5,103.5 192.5,104.2 196.5,104.7 200.5,105.3 204.5,105.9 208.5,106.4 212.5,107.1 216.5,107.8 220.5,108.6 228.5,110.2 236.5,112.0 244.5,113.9 252.5,116.0 260.5,118.3 268.5,120.8 276.5,123.6 284.5,126.6 292.5,129.6 300.5,132.5 308.5,135.4 316.5,138.3 324.5,141.3 332.5,144.3 340.5,147.2 348.5,150.1 356.5,153.0 364.5,155.9 372.5,158.9 380.5,161.7 388.5,164.6 396.5,167.3 404.5,169.9 412.5,172.6 420.5,175.1 428.5,177.2 436.5,178.8 444.5,180.0 452.5,181.2 460.5,182.2 468.5,183.3 476.5,184.2 483.0,184.9" stroke="#e07600"/>
<polyline points="104.5,82.1 108.5,83.2 112.5,84.4 116.5,85.5 120.5,86.6 124.5,87.8 128.5,89.0 132.5,90.2 136.5,91.2 140.5,92.1 144.5,92.9 148.5,93.6 152.5,94.3 156.5,95.0 160.5,95.9 164.5,97.1 168.5,98.5 172.5,99.9 176.5,101.1 180.5,102.0 184.5,102.8 188.5,103.5 192.5,104.1 196.5,104.7 200.5,105.3 204.5,105.8 208.5,106.4 212.5,107.1 216.5,107.7 220.5,108.5 228.5,110.2 236.5,112.0 244.5,113.9 252.5,116.0 260.5,118.2 268.5,120.8 276.5,123.6 284.5,126.5 292.5,129.5 300.5,132.4 308.5,135.3 316.5,138.3 324.5,141.2 332.5,144.2 340.5,147.1 348.5,150.1 356.5,153.0 364.5,155.9 372.5,158.8 380.5,161.7 388.5,164.5 396.5,167.2 404.5,169.9 412.5,172.6 420.5,175.1 428.5,177.2 436.5,178.7 444.5,180.0 452.5,181.1 460.5,182.2 468.5,183.3 476.5,184.2 483.0,184.9" stroke="#e17900"/>
<polyline points="104.5,82.1 108.5,83.2 112.5,84.4 116.5,85.5 120.5,86.7 124.5,87.9 128.5,89.1 132.5,90.2 136.5,91.3 140.5,92.2 144.5,92.9 148.5,93.6 152.5,94.3 156.5,95.0 160.5,95.9 164.5,97.1 168.5,98.5 172.5,99.9 176.5,101.1 180.5,102.0 184.5,102.8 188.5,103.5 192.5,104.1 196.5,104.7 200.5,105.3 204.5,105.8 208.5,106.4 212.5,107.0 216.5,107.7 220.5,108.5 228.5,110.1 236.5,111.9 244.5,113.8 252.5,115.9 260.5,118.2 268.5,120.7 276.5,123.5 284.5,126.4 292.5,129.4 300.5,132.3 308.5,135.2 316.5,138.2 324.5,141.1 332.5,144.1 340.5,147.1 348.5,150.0 356.5,152.9 364.5,155.8 372.5,158.7 380.5,161.6 388.5,164.5 396.5,167.2 404.5,169.8 412.5,172.5 420.5,175.0 428.5,177.1 436.5,178.7 444.5,180.0 452.5,181.1 460.5,182.2 468.5,183.2 476.5,184.2 483.0,184.9" stroke="#e27b00"/>
<polyline points="104.5,82.1 108.5,83.3 112.5,84.4 116.5,85.5 120.5,86.7 124.5,87.9 128.5,89.1 132.5,90.3 136.5,91.3 140.5,92.2 144.5,92.9 148.5,93.6 152.5,94.3 156.5,95.0 160.5,95.9 164.5,97.1 168.5,98.5 172.5,99.9 176.5,101.1 180.5,102.0 184.5,102.8 188.5,103.5 192.5,104.1 196.5,104.7 200.5,105.2 204.5,105.8 208.5,106.4 212.5,107.0 216.5,107.7 220.5,108.5 228.5,110.1 236.5,111.9 244.5,113.8 252.5,115.9 260.5,118.1 268.5,120.6 276.5,123.4 284.5,126.4 292.5,129.3 300.5,132.3 308.5,135.2 316.5,138.1 324.5,141.1 332.5,144.0 340.5,147.0 348.5,149.9 356.5,152.8 364.5,155.8 372.5,158.7 380.5,161.6 388.5,164.4 396.5,167.1 404.5,169.8 412.5,172.5 420.5,175.0 428.5,177.1 436.5,178.6 444.5,180.0 452.5,181.1 460.5,182.2 468.5,183.2 476.5,184.2 483.0,184.9" stroke="#e37d00"/>
<polyline points="104.5,82.1 108.5,83.3 112.5,84.4 116.5,85.6 120.5,86.7 124.5,87.9 128.5,89.1 132.5,90.3 136.5,91.3 140.5,92.2 144.5,93.0 148.5,93.6 152.5,94.3 156.5,95.0 160.5,95.9 164.5,97.1 168.5,98.5 172.5,99.9 176.5,101.1 180.5,102.0 184.5,102.8 188.5,103.4 192.5,104.1 196.5,104.6 200.5,105.2 204.5,105.8 208.5,106.3 212.5,107.0 216.5,107.7 220.5,108.4 228.5,110.1 236.5,111.8 244.5,113.7 252.5,115.8 260.5,118.0 268.5,120.6 276.5,123.3 284.5,126.3 292.5,129.3 300.5,132.2 308.5,135.1 316.5,138.0 324.5,141.0 332.5,144.0 340.5,146.9 348.5,149.8 356.5,152.8 364.5,155.7 372.5,158.6 380.5,161.5 388.5,164.4 396.5,167.1 404.5,169.7 412.5,172.4 420.5,174.9 428.5,177.0 436.5,178.6 444.5,179.9 452.5,181.1 460.5,182.2 468.5,183.2 476.5,184.2 483.0,184.9" stroke="#e38000"/>
<polyline points="104.5,82.2 108.5,83.3 112.5,84.5 116.5,85.6 120.5,86.8 124.5,88.0 128.5,89.2 132.5,90.3 136.5,91.4 140.5,92.3 144.5,93.0 148.5,93.7 152.5,94.3 156.5,95.0 160.5,95.9 164.5,97.1 168.5,98.5 172.5,99.9 176.5,101.1 180.5,102.0 184.5,102.7 188.5,103.4 192.5,104.0 196.5,104.6 200.5,105.2 204.5,105.7 208.5,106.3 212.5,106.9 216.5,107.6 220.5,108.4 228.5,110.0 236.5,111.8 244.5,113.7 252.5,115.8 260.5,118.0 268.5,120.5 276.5,123.3 284.5,126.2 292.5,129.2 300.5,132.1 308.5,135.0 316.5,137.9 324.5,140.9 332.5,143.9 340.5,146.8 348.5,149.8 356.5,152.7 364.5,155.6 372.5,158.6 380.5,161.5 388.5,164.3 396.5,167.0 404.5,169.7 412.5,172.4 420.5,174.9 428.5,177.0 436.5,178.6 444.5,179.9 452.5,181.1 460.5,182.1 468.5,183.2 476.5,184.2 483.0,184.9" stroke="#e48200"/>
<polyline points="104.5,82.2 108.5,83.3 112.5,84.5 116.5,85.6 120.5,86.8 124.5,88.0 128.5,89.2 132.5,90.4 136.5,91.4 140.5,92.3 144.5,93.0 148.5,93.7 152.5,94.3 156.5,95.1 160.5,95.9 164.5,97.1 168.5,98.5 172.5,99.9 176.5,101.1 180.5,102.0 184.5,102.7 188.5,103.4 192.5,104.0 196.5,104.6 200.5,105.1 204.5,105.7 208.5,106.3 212.5,106.9 216.5,107.6 220.5,108.3 228.5,110.0 236.5,111.7 244.5,113.6 252.5,115.7 260.5,117.9 268.5,120.4 276.5,123.2 284.5,126.1 292.5,129.1 300.5,132.0 308.5,134.9 316.5,137.9 324.5,140.8 332.5,143.8 340.5,146.8 348.5,149.7 356.5,152.6 364.5,155.6 372.5,158.5 380.5,161.4 388.5,164.3 396.5,167.0 404.5,169.7 412.5,172.3 420.5,174.9 428.5,177.0 436.5,178.5 444.5,179.9 452.5,181.0 460.5,182.1 468.5,183.2 476.5,184.2 483.0,184.9" stroke="#e58500"/>
<polyline points="104.5,82.2 108.5,83.4 112.5,84.5 116.5,85.7 120.5,86.8 124.5,88.0 128.5,89.2 132.5,90.4 136.5,91.4 140.5,92.3 144.5,93.0 148.5,93.7 152.5,94.3 156.5,95.1 160.5,95.9 164.5,97.1 168.5,98.5 172.5,99.8 176.5,101.1 180.5,101.9 184.5,102.7 188.5,103.4 192.5,104.0 196.5,104.6 200.5,105.1 204.5,105.7 208.5,106.2 212.5,106.9 216.5,107.5 220.5,108.3 228.5,109.9 236.5,111.7 244.5,113.6 252.5,115.6 260.5,117.9 268.5,120.4 276.5,123.1 284.5,126.1 292.5,129.0 300.5,131.9 308.5,134.8 316.5,137.8 324.5,140.7 332.5,143.7 340.5,146.7 348.5,149.6 356.5,152.6 364.5,155.5 372.5,158.5 380.5,161.4 388.5,164.2 396.5,166.9 404.5,169.6 412.5,172.3 420.5,174.8 428.5,176.9 436.5,178.5 444.5,179.8 452.5,181.0 460.5,182.1 468.5,183.2 476.5,184.2 483.0,184.9" stroke="#e58700"/>
<polyline points="104.5,82.2 108.5,83.4 112.5,84.5 116.5,85.7 120.5,86.8 124.5,88.1 128.5,89.3 132.5,90.4 136.5,91.5 140.5,92.3 144.5,93.1 148.5,93.7 152.5,94.4 156.5,95.1 160.5,95.9 164.5,97.1 168.5,98.4 172.5,99.8 176.5,101.0 180.5,101.9 184.5,102.7 188.5,103.4 192.5,104.0 196.5,104.5 200.5,105.1 204.5,105.6 208.5,106.2 212.5,106.8 216.5,107.5 220.5,108.3 228.5,109.9 236.5,111.6 244.5,113.5 252.5,115.6 260.5,117.8 268.5,120.3 276.5,123.1 284.5,126.0 292.5,128.9 300.5,131.9 308.5,134.8 316.5,137.7 324.5,140.7 332.5,143.6 340.5,146.6 348.5,149.6 356.5,152.5 364.5,155.4 372.5,158.4 380.5,161.3 388.5,164.2 396.5,166.9 404.5,169.6 412.5,172.3 420.5,174.8 428.5,176.9 436.5,178.5 444.5,179.8 452.5,181.0 460.5,182.1 468.5,183.2 476.5,184.1 483.0,184.9" stroke="#e68900"/>
<polyline points="104.5,82.3 108.5,83.4 112.5,84.6 116.5,85.7 120.5,86.9 124.5,88.1 128.5,89.3 132.5,90.5 136.5,91.5 140.5,92.4 144.5,93.1 148.5,93.7 152.5,94.4 156.5,95.1 160.5,95.9 164.5,97.1 168.5,98.4 172.5,99.8 176.5,101.0 180.5,101.9 184.5,102.7 188.5,103.3 192.5,103.9 196.5,104.5 200.5,105.1 204.5,105.6 208.5,106.2 212.5,106.8 216.5,107.5 220.5,108.2 228.5,109.8 236.5,111.6 244.5,113.5 252.5,115.5 260.5,117.7 268.5,120.2 276.5,123.0 284.5,125.9 292.5,128.9 300.5,131.8 308.5,134.7 316.5,137.6 324.5,140.6 332.5,143.6 340.5,146.5 348.5,149.5 356.5,152.4 364.5,155.4 372.5,158.3 380.5,161.3 388.5,164.1 396.5,166.9 404.5,169.5 412.5,172.2 420.5,174.7 428.5,176.8 436.5,178.4 444.5,179.8 452.5,181.0 460.5,182.1 468.5,183.1 476.5,184.1 483.0,184.9" stroke="#e78c00"/>
<polyline points="104.5,82.3 108.5,83.4 112.5,84.6 116.5,85.7 120.5,86.9 124.5,88.1 128.5,89.3 132.5,90.5 136.5,91.5 140.5,92.4 144.5,93.1 148.5,93.7 152.5,94.4 156.5,95.1 160.5,95.9 164.5,97.1 168.5,98.4 172.5,99.8 176.5,101.0 180.5,101.9 184.5,102.6 188.5,103.3 192.5,103.9 196.5,104.5 200.5,105.0 204.5,105.6 208.5,106.1 212.5,106.7 216.5,107.4 220.5,108.2 228.5,109.8 236.5,111.5 244.5,113.4 252.5,115.5 260.5,117.7 268.5,120.2 276.5,122.9 284.5,125.8 292.5,128.8 300.5,131.7 308.5,134.6 316.5,137.5 324.5,140.5 332.5,143.5 340.5,146.5 348.5,149.4 356.5,152.3 364.5,155.3 372.5,158.3 380.5,161.2 388.5,164.0 396.5,166.8 404.5,169.5 412.5,172.2 420.5,174.7 428.5,176.8 436.5,178.4 444.5,179.7 452.5,180.9 460.5,182.1 468.5,183.1 476.5,184.1 483.0,184.9" stroke="#e78e00"/>
<polyline points="104.5,82.3 108.5,83.5 112.5,84.6 116.5,85.8 120.5,86.9 124.5,88.1 128.5,89.4 132.5,90.5 136.5,91.6 140.5,92.4 144.5,93.1 148.5,93.8 152.5,94.4 156.5,95.1 160.5,95.9 164.5,97.0 168.5,98.4 172.5,99.8 176.5,101.0 180.5,101.9 184.5,102.6 188.5,103.3 192.5,103.9 196.5,104.4 200.5,105.0 204.5,105.5 208.5,106.1 212.5,106.7 216.5,107.4 220.5,108.1 228.5,109.7 236.5,111.5 244.5,113.4 252.5,115.4 260.5,117.6 268.5,120.1 276.5,122.8 284.5,125.7 292.5,128.7 300.5,131.6 308.5,134.5 316.5,137.4 324.5,140.4 332.5,143.4 340.5,146.4 348.5,149.3 356.5,152.3 364.5,155.2 372.5,158.2 380.5,161.1 388.5,164.0 396.5,166.7 404.5,169.4 412.5,172.1 420.5,174.6 428.5,176.8 436.5,178.4 444.5,179.7 452.5,180.9 460.5,182.0 468.5,183.1 476.5,184.1 483.0,184.9" stroke="#e89100"/>
<polyline points="104.5,82.3 108.5,83.5 112.5,84.6 116.5,85.8 120.5,86.9 124.5,88.2 128.5,89.4 132.5,90.6 136.5,91.6 140.5,92.5 144.5,93.2 148.5,93.8 152.5,94.4 156.5,95.1 160.5,95.9 164.5,97.0 168.5,98.4 172.5,99.8 176.5,101.0 180.5,101.8 184.5,102.6 188.5,103.3 192.5,103.9 196.5,104.4 200.5,105.0 204.5,105.5 208.5,106.1 212.5,106.7 216.5,107.3 220.5,108.1 228.5,109.7 236.5,111.4 244.5,113.3 252.5,115.3 260.5,117.5 268.5,120.0 276.5,122.8 284.5,125.7 292.5,128.6 300.5,131.5 308.5,134.4 316.5,137.4 324.5,140.3 332.5,143.3 340.5,146.3 348.5,149.3 356.5,152.2 364.5,155.2 372.5,158.1 380.5,161.1 388.5,163.9 396.5,166.7 404.5,169.4 412.5,172.1 420.5,174.6 428.5,176.7 436.5,178.3 444.5,179.7 452.5,180.9 460.5,182.0 468.5,183.1 476.5,184.1 483.0,184.8" stroke="#e99400"/>
<polyline points="104.5,82.3 108.5,83.5 112.5,84.7 116.5,85.8 120.5,87.0 124.5,88.2 128.5,89.4 132.5,90.6 136.5,91.6 140.5,92.5 144.5,93.2 148.5,93.8 152.5,94.4 156.5,95.1 160.5,95.9 164.5,97.0 168.5,98.4 172.5,99.8 176.5,100.9 180.5,101.8 184.5,102.6 188.5,103.2 192.5,103.8 196.5,104.4 200.5,104.9 204.5,105.5 208.5,106.0 212.5,106.6 216.5,107.3 220.5,108.1 228.5,109.7 236.5,111.4 244.5,113.3 252.5,115.3 260.5,117.5 268.5,119.9 276.5,122.7 284.5,125.6 292.5,128.5 300.5,131.4 308.5,134.3 316.5,137.3 324.5,140.2 332.5,143.2 340.5,146.2 348.5,149.2 356.5,152.1 364.5,155.1 372.5,158.1 380.5,161.0 388.5,163.9 396.5,166.6 404.5,169.3 412.5,172.0 420.5,174.6 428.5,176.7 436.5,178.3 444.5,179.7 452.5,180.9 460.5,182.0 468.5,183.1 476.5,184.1 483.0,184.8" stroke="#e99600"/>
<polyline points="104.5,82.4 108.5,83.5 112.5,84.7 116.5,85.8 120.5,87.0 124.5,88.2 128.5,89.5 132.5,90.6 136.5,91.7 140.5,92.5 144.5,93.2 148.5,93.8 152.5,94.4 156.5,95.1 160.5,95.9 164.5,97.0 168.5,98.4 172.5,99.7 176.5,100.9 180.5,101.8 184.5,102.5 188.5,103.2 192.5,103.8 196.5,104.4 200.5,104.9 204.5,105.4 208.5,106.0 212.5,106.6 216.5,107.3 220.5,108.0 228.5,109.6 236.5,111.3 244.5,113.2 252.5,115.2 260.5,117.4 268.5,119.9 276.5,122.6 284.5,125.5 292.5,128.4 300.5,131.3 308.5,134.2 316.5,137.2 324.5,140.2 332.5,143.2 340.5,146.1 348.5,149.1 356.5,152.0 364.5,155.0 372.5,158.0 380.5,160.9 388.5,163.8 396.5,166.6 404.5,169.3 412.5,172.0 420.5,174.5 428.5,176.6 436.5,178.3 444.5,179.6 452.5,180.8 460.5,182.0 468.5,183.1 476.5,184.1 483.0,184.8" stroke="#ea9900"/>
<polyline points="104.5,82.4 108.5,83.5 112.5,84.7 116.5,85.9 120.5,87.0 124.5,88.3 128.5,89.5 132.5,90.7 136.5,91.7 140.5,92.5 144.5,93.2 148.5,93.8 152.5,94.4 156.5,95.1 160.5,95.9 164.5,97.0 168.5,98.4 172.5,99.7 176.5,100.9 180.5,101.8 184.5,102.5 188.5,103.2 192.5,103.8 196.5,104.3 200.5,104.9 204.5,105.4 208.5,105.9 212.5,106.6 216.5,107.2 220.5,108.0 228.5,109.6 236.5,111.3 244.5,113.1 252.5,115.2 260.5,117.3 268.5,119.8 276.5,122.5 284.5,125.4 292.5,128.4 300.5,131.3 308.5,134.1 316.5,137.1 324.5,140.1 332.5,143.1 340.5,146.1 348.5,149.0 356.5,152.0 364.5,154.9 372.5,157.9 380.5,160.9 388.5,163.8 396.5,166.5 404.5,169.2 412.5,171.9 420.5,174.5 428.5,176.6 436.5,178.2 444.5,179.6 452.5,180.8 460.5,182.0 468.5,183.1 476.5,184.1 483.0,184.8" stroke="#eb9b00"/>
<polyline points="104.5,82.4 108.5,83.6 112.5,84.7 116.5,85.9 120.5,87.1 124.5,88.3 128.5,89.5 132.5,90.7 136.5,91.7 140.5,92.6 144.5,93.2 148.5,93.8 152.5,94.4 156.5,95.1 160.5,95.9 164.5,97.0 168.5,98.4 172.5,99.7 176.5,100.9 180.5,101.7 184.5,102.5 188.5,103.1 192.5,103.7 196.5,104.3 200.5,104.8 204.5,105.3 208.5,105.9 212.5,106.5 216.5,107.2 220.5,107.9 228.5,109.5 236.5,111.2 244.5,113.1 252.5,115.1 260.5,117.3 268.5,119.7 276.5,122.5 284.5,125.3 292.5,128.3 300.5,131.2 308.5,134.1 316.5,137.0 324.5,140.0 332.5,143.0 340.5,146.0 348.5,148.9 356.5,151.9 364.5,154.9 372.5,157.9 380.5,160.8 388.5,163.7 396.5,166.5 404.5,169.2 412.5,171.9 420.5,174.4 428.5,176.6 436.5,178.2 444.5,179.6 452.5,180.8 460.5,181.9 468.5,183.0 476.5,184.1 483.0,184.8" stroke="#eb9e00"/>
<polyline points="104.5,82.4 108.5,83.6 112.5,84.8 116.5,85.9 120.5,87.1 124.5,88.3 128.5,89.6 132.5,90.7 136.5,91.8 140.5,92.6 144.5,93.3 148.5,93.9 152.5,94.5 156.5,95.1 160.5,95.9 164.5,97.0 168.5,98.3 172.5,99.7 176.5,100.9 180.5,101.7 184.5,102.4 188.5,103.1 192.5,103.7 196.5,104.2 200.5,104.8 204.5,105.3 208.5,105.9 212.5,106.5 216.5,107.1 220.5,107.9 228.5,109.4 236.5,111.2 244.5,113.0 252.5,115.0 260.5,117.2 268.5,119.7 276.5,122.4 284.5,125.3 292.5,128.2 300.5,131.1 308.5,134.0 316.5,136.9 324.5,139.9 332.5,142.9 340.5,145.9 348.5,148.8 356.5,151.8 364.5,154.8 372.5,157.8 380.5,160.8 388.5,163.6 396.5,166.4 404.5,169.1 412.5,171.8 420.5,174.4 428.5,176.5 436.5,178.2 444.5,179.5 452.5,180.8 460.5,181.9 468.5,183.0 476.5,184.0 483.0,184.8" stroke="#eca100"/>
<polyline points="104.5,82.5 108.5,83.6 112.5,84.8 116.5,85.9 120.5,87.1 124.5,88.3 128.5,89.6 132.5,90.8 136.5,91.8 140.5,92.6 144.5,93.3 148.5,93.9 152.5,94.5 156.5,95.1 160.5,95.9 164.5,97.0 168.5,98.3 172.5,99.7 176.5,100.8 180.5,101.7 184.5,102.4 188.5,103.1 192.5,103.7 196.5,104.2 200.5,104.7 204.5,105.3 208.5,105.8 212.5,106.4 216.5,107.1 220.5,107.8 228.5,109.4 236.5,111.1 244.5,113.0 252.5,115.0 260.5,117.1 268.5,119.6 276.5,122.3 284.5,125.2 292.5,128.1 300.5,131.0 308.5,133.9 316.5,136.8 324.5,139.8 332.5,142.8 340.5,145.8 348.5,148.8 356.5,151.7 364.5,154.7 372.5,157.7 380.5,160.7 388.5,163.6 396.5,166.4 404.5,169.1 412.5,171.8 420.5,174.3 428.5,176.5 436.5,178.1 444.5,179.5 452.5,180.7 460.5,181.9 468.5,183.0 476.5,184.0 483.0,184.8" stroke="#eda300"/>
<polyline points="104.5,82.5 108.5,83.7 112.5,84.8 116.5,86.0 120.5,87.1 124.5,88.4 128.5,89.6 132.5,90.8 136.5,91.8 140.5,92.7 144.5,93.3 148.5,93.9 152.5,94.5 156.5,95.1 160.5,95.9 164.5,97.0 168.5,98.3 172.5,99.6 176.5,100.8 180.5,101.6 184.5,102.4 188.5,103.0 192.5,103.6 196.5,104.2 200.5,104.7 204.5,105.2 208.5,105.8 212.5,106.4 216.5,107.0 220.5,107.8 228.5,109.3 236.5,111.1 244.5,112.9 252.5,114.9 260.5,117.1 268.5,119.5 276.5,122.2 284.5,125.1 292.5,128.0 300.5,130.9 308.5,133.8 316.5,136.7 324.5,139.7 332.5,142.7 340.5,145.7 348.5,148.7 356.5,151.6 364.5,154.6 372.5,157.6 380.5,160.6 388.5,163.5 396.5,166.3 404.5,169.0 412.5,171.7 420.5,174.3 428.5,176.4 436.5,178.1 444.5,179.5 452.5,180.7 460.5,181.9 468.5,183.0 476.5,184.0 483.0,184.8" stroke="#eda600"/>
<polyline points="104.5,82.5 108.5,83.7 112.5,84.8 116.5,86.0 120.5,87.2 124.5,88.4 128.5,89.7 132.5,90.8 136.5,91.9 140.5,92.7 144.5,93.3 148.5,93.9 152.5,94.5 156.5,95.1 160.5,95.9 164.5,97.0 168.5,98.3 172.5,99.6 176.5,100.8 180.5,101.6 184.5,102.3 188.5,103.0 192.5,103.6 196.5,104.1 200.5,104.6 204.5,105.2 208.5,105.7 212.5,106.3 216.5,107.0 220.5,107.7 228.5,109.3 236.5,111.0 244.5,112.8 252.5,114.8 260.5,117.0 268.5,119.4 276.5,122.1 284.5,125.0 292.5,127.9 300.5,130.8 308.5,133.7 316.5,136.6 324.5,139.6 332.5,142.6 340.5,145.6 348.5,148.6 356.5,151.6 364.5,154.6 372.5,157.6 380.5,160.5 388.5,163.4 396.5,166.2 404.5,169.0 412.5,171.7 420.5,174.2 428.5,176.4 436.5,178.1 444.5,179.5 452.5,180.7 460.5,181.9 468.5,183.0 476.5,184.0 483.0,184.7" stroke="#eea900"/>
<polyline points="104.5,82.5 108.5,83.7 112.5,84.9 116.5,86.0 120.5,87.2 124.5,88.4 128.5,89.7 132.5,90.9 136.5,91.9 140.5,92.7 144.5,93.4 148.5,93.9 152.5,94.5 156.5,95.1 160.5,95.9 164.5,97.0 168.5,98.3 172.5,99.6 176.5,100.7 180.5,101.6 184.5,102.3 188.5,102.9 192.5,103.5 196.5,104.1 200.5,104.6 204.5,105.1 208.5,105.7 212.5,106.3 216.5,106.9 220.5,107.7 228.5,109.2 236.5,110.9 244.5,112.8 252.5,114.8 260.5,116.9 268.5,119.4 276.5,122.1 284.5,124.9 292.5,127.8 300.5,130.7 308.5,133.6 316.5,136.5 324.5,139.5 332.5,142.5 340.5,145.5 348.5,148.5 356.5,151.5 364.5,154.5 372.5,157.5 380.5,160.5 388.5,163.4 396.5,166.2 404.5,168.9 412.5,171.6 420.5,174.2 428.5,176.4 436.5,178.0 444.5,179.4 452.5,180.7 460.5,181.8 468.5,182.9 476.5,184.0 483.0,184.7" stroke="#efab00"/>
<polyline points="104.5,82.6 108.5,83.7 112.5,84.9 116.5,86.0 120.5,87.2 124.5,88.5 128.5,89.7 132.5,90.9 136.5,91.9 140.5,92.7 144.5,93.4 148.5,94.0 152.5,94.5 156.5,95.2 160.5,95.9 164.5,97.0 168.5,98.3 172.5,99.6 176.5,100.7 180.5,101.5 184.5,102.3 188.5,102.9 192.5,103.5 196.5,104.0 200.5,104.6 204.5,105.1 208.5,105.6 212.5,106.2 216.5,106.9 220.5,107.6 228.5,109.2 236.5,110.9 244.5,112.7 252.5,114.7 260.5,116.8 268.5,119.3 276.5,122.0 284.5,124.8 292.5,127.7 300.5,130.6 308.5,133.5 316.5,136.4 324.5,139.4 332.5,142.4 340.5,145.4 348.5,148.4 356.5,151.4 364.5,154.4 372.5,157.4 380.5,160.4 388.5,163.3 396.5,166.1 404.5,168.8 412.5,171.6 420.5,174.2 428.5,176.3 436.5,178.0 444.5,179.4 452.5,180.6 460.5,181.8 468.5,182.9 476.5,183.9 483.0,184.7" stroke="#efae00"/>
<polyline points="104.5,82.6 108.5,83.8 112.5,84.9 116.5,86.1 120.5,87.3 124.5,88.5 128.5,89.7 132.5,90.9 136.5,91.9 140.5,92.8 144.5,93.4 148.5,94.0 152.5,94.5 156.5,95.2 160.5,95.9 164.5,97.0 168.5,98.3 172.5,99.5 176.5,100.7 180.5,101.5 184.5,102.2 188.5,102.9 192.5,103.4 196.5,104.0 200.5,104.5 204.5,105.0 208.5,105.6 212.5,106.2 216.5,106.8 220.5,107.5 228.5,109.1 236.5,110.8 244.5,112.6 252.5,114.6 260.5,116.8 268.5,119.2 276.5,121.9 284.5,124.7 292.5,127.6 300.5,130.5 308.5,133.4 316.5,136.3 324.5,139.3 332.5,142.3 340.5,145.3 348.5,148.3 356.5,151.3 364.5,154.3 372.5,157.3 380.5,160.3 388.5,163.2 396.5,166.1 404.5,168.8 412.5,171.5 420.5,174.1 428.5,176.3 436.5,178.0 444.5,179.4 452.5,180.6 460.5,181.8 468.5,182.9 476.5,183.9 483.0,184.7" stroke="#f0b100"/>
<polyline points="104.5,82.6 108.5,83.8 112.5,84.9 116.5,86.1 120.5,87.3 124.5,88.5 128.5,89.8 132.5,91.0 136.5,92.0 140.5,92.8 144.5,93.4 148.5,94.0 152.5,94.6 156.5,95.2 160.5,95.9 164.5,97.0 168.5,98.2 172.5,99.5 176.5,100.6 180.5,101.5 184.5,102.2 188.5,102.8 192.5,103.4 196.5,103.9 200.5,104.4 204.5,105.0 208.5,105.5 212.5,106.1 216.5,106.8 220.5,107.5 228.5,109.0 236.5,110.7 244.5,112.6 252.5,114.6 260.5,116.7 268.5,119.1 276.5,121.8 284.5,124.6 292.5,127.5 300.5,130.4 308.5,133.3 316.5,136.2 324.5,139.2 332.5,142.2 340.5,145.2 348.5,148.2 356.5,151.2 364.5,154.2 372.5,157.2 380.5,160.2 388.5,163.2 396.5,166.0 404.5,168.7 412.5,171.5 420.5,174.1 428.5,176.2 436.5,177.9 444.5,179.3 452.5,180.6 460.5,181.8 468.5,182.9 476.5,183.9 483.0,184.6" stroke="#f1b400"/>
<polyline points="104.5,82.7 108.5,83.8 112.5,85.0 116.5,86.1 120.5,87.3 124.5,88.6 128.5,89.8 132.5,91.0 136.5,92.0 140.5,92.8 144.5,93.5 148.5,94.0 152.5,94.6 156.5,95.2 160.5,96.0 164.5,97.0 168.5,98.2 172.5,99.5 176.5,100.6 180.5,101.4 184.5,102.1 188.5,102.8 192.5,103.3 196.5,103.9 200.5,104.4 204.5,104.9 208.5,105.5 212.5,106.1 216.5,106.7 220.5,107.4 228.5,109.0 236.5,110.7 244.5,112.5 252.5,114.5 260.5,116.6 268.5,119.0 276.5,121.7 284.5,124.6 292.5,127.5 300.5,130.3 308.5,133.2 316.5,136.1 324.5,139.1 332.5,142.1 340.5,145.1 348.5,148.1 356.5,151.1 364.5,154.1 372.5,157.2 380.5,160.2 388.5,163.1 396.5,165.9 404.5,168.7 412.5,171.4 420.5,174.0 428.5,176.2 436.5,177.9 444.5,179.3 452.5,180.6 460.5,181.7 468.5,182.9 476.5,183.9 483.0,184.6" stroke="#f1b700"/>
<polyline points="104.5,82.7 108.5,83.9 112.5,85.0 116.5,86.2 120.5,87.3 124.5,88.6 128.5,89.8 132.5,91.0 136.5,92.0 140.5,92.8 144.5,93.5 148.5,94.0 152.5,94.6 156.5,95.2 160.5,96.0 164.5,97.0 168.5,98.2 172.5,99.5 176.5,100.6 180.5,101.4 184.5,102.1 188.5,102.7 192.5,103.3 196.5,103.8 200.5,104.3 204.5,104.9 208.5,105.4 212.5,106.0 216.5,106.6 220.5,107.4 228.5,108.9 236.5,110.6 244.5,112.4 252.5,114.4 260.5,116.6 268.5,119.0 276.5,121.6 284.5,124.5 292.5,127.4 300.5,130.2 308.5,133.1 316.5,136.0 324.5,139.0 332.5,142.0 340.5,145.0 348.5,148.0 356.5,151.0 364.5,154.0 372.5,157.1 380.5,160.1 388.5,163.0 396.5,165.9 404.5,168.6 412.5,171.4 420.5,174.0 428.5,176.2 436.5,177.9 444.5,179.3 452.5,180.5 460.5,181.7 468.5,182.8 476.5,183.8 483.0,184.6" stroke="#f2ba00"/>
<polyline points="104.5,82.7 108.5,83.9 112.5,85.0 116.5,86.2 120.5,87.4 124.5,88.6 128.5,89.9 132.5,91.0 136.5,92.1 140.5,92.9 144.5,93.5 148.5,94.1 152.5,94.6 156.5,95.2 160.5,96.0 164.5,97.0 168.5,98.2 172.5,99.4 176.5,100.5 180.5,101.3 184.5,102.0 188.5,102.7 192.5,103.2 196.5,103.8 200.5,104.3 204.5,104.8 208.5,105.4 212.5,105.9 216.5,106.6 220.5,107.3 228.5,108.9 236.5,110.5 244.5,112.4 252.5,114.3 260.5,116.5 268.5,118.9 276.5,121.6 284.5,124.4 292.5,127.3 300.5,130.1 308.5,133.0 316.5,135.9 324.5,138.9 332.5,141.9 340.5,144.9 348.5,147.9 356.5,150.9 364.5,153.9 372.5,157.0 380.5,160.0 388.5,163.0 396.5,165.8 404.5,168.5 412.5,171.3 420.5,173.9 428.5,176.1 436.5,177.8 444.5,179.3 452.5,180.5 460.5,181.7 468.5,182.8 476.5,183.8 483.0,184.6" stroke="#f2bc00"/>
<polyline points="104.5,82.8 108.5,83.9 112.5,85.1 116.5,86.2 120.5,87.4 124.5,88.6 128.5,89.9 132.5,91.1 136.5,92.1 140.5,92.9 144.5,93.5 148.5,94.1 152.5,94.6 156.5,95.2 160.5,96.0 164.5,97.0 168.5,98.2 172.5,99.4 176.5,100.5 180.5,101.3 184.5,102.0 188.5,102.6 192.5,103.2 196.5,103.7 200.5,104.2 204.5,104.8 208.5,105.3 212.5,105.9 216.5,106.5 220.5,107.2 228.5,108.8 236.5,110.5 244.5,112.3 252.5,114.3 260.5,116.4 268.5,118.8 276.5,121.5 284.5,124.3 292.5,127.2 300.5,130.0 308.5,132.9 316.5,135.8 324.5,138.8 332.5,141.8 340.5,144.8 348.5,147.8 356.5,150.8 364.5,153.9 372.5,156.9 380.5,159.9 388.5,162.9 396.5,165.7 404.5,168.5 412.5,171.3 420.5,173.9 428.5,176.1 436.5,177.8 444.5,179.2 452.5,180.5 460.5,181.7 468.5,182.8 476.5,183.8 483.0,184.5" stroke="#f3bf00"/>
<polyline points="104.5,82.8 108.5,83.9 112.5,85.1 116.5,86.2 120.5,87.4 124.5,88.7 128.5,89.9 132.5,91.1 136.5,92.1 140.5,92.9 144.5,93.6 148.5,94.1 152.5,94.6 156.5,95.3 160.5,96.0 164.5,97.0 168.5,98.2 172.5,99.4 176.5,100.4 180.5,101.3 184.5,101.9 188.5,102.6 192.5,103.1 196.5,103.7 200.5,104.2 204.5,104.7 208.5,105.2 212.5,105.8 216.5,106.5 220.5,107.2 228.5,108.7 236.5,110.4 244.5,112.2 252.5,114.2 260.5,116.3 268.5,118.7 276.5,121.4 284.5,124.2 292.5,127.1 300.5,129.9 308.5,132.8 316.5,135.7 324.5,138.7 332.5,141.7 340.5,144.7 348.5,147.7 356.5,150.7 364.5,153.8 372.5,156.8 380.5,159.8 388.5,162.8 396.5,165.7 404.5,168.4 412.5,171.2 420.5,173.8 428.5,176.1 436.5,177.8 444.5,179.2 452.5,180.5 460.5,181.7 468.5,182.8 476.5,183.8 483.0,184.5" stroke="#f4c200"/>
<polyline points="104.5,82.8 108.5,84.0 112.5,85.1 116.5,86.3 120.5,87.5 124.5,88.7 128.5,90.0 132.5,91.1 136.5,92.1 140.5,92.9 144.5,93.6 148.5,94.1 152.5,94.7 156.5,95.3 160.5,96.0 164.5,97.0 168.5,98.2 172.5,99.4 176.5,100.4 180.5,101.2 184.5,101.9 188.5,102.5 192.5,103.1 196.5,103.6 200.5,104.1 204.5,104.6 208.5,105.2 212.5,105.8 216.5,106.4 220.5,107.1 228.5,108.7 236.5,110.3 244.5,112.2 252.5,114.1 260.5,116.3 268.5,118.7 276.5,121.3 284.5,124.1 292.5,127.0 300.5,129.8 308.5,132.7 316.5,135.6 324.5,138.6 332.5,141.6 340.5,144.6 348.5,147.6 356.5,150.6 364.5,153.7 372.5,156.7 380.5,159.8 388.5,162.7 396.5,165.6 404.5,168.4 412.5,171.2 420.5,173.8 428.5,176.0 436.5,177.7 444.5,179.2 452.5,180.5 460.5,181.6 468.5,182.7 476.5,183.7 483.0,184.5" stroke="#f4c500"/>
<polyline points="104.5,82.8 108.5,84.0 112.5,85.2 116.5,86.3 120.5,87.5 124.5,88.7 128.5,90.0 132.5,91.2 136.5,92.2 140.5,93.0 144.5,93.6 148.5,94.1 152.5,94.7 156.5,95.3 160.5,96.0 164.5,97.0 168.5,98.1 172.5,99.3 176.5,100.4 180.5,101.2 184.5,101.8 188.5,102.5 192.5,103.0 196.5,103.6 200.5,104.1 204.5,104.6 208.5,105.1 212.5,105.7 216.5,106.3 220.5,107.1 228.5,108.6 236.5,110.3 244.5,112.1 252.5,114.1 260.5,116.2 268.5,118.6 276.5,121.2 284.5,124.0 292.5,126.9 300.5,129.7 308.5,132.6 316.5,135.5 324.5,138.5 332.5,141.5 340.5,144.5 348.5,147.5 356.5,150.5 364.5,153.6 372.5,156.7 380.5,159.7 388.5,162.7 396.5,165.5 404.5,168.3 412.5,171.1 420.5,173.8 428.5,176.0 436.5,177.7 444.5,179.1 452.5,180.4 460.5,181.6 468.5,182.7 476.5,183.7 483.0,184.4" stroke="#f5c800"/>
<polyline points="104.5,82.9 108.5,84.0 112.5,85.2 116.5,86.3 120.5,87.5 124.5,88.8 128.5,90.0 132.5,91.2 136.5,92.2 140.5,93.0 144.5,93.6 148.5,94.2 152.5,94.7 156.5,95.3 160.5,96.0 164.5,97.0 168.5,98.1 172.5,99.3 176.5,100.3 180.5,101.1 184.5,101.8 188.5,102.4 192.5,103.0 196.5,103.5 200.5,104.0 204.5,104.5 208.5,105.1 212.5,105.6 216.5,106.3 220.5,107.0 228.5,108.5 236.5,110.2 244.5,112.0 252.5,114.0 260.5,116.1 268.5,118.5 276.5,121.1 284.5,123.9 292.5,126.8 300.5,129.6 308.5,132.5 316.5,135.4 324.5,138.4 332.5,141.4 340.5,144.4 348.5,147.4 356.5,150.4 364.5,153.5 372.5,156.6 380.5,159.6 388.5,162.6 396.5,165.5 404.5,168.2 412.5,171.1 420.5,173.7 428.5,175.9 436.5,177.7 444.5,179.1 452.5,180.4 460.5,181.6 468.5,182.7 476.5,183.7 483.0,184.4" stroke="#f6cb00"/>
<polyline points="104.5,82.9 108.5,84.1 112.5,85.2 116.5,86.4 120.5,87.5 124.5,88.8 128.5,90.1 132.5,91.2 136.5,92.2 140.5,93.0 144.5,93.6 148.5,94.2 152.5,94.7 156.5,95.3 160.5,96.0 164.5,97.0 168.5,98.1 172.5,99.3 176.5,100.3 180.5,101.1 184.5,101.7 188.5,102.4 192.5,102.9 196.5,103.4 200.5,104.0 204.5,104.5 208.5,105.0 212.5,105.6 216.5,106.2 220.5,106.9 228.5,108.5 236.5,110.1 244.5,112.0 252.5,113.9 260.5,116.0 268.5,118.4 276.5,121.1 284.5,123.8 292.5,126.7 300.5,129.5 308.5,132.4 316.5,135.3 324.5,138.3 332.5,141.3 340.5,144.3 348.5,147.3 356.5,150.4 364.5,153.4 372.5,156.5 380.5,159.5 388.5,162.5 396.5,165.4 404.5,168.2 412.5,171.0 420.5,173.7 428.5,175.9 436.5,177.6 444.5,179.1 452.5,180.4 460.5,181.6 468.5,182.7 476.5,183.7 483.0,184.4" stroke="#f6ce00"/>
<polyline points="104.5,82.9 108.5,84.1 112.5,85.2 116.5,86.4 120.5,87.6 124.5,88.8 128.5,90.1 132.5,91.3 136.5,92.3 140.5,93.0 144.5,93.7 148.5,94.2 152.5,94.7 156.5,95.3 160.5,96.0 164.5,97.0 168.5,98.1 172.5,99.2 176.5,100.2 180.5,101.0 184.5,101.7 188.5,102.3 192.5,102.9 196.5,103.4 200.5,103.9 204.5,104.4 208.5,104.9 212.5,105.5 216.5,106.2 220.5,106.9 228.5,108.4 236.5,110.1 244.5,111.9 252.5,113.9 260.5,116.0 268.5,118.3 276.5,121.0 284.5,123.8 292.5,126.6 300.5,129.4 308.5,132.3 316.5,135.2 324.5,138.2 332.5,141.2 340.5,144.2 348.5,147.2 356.5,150.3 364.5,153.3 372.5,156.4 380.5,159.4 388.5,162.4 396.5,165.3 404.5,168.1 412.5,171.0 420.5,173.6 428.5,175.9 436.5,177.6 444.5,179.1 452.5,180.4 460.5,181.5 468.5,182.6 476.5,183.6 483.0,184.4" stroke="#f7d100"/>
<polyline points="104.5,83.0 108.5,84.1 112.5,85.3 116.5,86.4 120.5,87.6 124.5,88.9 128.5,90.1 132.5,91.3 136.5,92.3 140.5,93.1 144.5,93.7 148.5,94.2 152.5,94.7 156.5,95.3 160.5,96.0 164.5,97.0 168.5,98.1 172.5,99.2 176.5,100.2 180.5,101.0 184.5,101.6 188.5,102.2 192.5,102.8 196.5,103.3 200.5,103.8 204.5,104.3 208.5,104.9 212.5,105.5 216.5,106.1 220.5,106.8 228.5,108.3 236.5,110.0 244.5,111.8 252.5,113.8 260.5,115.9 268.5,118.3 276.5,120.9 284.5,123.7 292.5,126.5 300.5,129.3 308.5,132.2 316.5,135.1 324.5,138.1 332.5,141.1 340.5,144.1 348.5,147.1 356.5,150.2 364.5,153.2 372.5,156.3 380.5,159.4 388.5,162.4 396.5,165.3 404.5,168.1 412.5,170.9 420.5,173.6 428.5,175.8 436.5,177.6 444.5,179.0 452.5,180.3 460.5,181.5 468.5,182.6 476.5,183.6 483.0,184.3" stroke="#f7d400"/>
<polyline points="104.5,83.0 108.5,84.1 112.5,85.3 116.5,86.5 120.5,87.6 124.5,88.9 128.5,90.1 132.5,91.3 136.5,92.3 140.5,93.1 144.5,93.7 148.5,94.2 152.5,94.8 156.5,95.3 160.5,96.0 164.5,97.0 168.5,98.1 172.5,99.2 176.5,100.2 180.5,100.9 184.5,101.6 188.5,102.2 192.5,102.7 196.5,103.3 200.5,103.8 204.5,104.3 208.5,104.8 212.5,105.4 216.5,106.0 220.5,106.7 228.5,108.3 236.5,109.9 244.5,111.8 252.5,113.7 260.5,115.8 268.5,118.2 276.5,120.8 284.5,123.6 292.5,126.4 300.5,129.2 308.5,132.1 316.5,135.0 324.5,138.0 332.5,141.0 340.5,144.0 348.5,147.1 356.5,150.1 364.5,153.1 372.5,156.2 380.5,159.3 388.5,162.3 396.5,165.2 404.5,168.0 412.5,170.9 420.5,173.5 428.5,175.8 436.5,177.5 444.5,179.0 452.5,180.3 460.5,181.5 468.5,182.6 476.5,183.6 483.0,184.3" stroke="#f8d700"/>
<polyline points="104.5,83.0 108.5,84.2 112.5,85.3 116.5,86.5 120.5,87.7 124.5,88.9 128.5,90.2 132.5,91.4 136.5,92.4 140.5,93.1 144.5,93.7 148.5,94.3 152.5,94.8 156.5,95.3 160.5,96.0 164.5,97.0 168.5,98.0 172.5,99.1 176.5,100.1 180.5,100.9 184.5,101.5 188.5,102.1 192.5,102.7 196.5,103.2 200.5,103.7 204.5,104.2 208.5,104.8 212.5,105.3 216.5,106.0 220.5,106.7 228.5,108.2 236.5,109.9 244.5,111.7 252.5,113.6 260.5,115.7 268.5,118.1 276.5,120.7 284.5,123.5 292.5,126.3 300.5,129.1 308.5,132.0 316.5,134.9 324.5,137.9 332.5,140.9 340.5,143.9 348.5,147.0 356.5,150.0 364.5,153.0 372.5,156.1 380.5,159.2 388.5,162.2 396.5,165.1 404.5,167.9 412.5,170.8 420.5,173.5 428.5,175.8 436.5,177.5 444.5,179.0 452.5,180.3 460.5,181.5 468.5,182.6 476.5,183.5 483.0,184.2" stroke="#f9da00"/>
<polyline points="104.5,83.0 108.5,84.2 112.5,85.4 116.5,86.5 120.5,87.7 124.5,88.9 128.5,90.2 132.5,91.4 136.5,92.4 140.5,93.2 144.5,93.8 148.5,94.3 152.5,94.8 156.5,95.4 160.5,96.0 164.5,97.0 168.5,98.0 172.5,99.1 176.5,100.1 180.5,100.8 184.5,101.5 188.5,102.1 192.5,102.6 196.5,103.1 200.5,103.7 204.5,104.2 208.5,104.7 212.5,105.3 216.5,105.9 220.5,106.6 228.5,108.1 236.5,109.8 244.5,111.6 252.5,113.6 260.5,115.7 268.5,118.0 276.5,120.6 284.5,123.4 292.5,126.2 300.5,129.1 308.5,131.9 316.5,134.8 324.5,137.8 332.5,140.8 340.5,143.8 348.5,146.9 356.5,149.9 364.5,152.9 372.5,156.0 380.5,159.1 388.5,162.1 396.5,165.0 404.5,167.9 412.5,170.8 420.5,173.5 428.5,175.7 436.5,177.5 444.5,179.0 452.5,180.3 460.5,181.4 468.5,182.5 476.5,183.5 483.0,184.2" stroke="#f9de00"/>
<polyline points="104.5,83.1 108.5,84.2 112.5,85.4 116.5,86.5 120.5,87.7 124.5,89.0 128.5,90.2 132.5,91.4 136.5,92.4 140.5,93.2 144.5,93.8 148.5,94.3 152.5,94.8 156.5,95.4 160.5,96.1 164.5,96.9 168.5,98.0 172.5,99.1 176.5,100.0 180.5,100.8 184.5,101.4 188.5,102.0 192.5,102.6 196.5,103.1 200.5,103.6 204.5,104.1 208.5,104.6 212.5,105.2 216.5,105.8 220.5,106.5 228.5,108.1 236.5,109.7 244.5,111.6 252.5,113.5 260.5,115.6 268.5,118.0 276.5,120.6 284.5,123.3 292.5,126.1 300.5,129.0 308.5,131.8 316.5,134.7 324.5,137.7 332.5,140.7 340.5,143.7 348.5,146.7 356.5,149.8 364.5,152.9 372.5,156.0 380.5,159.0 388.5,162.1 396.5,165.0 404.5,167.8 412.5,170.7 420.5,173.4 428.5,175.7 436.5,177.4 444.5,178.9 452.5,180.2 460.5,181.4 468.5,182.5 476.5,183.5 483.0,184.2" stroke="#fae100"/>
<polyline points="104.5,83.1 108.5,84.3 112.5,85.4 116.5,86.6 120.5,87.7 124.5,89.0 128.5,90.3 132.5,91.4 136.5,92.4 140.5,93.2 144.5,93.8 148.5,94.3 152.5,94.8 156.5,95.4 160.5,96.1 164.5,96.9 168.5,98.0 172.5,99.0 176.5,100.0 180.5,100.7 184.5,101.4 188.5,102.0 192.5,102.5 196.5,103.0 200.5,103.5 204.5,104.0 208.5,104.6 212.5,105.1 216.5,105.8 220.5,106.5 228.5,108.0 236.5,109.7 244.5,111.5 252.5,113.4 260.5,115.5 268.5,117.9 276.5,120.5 284.5,123.2 292.5,126.0 300.5,128.9 308.5,131.7 316.5,134.6 324.5,137.6 332.5,140.6 340.5,143.6 348.5,146.6 356.5,149.7 364.5,152.8 372.5,155.9 380.5,158.9 388.5,162.0 396.5,164.9 404.5,167.7 412.5,170.6 420.5,173.4 428.5,175.7 436.5,177.4 444.5,178.9 452.5,180.2 460.5,181.4 468.5,182.5 476.5,183.4 483.0,184.1" stroke="#fae400"/>
<polyline points="104.5,83.1 108.5,84.3 112.5,85.4 116.5,86.6 120.5,87.8 124.5,89.0 128.5,90.3 132.5,91.5 136.5,92.5 140.5,93.2 144.5,93.8 148.5,94.4 152.5,94.9 156.5,95.4 160.5,96.1 164.5,96.9 168.5,98.0 172.5,99.0 176.5,99.9 180.5,100.7 184.5,101.3 188.5,101.9 192.5,102.4 196.5,103.0 200.5,103.5 204.5,104.0 208.5,104.5 212.5,105.1 216.5,105.7 220.5,106.4 228.5,107.9 236.5,109.6 244.5,111.4 252.5,113.4 260.5,115.5 268.5,117.8 276.5,120.4 284.5,123.1 292.5,126.0 300.5,128.8 308.5,131.6 316.5,134.5 324.5,137.5 332.5,140.5 340.5,143.5 348.5,146.5 356.5,149.6 364.5,152.7 372.5,155.8 380.5,158.9 388.5,161.9 396.5,164.8 404.5,167.7 412.5,170.6 420.5,173.3 428.5,175.6 436.5,177.4 444.5,178.9 452.5,180.2 460.5,181.4 468.5,182.4 476.5,183.4 483.0,184.1" stroke="#fbe700"/>
<polyline points="104.5,83.2 108.5,84.3 112.5,85.5 116.5,86.6 120.5,87.8 124.5,89.1 128.5,90.3 132.5,91.5 136.5,92.5 140.5,93.3 144.5,93.9 148.5,94.4 152.5,94.9 156.5,95.4 160.5,96.1 164.5,96.9 168.5,97.9 172.5,99.0 176.5,99.9 180.5,100.6 184.5,101.2 188.5,101.8 192.5,102.4 196.5,102.9 200.5,103.4 204.5,103.9 208.5,104.4 212.5,105.0 216.5,105.6 220.5,106.3 228.5,107.9 236.5,109.5 244.5,111.3 252.5,113.3 260.5,115.4 268.5,117.7 276.5,120.3 284.5,123.1 292.5,125.9 300.5,128.7 308.5,131.5 316.5,134.4 324.5,137.4 332.5,140.4 340.5,143.4 348.5,146.4 356.5,149.5 364.5,152.6 372.5,155.7 380.5,158.8 388.5,161.8 396.5,164.8 404.5,167.6 412.5,170.5 420.5,173.3 428.5,175.6 436.5,177.4 444.5,178.9 452.5,180.2 460.5,181.3 468.5,182.4 476.5,183.4 483.0,184.0" stroke="#fbea00"/>
<polyline points="104.5,83.2 108.5,84.3 112.5,85.5 116.5,86.7 120.5,87.8 124.5,89.1 128.5,90.4 132.5,91.5 136.5,92.5 140.5,93.3 144.5,93.9 148.5,94.4 152.5,94.9 156.5,95.4 160.5,96.1 164.5,96.9 168.5,97.9 172.5,98.9 176.5,99.8 180.5,100.5 184.5,101.2 188.5,101.8 192.5,102.3 196.5,102.8 200.5,103.3 204.5,103.8 208.5,104.4 212.5,105.0 216.5,105.6 220.5,106.3 228.5,107.8 236.5,109.5 244.5,111.3 252.5,113.2 260.5,115.3 268.5,117.7 276.5,120.2 284.5,123.0 292.5,125.8 300.5,128.6 308.5,131.4 316.5,134.3 324.5,137.3 332.5,140.3 340.5,143.3 348.5,146.3 356.5,149.4 364.5,152.5 372.5,155.6 380.5,158.7 388.5,161.7 396.5,164.7 404.5,167.6 412.5,170.5 420.5,173.2 428.5,175.6 436.5,177.3 444.5,178.8 452.5,180.1 460.5,181.3 468.5,182.4 476.5,183.3 483.0,184.0" stroke="#fcee00"/>
<polyline points="104.5,83.2 108.5,84.4 112.5,85.5 116.5,86.7 120.5,87.9 124.5,89.1 128.5,90.4 132.5,91.6 136.5,92.6 140.5,93.3 144.5,93.9 148.5,94.4 152.5,94.9 156.5,95.4 160.5,96.1 164.5,96.9 168.5,97.9 172.5,98.9 176.5,99.8 180.5,100.5 184.5,101.1 188.5,101.7 192.5,102.2 196.5,102.8 200.5,103.3 204.5,103.8 208.5,104.3 212.5,104.9 216.5,105.5 220.5,106.2 228.5,107.7 236.5,109.4 244.5,111.2 252.5,113.2 260.5,115.2 268.5,117.6 276.5,120.2 284.5,122.9 292.5,125.7 300.5,128.5 308.5,131.3 316.5,134.2 324.5,137.2 332.5,140.2 340.5,143.2 348.5,146.2 356.5,149.3 364.5,152.4 372.5,155.5 380.5,158.6 388.5,161.7 396.5,164.6 404.5,167.5 412.5,170.4 420.5,173.2 428.5,175.5 436.5,177.3 444.5,178.8 452.5,180.1 460.5,181.3 468.5,182.4 476.5,183.3 483.0,184.0" stroke="#fdf100"/>
</g>
<polyline points="104.5,83.2 108.5,84.4 112.5,85.6 116.5,86.7 120.5,87.9 124.5,89.2 128.5,90.4 132.5,91.6 136.5,92.6 140.5,93.3 144.5,93.9 148.5,94.4 152.5,94.9 156.5,95.4 160.5,96.1 164.5,96.9 168.5,97.9 172.5,98.8 176.5,99.7 180.5,100.4 184.5,101.1 188.5,101.6 192.5,102.2 196.5,102.7 200.5,103.2 204.5,103.7 208.5,104.2 212.5,104.8 216.5,105.4 220.5,106.1 228.5,107.7 236.5,109.3 244.5,111.1 252.5,113.1 260.5,115.2 268.5,117.5 276.5,120.1 284.5,122.8 292.5,125.6 300.5,128.4 308.5,131.2 316.5,134.1 324.5,137.1 332.5,140.1 340.5,143.1 348.5,146.1 356.5,149.2 364.5,152.3 372.5,155.4 380.5,158.5 388.5,161.6 396.5,164.5 404.5,167.4 412.5,170.4 420.5,173.2 428.5,175.5 436.5,177.3 444.5,178.8 452.5,180.1 460.5,181.3 468.5,182.3 476.5,183.3 483.0,183.9" stroke="#fdf400"/>
</g>
<polyline points="170.5,98.71 172.5,99.07 174.5,99.42 176.5,99.76 178.5,100.08 180.5,100.39 182.5,100.69 184.5,100.98 186.5,101.26 188.5,101.54 190.5,101.81 192.5,102.07 194.5,102.33 196.5,102.59 198.5,102.85 200.5,103.11 202.5,103.38 204.5,103.65 206.5,103.93 208.5,104.21 210.5,104.50 212.5,104.80 214.5,105.12 216.5,105.44 218.5,105.79 220.5,106.14 222.5,106.50 224.5,106.88 226.5,107.26 228.5,107.66 230.5,108.06 232.5,108.47 234.5,108.89 236.5,109.32 238.5,109.76 240.5,110.21 242.5,110.67 244.5,111.14 246.5,111.61 248.5,112.10 250.5,112.59 252.5,113.09 254.5,113.59 256.5,114.11 258.5,114.63 260.5,115.17 262.5,115.73 264.5,116.31 266.5,116.90 268.5,117.51 270.5,118.13 272.5,118.77 274.5,119.42 276.5,120.07 278.5,120.74 280.5,121.42 282.5,122.10 284.5,122.79 286.5,123.48 288.5,124.18 290.5,124.88 292.5,125.58 294.5,126.28 296.5,126.98 298.5,127.68 300.5,128.37 302.5,129.07 304.5,129.77 306.5,130.48 308.5,131.20 310.5,131.92 312.5,132.64 314.5,133.37 316.5,134.11 318.5,134.84 320.5,135.59 322.5,136.33 324.5,137.08 326.5,137.83 328.5,138.58 330.5,139.33 332.5,140.09 334.5,140.84 336.5,141.60 338.5,142.36 340.5,143.11 342.5,143.87 344.5,144.63 346.5,145.38 348.5,146.14 350.5,146.89 352.5,147.64 354.5,148.41 356.5,149.17 358.5,149.94 360.5,150.72 362.5,151.50 364.5,152.27 366.5,153.06 368.5,153.84 370.5,154.62 372.5,155.40 374.5,156.19 376.5,156.97 378.5,157.74 380.5,158.52 382.5,159.29 384.5,160.06 386.5,160.82 388.5,161.58 390.5,162.33 392.5,163.08 394.5,163.81 396.5,164.54 398.5,165.26 400.5,165.98 402.5,166.70 404.5,167.43 406.5,168.17 408.5,168.91 410.5,169.65 412.5,170.38 414.5,171.11 416.5,171.81 418.5,172.50 420.5,173.16 422.5,173.80 424.5,174.40 426.5,174.96 428.5,175.49 430.5,175.97 432.5,176.42 434.5,176.85 436.5,177.27 438.5,177.67 440.5,178.06 442.5,178.43 444.5,178.79 446.5,179.13 448.5,179.46 450.5,179.79 452.5,180.10 454.5,180.40 456.5,180.70 458.5,180.99 460.5,181.27 462.5,181.54 464.5,181.81 466.5,182.07 468.5,182.33 470.5,182.57 472.5,182.81 474.5,183.04 476.5,183.26 478.5,183.47 480.5,183.67 482.5,183.86 483.0,183.91" stroke="#fdf400"/>
</g>
<defs><linearGradient id="cb" x1="0" y1="1" x2="0" y2="0">
<stop offset="0.0000" stop-color="#000000"/>
<stop offset="0.0156" stop-color="#200019"/>
<stop offset="0.0312" stop-color="#2d0032"/>
<stop offset="0.0469" stop-color="#37004a"/>
<stop offset="0.0625" stop-color="#400062"/>
<stop offset="0.0781" stop-color="#470078"/>
<stop offset="0.0938" stop-color="#4e008e"/>
<stop offset="0.1094" stop-color="#5400a2"/>
<stop offset="0.1250" stop-color="#5a00b4"/>
<stop offset="0.1406" stop-color="#6001c5"/>
<stop offset="0.1562" stop-color="#6501d4"/>
<stop offset="0.1719" stop-color="#6a01e1"/>
<stop offset="0.1875" stop-color="#6e02ec"/>
<stop offset="0.2031" stop-color="#7302f4"/>
<stop offset="0.2188" stop-color="#7703fa"/>
<stop offset="0.2344" stop-color="#7b03fe"/>
<stop offset="0.2500" stop-color="#8004ff"/>
<stop offset="0.2656" stop-color="#8305fe"/>
<stop offset="0.2812" stop-color="#8706fa"/>
<stop offset="0.2969" stop-color="#8b07f4"/>
<stop offset="0.3125" stop-color="#8f08ec"/>
<stop offset="0.3281" stop-color="#9209e1"/>
<stop offset="0.3438" stop-color="#960ad4"/>
<stop offset="0.3594" stop-color="#990cc5"/>
<stop offset="0.3750" stop-color="#9c0db4"/>
<stop offset="0.3906" stop-color="#9f0fa2"/>
<stop offset="0.4062" stop-color="#a3118e"/>
<stop offset="0.4219" stop-color="#a61378"/>
<stop offset="0.4375" stop-color="#a91562"/>
<stop offset="0.4531" stop-color="#ac184a"/>
<stop offset="0.4688" stop-color="#af1a32"/>
<stop offset="0.4844" stop-color="#b11d19"/>
<stop offset="0.5000" stop-color="#b42000"/>
<stop offset="0.5156" stop-color="#b72300"/>
<stop offset="0.5312" stop-color="#ba2600"/>
<stop offset="0.5469" stop-color="#bd2a00"/>
<stop offset="0.5625" stop-color="#bf2d00"/>
<stop offset="0.5781" stop-color="#c23100"/>
<stop offset="0.5938" stop-color="#c43500"/>
<stop offset="0.6094" stop-color="#c73a00"/>
<stop offset="0.6250" stop-color="#ca3e00"/>
<stop offset="0.6406" stop-color="#cc4300"/>
<stop offset="0.6562" stop-color="#cf4800"/>
<stop offset="0.6719" stop-color="#d14d00"/>
<stop offset="0.6875" stop-color="#d35300"/>
<stop offset="0.7031" stop-color="#d65900"/>
<stop offset="0.7188" stop-color="#d85f00"/>
<stop offset="0.7344" stop-color="#db6500"/>
<stop offset="0.7500" stop-color="#dd6c00"/>
<stop offset="0.7656" stop-color="#df7200"/>
<stop offset="0.7812" stop-color="#e17a00"/>
<stop offset="0.7969" stop-color="#e48100"/>
<stop offset="0.8125" stop-color="#e68900"/>
<stop offset="0.8281" stop-color="#e89100"/>
<stop offset="0.8438" stop-color="#ea9900"/>
<stop offset="0.8594" stop-color="#eca200"/>
<stop offset="0.8750" stop-color="#efab00"/>
<stop offset="0.8906" stop-color="#f1b400"/>
<stop offset="0.9062" stop-color="#f3be00"/>
<stop offset="0.9219" stop-color="#f5c800"/>
<stop offset="0.9375" stop-color="#f7d200"/>
<stop offset="0.9531" stop-color="#f9dd00"/>
<stop offset="0.9688" stop-color="#fbe800"/>
<stop offset="0.9844" stop-color="#fdf300"/>
<stop offset="1.0000" stop-color="#ffff00"/>
</linearGradient></defs>
<rect x="493.2" y="20.0" width="19.0" height="345.4" fill="url(#cb)"/>
<path d="M493.2 363.24H512.2M493.2 361.08H512.2M493.2 358.92H512.2M493.2 356.76H512.2M493.2 354.61H512.2M493.2 352.45H512.2M493.2 350.29H512.2M493.2 348.13H512.2M493.2 345.97H512.2M493.2 343.81H512.2M493.2 341.65H512.2M493.2 339.50H512.2M493.2 337.34H512.2M493.2 335.18H512.2M493.2 333.02H512.2M493.2 330.86H512.2M493.2 328.70H512.2M493.2 326.54H512.2M493.2 324.38H512.2M493.2 322.22H512.2M493.2 320.07H512.2M493.2 317.91H512.2M493.2 315.75H512.2M493.2 313.59H512.2M493.2 311.43H512.2M493.2 309.27H512.2M493.2 307.11H512.2M493.2 304.95H512.2M493.2 302.80H512.2M493.2 300.64H512.2M493.2 298.48H512.2M493.2 296.32H512.2M493.2 294.16H512.2M493.2 292.00H512.2M493.2 289.84H512.2M493.2 287.68H512.2M493.2 285.53H512.2M493.2 283.37H512.2M493.2 281.21H512.2M493.2 279.05H512.2M493.2 276.89H512.2M493.2 274.73H512.2M493.2 272.57H512.2M493.2 270.41H512.2M493.2 268.26H512.2M493.2 266.10H512.2M493.2 263.94H512.2M493.2 261.78H512.2M493.2 259.62H512.2M493.2 257.46H512.2M493.2 255.30H512.2M493.2 253.14H512.2M493.2 250.99H512.2M493.2 248.83H512.2M493.2 246.67H512.2M493.2 244.51H512.2M493.2 242.35H512.2M493.2 240.19H512.2M493.2 238.03H512.2M493.2 235.87H512.2M493.2 233.72H512.2M493.2 231.56H512.2M493.2 229.40H512.2M493.2 227.24H512.2M493.2 225.08H512.2M493.2 222.92H512.2M493.2 220.76H512.2M493.2 218.60H512.2M493.2 216.45H512.2M493.2 214.29H512.2M493.2 212.13H512.2M493.2 209.97H512.2M493.2 207.81H512.2M493.2 205.65H512.2M493.2 203.49H512.2M493.2 201.33H512.2M493.2 199.18H512.2M493.2 197.02H512.2M493.2 194.86H512.2M493.2 192.70H512.2M493.2 190.54H512.2M493.2 188.38H512.2M493.2 186.22H512.2M493.2 184.06H512.2M493.2 181.91H512.2M493.2 179.75H512.2M493.2 177.59H512.2M493.2 175.43H512.2M493.2 173.27H512.2M493.2 171.11H512.2M493.2 168.95H512.2M493.2 166.79H512.2M493.2 164.64H512.2M493.2 162.48H512.2M493.2 160.32H512.2M493.2 158.16H512.2M493.2 156.00H512.2M493.2 153.84H512.2M493.2 151.68H512.2M493.2 149.52H512.2M493.2 147.37H512.2M493.2 145.21H512.2M493.2 143.05H512.2M493.2 140.89H512.2M493.2 138.73H512.2M493.2 136.57H512.2M493.2 134.41H512.2M493.2 132.25H512.2M493.2 130.10H512.2M493.2 127.94H512.2M493.2 125.78H512.2M493.2 123.62H512.2M493.2 121.46H512.2M493.2 119.30H512.2M493.2 117.14H512.2M493.2 114.99H512.2M493.2 112.83H512.2M493.2 110.67H512.2M493.2 108.51H512.2M493.2 106.35H512.2M493.2 104.19H512.2M493.2 102.03H512.2M493.2 99.87H512.2M493.2 97.71H512.2M493.2 95.56H512.2M493.2 93.40H512.2M493.2 91.24H512.2M493.2 89.08H512.2M493.2 86.92H512.2M493.2 84.76H512.2M493.2 82.60H512.2M493.2 80.44H512.2M493.2 78.29H512.2M493.2 76.13H512.2M493.2 73.97H512.2M493.2 71.81H512.2M493.2 69.65H512.2M493.2 67.49H512.2M493.2 65.33H512.2M493.2 63.17H512.2M493.2 61.02H512.2M493.2 58.86H512.2M493.2 56.70H512.2M493.2 54.54H512.2M493.2 52.38H512.2M493.2 50.22H512.2M493.2 48.06H512.2M493.2 45.90H512.2M493.2 43.75H512.2M493.2 41.59H512.2M493.2 39.43H512.2M493.2 37.27H512.2M493.2 35.11H512.2M493.2 32.95H512.2M493.2 30.79H512.2M493.2 28.63H512.2M493.2 26.48H512.2M493.2 24.32H512.2M493.2 22.16H512.2" stroke="#fff" stroke-opacity="0.16" stroke-width="0.8" fill="none"/>
<g stroke="#000" stroke-width="1.9" fill="none" stroke-linecap="butt">
<rect x="493.2" y="20.0" width="19.0" height="345.4"/>
<path stroke-width="1.6" d="M493.2 316.1h5M512.2 316.1h-5"/>
<path stroke-width="1.6" d="M493.2 266.7h5M512.2 266.7h-5"/>
<path stroke-width="1.6" d="M493.2 217.4h5M512.2 217.4h-5"/>
<path stroke-width="1.6" d="M493.2 168.0h5M512.2 168.0h-5"/>
<path stroke-width="1.6" d="M493.2 118.7h5M512.2 118.7h-5"/>
<path stroke-width="1.6" d="M493.2 69.3h5M512.2 69.3h-5"/>
</g>
<g opacity="0.999">
<text x="91.1" y="25.9" text-anchor="end">0.5</text>
<text x="91.1" y="95.0" text-anchor="end">0</text>
<text x="91.1" y="164.1" text-anchor="end">-0.5</text>
<text x="91.1" y="233.1" text-anchor="end">-1</text>
<text x="91.1" y="302.2" text-anchor="end">-1.5</text>
<text x="91.1" y="371.3" text-anchor="end">-2</text>
<text x="104.0" y="387.8" text-anchor="middle">0</text>
<text x="154.9" y="387.8" text-anchor="middle">2</text>
<text x="205.8" y="387.8" text-anchor="middle">4</text>
<text x="256.7" y="387.8" text-anchor="middle">6</text>
<text x="307.6" y="387.8" text-anchor="middle">8</text>
<text x="358.5" y="387.8" text-anchor="middle">10</text>
<text x="409.4" y="387.8" text-anchor="middle">12</text>
<text x="460.3" y="387.8" text-anchor="middle">14</text>
<text x="527.8" y="371.2">0</text>
<text x="527.8" y="321.9">2</text>
<text x="527.8" y="272.5">4</text>
<text x="527.8" y="223.2">6</text>
<text x="527.8" y="173.8">8</text>
<text x="527.8" y="124.5">10</text>
<text x="527.8" y="75.1">12</text>
<text x="527.8" y="25.8">14</text>
<text x="292.9" y="412.6" text-anchor="middle">R/kpc</text>
<text transform="translate(38.8 192.4) rotate(-90)" text-anchor="middle">[Fe/H]</text>
</g>
</svg></body></html>
